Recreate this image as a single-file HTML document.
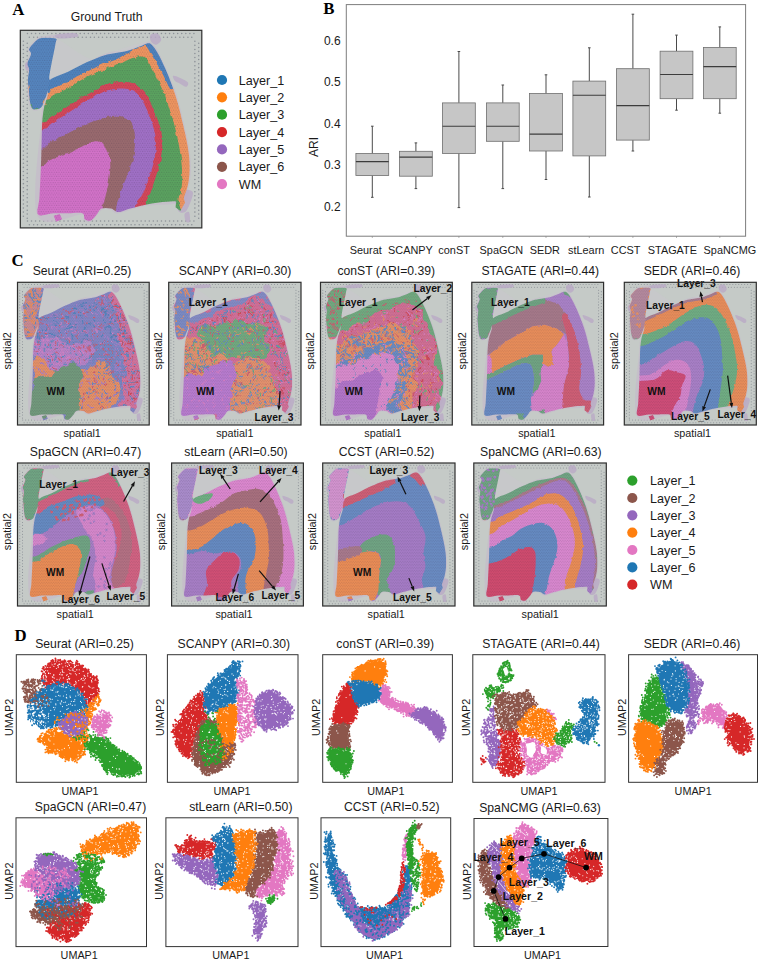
<!DOCTYPE html>
<html><head><meta charset="utf-8"><title>Figure</title>
<style>
html,body{margin:0;padding:0;background:#fff;}
body{width:760px;height:962px;overflow:hidden;font-family:"Liberation Sans",sans-serif;}
svg{display:block;font-family:"Liberation Sans",sans-serif;}
svg text[font-weight="bold"]{font-weight:bold;}
.serif{font-family:"Liberation Serif",serif;}
</style></head><body>
<svg width="760" height="962" viewBox="0 0 760 962">
<defs>
<clipPath id="tis"><path d="M122 210C136.2 193.8 173.7 185.8 200 173C226.3 160.2 255 144.3 280 133C305 121.7 330 111.3 350 105C370 98.7 383.3 98.2 400 95C416.7 91.8 433.3 90.5 450 86C466.7 81.5 486.7 73.2 500 68C513.3 62.8 521.7 56.3 530 55C538.3 53.7 542.5 53.3 550 60C557.5 66.7 565.5 78.3 575 95C584.5 111.7 597 137.5 607 160C617 182.5 626.5 206.7 635 230C643.5 253.3 650.8 275 658 300C665.2 325 672 355 678 380C684 405 689.3 426.7 694 450C698.7 473.3 703.5 496.7 706 520C708.5 543.3 709.8 568.3 709 590C708.2 611.7 704.5 633.3 701 650C697.5 666.7 691.8 679.2 688 690C684.2 700.8 686 710.8 678 715C670 719.2 656.3 714.2 640 715C623.7 715.8 600 717.5 580 720C560 722.5 540 725.8 520 730C500 734.2 478.3 740 460 745C441.7 750 423.3 760 410 760C396.7 760 391.7 747.5 380 745C368.3 742.5 350 740.8 340 745C330 749.2 327.5 761.7 320 770C312.5 778.3 303.3 791.7 295 795C286.7 798.3 275.8 795 270 790C264.2 785 271.7 769.2 260 765C248.3 760.8 220 765 200 765C180 765 160.8 764.2 140 765C119.2 765.8 85 780.8 75 770C65 759.2 78.3 728.3 80 700C81.7 671.7 83.7 630 85 600C86.3 570 87.2 546.7 88 520C88.8 493.3 89.3 463.3 90 440C90.7 416.7 90.3 400 92 380C93.7 360 96.2 338.3 100 320C103.8 301.7 111.3 288.3 115 270C118.7 251.7 107.8 226.2 122 210Z"/><path d="M74 37C81.5 32.8 86.7 31.5 99 31C111.3 30.5 139.8 30.5 148 34C156.2 37.5 149.5 41.2 148 52C146.5 62.8 142.2 83 139 99C135.8 115 132 131.5 129 148C126 164.5 121.5 187.3 121 198C120.5 208.7 126.3 207.3 126 212C125.7 216.7 121 218.3 119 226C117 233.7 117.2 246.2 114 258C110.8 269.8 104.3 286.3 100 297C95.7 307.7 93.2 316.5 88 322C82.8 327.5 75.3 329.2 69 330C62.7 330.8 54.8 332.5 50 327C45.2 321.5 42.5 310.3 40 297C37.5 283.7 36.3 261.8 35 247C33.7 232.2 31.7 222 32 208C32.3 194 37.3 174.5 37 163C36.7 151.5 28.7 149.7 30 139C31.3 128.3 43.8 109 45 99C46.2 89 35.5 86.2 37 79C38.5 71.8 47.8 63 54 56C60.2 49 66.5 41.2 74 37Z"/><path d="M140 775 165 768 175 790 150 800Z"/><path d="M655 700 680 690 690 720 670 755 650 740Z"/></clipPath>
<filter id="soft" x="0" y="0" width="100%" height="100%" filterUnits="userSpaceOnUse" primitiveUnits="userSpaceOnUse"><feGaussianBlur stdDeviation="2.2"/></filter>
<filter id="rough" x="0" y="0" width="760" height="826" filterUnits="userSpaceOnUse" primitiveUnits="userSpaceOnUse"><feTurbulence type="fractalNoise" baseFrequency="0.045" numOctaves="2" seed="3" result="n"/><feDisplacementMap in="SourceGraphic" in2="n" scale="16" xChannelSelector="R" yChannelSelector="G"/></filter>
<filter id="rough2" x="0" y="0" width="760" height="826" filterUnits="userSpaceOnUse" primitiveUnits="userSpaceOnUse"><feTurbulence type="fractalNoise" baseFrequency="0.014" numOctaves="3" seed="8" result="n"/><feDisplacementMap in="SourceGraphic" in2="n" scale="70" xChannelSelector="R" yChannelSelector="G"/></filter>
<clipPath id="fr"><rect x="0" y="0" width="760" height="826"/></clipPath>
<g id="he"><path d="M95.2 318.6C98 326.1 90.8 303.9 87 379.8C83.2 455.8 43.9 709.1 72.2 774.2C100.5 839.2 224.2 766.7 256.6 770C289 773.3 260.3 788.8 266.8 793.8C273.3 798.8 282.9 807.3 295.5 800C308.1 792.7 328.5 758.3 342.4 750C356.3 741.7 367.5 747.5 378.8 750C390.2 752.5 386.8 767.5 410.5 765C434.2 762.5 475.7 742.8 521 734.9C566.3 727 651.4 731.7 682.2 717.7C713 703.8 700.6 672.4 705.9 651.1C711.2 629.9 713.2 612.2 714 590.2C714.8 568.2 713.4 542.7 710.9 519.2C708.4 495.6 706.9 485.9 698.9 449.2C690.9 412.4 672.7 335.6 662.9 298.8C653 262 653.5 262.5 639.6 228.1C625.7 193.8 594 121.5 579.5 92.8C565 64.1 561 62.8 552.6 55.7C544.2 48.6 546.2 45.9 528.9 50.1C511.6 54.4 478.8 72.8 448.7 81.2C418.6 89.5 402.1 80.1 348.6 100.2C295.1 120.3 160.3 213.1 127.7 201.8C95 190.5 157.6 61.8 152.8 32.5C148 3.2 112.4 26 98.8 26C85.2 26 82.5 24.1 71.4 32.7C60.3 41.4 37.4 66.8 32.1 77.9C26.8 88.9 40.8 88.9 39.6 99.1C38.5 109.2 26.3 127.9 25 138.6C23.7 149.3 31.1 145.3 31.9 163.4C32.8 181.6 29.5 224.9 30 247.4C30.5 269.8 32.4 284.2 35.1 298C37.8 311.9 40.4 324.2 46.2 330.3C52.1 336.4 61.9 336.8 70.1 334.9C78.2 332.9 92.4 311.1 95.2 318.6Z" fill="#c5bacb" opacity="0.7"/><path d="M640 190C644 188 661.7 195.3 672 200C682.3 204.7 698.3 212 702 218C705.7 224 699.7 235.3 694 236C688.3 236.7 675.7 226 668 222C660.3 218 652.7 217.3 648 212C643.3 206.7 636 192 640 190Z" fill="#b9a9c6" opacity="0.8"/><path d="M648 690C653 676 677.7 670.3 690 668C702.3 665.7 718.3 667.3 722 676C725.7 684.7 717.3 706 712 720C706.7 734 698.7 754.7 690 760C681.3 765.3 667 763.7 660 752C653 740.3 643 704 648 690Z" fill="#b9a9c6" opacity="0.8"/><path d="M688 768C690 761.3 702.3 755 706 760C709.7 765 712 791.3 710 798C708 804.7 697.7 805 694 800C690.3 795 686 774.7 688 768Z" fill="#b9a9c6" opacity="0.8"/><path d="M545 20C549.5 14.3 567.5 10.7 575 14C582.5 17.3 590.8 32.3 590 40C589.2 47.7 577 58.7 570 60C563 61.3 552.2 54.7 548 48C543.8 41.3 540.5 25.7 545 20Z" fill="#b9a9c6" opacity="0.8"/><path d="M20 140C22.3 133.3 35.7 124.7 40 128C44.3 131.3 48.3 153.3 46 160C43.7 166.7 30.3 171.3 26 168C21.7 164.7 17.7 146.7 20 140Z" fill="#b9a9c6" opacity="0.8"/><path d="M150 18C161.7 14.3 215.7 10.3 230 12C244.3 13.7 247.7 24.3 236 28C224.3 31.7 174.3 35.7 160 34C145.7 32.3 138.3 21.7 150 18Z" fill="#b9a9c6" opacity="0.8"/><path d="M130 60C135 30.8 131.7 30 160 40C188.3 50 256.7 113.7 300 120C343.3 126.3 383.3 89.7 420 78C456.7 66.3 501.7 52.7 520 50C538.3 47.3 543.3 55 530 62C516.7 69 506.7 66.5 440 92C373.3 117.5 181.7 220.3 130 215C78.3 209.7 125 89.2 130 60Z" fill="#c9c6cc" opacity="0.55"/></g>
<pattern id="spots" width="10" height="17.32" patternUnits="userSpaceOnUse"><circle cx="2.5" cy="4.33" r="2.6" fill="#30203a"/><circle cx="7.5" cy="12.99" r="2.6" fill="#30203a"/></pattern>
<path id="fid" d="M30 13h0m8 16h0m9-16h0m9 16h0m8-16h0m8 16h0m9-16h0m9 16h0m8-16h0m8 16h0m9-16h0m9 16h0m8-16h0m8 16h0m9-16h0m9 16h0m8-16h0m8 16h0m9-16h0m9 16h0m8-16h0m8 16h0m9-16h0m9 16h0m8-16h0m8 16h0m9-16h0m9 16h0m8-16h0m8 16h0m9-16h0m9 16h0m8-16h0m8 16h0m9-16h0m9 16h0m8-16h0m8 16h0m9-16h0m9 16h0m8-16h0m8 16h0m9-16h0m9 16h0m8-16h0m8 16h0m9-16h0m9 16h0m8-16h0m8 16h0m9-16h0m9 16h0m8-16h0m8 16h0m9-16h0m9 16h0m8-16h0m8 16h0m9-16h0m9 16h0m8-16h0m8 16h0m9-16h0m9 16h0m8-16h0m8 16h0m9-16h0m9 16h0m8-16h0m8 16h0m9-16h0m9 16h0m8-16h0m8 16h0m9-16h0m9 16h0m8-16h0m8 16h0m9-16h0m9 16h0m8-16h0m8 16h0m9-16h0m20 41h0m-16-8h0m-702 8h0m-16-8h0m0 17h0m0 17h0m16-8h0m0 16h0m702-25h0m0 17h0m16-8h0m0 16h0m0 18h0m-16-9h0m0 17h0m-702-8h0m-16-9h0m0 17h0m0 17h0m0 17h0m16-26h0m0 18h0m702-9h0m0 17h0m16-26h0m0 18h0m0 16h0m0 18h0m-16-9h0m-702-9h0m0 18h0m-16-9h0m0 17h0m0 17h0m16-9h0m0 18h0m702-26h0m0 17h0m16-9h0m0 18h0m0 16h0m-16-8h0m0 17h0m-702-9h0m-16-8h0m0 17h0m0 17h0m0 17h0m16-25h0m0 16h0m702-8h0m0 17h0m16-25h0m0 16h0m0 18h0m0 16h0m-16-8h0m-702-8h0m0 16h0m-16-8h0m0 17h0m0 17h0m16-8h0m0 16h0m702-25h0m0 17h0m16-8h0m0 16h0m0 18h0m-16-9h0m0 17h0m-702-8h0m-16-9h0m0 17h0m0 17h0m0 17h0m16-26h0m0 18h0m702-9h0m0 17h0m16-26h0m0 18h0m0 16h0m0 18h0m-16-9h0m-702-9h0m0 18h0m-16-9h0m0 17h0m0 17h0m16-9h0m0 18h0m702-26h0m0 17h0m16-9h0m0 18h0m0 16h0m-16-8h0m0 17h0m-702-9h0m-16-8h0m0 17h0m0 17h0m0 17h0m16-25h0m0 16h0m702-8h0m0 17h0m16-25h0m0 16h0m0 18h0m0 16h0m-16-8h0m0 17h0m-702-25h0m0 16h0m-16-8h0m0 17h0m0 17h0m16-8h0m0 16h0m702-8h0m16-8h0m0 16h0m0 18h0m0 16h0m-16-25h0m0 17h0m-702-8h0m0 16h0m-16-25h0m0 17h0m0 17h0m0 17h0m16-8h0m702-9h0m0 17h0m16-8h0m0 16h0m0 18h0m-16-9h0m0 17h0m-702-26h0m0 18h0m-16-9h0m0 17h0m0 17h0m16-9h0m0 18h0m702-9h0m16-9h0m0 18h0m0 16h0m0 18h0m-16-26h0m0 17h0m-702-9h0m0 18h0m-16-26h0m0 17h0m0 17h0m0 17h0m16-9h0m702-8h0m0 17h0m16-9h0m0 18h0m0 16h0m-16-8h0m0 17h0m-702-25h0m0 16h0m-16-8h0m0 17h0m16 9h0m1 11h0m17 0h0m17 0h0m17 0h0m17 0h0m17 0h0m17 0h0m17 0h0m17 0h0m17 0h0m17 0h0m17 0h0m17 0h0m17 0h0m17 0h0m17 0h0m17 0h0m17 0h0m17 0h0m17 0h0m17 0h0m17 0h0m17 0h0m17 0h0m17 0h0m17 0h0m17 0h0m17 0h0m17 0h0m17 0h0m17 0h0m17 0h0m17 0h0m17 0h0m17 0h0m17 0h0m17 0h0m17 0h0m17 0h0m17 0h0m17 0h0m17 0h0m20-11h0m-29 27h0m-16 0h0m-18 0h0m-16 0h0m-18 0h0m-16 0h0m-18 0h0m-16 0h0m-18 0h0m-16 0h0m-18 0h0m-16 0h0m-18 0h0m-16 0h0m-18 0h0m-16 0h0m-18 0h0m-16 0h0m-18 0h0m-16 0h0m-18 0h0m-16 0h0m-18 0h0m-16 0h0m-18 0h0m-16 0h0m-18 0h0m-16 0h0m-18 0h0m-16 0h0m-18 0h0m-16 0h0m-18 0h0m-16 0h0m-18 0h0m-16 0h0m-18 0h0m-16 0h0m-18 0h0m-16 0h0m-18 0h0" stroke="#8d9298" stroke-width="6.5" stroke-linecap="round" fill="none"/>
</defs>
<rect width="760" height="962" fill="#fff"/>
<text x="12.3" y="14.6" font-size="16.8" text-anchor="start" font-weight="bold" font-family="Liberation Serif, serif" fill="#000" >A</text>
<text x="323.2" y="13.8" font-size="16.8" text-anchor="start" font-weight="bold" font-family="Liberation Serif, serif" fill="#000" >B</text>
<text x="11.6" y="266.4" font-size="16.8" text-anchor="start" font-weight="bold" font-family="Liberation Serif, serif" fill="#000" >C</text>
<text x="14.5" y="640.6" font-size="16.8" text-anchor="start" font-weight="bold" font-family="Liberation Serif, serif" fill="#000" >D</text>
<text x="106.6" y="21.2" font-size="12.2" text-anchor="middle" fill="#1a1a1a" >Ground Truth</text>
<g transform="translate(20.3 30.3) scale(0.23882 0.23923)">
<rect width="760" height="826" fill="#c5cac7"/>
<use href="#fid"/>
<use href="#he"/>
<g clip-path="url(#tis)">
<g filter="url(#rough)">
<rect x="-100" y="-100" width="960" height="1026" fill="#4f83bd"/>
<rect width="760" height="826" fill="#4f83bd"/>
<path d="M110 262C140.7 259.5 117.7 251 124 247C130.3 243 135.7 243.7 148 238C160.3 232.3 176.5 223.8 198 213C219.5 202.2 252.3 184.7 277 173C301.7 161.3 325.5 151.5 346 143C366.5 134.5 384.3 129.2 400 122C415.7 114.8 428.3 106.3 440 100C451.7 93.7 460 88.7 470 84C480 79.3 490.8 75 500 72C509.2 69 517.5 62.2 525 66C532.5 69.8 537.8 84 545 95C552.2 106 558.8 116.2 568 132C577.2 147.8 590.5 172 600 190C609.5 208 617.5 230.8 625 240C632.5 249.2 605.8 244.2 645 245C684.2 245.8 824.2 135.8 860 245C895.8 354.2 1013.3 790.8 860 900C706.7 1009.2 93.3 1006.3 -60 900C-213.3 793.7 -88.3 368.3 -60 262C-31.7 155.7 79.3 264.5 110 262Z" fill="#ee9560"/>
<path d="M100 312C127.7 309.5 99.5 304 106 297C112.5 290 123.7 279 139 270C154.3 261 175 255.5 198 243C221 230.5 252.3 207.8 277 195C301.7 182.2 329.5 173 346 166C362.5 159 363.7 157.7 376 153C388.3 148.3 404.3 144.2 420 138C435.7 131.8 455.3 120.7 470 116C484.7 111.3 498 108.7 508 110C518 111.3 522.5 115.2 530 124C537.5 132.8 544.3 147 553 163C561.7 179 573 201.3 582 220C591 238.7 599 254.2 607 275C615 295.8 622.8 321.7 630 345C637.2 368.3 644.2 391.7 650 415C655.8 438.3 660.8 461.7 665 485C669.2 508.3 672.8 531.7 675 555C677.2 578.3 678.5 604.2 678 625C677.5 645.8 674.7 665 672 680C669.3 695 663.7 678.3 662 715C660.3 751.7 782.3 869.2 662 900C541.7 930.8 60.3 998 -60 900C-180.3 802 -86.7 410 -60 312C-33.3 214 72.3 314.5 100 312Z" fill="#5aa25f"/>
<path d="M90 385C121.7 380.8 111.7 371.3 130 360C148.3 348.7 178.3 330.3 200 317C221.7 303.7 240 291.7 260 280C280 268.3 301.7 256.2 320 247C338.3 237.8 351.7 230.3 370 225C388.3 219.7 411.7 215 430 215C448.3 215 465.8 218.3 480 225C494.2 231.7 504.2 242.5 515 255C525.8 267.5 535.8 282.5 545 300C554.2 317.5 562.5 340 570 360C577.5 380 585.8 400 590 420C594.2 440 595.8 458.3 595 480C594.2 501.7 590 526.7 585 550C580 573.3 571.7 598.3 565 620C558.3 641.7 551.7 662.5 545 680C538.3 697.5 528.3 688.3 525 725C521.7 761.7 622.5 870.8 525 900C427.5 929.2 37.5 985.8 -60 900C-157.5 814.2 -85 470.8 -60 385C-35 299.2 58.3 389.2 90 385Z" fill="#d4475a"/>
<path d="M92 414C123.7 410 112 401.3 130 390C148 378.7 178.3 360 200 346C221.7 332 240 318.3 260 306C280 293.7 301.7 281.3 320 272C338.3 262.7 351.7 254.8 370 250C388.3 245.2 412.8 242.5 430 243C447.2 243.5 461.2 247 473 253C484.8 259 492.2 267.3 501 279C509.8 290.7 517.8 305.8 526 323C534.2 340.2 543.5 362.3 550 382C556.5 401.7 562.2 421.3 565 441C567.8 460.7 568.3 480.3 567 500C565.7 519.7 562.3 537.7 557 559C551.7 580.3 542.8 606.5 535 628C527.2 649.5 518.3 670.2 510 688C501.7 705.8 489.2 699.7 485 735C480.8 770.3 575.8 872.5 485 900C394.2 927.5 30.8 981 -60 900C-150.8 819 -85.3 495 -60 414C-34.7 333 60.3 418 92 414Z" fill="#a06fc6"/>
<path d="M88 495C119.7 490 111.3 475.8 130 465C148.7 454.2 178.3 440.8 200 430C221.7 419.2 240 409.2 260 400C280 390.8 301.7 381.7 320 375C338.3 368.3 353.3 362.8 370 360C386.7 357.2 405.8 355.5 420 358C434.2 360.5 445.8 366.3 455 375C464.2 383.7 470.8 395.8 475 410C479.2 424.2 480 441.7 480 460C480 478.3 479.2 498.3 475 520C470.8 541.7 462.5 568.3 455 590C447.5 611.7 437.5 630 430 650C422.5 670 415 691.7 410 710C405 728.3 401.7 728.3 400 760C398.3 791.7 476.7 876.7 400 900C323.3 923.3 16.7 967.5 -60 900C-136.7 832.5 -84.7 562.5 -60 495C-35.3 427.5 56.3 500 88 495Z" fill="#996a6e"/>
<path d="M85 565C115 561.7 104.2 552.5 120 545C135.8 537.5 160 528.3 180 520C200 511.7 221.7 503.3 240 495C258.3 486.7 275 475 290 470C305 465 319.2 461.7 330 465C340.8 468.3 347.5 477.5 355 490C362.5 502.5 371.7 521.7 375 540C378.3 558.3 376.7 580 375 600C373.3 620 369.2 640 365 660C360.8 680 353.3 705.8 350 720C346.7 734.2 345.8 715 345 745C344.2 775 412.5 874.2 345 900C277.5 925.8 7.5 955.8 -60 900C-127.5 844.2 -84.2 620.8 -60 565C-35.8 509.2 55 568.3 85 565Z" fill="#d272c8"/>
<path d="M74 37C81.5 32.8 86.7 31.5 99 31C111.3 30.5 139.8 30.5 148 34C156.2 37.5 149.5 41.2 148 52C146.5 62.8 142.2 83 139 99C135.8 115 132 131.5 129 148C126 164.5 121.5 187.3 121 198C120.5 208.7 126.3 207.3 126 212C125.7 216.7 121 218.3 119 226C117 233.7 117.2 246.2 114 258C110.8 269.8 104.3 286.3 100 297C95.7 307.7 93.2 316.5 88 322C82.8 327.5 75.3 329.2 69 330C62.7 330.8 54.8 332.5 50 327C45.2 321.5 42.5 310.3 40 297C37.5 283.7 36.3 261.8 35 247C33.7 232.2 31.7 222 32 208C32.3 194 37.3 174.5 37 163C36.7 151.5 28.7 149.7 30 139C31.3 128.3 43.8 109 45 99C46.2 89 35.5 86.2 37 79C38.5 71.8 47.8 63 54 56C60.2 49 66.5 41.2 74 37Z" fill="#5585be"/>
</g>
<rect width="760" height="826" fill="url(#spots)" opacity="0.22"/>
</g>
</g>
<rect x="20.3" y="30.3" width="181.5" height="197.6" fill="none" stroke="#2e2e2e" stroke-width="1.2"/>
<circle cx="222" cy="80" r="5.1" fill="#1f77b4"/>
<text x="238.8" y="84.5" font-size="12.6" text-anchor="start" fill="#1a1a1a" >Layer_1</text>
<circle cx="222" cy="97.3" r="5.1" fill="#ff7f0e"/>
<text x="238.8" y="101.8" font-size="12.6" text-anchor="start" fill="#1a1a1a" >Layer_2</text>
<circle cx="222" cy="114.7" r="5.1" fill="#2ca02c"/>
<text x="238.8" y="119.2" font-size="12.6" text-anchor="start" fill="#1a1a1a" >Layer_3</text>
<circle cx="222" cy="132.1" r="5.1" fill="#d62728"/>
<text x="238.8" y="136.6" font-size="12.6" text-anchor="start" fill="#1a1a1a" >Layer_4</text>
<circle cx="222" cy="149.4" r="5.1" fill="#9467bd"/>
<text x="238.8" y="153.9" font-size="12.6" text-anchor="start" fill="#1a1a1a" >Layer_5</text>
<circle cx="222" cy="166.8" r="5.1" fill="#8c564b"/>
<text x="238.8" y="171.2" font-size="12.6" text-anchor="start" fill="#1a1a1a" >Layer_6</text>
<circle cx="222" cy="184.1" r="5.1" fill="#e377c2"/>
<text x="238.8" y="188.6" font-size="12.6" text-anchor="start" fill="#1a1a1a" >WM</text>
<rect x="346.3" y="4.6" width="399.3" height="231.6" fill="#fff" stroke="#7d7d7d" stroke-width="1"/>
<text x="340.6" y="210.7" font-size="12" text-anchor="end" fill="#1a1a1a" >0.2</text>
<text x="340.6" y="169.2" font-size="12" text-anchor="end" fill="#1a1a1a" >0.3</text>
<text x="340.6" y="127.8" font-size="12" text-anchor="end" fill="#1a1a1a" >0.4</text>
<text x="340.6" y="86.3" font-size="12" text-anchor="end" fill="#1a1a1a" >0.5</text>
<text x="340.6" y="44.9" font-size="12" text-anchor="end" fill="#1a1a1a" >0.6</text>
<text x="317.6" y="147" font-size="12" text-anchor="middle" transform="rotate(-90 317.6 147)" fill="#1a1a1a" >ARI</text>
<path d="M372.3 126.2V153.5M372.3 175.5V197.3M371 126.2h2.6M371 197.3h2.6" stroke="#4a4a4a" stroke-width="1" fill="none"/>
<rect x="355.9" y="153.5" width="32.8" height="22" fill="#c6c6c6" stroke="#6e6e6e" stroke-width="0.8"/>
<path d="M355.9 161.6h32.8" stroke="#3c3c3c" stroke-width="1.1"/>
<path d="M372.3 236.2v1.6" stroke="#8a8a8a" stroke-width="0.8"/>
<path d="M415.9 142.9V151.3M415.9 176.2V188.6M414.6 142.9h2.6M414.6 188.6h2.6" stroke="#4a4a4a" stroke-width="1" fill="none"/>
<rect x="399.5" y="151.3" width="32.8" height="24.9" fill="#c6c6c6" stroke="#6e6e6e" stroke-width="0.8"/>
<path d="M399.5 157.1h32.8" stroke="#3c3c3c" stroke-width="1.1"/>
<path d="M415.9 236.2v1.6" stroke="#8a8a8a" stroke-width="0.8"/>
<path d="M458.9 51.5V102.9M458.9 153.5V207.6M457.6 51.5h2.6M457.6 207.6h2.6" stroke="#4a4a4a" stroke-width="1" fill="none"/>
<rect x="442.5" y="102.9" width="32.8" height="50.6" fill="#c6c6c6" stroke="#6e6e6e" stroke-width="0.8"/>
<path d="M442.5 126.2h32.8" stroke="#3c3c3c" stroke-width="1.1"/>
<path d="M458.9 236.2v1.6" stroke="#8a8a8a" stroke-width="0.8"/>
<path d="M502.8 85V102.9M502.8 141.3V188.6M501.5 85h2.6M501.5 188.6h2.6" stroke="#4a4a4a" stroke-width="1" fill="none"/>
<rect x="486.4" y="102.9" width="32.8" height="38.4" fill="#c6c6c6" stroke="#6e6e6e" stroke-width="0.8"/>
<path d="M486.4 126.2h32.8" stroke="#3c3c3c" stroke-width="1.1"/>
<path d="M502.8 236.2v1.6" stroke="#8a8a8a" stroke-width="0.8"/>
<path d="M546 74.8V93.5M546 151V179.5M544.7 74.8h2.6M544.7 179.5h2.6" stroke="#4a4a4a" stroke-width="1" fill="none"/>
<rect x="529.6" y="93.5" width="32.8" height="57.5" fill="#c6c6c6" stroke="#6e6e6e" stroke-width="0.8"/>
<path d="M529.6 134.1h32.8" stroke="#3c3c3c" stroke-width="1.1"/>
<path d="M546 236.2v1.6" stroke="#8a8a8a" stroke-width="0.8"/>
<path d="M589.3 47.8V81.1M589.3 155.9V197M588 47.8h2.6M588 197h2.6" stroke="#4a4a4a" stroke-width="1" fill="none"/>
<rect x="572.9" y="81.1" width="32.8" height="74.8" fill="#c6c6c6" stroke="#6e6e6e" stroke-width="0.8"/>
<path d="M572.9 95.3h32.8" stroke="#3c3c3c" stroke-width="1.1"/>
<path d="M589.3 236.2v1.6" stroke="#8a8a8a" stroke-width="0.8"/>
<path d="M632.9 14.2V68.7M632.9 140.1V151M631.6 14.2h2.6M631.6 151h2.6" stroke="#4a4a4a" stroke-width="1" fill="none"/>
<rect x="616.5" y="68.7" width="32.8" height="71.4" fill="#c6c6c6" stroke="#6e6e6e" stroke-width="0.8"/>
<path d="M616.5 105.6h32.8" stroke="#3c3c3c" stroke-width="1.1"/>
<path d="M632.9 236.2v1.6" stroke="#8a8a8a" stroke-width="0.8"/>
<path d="M676.5 35.1V51.2M676.5 98.7V110.2M675.2 35.1h2.6M675.2 110.2h2.6" stroke="#4a4a4a" stroke-width="1" fill="none"/>
<rect x="660.1" y="51.2" width="32.8" height="47.5" fill="#c6c6c6" stroke="#6e6e6e" stroke-width="0.8"/>
<path d="M660.1 74.5h32.8" stroke="#3c3c3c" stroke-width="1.1"/>
<path d="M676.5 236.2v1.6" stroke="#8a8a8a" stroke-width="0.8"/>
<path d="M719.8 26.9V47.5M719.8 98.7V113.2M718.5 26.9h2.6M718.5 113.2h2.6" stroke="#4a4a4a" stroke-width="1" fill="none"/>
<rect x="703.4" y="47.5" width="32.8" height="51.2" fill="#c6c6c6" stroke="#6e6e6e" stroke-width="0.8"/>
<path d="M703.4 66.6h32.8" stroke="#3c3c3c" stroke-width="1.1"/>
<path d="M719.8 236.2v1.6" stroke="#8a8a8a" stroke-width="0.8"/>
<text x="365.7" y="253.8" font-size="10.9" text-anchor="middle" fill="#1a1a1a" >Seurat</text>
<text x="410.4" y="253.8" font-size="10.9" text-anchor="middle" fill="#1a1a1a" >SCANPY</text>
<text x="454.1" y="253.8" font-size="10.9" text-anchor="middle" fill="#1a1a1a" >conST</text>
<text x="501.4" y="253.8" font-size="10.9" text-anchor="middle" fill="#1a1a1a" >SpaGCN</text>
<text x="544.8" y="253.8" font-size="10.9" text-anchor="middle" fill="#1a1a1a" >SEDR</text>
<text x="586.2" y="253.8" font-size="10.9" text-anchor="middle" fill="#1a1a1a" >stLearn</text>
<text x="625.7" y="253.8" font-size="10.9" text-anchor="middle" fill="#1a1a1a" >CCST</text>
<text x="672.4" y="253.8" font-size="10.9" text-anchor="middle" fill="#1a1a1a" >STAGATE</text>
<text x="729.9" y="253.8" font-size="10.9" text-anchor="middle" fill="#1a1a1a" >SpaNCMG</text>
<text x="82" y="275.4" font-size="12.2" text-anchor="middle" fill="#1a1a1a" >Seurat (ARI=0.25)</text>
<g transform="translate(17.5 282.3) scale(0.17329 0.17276)">
<rect width="760" height="826" fill="#c5cac7"/>
<use href="#fid"/>
<use href="#he"/>
<g clip-path="url(#tis)">
<g filter="url(#rough2)">
<rect x="-100" y="-100" width="960" height="1026" fill="#8487c5"/>
<rect width="760" height="826" fill="#8487c5"/>
<path d="M95 330C112.5 310 165.8 325 200 330C234.2 335 263.3 357.5 300 360C336.7 362.5 396.7 338.3 420 345C443.3 351.7 441.7 379.2 440 400C438.3 420.8 431.7 458.3 410 470C388.3 481.7 345 463.3 310 470C275 476.7 230 515 200 510C170 505 147.5 450 130 440C112.5 430 100.8 468.3 95 450C89.2 431.7 77.5 350 95 330Z" fill="#b784c8"/>
<path d="M540 50C531.7 65 561.7 135 570 180C578.3 225 583.3 275 590 320C596.7 365 605.8 410 610 450C614.2 490 616.7 526.7 615 560C613.3 593.3 605 622.5 600 650C595 677.5 563.3 712.5 585 725C606.7 737.5 705 762.5 730 725C755 687.5 740 570.8 735 500C730 429.2 719.2 368.3 700 300C680.8 231.7 646.7 131.7 620 90C593.3 48.3 548.3 35 540 50Z" fill="#d3749e"/>
<path d="M430 350C443.3 338.3 494.2 325 520 330C545.8 335 570.8 358.3 585 380C599.2 401.7 600.5 430 605 460C609.5 490 612.8 530 612 560C611.2 590 607 640 600 640C593 640 583.3 585 570 560C556.7 535 536.7 505 520 490C503.3 475 486.7 473.3 470 470C453.3 466.7 425 481.7 420 470C415 458.3 438.3 420 440 400C441.7 380 416.7 361.7 430 350Z" fill="#7988c4"/>
<path d="M95 570C96.5 545.8 91.2 471.7 97 450C102.8 428.3 117.8 435 130 440C142.2 445 158.3 467.5 170 480C181.7 492.5 206.7 504.2 200 515C193.3 525.8 148.7 531.7 130 545C111.3 558.3 93.8 590.8 88 595C82.2 599.2 93.5 594.2 95 570Z" fill="#e59168"/>
<path d="M370 520C380 502.5 401.7 503.7 420 495C438.3 486.3 461.7 467.2 480 468C498.3 468.8 515.8 484.7 530 500C544.2 515.3 555 539.2 565 560C575 580.8 590 601.7 590 625C590 648.3 580 681.7 565 700C550 718.3 524.2 725 500 735C475.8 745 445 757.5 420 760C395 762.5 360 776.7 350 750C340 723.3 356.7 638.3 360 600C363.3 561.7 360 537.5 370 520Z" fill="#e59168"/>
<path d="M74 37C81.5 32.8 86.7 31.5 99 31C111.3 30.5 139.8 30.5 148 34C156.2 37.5 149.5 41.2 148 52C146.5 62.8 142.2 83 139 99C135.8 115 132 131.5 129 148C126 164.5 121.5 187.3 121 198C120.5 208.7 126.3 207.3 126 212C125.7 216.7 121 218.3 119 226C117 233.7 117.2 246.2 114 258C110.8 269.8 104.3 286.3 100 297C95.7 307.7 93.2 316.5 88 322C82.8 327.5 75.3 329.2 69 330C62.7 330.8 54.8 332.5 50 327C45.2 321.5 42.5 310.3 40 297C37.5 283.7 36.3 261.8 35 247C33.7 232.2 31.7 222 32 208C32.3 194 37.3 174.5 37 163C36.7 151.5 28.7 149.7 30 139C31.3 128.3 43.8 109 45 99C46.2 89 35.5 86.2 37 79C38.5 71.8 47.8 63 54 56C60.2 49 66.5 41.2 74 37Z" fill="#cb8b93"/>
<g filter="url(#soft)">
<path d="M501 84h0m24-6h0m12-16h0m16 50h0m-11-6h0m-12 0h0m-34-14h0m-2 24h0m-8-26h0m-18 15h0m-15 0h0m-7 7h0m-33 22h0m64-10h0m6 12h0m8-12h0m17 8h0m5 5h0m18-6h0m45-8h0m-12 52h0m-41-14h0m-12-3h0m-18 17h0m-23-19h0m-12-1h0m-32 20h0m-1-14h0m-6 1h0m-14-4h0m-1 21h0m-9-9h0m-68 2h0m-3 3h0m-2-22h0m-7 21h0m-6-3h0m-2 6h0m-9-12h0m-16-13h0m-15 22h0m-24-16h0m-17 16h0m-16 1h0m-76 30h0m10-3h0m15 1h0m14-3h0m40-13h0m7 9h0m12-4h0m3 14h0m4-18h0m14 10h0m10-5h0m21 3h0m10 6h0m19-16h0m52-1h0m23 8h0m9-10h0m8 18h0m28-9h0m42 9h0m7-17h0m1 3h0m20-2h0m32 23h0m1-27h0m11 22h0m9-14h0m47 50h0m-26-29h0m0 7h0m-12 1h0m-2-1h0m-16 18h0m-206-22h0m-2-3h0m-8 0h0m-20 0h0m-22 18h0m-14-7h0m-9-10h0m-1 11h0m-16 17h0m-94 0h0m-16-22h0m-4 17h0m-17 16h0m46 10h0m3-10h0m11 19h0m8-14h0m38 5h0m17 9h0m74-14h0m13-14h0m68 1h0m16 6h0m20-7h0m22 22h0m2-21h0m16 22h0m12-14h0m5-7h0m3 22h0m9-12h0m29-2h0m6-3h0m86 4h0m4 19h0m-25 19h0m-1-16h0m-32 22h0m-80-2h0m-32-3h0m-25-9h0m-33 4h0m-9-4h0m-43 4h0m-4 13h0m-6-28h0m-5 14h0m-11 8h0m-25 1h0m-60-14h0m-2-7h0m-39 26h0m-6-23h0m-10 21h0m-7-2h0m-5-14h0m-47 13h0m-1 5h0m-7 3h0m10 27h0m4-26h0m4 15h0m5-18h0m13 16h0m67 3h0m2 3h0m24 5h0m11-1h0m2-15h0m19-10h0m1 14h0m26 14h0m40-16h0m41 13h0m24 0h0m27-4h0m4-20h0m4 2h0m69 25h0m54-5h0m8-15h0m8-5h0m29 23h0m6 9h0m0 4h0m-143 1h0m-52-11h0m-4 4h0m-14 5h0m-5 1h0m-11-7h0m-38-3h0m-62 2h0" stroke="#cf5c71" stroke-width="9" stroke-linecap="round" fill="none"/>
<path d="M509 86h0m21-9h0m23 2h0m-5 16h0m-36 14h0m-2 10h0m-2-17h0m-132 10h0m-40 24h0m5-7h0m24 9h0m19-13h0m11 14h0m3-2h0m50 5h0m41-13h0m13 4h0m1 15h0m39-10h0m2 5h0m17-3h0m29 3h0m7 19h0m-88 2h0m-25 12h0m-4-7h0m-79-15h0m-17 0h0m-18 12h0m-20 5h0m-116 4h0m-9-6h0m-5 1h0m-29 14h0m2 5h0m13-8h0m96 11h0m29-12h0m31 23h0m10-10h0m29 2h0m8 2h0m45-13h0m24-3h0m4 8h0m38 6h0m76-3h0m24 31h0m-6 5h0m-1-16h0m-11 25h0m-5-2h0m-25-10h0m-1 9h0m-12-18h0m-2 5h0m-21 3h0m-69-6h0m-19 3h0m-8 13h0m-58 1h0m-3-19h0m-39 12h0m-11-10h0m-36 18h0m-123 3h0m-21 1h0m17 20h0m10-16h0m13 21h0m10-20h0m25 17h0m1-19h0m7 12h0m39-7h0m14-4h0m4 22h0m57-16h0m107 2h0m12 10h0m10-6h0m18 13h0m13-7h0m8-7h0m12 14h0m17-16h0m91 10h0m-6 16h0m-1-4h0m-62 14h0m-11-19h0m-43 3h0m-21 11h0m-5-13h0m-10 15h0m-28-16h0m-4 10h0m0 6h0m-30-8h0m-10 7h0m-5 8h0m-15-8h0m-2 5h0m-7-18h0m-23 16h0m0 9h0m-11-27h0m-2 4h0m-20 11h0m-29 12h0m-17-4h0m-16-19h0m-25-3h0m-16 3h0m-28 6h0m-27-6h0m-2 7h0m-15-8h0m-2 18h0m-26 9h0m11 20h0m6 6h0m52-11h0m21-1h0m33-7h0m3-7h0m12 21h0m20-6h0m5 2h0m12 11h0m35-26h0m2-2h0m68 26h0m9-24h0m14 7h0m21 3h0m72-7h0m21 11h0m7 10h0m16-2h0m17 4h0m28-4h0m5 19h0m-19 11h0m-79-18h0m-85 0h0m-2 1h0m-17-7h0m-16 4h0m-14 1h0" stroke="#a981c8" stroke-width="11" stroke-linecap="round" fill="none"/>
<path d="M533 81h0m26-6h0m-8 28h0m-35 14h0m-68-27h0m-70 23h0m-13 6h0m-34 16h0m33-1h0m55 10h0m26-23h0m0 18h0m23-10h0m37 14h0m39 3h0m11-9h0m32 18h0m-36 15h0m-7-4h0m-27 9h0m-10-10h0m-7-9h0m-1 13h0m-24-8h0m-20 7h0m-51 7h0m-13-23h0m-14 4h0m-39 4h0m-7-4h0m-124 14h0m-68 35h0m13 1h0m60-22h0m6 11h0m0 3h0m18-4h0m40 2h0m9 10h0m12-1h0m38-16h0m25 17h0m15-17h0m68 16h0m57-12h0m1-2h0m9-3h0m9 12h0m61-16h0m25 15h0m-14 11h0m-4 0h0m-24 10h0m-18-1h0m-9 17h0m-25 1h0m-15-17h0m-48 19h0m-69-10h0m-4-18h0m-76 5h0m-1 20h0m-72-3h0m-18-9h0m-85-1h0m-8 4h0m49 39h0m20-8h0m35-8h0m66 14h0m10-7h0m5 1h0m17 11h0m15-22h0m56 16h0m16-9h0m23-4h0m7-7h0m14 13h0m60 3h0m22 4h0m92-5h0m4 20h0m-6 0h0m-15-3h0m-14 7h0m-8-10h0m-8 25h0m-6-4h0m-25 3h0m-5-7h0m-10-13h0m-10-1h0m-139 4h0m-72 15h0m-32-9h0m-35-1h0m-5 0h0m-11 1h0m-79-1h0m-5-12h0m-36 37h0m5 4h0m13 4h0m30 9h0m23-20h0m26 2h0m12 17h0m97-10h0m65 5h0m14 7h0m6-22h0m30 20h0m52-24h0m78 20h0m4-11h0m4 12h0m7-15h0m13 1h0m41 0h0m-18 41h0m-15-14h0m-12 5h0m-17-8h0m-72 7h0m-5-2h0m-82-1h0m-44-2h0m-31 5h0m-38 8h0" stroke="#5185be" stroke-width="11" stroke-linecap="round" fill="none"/>
<path d="M490 85h0m19-1h0m-40 26h0m-15-2h0m-25 18h0m166 42h0m-83-13h0m-31 23h0m-54 1h0m-212 8h0m19 18h0m32-17h0m115-4h0m150 17h0m74 7h0m13 22h0m-166 6h0m-171-10h0m-34 4h0m-38 35h0m51 0h0m4-25h0m46 12h0m162-10h0m140 55h0m-3-6h0m-56-1h0m-92-20h0m-71 8h0m-17 5h0m-53 8h0m-9 5h0m-13-19h0m-19 2h0m-38-2h0m-70 10h0m-55 6h0m56 17h0m3 6h0m9 0h0m21 12h0m64-15h0m28 11h0m302 18h0m-32 11h0m-90-19h0m-12 5h0m-1-3h0m-86 6h0m-113-12h0" stroke="#da85c8" stroke-width="9" stroke-linecap="round" fill="none"/>
<path d="M248 355h0m-4-11h0m-29-3h0m-37-1h0m-8 19h0m-20-21h0m-12-8h0m-12 14h0m-8 2h0m-9-2h0m-8 4h0m-3-7h0m21 42h0m10 3h0m11-7h0m6-12h0m12-4h0m32 21h0m16 0h0m33 2h0m29-7h0m20-15h0m6 12h0m5 12h0m24-21h0m3 10h0m1 0h0m11 0h0m2-6h0m9 18h0m12-1h0m65 31h0m-20-10h0m-19-9h0m0 3h0m-8-8h0m-15 9h0m-45-9h0m-14 20h0m-8-21h0m-20 2h0m-8 12h0m-7-10h0m-7 12h0m-19-18h0m-34 17h0m-9 10h0m-7-10h0m-11 4h0m-26-16h0m-18-4h0m-10 9h0m-15-12h0m27 34h0m2 3h0m23 7h0m8 5h0m0 5h0m6-6h0m2-1h0m11 4h0m6-20h0m9 2h0m17 23h0m1 0h0m19-2h0m34-13h0m17 3h0m5 1h0m40-12h0m0 2h0m12 13h0m3-3h0m53 4h0m-31 22h0m-14-1h0m-62 1h0m-30 5h0m-3-13h0m-16 2h0m-2 22h0m-4-10h0m-7 2h0m-5-9h0m-5 14h0m-18-11h0m-7 20h0m6 17h0m11-11h0m1 2h0" stroke="#dc83c7" stroke-width="9" stroke-linecap="round" fill="none"/>
<path d="M203 350h0m-11-3h0m-2 12h0m-62-14h0m-2-11h0m-3 22h0m-8-25h0m-17 32h0m22 17h0m13-2h0m28 8h0m5-21h0m12 9h0m11 2h0m12-9h0m33-3h0m2 21h0m24-24h0m4 7h0m6 16h0m1-1h0m12-18h0m16 21h0m19-25h0m4 26h0m10-26h0m19 18h0m65-4h0m-45 26h0m-41 10h0m-6 6h0m-26 2h0m-3-24h0m-68 22h0m-4-6h0m-108 7h0m-19-27h0m3 48h0m22-12h0m29-3h0m4 21h0m2 1h0m5-1h0m6 2h0m2-22h0m6 21h0m31-25h0m10 15h0m1 9h0m5-13h0m8 4h0m19-8h0m22-8h0m82 11h0m4 15h0m19-13h0m10-12h0m14 17h0m13-11h0m6 3h0m7-4h0m-65 35h0m-53 7h0m-33 1h0m-44-9h0m-37 6h0m-5 9h0m-2-12h0m-2 12h0m52 14h0" stroke="#658bc2" stroke-width="10" stroke-linecap="round" fill="none"/>
<path d="M220 358h0m-102-16h0m-20 5h0m20 36h0m69-19h0m44 22h0m21-12h0m11 11h0m67-23h0m8 19h0m17 6h0m10-7h0m8-15h0m14 4h0m7 9h0m20 3h0m13 35h0m-1-1h0m-12-24h0m-16 5h0m-41 9h0m-41-4h0m-76 9h0m-10 2h0m-55-5h0m-63-11h0m-13 6h0m31 21h0m27 16h0m14-3h0m18-12h0m9 16h0m0 5h0m39-10h0m4 14h0m4-4h0m19-1h0m1-15h0m53 9h0m29-1h0m14 10h0m15-24h0m20 18h0m30-13h0m-81 24h0m-47 1h0m-132 6h0m26 31h0m21-2h0m2 12h0" stroke="#cf5c71" stroke-width="9" stroke-linecap="round" fill="none"/>
<path d="M563 94h0m-5 1h0m14 35h0m6 3h0m1 1h0m28 30h0m-35-5h0m48 47h0m1 14h0m-17-4h0m-11 17h0m-3 6h0m-4-6h0m-8-1h0m23 30h0m9-8h0m19-14h0m8 48h0m-8 2h0m-8-1h0m-15-4h0m-2 2h0m-13 29h0m39-2h0m3 8h0m4 7h0m24 19h0m-2-10h0m-12 15h0m-2-7h0m-10-8h0m-21 4h0m-2 7h0m44 19h0m1 6h0m20 13h0m-4 10h0m-9 10h0m-7-5h0m-31 15h0m-16-8h0m-3 13h0m18 9h0m0 17h0m5-19h0m10-1h0m0 6h0m39-1h0m16 26h0m-20-3h0m-9 19h0m-29-15h0m-11 19h0m-11 6h0m1 3h0m17-7h0m16 25h0m4-5h0m52 23h0m-6 1h0m-8-8h0m-4 3h0m-5 12h0m-16-6h0m-6 7h0m-13-10h0m0 16h0m-22-17h0m19 38h0m36-20h0m2 20h0m25 14h0m0 18h0m-3-18h0m-23 3h0m-12 1h0m-9 6h0m-5-4h0m-15 15h0m-8 2h0m-21 2h0m-6 20h0m7-8h0m15-11h0m28 22h0m1-22h0m3 22h0m17-7h0m20 1h0m0 12h0m4-20h0m0 16h0m3 5h0m-10 12h0m0 14h0m-52-2h0m-3-6h0m-14-16h0m-23 58h0m45-24h0m6 7h0m5-6h0m11-2h0m4 48h0m-48-2h0m0 5h0m-9-17h0m-10-4h0m-3 7h0m-3-3h0" stroke="#658bc2" stroke-width="10" stroke-linecap="round" fill="none"/>
<path d="M569 88h0m4 31h0m-7-23h0m-12 8h0m7 34h0m9 3h0m10 2h0m3-6h0m22 41h0m-32 23h0m9-13h0m34 7h0m4 11h0m-3 13h0m-21 12h0m-1-9h0m-13-12h0m7 38h0m3 21h0m2-22h0m16 7h0m11 8h0m15 32h0m-16-1h0m-4-6h0m-9-10h0m-4 20h0m4 16h0m27 4h0m3 5h0m6-7h0m3 14h0m-4 13h0m0 12h0m-12-17h0m-17 16h0m-5-3h0m-5-15h0m-5 26h0m30 2h0m4 25h0m1-8h0m5 3h0m30 17h0m-11-2h0m-32 15h0m-19 9h0m5 27h0m7 0h0m38-13h0m18-11h0m10 4h0m4 9h0m0 39h0m-2 1h0m-1-7h0m-26 0h0m-15-8h0m-18 21h0m10 11h0m28 3h0m22-17h0m8 7h0m12 45h0m-8-6h0m-5-17h0m-5 27h0m-14-27h0m-2 14h0m-4-7h0m-38 21h0m-5-18h0m-10 40h0m11-20h0m24 9h0m17 10h0m34-3h0m1-9h0m4 8h0m0 38h0m-27-11h0m-4 4h0m-5-2h0m-10 1h0m-18-6h0m-1 2h0m-29 6h0m5 27h0m15 1h0m16-8h0m12-7h0m4 16h0m7 13h0m20-22h0m13 14h0m-10 33h0m-18 0h0m-3 2h0m-20-12h0m-11-5h0m-1 4h0m-6 2h0m-20 42h0m10-14h0m32-7h0m4 20h0m4-10h0m4 35h0m-11-12h0m-2 2h0" stroke="#d14d5c" stroke-width="9" stroke-linecap="round" fill="none"/>
<path d="M557 87h0m7-3h0m4 29h0m-7 14h0m19 33h0m-6 17h0m-7-19h0m31 46h0m26 7h0m-19 42h0m9 26h0m-15 5h0m-8 27h0m1-2h0m42 4h0m4 3h0m6-11h0m14 22h0m-1 15h0m-27-7h0m-13 27h0m20 7h0m8 7h0m22-6h0m3 15h0m-24 24h0m-21 13h0m33-1h0m20 14h0m2 14h0m7-18h0m-35 45h0m-14-4h0m-25-6h0m15 14h0m36 0h0m30 3h0m-16 27h0m-2 19h0m-21-2h0m-34 26h0m17 12h0m24-13h0m38-5h0m-90 64h0m9-7h0m3-3h0m21 4h0m7 2h0m23-3h0m33-4h0m-21 55h0m-10-4h0m0 7h0m-46-19h0m-30 20h0m55 25h0m28 20h0m-8 10h0m-1-10h0" stroke="#a981c8" stroke-width="10" stroke-linecap="round" fill="none"/>
<path d="M532 344h0m-27 1h0m-2-4h0m-6-4h0m-11 7h0m-12 3h0m-5 2h0m-22-2h0m-6 8h0m-4 4h0m0 9h0m9 18h0m34-12h0m9 5h0m1 5h0m13-15h0m20 2h0m16 7h0m50 20h0m-9 18h0m-12-1h0m-10-9h0m-7-6h0m-24 4h0m-8-13h0m0 1h0m-19 19h0m-2-12h0m0 12h0m-59 10h0m42 4h0m17-3h0m6-2h0m22 28h0m5-25h0m11 4h0m3 15h0m12-1h0m7-19h0m23 9h0m-22 38h0m-19-18h0m-10 18h0m-19 3h0m-6-14h0m-2 1h0m-39 11h0m51 10h0m44 3h0m39 27h0m-36 8h0m-7 3h0m-8 4h0m27 19h0m3 8h0m1 1h0m8-13h0m-4 32h0m-2 7h0m19 28h0" stroke="#cf5c71" stroke-width="9" stroke-linecap="round" fill="none"/>
<path d="M554 357h0m-21-6h0m-7 0h0m-1-16h0m-12 18h0m-10-18h0m-8 10h0m-39 41h0m18-7h0m3-6h0m5-8h0m28 24h0m48-8h0m8-15h0m6 17h0m0 12h0m-5 24h0m-3-8h0m-11-19h0m-5 26h0m-5-14h0m-42 3h0m-3 5h0m-24 2h0m-41 27h0m63 5h0m23-7h0m34-15h0m6-2h0m39 18h0m-5 18h0m-4 12h0m-2-16h0m-2 6h0m-11 7h0m-5-9h0m-79-6h0m-12 2h0m-19 10h0m-29-2h0m102 43h0m2-1h0m21-20h0m4 6h0m1 4h0m4 7h0m10-8h0m0 1h0m9 4h0m6-4h0m9 36h0m-3-19h0m-15 3h0m-37 1h0m36 38h0m22-12h0m1 16h0m-17 29h0m10 22h0m3 1h0" stroke="#a981c8" stroke-width="10" stroke-linecap="round" fill="none"/>
<path d="M409 505h0m54-13h0m12 8h0m54 12h0m-1 17h0m-4-18h0m-63 23h0m-42-20h0m-3 11h0m-12-9h0m-25 38h0m26 11h0m38-23h0m0 19h0m36 1h0m25-12h0m4 16h0m56 6h0m-58 13h0m-5 11h0m-6-11h0m-14-8h0m-5 2h0m-5 5h0m-19-7h0m-2 0h0m-7-2h0m-7 14h0m-14-7h0m-31 16h0m-15-26h0m-1 26h0m-11 28h0m16-11h0m39 13h0m48-23h0m82 0h0m7 21h0m1-4h0m1 1h0m13 20h0m-2 15h0m-1-8h0m-43-5h0m-16-11h0m-21 19h0m-11 0h0m-69-7h0m-24 10h0m-18 2h0m23 7h0m7 20h0m18-19h0m24-1h0m20 18h0m6-2h0m9 1h0m14-17h0m20-1h0m10-2h0m12-2h0m-3 34h0m-12-2h0m-3 23h0m-92 2h0m-22-25h0m-7 16h0m1 14h0m65 24h0m7-5h0" stroke="#a981c8" stroke-width="10" stroke-linecap="round" fill="none"/>
<path d="M449 496h0m19-16h0m15 21h0m17-4h0m3-11h0m8 3h0m14 18h0m12 27h0m-18-10h0m-15-10h0m-16 10h0m-18-9h0m-88 43h0m82-17h0m48 10h0m37-10h0m4 22h0m-6 34h0m-3-20h0m-104 1h0m-20 30h0m35 10h0m33 9h0m67-9h0m21 22h0m-31 18h0m-22-6h0m-2 4h0m-10-18h0m-32 16h0m-27 0h0m-18-15h0m-9 1h0m-23-4h0m-31 22h0m-5 7h0m15 15h0m32-12h0m80 20h0m27-4h0m4-24h0m1 27h0m3-2h0m11-19h0m10-3h0m-69 51h0m-110-5h0m6 20h0m15 0h0m62 14h0" stroke="#658bc2" stroke-width="10" stroke-linecap="round" fill="none"/>
<path d="M440 492h0m66 1h0m35 36h0m-24-1h0m-78-8h0m-47 9h0m-11-4h0m1 25h0m54 12h0m65-3h0m31 20h0m-24 19h0m-7-22h0m-32 11h0m-16 6h0m-19 6h0m-21-21h0m-49 6h0m7 41h0m67 0h0m81-23h0m54 34h0m-26 19h0m-23-4h0m-2 8h0m-35-1h0m-46-6h0m-53-14h0m-4 48h0m6-14h0m8 3h0m19-3h0m95-8h0m-38 42h0m-86-9h0m-33-6h0m36 40h0m89-1h0m10-1h0" stroke="#cf5c71" stroke-width="9" stroke-linecap="round" fill="none"/>
<path d="M127 447h0m12 32h0m-37-27h0m4 46h0m17 8h0m11 0h0m57 11h0m-38-5h0m-17 3h0m-1 24h0m-35-21h0m-2 45h0m30-17h0m-28 33h0" stroke="#a981c8" stroke-width="10" stroke-linecap="round" fill="none"/>
<path d="M119 50h0m-19 5h0m-23-13h0m-34 41h0m2-7h0m23-3h0m1 9h0m6-6h0m2-14h0m5 21h0m9-10h0m4 6h0m3-17h0m11 13h0m19-14h0m9 18h0m5-6h0m-24 28h0m0 9h0m-6-2h0m-17-5h0m-7-10h0m0 16h0m-5-19h0m-30 17h0m-12 12h0m-7 21h0m16-3h0m13 7h0m32-19h0m3 4h0m20 6h0m-14 34h0m-13-5h0m-3 7h0m0 8h0m-11-4h0m-35-22h0m0 35h0m4 8h0m6 9h0m7 0h0m7-2h0m2 1h0m4-13h0m3-1h0m18 11h0m18-20h0m4 35h0m-35 2h0m-27 7h0m-10 25h0m30 0h0m19-7h0m8 47h0m-34 4h0m-23-22h0m4 38h0m13 5h0m13 6h0" stroke="#658bc2" stroke-width="12" stroke-linecap="round" fill="none"/>
<path d="M143 38h0m-49 8h0m-17 10h0m-17-4h0m-15 36h0m10-24h0m28 0h0m11 20h0m4 4h0m19-2h0m2-21h0m1 21h0m-14 28h0m-14-18h0m-20 20h0m-29-2h0m-3 30h0m3-22h0m20 7h0m17 1h0m2 8h0m6-17h0m4 2h0m43-3h0m-17 39h0m-21 9h0m-12-5h0m-6 8h0m-30-1h0m-12-2h0m13 25h0m4-3h0m3-3h0m10 14h0m24 6h0m1-11h0m5-9h0m7-4h0m7 0h0m4 53h0m-16-16h0m-14 18h0m-5-15h0m-8 11h0m-5-13h0m-11 0h0m-13 31h0m40 25h0m-19 5h0m-9-3h0m-14-3h0m31 50h0m4-12h0m3-12h0m13 9h0" stroke="#e88f5e" stroke-width="13" stroke-linecap="round" fill="none"/>
</g>
<path d="M70 775C42.2 745.3 78 630.8 88 592C98 553.2 111.3 555.3 130 542C148.7 528.7 178.3 520.7 200 512C221.7 503.3 241.7 497 260 490C278.3 483 293.3 471.3 310 470C326.7 468.7 349.2 473.3 360 482C370.8 490.7 374.2 502.3 375 522C375.8 541.7 368.3 573.7 365 600C361.7 626.3 357.5 655.8 355 680C352.5 704.2 355.8 729.2 350 745C344.2 760.8 329.2 765.8 320 775C310.8 784.2 304.2 796.7 295 800C285.8 803.3 271.7 800 265 795C258.3 790 287.5 773.3 255 770C222.5 766.7 97.8 804.7 70 775Z" fill="#729a7c"/>
</g>
<rect width="760" height="826" fill="url(#spots)" opacity="0.22"/>
</g>
<text x="220" y="655" font-size="59" font-weight="bold" text-anchor="middle" fill="#111">WM</text>
</g>
<rect x="17.5" y="282.3" width="131.7" height="142.7" fill="none" stroke="#2e2e2e" stroke-width="1.2"/>
<text x="82.2" y="437" font-size="10.8" text-anchor="middle" fill="#1a1a1a" >spatial1</text>
<text x="11.3" y="350.8" font-size="10.8" text-anchor="middle" transform="rotate(-90 11.3 350.8)" fill="#1a1a1a" >spatial2</text>
<text x="235" y="275.4" font-size="12.2" text-anchor="middle" fill="#1a1a1a" >SCANPY (ARI=0.30)</text>
<g transform="translate(168.7 282.3) scale(0.17408 0.17276)">
<rect width="760" height="826" fill="#c5cac7"/>
<use href="#fid"/>
<use href="#he"/>
<g clip-path="url(#tis)">
<g filter="url(#rough2)">
<rect x="-100" y="-100" width="960" height="1026" fill="#d37199"/>
<rect width="760" height="826" fill="#d37199"/>
<path d="M100 200 530 40 570 60 650 235 636 245 562 86 528 72 120 240Z" fill="#848cc6"/>
<path d="M180 265C198.3 245.3 260 239.2 300 232C340 224.8 380 219 420 222C460 225 514.7 232 540 250C565.3 268 568.7 301.7 572 330C575.3 358.3 575.3 399.7 560 420C544.7 440.3 506.7 450 480 452C453.3 454 425 433.7 400 432C375 430.3 355 447 330 442C305 437 273.3 417.3 250 402C226.7 386.7 201.7 372.8 190 350C178.3 327.2 161.7 284.7 180 265Z" fill="#72ab80"/>
<path d="M88 335C104.3 297.2 153 323.8 180 335C207 346.2 225 384.2 250 402C275 419.8 315.8 433.2 330 442C344.2 450.8 348.3 448.3 335 455C321.7 461.7 280.8 470.8 250 482C219.2 493.2 178 508.7 150 522C122 535.3 92.3 593.2 82 562C71.7 530.8 71.7 372.8 88 335Z" fill="#e4926e"/>
<path d="M380 470C386.7 457 416.7 445 440 442C463.3 439 496.7 442.3 520 452C543.3 461.7 564.7 478.7 580 500C595.3 521.3 605 553.3 612 580C619 606.7 624 635.8 622 660C620 684.2 637 707.5 600 725C563 742.5 443.3 760.8 400 765C356.7 769.2 348.3 764.2 340 750C331.7 735.8 343.3 705 350 680C356.7 655 371.7 626.7 380 600C388.3 573.3 400 541.7 400 520C400 498.3 373.3 483 380 470Z" fill="#e4926e"/>
<path d="M70 775C41.5 740 70.7 602.5 84 560C97.3 517.5 122.3 533.3 150 520C177.7 506.7 220 491.3 250 480C280 468.7 308.3 453.7 330 452C351.7 450.3 368.3 458.7 380 470C391.7 481.3 400 498.3 400 520C400 541.7 388.3 573.3 380 600C371.7 626.7 355.8 655 350 680C344.2 705 350 734.2 345 750C340 765.8 328.3 766.7 320 775C311.7 783.3 304.2 796.7 295 800C285.8 803.3 271.7 800 265 795C258.3 790 287.5 773.3 255 770C222.5 766.7 98.5 810 70 775Z" fill="#b87ccf"/>
<path d="M74 37C81.5 32.8 86.7 31.5 99 31C111.3 30.5 139.8 30.5 148 34C156.2 37.5 149.5 41.2 148 52C146.5 62.8 142.2 83 139 99C135.8 115 132 131.5 129 148C126 164.5 121.5 187.3 121 198C120.5 208.7 126.3 207.3 126 212C125.7 216.7 121 218.3 119 226C117 233.7 117.2 246.2 114 258C110.8 269.8 104.3 286.3 100 297C95.7 307.7 93.2 316.5 88 322C82.8 327.5 75.3 329.2 69 330C62.7 330.8 54.8 332.5 50 327C45.2 321.5 42.5 310.3 40 297C37.5 283.7 36.3 261.8 35 247C33.7 232.2 31.7 222 32 208C32.3 194 37.3 174.5 37 163C36.7 151.5 28.7 149.7 30 139C31.3 128.3 43.8 109 45 99C46.2 89 35.5 86.2 37 79C38.5 71.8 47.8 63 54 56C60.2 49 66.5 41.2 74 37Z" fill="#7b8cc5"/>
<g filter="url(#soft)">
<path d="M536 99h0m-4 1h0m-17 10h0m-32-4h0m-5 2h0m-4 5h0m-65 34h0m33-1h0m23-24h0m19 27h0m2 0h0m62 0h0m13 10h0m-10 8h0m-1-14h0m-3 24h0m-17-7h0m-21 3h0m-13-21h0m-5 22h0m-7 4h0m-5 0h0m-3-5h0m-6-8h0m-7 14h0m-5-18h0m-8-3h0m-3-8h0m-3 11h0m-2-10h0m-7 26h0m-78-15h0m-14 16h0m-94 31h0m2 0h0m22-7h0m35-16h0m35 18h0m19 2h0m4-6h0m7 6h0m27-20h0m6-4h0m1 7h0m11 18h0m13-3h0m9-19h0m5-5h0m20 6h0m67 12h0m8-2h0m5 13h0m14-4h0m13-8h0m14 1h0m8 1h0m2 4h0m21 31h0m-12-8h0m-5 3h0m-4-19h0m-21 19h0m-10 3h0m-4-17h0m-8 14h0m-41 4h0m-13-21h0m-44 16h0m-21-11h0m-14 5h0m-4-4h0m-65 4h0m-21-2h0m-3 3h0m-12 4h0m-3-16h0m-17 1h0m-11 21h0m-12-19h0m-13 3h0m-43 6h0m-18 12h0m-19 4h0m-1 0h0m-43 23h0m18-5h0m1 7h0m52-8h0m36-15h0m1 1h0m19-1h0m293 25h0m8-7h0m1 7h0m8-3h0m5 3h0m25-8h0m8 9h0m10 6h0m-10 18h0m-5-14h0m-42 4h0m-425 5h0m432 30h0m30 11h0m5-24h0m41 4h0m0 20h0m6 17h0m-5 14h0m-2-3h0m-11-10h0m-48-1h0m2 25h0m3 0h0m2-9h0m29 19h0m24-10h0m17 30h0m-29 18h0m-11-14h0m-22 5h0m-9-17h0m14 31h0m58 36h0m-29 1h0m-24 10h0m0 7h0m0 3h0m-2-20h0m-5 16h0m30 9h0m9 20h0m33-20h0m12 8h0m1 41h0m-6 3h0m-6-7h0m-25-12h0m-14-6h0m-16 3h0m-1 16h0m-3 9h0m26 9h0m4-8h0m13 1h0m1 25h0m4-13h0m18-1h0m22 45h0m-66-17h0m-22 39h0m2 8h0m26-23h0m12 13h0m17 6h0m30-20h0m-11 54h0m-9-1h0m-4-25h0m-23 0h0m-2 0h0m-4 14h0m-1-9h0m-22 9h0m-12-7h0m29 27h0m30 39h0m-1 2h0m-24-8h0" stroke="#d14d5c" stroke-width="9" stroke-linecap="round" fill="none"/>
<path d="M523 102h0m-10-10h0m-24 23h0m-10 1h0m-89 29h0m51-22h0m70 8h0m17-11h0m8 24h0m11-23h0m20 51h0m-3 6h0m-26-27h0m-35 27h0m-21-18h0m-29 5h0m-23-10h0m-15-2h0m-57 20h0m-16-1h0m0 3h0m-13-2h0m-35 26h0m1-12h0m18 11h0m14 0h0m5-10h0m4-2h0m7-6h0m23 8h0m13-5h0m61 6h0m14-7h0m11 14h0m5 1h0m8-9h0m5 21h0m22 0h0m1-10h0m16-18h0m26 21h0m0 2h0m5-23h0m14 15h0m1-6h0m10-7h0m36 48h0m-22 0h0m-8-11h0m-65 7h0m-3 5h0m-22 6h0m-17-11h0m0 4h0m-145-16h0m-14 2h0m-6-4h0m-8 17h0m-17 1h0m-9 7h0m-19-17h0m-9 6h0m-37-4h0m-87 39h0m7 6h0m25-16h0m1 7h0m18 1h0m5 3h0m27-9h0m5 0h0m337 13h0m46-15h0m7 5h0m4-1h0m2 13h0m3-11h0m16 6h0m-3 19h0m-11-3h0m-25 16h0m-6-23h0m-21 15h0m-7-13h0m-417 19h0m-18-9h0m459 29h0m45-8h0m11 9h0m7-4h0m0 3h0m-58 42h0m15 8h0m29 4h0m1 7h0m3-7h0m1 7h0m43 38h0m-11-17h0m-8 12h0m-18 6h0m-29-6h0m-16 13h0m23 11h0m23-12h0m4 10h0m11 3h0m3 5h0m17 5h0m7 14h0m-1 20h0m0 2h0m-15-6h0m-3-16h0m-11 11h0m-29-15h0m-1 25h0m-10 19h0m4-2h0m19-9h0m8 9h0m17 0h0m7 14h0m11-12h0m7 30h0m-4 7h0m-54-16h0m16 47h0m11-20h0m14-1h0m2 21h0m32-4h0m-24 30h0m-8-6h0m-16 10h0m-11 20h0m6-14h0m51 12h0m-68 21h0m-8 33h0m1-2h0m25 0h0m14 23h0m4-26h0m25 9h0m-45 30h0m-3-3h0m-20 8h0m-8-15h0m-6 10h0" stroke="#658bc2" stroke-width="10" stroke-linecap="round" fill="none"/>
<path d="M539 105h0m-21-9h0m-53 46h0m64 20h0m-10 15h0m-66 0h0m-102 1h0m44 26h0m31 2h0m20-23h0m58 24h0m2-23h0m29 8h0m10-12h0m11 28h0m6-11h0m8-7h0m-13 28h0m-17 18h0m-18-25h0m-28 8h0m-10 17h0m-41-12h0m-1-6h0m-27-8h0m-119 1h0m-9 13h0m-25 3h0m-17-12h0m-67 50h0m9-21h0m13-1h0m30 0h0m361 8h0m33 16h0m1 3h0m-8 21h0m-29 10h0m62 34h0m-3 0h0m-34-4h0m-11 35h0m8-6h0m60 27h0m6 20h0m-46 7h0m-31-1h0m-11-23h0m37 59h0m21-6h0m17 2h0m-11 33h0m-9-25h0m-1-2h0m-39 2h0m17 44h0m24 4h0m56 16h0m-66 5h0m-15 41h0m15 4h0m36-14h0m6 8h0m9-10h0m15-5h0m-44 38h0m-1-9h0m-27 9h0m-6-3h0m23 29h0m39 19h0m10 3h0m-81 36h0m2 3h0m13 1h0m27 5h0m21-7h0m-13 43h0m-15-6h0m-8-3h0" stroke="#dc83c7" stroke-width="9" stroke-linecap="round" fill="none"/>
<path d="M534 112h0m-88 15h0m27 16h0m62-10h0m50 43h0m-103-20h0m0 16h0m-12-9h0m-11-10h0m-48 18h0m-37-2h0m-81 31h0m104-16h0m97 23h0m50-5h0m9 15h0m-7 7h0m-258 4h0m-126 21h0m388 12h0m77 28h0m-8-7h0m-50 9h0m-9-10h0m-440 23h0m482 13h0m31 9h0m-47 52h0m51-8h0m37 16h0m10 27h0m-52 4h0m-19 2h0m-21-23h0m60 48h0m-46 34h0m13 22h0m51 14h0m-6 43h0m15-17h0m12 40h0m-42 18h0m-18-4h0m-3-16h0m22 39h0m40 20h0m-2 17h0m-59 22h0m63-13h0m-68 52h0" stroke="#72ab80" stroke-width="10" stroke-linecap="round" fill="none"/>
<path d="M352 237h0m-157 30h0m59-11h0m19-13h0m66-2h0m27 22h0m3-9h0m30 11h0m30 4h0m2-15h0m39 13h0m10-3h0m26-21h0m2 2h0m6 18h0m13-6h0m8 4h0m-15 13h0m-22 23h0m-41-19h0m-13 3h0m-38 10h0m-5 7h0m-18-17h0m-38 12h0m-62-20h0m-9 13h0m-78-12h0m-2 44h0m32-18h0m55 28h0m64-24h0m47-3h0m92 17h0m28 0h0m0 2h0m41-20h0m2 43h0m-83 6h0m-44-2h0m-4-13h0m-2-3h0m-21 25h0m-2-12h0m-7-2h0m-107-10h0m-40 55h0m13-7h0m2-7h0m19 3h0m37 11h0m12-17h0m27 18h0m63-26h0m90 3h0m43 9h0m4-10h0m-33 33h0m-3 15h0m-83-1h0m-16-1h0m-114 7h0m-3 0h0m-33-22h0m52 43h0m15-4h0m65-8h0m2-5h0m24 6h0m48 18h0" stroke="#e59168" stroke-width="10" stroke-linecap="round" fill="none"/>
<path d="M420 228h0m-8 8h0m-193 27h0m34 1h0m112 0h0m6-10h0m27 8h0m29-8h0m2 6h0m3-3h0m16-4h0m12 15h0m41-5h0m28 0h0m-15 36h0m-10-7h0m-7-14h0m-6 15h0m-56-12h0m-31 17h0m-29-4h0m-52-6h0m-36-5h0m-7-6h0m-29 13h0m-9-15h0m-28 8h0m-8 37h0m61-16h0m13-2h0m28 8h0m9 19h0m15-27h0m12 12h0m47-6h0m9 19h0m78-11h0m38 1h0m23 7h0m8 30h0m-26-20h0m-11 12h0m-17-6h0m-18-5h0m-51 23h0m-47-26h0m-42 19h0m-2-21h0m-28 10h0m-10 17h0m-5-23h0m-10 4h0m-57 18h0m12 13h0m6 8h0m5 9h0m88-26h0m74 14h0m10-14h0m47 17h0m26 2h0m37-11h0m21-1h0m3 5h0m6 11h0m5-7h0m-9 20h0m-81 3h0m-3-3h0m-108 4h0m-11 18h0m-7-27h0m-34 13h0m-23 10h0m-10-17h0m-3 6h0m54 20h0m98 8h0m5-9h0m58-2h0" stroke="#658bc2" stroke-width="10" stroke-linecap="round" fill="none"/>
<path d="M422 239h0m-11-1h0m-40 1h0m-133 23h0m2-7h0m8 0h0m28-4h0m3 0h0m68-2h0m8 0h0m98 11h0m93 21h0m-24 10h0m-19 3h0m-18-9h0m-18-11h0m-109 24h0m-13-23h0m-55 11h0m-31 7h0m-25-11h0m-6-2h0m-1 14h0m-14-24h0m-9 18h0m-12 17h0m54 11h0m4 3h0m3-17h0m22 3h0m41-4h0m20 14h0m24 14h0m11-21h0m68 7h0m70-13h0m15 14h0m20 14h0m-3 13h0m-49-1h0m-5-11h0m-36 2h0m-92 22h0m-8-24h0m-1 2h0m-84 13h0m-77-2h0m25 16h0m19 1h0m34 2h0m102 21h0m126-13h0m0 16h0m7 8h0m-51 11h0m-108 6h0m-26-20h0m112 40h0m38 10h0m44-6h0" stroke="#cf5c71" stroke-width="9" stroke-linecap="round" fill="none"/>
<path d="M199 357h0m-13-5h0m-28 1h0m-7-1h0m-9-2h0m-42-1h0m12 34h0m2-4h0m17-3h0m8-16h0m9 1h0m0 24h0m7-8h0m19 3h0m15-19h0m15 18h0m62 35h0m-12 0h0m-21-19h0m-5 11h0m-22 6h0m-23 4h0m-10-18h0m-12 18h0m-63-14h0m-7 17h0m14 4h0m7 7h0m3 8h0m23-15h0m13 19h0m34-17h0m13 17h0m22-3h0m2-13h0m0 1h0m26-1h0m32 16h0m34 19h0m-39-10h0m-24 11h0m-47-11h0m-11 21h0m-22 3h0m-54-24h0m-4 48h0m1 0h0m15-17h0m16-2h0m42 17h0m11 0h0m12-14h0m-101 43h0m-7-9h0" stroke="#72ab80" stroke-width="11" stroke-linecap="round" fill="none"/>
<path d="M158 344h0m-21 3h0m-11 10h0m-28 3h0m7 29h0m8-5h0m15-2h0m56 3h0m14-12h0m9-6h0m3 13h0m14 6h0m-7 14h0m-7 18h0m-12-25h0m-27 23h0m-7-4h0m-72 23h0m33-9h0m65 14h0m30 7h0m7-25h0m2-2h0m13 26h0m9 2h0m21-23h0m58 21h0m-21 14h0m-20 4h0m-20 2h0m-15-7h0m-9-8h0m-155 50h0m5 4h0m6-21h0m1 15h0m15-11h0m26 21h0m7-29h0m7 6h0m8 9h0m7-7h0m4 3h0m46 0h0m-70 20h0m-15 12h0m-7-8h0m-14 9h0m-10 5h0m-4-18h0" stroke="#cf5c71" stroke-width="9" stroke-linecap="round" fill="none"/>
<path d="M166 351h0m-14-12h0m-6 2h0m-9 12h0m-26-6h0m4 19h0m74 0h0m59 52h0m-71-19h0m-6 11h0m-39 4h0m-16-4h0m-16-8h0m1 26h0m3 19h0m20-24h0m1 22h0m7-5h0m2-7h0m29 5h0m19 10h0m77-17h0m0 35h0m-5-14h0m-1 18h0m-43-5h0m-5 4h0m-2-15h0m-20 22h0m-15-24h0m-30 3h0m-41 43h0m17 1h0m1-19h0m24 24h0m2-16h0m25-1h0m23-4h0m18 6h0m4-6h0m5 11h0m8-8h0m10-5h0m-138 62h0m1-3h0" stroke="#658bc2" stroke-width="10" stroke-linecap="round" fill="none"/>
<path d="M438 446h0m63 26h0m-16-17h0m-52 15h0m-18-5h0m-28 4h0m53 22h0m2 14h0m8-17h0m2 12h0m30 3h0m14-9h0m11 8h0m6-14h0m5 12h0m23 3h0m38 12h0m-3-3h0m-37 1h0m-30 6h0m-14 20h0m-3-26h0m-9 10h0m-45-8h0m-39 10h0m2 39h0m13-20h0m45 14h0m26-18h0m15 10h0m7-8h0m3 8h0m40-10h0m6 13h0m13-11h0m21 15h0m13 2h0m-4 18h0m-82-7h0m-41 10h0m-9 17h0m-31 0h0m-18-9h0m-23 3h0m-7-20h0m8 57h0m15-28h0m2 0h0m1 28h0m11-13h0m2-14h0m11 3h0m20 14h0m29 7h0m3-7h0m13-2h0m15-13h0m5 26h0m19-14h0m20-2h0m49-13h0m-13 50h0m-24-15h0m-18 16h0m-1-18h0m-4 7h0m-29 14h0m-3-22h0m-17 12h0m-42 6h0m-7 2h0m-65-12h0m-11-9h0m-19 55h0m4-4h0m26 6h0m72-16h0m4-10h0m22 27h0m30-24h0m0 8h0m25 2h0m42 12h0m3-25h0m7 18h0m25-12h0m-14 32h0m-2 13h0m-9-9h0m-22 6h0m-8 9h0m-6-22h0m-4-2h0m-4 14h0m-31-10h0m-40 10h0m-18-10h0m-2 1h0m-2-10h0m-1 24h0m-15-10h0m-5 1h0m-29 8h0m-2-6h0m-2-2h0m-7 12h0m-17-2h0m-5-18h0m-7 18h0m-15-9h0m-3-6h0m0 44h0m7-23h0m29 15h0m1 4h0m5-18h0m15-1h0m28 20h0m64-10h0m20-5h0" stroke="#728ec5" stroke-width="10" stroke-linecap="round" fill="none"/>
<path d="M519 463h0m-16-1h0m-15 1h0m-43-4h0m-41 9h0m44 34h0m10-7h0m2-11h0m8 10h0m34 0h0m33 13h0m13-7h0m16 7h0m-8 19h0m-46-2h0m-25-5h0m-26-2h0m-5 5h0m-6-11h0m-1 21h0m-39-14h0m45 48h0m6-4h0m29-3h0m95-8h0m8 4h0m5-5h0m6 30h0m-28 17h0m-34-10h0m-23-15h0m-92 11h0m-2-3h0m-1 4h0m-18 4h0m-12-2h0m9 16h0m69 5h0m16 16h0m13 0h0m29 1h0m31-5h0m42-19h0m9 19h0m5 21h0m-26-7h0m-10 5h0m-30 10h0m-3-18h0m-26 28h0m-8 0h0m-95-6h0m-20 2h0m-15 1h0m5 28h0m24-23h0m108 19h0m64-19h0m2 15h0m-80 16h0m-13 11h0m-20 2h0m-22 6h0m-96 9h0m2 15h0m33-3h0m10 14h0m13 2h0m113-23h0m-88 27h0" stroke="#cf5c71" stroke-width="9" stroke-linecap="round" fill="none"/>
<path d="M509 471h0m-2-8h0m-35 34h0m20 11h0m32-26h0m-33 38h0m-50-7h0m-34 14h0m95 15h0m40 1h0m54 45h0m-87-12h0m-55-5h0m-5-1h0m-7 27h0m-12-11h0m-14 36h0m124-6h0m57 13h0m9-1h0m-74 17h0m-20-1h0m-14-13h0m-45 14h0m-53 3h0m-15 30h0m95-10h0m105 2h0m-37 41h0m-24-10h0m-8 17h0m-83-24h0m-62 43h0m8 7h0m3 0h0m34-1h0m17-20h0m0 6h0m76-9h0m28 3h0" stroke="#72ab80" stroke-width="10" stroke-linecap="round" fill="none"/>
<path d="M321 476h0m-8-7h0m47 32h0m28 27h0m-100-10h0m-13 4h0m-19-12h0m-24 6h0m-48 10h0m-2 6h0m0 1h0m-73 30h0m93 4h0m56-6h0m53-10h0m31-6h0m4 4h0m17 23h0m-113 26h0m-37-27h0m-17 8h0m-33 11h0m-58-4h0m-13 9h0m16 10h0m67 22h0m65-11h0m30-15h0m9 26h0m27-7h0m21-19h0m1 54h0m-26-19h0m-32 10h0m-43-13h0m-26 10h0m-20 14h0m-58-9h0m-38 27h0m48 10h0m17-14h0m39-9h0m35 3h0m12 19h0m22 3h0m8-19h0m36 9h0m44-15h0m-12 47h0m-18-4h0m-56 1h0m-62-5h0m0 6h0m-23-5h0m-1 4h0m-59 3h0m-3 3h0m-28 4h0m16 14h0m7 17h0m6-21h0m39 4h0m66 4h0m0 12h0m70-15h0m41-11h0m-42 41h0m-34-1h0m22 29h0m9-5h0" stroke="#dd80c6" stroke-width="8" stroke-linecap="round" fill="none"/>
<path d="M128 57h0m-8-4h0m-12-3h0m-8 7h0m-18-21h0m-6 8h0m-11 2h0m-7 21h0m13-7h0m36 32h0m-34 13h0m-35 41h0m10 1h0m20-2h0m17-16h0m1 0h0m6 2h0m20 48h0m-8-14h0m-5-4h0m-15-9h0m-10 3h0m-30-5h0m-1 0h0m-1 23h0m36 32h0m14-8h0m-43 22h0m-9 11h0m-2 9h0m11 22h0m9-2h0m1 5h0m10 5h0m21-12h0m4-15h0m1 20h0m1-8h0m8-10h0m-5 31h0m-27 16h0m-17-2h0m11 16h0m2 17h0m3-8h0" stroke="#e59168" stroke-width="11" stroke-linecap="round" fill="none"/>
</g>
</g>
<rect width="760" height="826" fill="url(#spots)" opacity="0.22"/>
</g>
<text x="227" y="140" font-size="59" font-weight="bold" text-anchor="middle" fill="#111">Layer_1</text>
<text x="210" y="655" font-size="59" font-weight="bold" text-anchor="middle" fill="#111">WM</text>
<text x="605" y="800" font-size="59" font-weight="bold" text-anchor="middle" fill="#111">Layer_3</text>
<path d="M640 630L634.1 712.1" stroke="#111" stroke-width="7" fill="none"/>
<path d="M632 742L623.2 711.3L645.1 712.9Z" fill="#111"/>
</g>
<rect x="168.7" y="282.3" width="132.3" height="142.7" fill="none" stroke="#2e2e2e" stroke-width="1.2"/>
<text x="234.8" y="437" font-size="10.8" text-anchor="middle" fill="#1a1a1a" >spatial1</text>
<text x="162.5" y="350.8" font-size="10.8" text-anchor="middle" transform="rotate(-90 162.5 350.8)" fill="#1a1a1a" >spatial2</text>
<text x="386.3" y="275.4" font-size="12.2" text-anchor="middle" fill="#1a1a1a" >conST (ARI=0.39)</text>
<g transform="translate(320.5 282.3) scale(0.17342 0.17276)">
<rect width="760" height="826" fill="#c5cac7"/>
<use href="#fid"/>
<use href="#he"/>
<g clip-path="url(#tis)">
<g filter="url(#rough2)">
<rect x="-100" y="-100" width="960" height="1026" fill="#72ab80"/>
<rect width="760" height="826" fill="#72ab80"/>
<path d="M105 285C141.7 281.7 139.2 273.3 160 265C180.8 256.7 206.7 245.8 230 235C253.3 224.2 275 212.5 300 200C325 187.5 355 171.3 380 160C405 148.7 428.3 139 450 132C471.7 125 492.5 117.5 510 118C527.5 118.5 540.3 121.3 555 135C569.7 148.7 584.7 175 598 200C611.3 225 624.3 255 635 285C645.7 315 654.5 349.2 662 380C669.5 410.8 675.3 440 680 470C684.7 500 689 531.7 690 560C691 588.3 689 616.7 686 640C683 663.3 675.5 685.8 672 700C668.5 714.2 666.2 691.7 665 725C663.8 758.3 785.8 870.8 665 900C544.2 929.2 60.8 1002.5 -60 900C-180.8 797.5 -87.5 387.5 -60 285C-32.5 182.5 68.3 288.3 105 285Z" fill="#d26f95"/>
<path d="M95 345C130 342.5 129.2 336.7 150 330C170.8 323.3 195 314.2 220 305C245 295.8 275 284.2 300 275C325 265.8 346.7 255.8 370 250C393.3 244.2 420 239.2 440 240C460 240.8 475.8 245.8 490 255C504.2 264.2 515.8 279.2 525 295C534.2 310.8 540 329.2 545 350C550 370.8 553.2 395 555 420C556.8 445 557.2 473.3 556 500C554.8 526.7 551.5 555 548 580C544.5 605 539.7 625.8 535 650C530.3 674.2 522.5 683.3 520 725C517.5 766.7 616.7 870.8 520 900C423.3 929.2 36.7 992.5 -60 900C-156.7 807.5 -85.8 437.5 -60 345C-34.2 252.5 60 347.5 95 345Z" fill="#e59168"/>
<path d="M90 470C125 465 128.3 450 150 440C171.7 430 195 421.3 220 410C245 398.7 275 382.8 300 372C325 361.2 350 350.3 370 345C390 339.7 404.2 337.2 420 340C435.8 342.8 453.3 350.3 465 362C476.7 373.7 484.2 390.3 490 410C495.8 429.7 499.7 455 500 480C500.3 505 496.2 533.3 492 560C487.8 586.7 480.3 613.3 475 640C469.7 666.7 464.2 701.7 460 720C455.8 738.3 451.7 720 450 750C448.3 780 535 875 450 900C365 925 25 971.7 -60 900C-145 828.3 -85 541.7 -60 470C-35 398.3 55 475 90 470Z" fill="#6a8cc3"/>
<path d="M88 505C123 500.5 128 486.8 150 478C172 469.2 195 461.3 220 452C245 442.7 275 430 300 422C325 414 351.7 405.3 370 404C388.3 402.7 399.2 406 410 414C420.8 422 429.7 435.7 435 452C440.3 468.3 442 490.3 442 512C442 533.7 438.7 558.7 435 582C431.3 605.3 425.8 628.7 420 652C414.2 675.3 404.7 703.2 400 722C395.3 740.8 393.3 735.3 392 765C390.7 794.7 467.3 877.5 392 900C316.7 922.5 15.3 965.8 -60 900C-135.3 834.2 -84.7 570.8 -60 505C-35.3 439.2 53 509.5 88 505Z" fill="#d98ccd"/>
<path d="M82 592C117 587 127 572 150 562C173 552 200 539 220 532C240 525 253.3 521 270 520C286.7 519 306.7 519.3 320 526C333.3 532.7 345 544 350 560C355 576 353.3 600 350 622C346.7 644 335.8 668.2 330 692C324.2 715.8 317.5 730.3 315 765C312.5 799.7 377.5 877.5 315 900C252.5 922.5 2.5 951.3 -60 900C-122.5 848.7 -83.7 643.3 -60 592C-36.3 540.7 47 597 82 592Z" fill="#b274c9"/>
<path d="M74 37C81.5 32.8 86.7 31.5 99 31C111.3 30.5 139.8 30.5 148 34C156.2 37.5 149.5 41.2 148 52C146.5 62.8 142.2 83 139 99C135.8 115 132 131.5 129 148C126 164.5 121.5 187.3 121 198C120.5 208.7 126.3 207.3 126 212C125.7 216.7 121 218.3 119 226C117 233.7 117.2 246.2 114 258C110.8 269.8 104.3 286.3 100 297C95.7 307.7 93.2 316.5 88 322C82.8 327.5 75.3 329.2 69 330C62.7 330.8 54.8 332.5 50 327C45.2 321.5 42.5 310.3 40 297C37.5 283.7 36.3 261.8 35 247C33.7 232.2 31.7 222 32 208C32.3 194 37.3 174.5 37 163C36.7 151.5 28.7 149.7 30 139C31.3 128.3 43.8 109 45 99C46.2 89 35.5 86.2 37 79C38.5 71.8 47.8 63 54 56C60.2 49 66.5 41.2 74 37Z" fill="#72ab80"/>
<g filter="url(#soft)">
<path d="M569 98h0m-56 4h0m-12 14h0m-74-1h0m-63 11h0m48-1h0m15 12h0m12-17h0m10 0h0m9 6h0m121 5h0m20 15h0m-12 30h0m-1-13h0m-231 8h0m-19-1h0m-46-3h0m-2 3h0m-37-4h0m-28 3h0m-82 36h0m46-5h0m68-2h0m21-7h0m0 12h0m3-7h0m-55 14h0m-55 3h0m-13 7h0m464 30h0m83 288h0m-3-13h0m-10 1h0m5 134h0m-18 48h0" stroke="#cf5c71" stroke-width="9" stroke-linecap="round" fill="none"/>
<path d="M431 146h0m68-11h0m21-11h0m52 51h0m-24-23h0m-99 9h0m-22 6h0m-16-13h0m-47 48h0m3-3h0m13-8h0m8-3h0m79 13h0m40-12h0m12 13h0m66 7h0m-11 5h0m-5 25h0m-5-27h0m-4 12h0m-33-11h0m-21 17h0m-32-20h0m-25 16h0m-3 13h0m-37-15h0m-31-12h0m-2 21h0m-18-23h0m-82 13h0m-34 7h0m-48 31h0m11-6h0m55 8h0m19 4h0m14-1h0m5-8h0m16 10h0m2-23h0m1 16h0m2 6h0m161-21h0m46 19h0m77-11h0m3-1h0m25 41h0m-21-6h0m-28-16h0m-37 24h0m-38-26h0m-300 8h0m-36 4h0m-14-4h0m-5-7h0m-43 36h0m434 14h0m10 4h0m38-1h0m38 5h0m17 15h0m-25-3h0m-69-10h0m-453 3h0m484 26h0m33 28h0m14-8h0m24 12h0m-13 11h0m0 7h0m-18-1h0m-6-12h0m-30-7h0m-27 25h0m14 18h0m14 3h0m24-16h0m5 0h0m23 21h0m-70 26h0m20 16h0m42 2h0m28 51h0m-14-10h0m-4 8h0m-14-19h0m-10 24h0m-17-27h0m-6 8h0m-20 0h0m-5 3h0m-13 29h0m11 3h0m79-12h0m2 15h0m5 12h0m-29 27h0m-13-4h0m-53-19h0m9 32h0m23 6h0m45-2h0m35 47h0m-18 2h0m-101-21h0m13 25h0m88 9h0m6 11h0m16-21h0m-77 44h0m-67 9h0" stroke="#dc83c7" stroke-width="9" stroke-linecap="round" fill="none"/>
<path d="M465 133h0m90 3h0m0 32h0m-4-2h0m-28-2h0m-90-14h0m-2 17h0m-74 6h0m40 21h0m66 0h0m31-2h0m1-7h0m15 18h0m8-16h0m9 2h0m33-9h0m0 25h0m2-25h0m8 27h0m19 17h0m-47-3h0m-32-3h0m-10 13h0m-17 0h0m-51 8h0m-30-12h0m-9 2h0m-80 4h0m-1 3h0m-36-15h0m-61 40h0m32-21h0m0 10h0m34-8h0m52 5h0m7 10h0m70-15h0m109 14h0m30-5h0m52 2h0m-13 26h0m-11-3h0m-1 12h0m-24 5h0m-11-5h0m-350-6h0m-72 19h0m17 14h0m12-11h0m10 17h0m34-8h0m356 2h0m1-6h0m53 18h0m46 15h0m4 27h0m5-1h0m-8 51h0m-21-21h0m-15 3h0m-21-4h0m-2 15h0m-10-20h0m-5 5h0m-8 34h0m41 9h0m7 1h0m12 22h0m-42-8h0m-7-5h0m-7 50h0m83-16h0m-15 51h0m-49-24h0m-15 0h0m64 37h0m32 3h0m14-4h0m1 21h0m-33 15h0m-18-11h0m0 1h0m-40 14h0m-11-2h0m-14 10h0m-20-11h0m19 35h0m27-2h0m48-11h0m13 13h0m23 12h0m-36-1h0m-21 6h0m-42 14h0m-40-4h0m17 39h0m2 3h0m16-23h0m41 14h0m13-3h0m17-12h0m-13 31h0m-18 10h0m-1 7h0m-3-2h0m-2-8h0m-10 2h0m-12-7h0m-20 11h0m-28-2h0" stroke="#d24b59" stroke-width="9" stroke-linecap="round" fill="none"/>
<path d="M547 177h0m-35-20h0m-159 29h0m45 3h0m21 14h0m147 21h0m-12-6h0m-15 9h0m-174-12h0m-55-4h0m-3 27h0m-119 17h0m27-13h0m34 27h0m6-22h0m12 1h0m67 3h0m28-9h0m179 5h0m23 35h0m-316-12h0m-20 17h0m-11 1h0m-46-15h0m-2-1h0m-25 16h0m-36 13h0m15 13h0m23-2h0m5 6h0m401-13h0m41 75h0m42-2h0m33 37h0m-70 24h0m58-10h0m6 7h0m-35 39h0m58 50h0m-61 14h0m-24-11h0m-32 17h0m103 14h0m-2 11h0m-22 18h0m-73 2h0m0 7h0m-10 18h0m5-8h0m22-1h0m24 16h0m28-5h0m14-13h0m-48 48h0m-3-18h0m-66 26h0m105 6h0m25 3h0m-109 29h0m-1 19h0" stroke="#e59168" stroke-width="10" stroke-linecap="round" fill="none"/>
<path d="M566 153h0m-112 21h0m-64-16h0m-17 25h0m4 15h0m53-5h0m108 6h0m16 7h0m-11 31h0m-77-7h0m-221 7h0m229 12h0m22 11h0m33 2h0m58-21h0m-12 31h0m-11 8h0m-14 6h0m-296-9h0m400 80h0m-26-19h0m-72 2h0m52 76h0m-51-5h0m12 48h0m-2 133h0m-21 14h0m23-2h0m97 38h0m-17-6h0m-47-6h0m-1 27h0m-8-18h0m-24-8h0m45 73h0" stroke="#72ab80" stroke-width="10" stroke-linecap="round" fill="none"/>
<path d="M338 265h0m11-7h0m16 7h0m9 0h0m5-15h0m0 14h0m1-11h0m3 2h0m44-3h0m13 17h0m41-8h0m6-4h0m3 9h0m8 28h0m-15-9h0m-7-9h0m-2-3h0m-6 5h0m0 14h0m-37-20h0m-23 16h0m-7-16h0m-18 14h0m-1 9h0m-7-24h0m-12 13h0m-14 8h0m-20-1h0m-9 8h0m-19-10h0m-5 7h0m-49 0h0m-70 29h0m10-1h0m15 3h0m2-7h0m25-10h0m21 18h0m2-17h0m3-4h0m2 13h0m17-20h0m13 16h0m0 13h0m21-28h0m0 20h0m5-20h0m15 25h0m3-10h0m6-6h0m6 18h0m39-24h0m16 8h0m10 17h0m6-13h0m1-14h0m52 26h0m18-23h0m31 7h0m7 3h0m1-5h0m16 41h0m-3-12h0m-3-6h0m0 25h0m-63-17h0m0 14h0m-4-23h0m-10 21h0m-28-10h0m-21-13h0m0 2h0m-14 6h0m-23 6h0m-14 5h0m-9-12h0m-18-6h0m-13 23h0m-5 2h0m-4-10h0m-7 4h0m-15 2h0m-8-5h0m-1 3h0m-27-3h0m-20-4h0m-4-13h0m-9 15h0m-3 12h0m-2-20h0m-6 16h0m-3-1h0m-1-21h0m0 15h0m-12 0h0m-19 7h0m-2-3h0m-4-2h0m-19-15h0m-49 29h0m25 18h0m6-16h0m4-4h0m18 24h0m10-12h0m3 1h0m13-12h0m23 0h0m22 0h0m0 5h0m12-2h0m14 7h0m7 12h0m3-12h0m17-6h0m16-2h0m215 11h0m21 0h0m6-14h0m9 26h0m6 7h0m-6 25h0m-18-18h0m-2 19h0m-7-27h0m-2 23h0m-1-1h0m-9-6h0m-7-3h0m-7-9h0m-273 13h0m-6-19h0m-38 21h0m-6-2h0m-9-3h0m-2 7h0m-5-15h0m-11-4h0m0 21h0m-5-19h0m-14 9h0m-15 5h0m-3 7h0m-2-18h0m-4 4h0m-3-13h0m26 50h0m13-6h0m5 13h0m1-23h0m15 12h0m1 2h0m9-13h0m351 2h0m16-3h0m2 9h0m17 12h0m7-11h0m-1 17h0m-17 24h0m-7 1h0m-4-2h0m-13-22h0m-13 1h0m-1 42h0m4-7h0m28 12h0m19 16h0m-7-3h0m-16 3h0m-4-5h0m-10 5h0m-2 5h0m-2 16h0m-5-20h0m-4 2h0m-3 17h0m9 8h0m6 24h0m9-18h0m7 11h0m1-8h0m4-2h0m1 5h0m10 40h0m-4-2h0m-17-1h0m-25-15h0m-4 11h0m-7 16h0m7 23h0m1-12h0m6-1h0m13 10h0m-16 34h0m-8-29h0m-1 0h0m-9 6h0m-3 5h0m-3 45h0m5-18h0m5 16h0m1-3h0m11-19h0m22 34h0m-24 4h0m-11-8h0m-28 43h0m38-13h0m5 7h0" stroke="#6a8cc3" stroke-width="12" stroke-linecap="round" fill="none"/>
<path d="M425 250h0m33 19h0m47 17h0m-20-8h0m-5 1h0m-37 20h0m-64 0h0m-59-20h0m-6 8h0m-33-3h0m-4 12h0m-46 32h0m4-9h0m61 7h0m50-14h0m10-1h0m7 15h0m25-8h0m19 5h0m13-13h0m10-10h0m21 18h0m12 7h0m38-15h0m21-9h0m1 16h0m22 39h0m-2-3h0m-21-16h0m-3 13h0m-18-12h0m-39-6h0m-5 22h0m-67-23h0m-76 8h0m-3-7h0m-12 0h0m-47 22h0m-43-5h0m-54-5h0m-5 2h0m-36 0h0m-9 38h0m5-18h0m42-1h0m12 5h0m6-10h0m4 9h0m30 14h0m2-14h0m7 12h0m37 4h0m45-14h0m191 3h0m15 15h0m6-2h0m29-13h0m18 44h0m-50-27h0m-11 19h0m-5-10h0m-272-4h0m-13-6h0m-9 13h0m-6-1h0m-51 17h0m-13 15h0m11 8h0m416 35h0m-11-17h0m-22-7h0m-4 48h0m20-12h0m4 10h0m14 34h0m-37-6h0m32 35h0m3-14h0m-7 51h0m-33-18h0m-9-2h0m1 28h0m15 0h0m1 21h0m7 2h0m-13 18h0m-33-10h0m15 25h0m-11 53h0m-1-21h0" stroke="#cf5c71" stroke-width="9" stroke-linecap="round" fill="none"/>
<path d="M431 347h0m-1 5h0m-137 35h0m8-15h0m38-8h0m18 12h0m4 11h0m17-11h0m0 13h0m1 0h0m5-17h0m10 4h0m10-4h0m4-1h0m25-5h0m0 17h0m3 5h0m13-8h0m5-6h0m6-1h0m12 42h0m-21-14h0m-2 10h0m-29-17h0m-10 10h0m-34-2h0m-21-4h0m-6-1h0m-15 13h0m-30 5h0m-51-11h0m-18 0h0m-12 13h0m-72 26h0m10-3h0m11-2h0m12 10h0m11-3h0m28-3h0m0 5h0m15-23h0m21 6h0m3-2h0m40-8h0m3 0h0m187 12h0m-21 20h0m-277 1h0m-19 3h0m-2 6h0m0 4h0m-9-13h0m-7 13h0m-16-15h0m-18 18h0m-10 4h0m-4 0h0m346 11h0m19 22h0m1-25h0m9 18h0m2 12h0m-7 2h0m-10 23h0m-6-17h0m-9 0h0m-8 18h0m-6 14h0m5-6h0m6 24h0m6-28h0m0 15h0m7-7h0m7 7h0m3-9h0m8 8h0m4-2h0m1-10h0m0 19h0m1-3h0m-36 37h0m-17 18h0m14-13h0m6 22h0m6 15h0m-9 10h0m-7-11h0m-22 47h0m10 5h0m10-7h0m26-20h0m-6 39h0m-2 8h0m-11 7h0m-21-24h0m-14 0h0m-1 10h0m-14 44h0m44-24h0m-33 37h0" stroke="#e59168" stroke-width="12" stroke-linecap="round" fill="none"/>
<path d="M365 355h0m-75 27h0m87-18h0m5 11h0m81 1h0m26 39h0m-4-11h0m-11-13h0m-6 3h0m-69 5h0m-6-9h0m-217 48h0m7-8h0m0 1h0m15-10h0m6-1h0m12 27h0m3-26h0m18 19h0m184-9h0m39 9h0m20-11h0m12 5h0m4 44h0m-16-25h0m-2 8h0m-299-10h0m-12 19h0m-1-6h0m-3 7h0m-29-5h0m-22 10h0m-8 10h0m10-4h0m11 6h0m335-5h0m33 15h0m-51 46h0m41 15h0m-10 92h0m-10-11h0m-35-8h0m5 37h0m12-7h0m3 12h0m4 9h0m9 15h0m-19 9h0m-11 15h0m20 7h0" stroke="#dc83c7" stroke-width="10" stroke-linecap="round" fill="none"/>
<path d="M278 431h0m6 3h0m57-5h0m51 11h0m25 1h0m-22 11h0m-52 18h0m-94-15h0m-61 38h0m18-8h0m2 0h0m39-1h0m28 14h0m16-15h0m103 34h0m-11-4h0m-5 12h0m-52-8h0m-17-6h0m-50 9h0m-76-10h0m-16 18h0m-67 39h0m252 29h0m-2-14h0m-248-1h0m299 22h0m-42 82h0m45-4h0m-23 28h0m-34 1h0m10 25h0m20 8h0m19-2h0m-71 14h0" stroke="#6a8cc3" stroke-width="10" stroke-linecap="round" fill="none"/>
<path d="M138 54h0m-19-2h0m-38-4h0m-36 41h0m8-18h0m19 13h0m10-20h0m12-3h0m16 19h0m6-1h0m2 7h0m20-16h0m1 11h0m3-2h0m0 1h0m-16 26h0m-9-1h0m-3-14h0m-22 6h0m-3-6h0m-10 24h0m-6-25h0m0 14h0m-4-1h0m-7-9h0m-6 19h0m-21 19h0m5 8h0m47-8h0m20-5h0m-2 23h0m-5 5h0m-17-3h0m-5 16h0m-1-4h0m-1 9h0m-8-17h0m-8 5h0m-3 12h0m-4-22h0m20 52h0m21-17h0m8 27h0m-18 25h0m-13-23h0m-27-2h0m0 55h0m16-25h0m7 15h0m1-4h0m9 13h0m34-17h0m-50 45h0m12 12h0m14 8h0" stroke="#cf5c71" stroke-width="10" stroke-linecap="round" fill="none"/>
</g>
</g>
<rect width="760" height="826" fill="url(#spots)" opacity="0.22"/>
</g>
<text x="217" y="140" font-size="59" font-weight="bold" text-anchor="middle" fill="#111">Layer_1</text>
<text x="648" y="58" font-size="59" font-weight="bold" text-anchor="middle" fill="#111">Layer_2</text>
<path d="M530 160L616.3 93.3" stroke="#111" stroke-width="7" fill="none"/>
<path d="M640 75L623 102L609.5 84.6Z" fill="#111"/>
<text x="192" y="655" font-size="59" font-weight="bold" text-anchor="middle" fill="#111">WM</text>
<text x="575" y="803" font-size="59" font-weight="bold" text-anchor="middle" fill="#111">Layer_3</text>
<path d="M573 655L571 717" stroke="#111" stroke-width="7" fill="none"/>
<path d="M570 747L560 716.7L582 717.4Z" fill="#111"/>
</g>
<rect x="320.5" y="282.3" width="131.8" height="142.7" fill="none" stroke="#2e2e2e" stroke-width="1.2"/>
<text x="382.9" y="437" font-size="10.8" text-anchor="middle" fill="#1a1a1a" >spatial1</text>
<text x="314.3" y="350.8" font-size="10.8" text-anchor="middle" transform="rotate(-90 314.3 350.8)" fill="#1a1a1a" >spatial2</text>
<text x="540.3" y="275.4" font-size="12.2" text-anchor="middle" fill="#1a1a1a" >STAGATE (ARI=0.44)</text>
<g transform="translate(471.8 282.3) scale(0.17342 0.17276)">
<rect width="760" height="826" fill="#c5cac7"/>
<use href="#fid"/>
<use href="#he"/>
<g clip-path="url(#tis)">
<g filter="url(#rough)">
<rect x="-100" y="-100" width="960" height="1026" fill="#aa83c8"/>
<rect width="760" height="826" fill="#aa83c8"/>
<path d="M100 240 410 95 500 125 545 185 520 200 545 300 500 270 420 245 350 255 290 290 200 340 110 410 80 420 80 300Z" fill="#a67a8a"/>
<path d="M100 200 420 70 425 116 330 150 250 185 120 248Z" fill="#6fa583"/>
<path d="M520 40 560 50 585 85 560 80 535 72Z" fill="#6fa583"/>
<path d="M520 200C520 180.8 533.3 171.7 545 185C556.7 198.3 577.5 244.2 590 280C602.5 315.8 613.3 360 620 400C626.7 440 630 483.3 630 520C630 556.7 616.7 593.3 620 620C623.3 646.7 638.3 668.3 650 680C661.7 691.7 685 676.7 690 690C695 703.3 688.3 751.7 680 760C671.7 768.3 653.3 745 640 740C626.7 735 620 730 600 730C580 730 531.7 761.7 520 740C508.3 718.3 523.3 643.3 530 600C536.7 556.7 555.8 516.7 560 480C564.2 443.3 557.5 410 555 380C552.5 350 550.8 330 545 300C539.2 270 520 219.2 520 200Z" fill="#cf5f75"/>
<path d="M110 410 200 340 290 290 350 255 420 245 500 270 532 300 500 350 460 400 470 470 440 490 410 470 410 420 350 420 290 440 200 480 120 520 80 535 80 440Z" fill="#e98e5a"/>
<path d="M532 300 555 380 560 480 530 600 520 745 440 760 400 770 345 760 340 670 380 620 400 570 395 520 410 470 440 490 470 470 460 400 500 350Z" fill="#d684cb"/>
<path d="M80 420 112 425 118 520 80 535Z" fill="#d684cb"/>
<path d="M80 535 120 520 200 480 290 440 350 420 410 420 410 470 395 520 400 570 380 620 350 640 360 560 350 500 330 470 280 470 200 510 120 550 80 565Z" fill="#6fa583"/>
<path d="M60 790 88 562 120 550 200 510 280 470 330 470 350 500 360 560 350 640 340 670 345 740 320 790 250 800Z" fill="#6a8cc3"/>
<path d="M255 760 300 760 300 810 260 810Z" fill="#6fa583"/>
<path d="M385 740 420 735 425 775 390 775Z" fill="#6fa583"/>
<path d="M74 37C81.5 32.8 86.7 31.5 99 31C111.3 30.5 139.8 30.5 148 34C156.2 37.5 149.5 41.2 148 52C146.5 62.8 142.2 83 139 99C135.8 115 132 131.5 129 148C126 164.5 121.5 187.3 121 198C120.5 208.7 126.3 207.3 126 212C125.7 216.7 121 218.3 119 226C117 233.7 117.2 246.2 114 258C110.8 269.8 104.3 286.3 100 297C95.7 307.7 93.2 316.5 88 322C82.8 327.5 75.3 329.2 69 330C62.7 330.8 54.8 332.5 50 327C45.2 321.5 42.5 310.3 40 297C37.5 283.7 36.3 261.8 35 247C33.7 232.2 31.7 222 32 208C32.3 194 37.3 174.5 37 163C36.7 151.5 28.7 149.7 30 139C31.3 128.3 43.8 109 45 99C46.2 89 35.5 86.2 37 79C38.5 71.8 47.8 63 54 56C60.2 49 66.5 41.2 74 37Z" fill="#6fa583"/>
</g>
<rect width="760" height="826" fill="url(#spots)" opacity="0.22"/>
</g>
<text x="222" y="137" font-size="59" font-weight="bold" text-anchor="middle" fill="#111">Layer_1</text>
<text x="197" y="655" font-size="59" font-weight="bold" text-anchor="middle" fill="#111">WM</text>
</g>
<rect x="471.8" y="282.3" width="131.8" height="142.7" fill="none" stroke="#2e2e2e" stroke-width="1.2"/>
<text x="536.8" y="437" font-size="10.8" text-anchor="middle" fill="#1a1a1a" >spatial1</text>
<text x="465.6" y="350.8" font-size="10.8" text-anchor="middle" transform="rotate(-90 465.6 350.8)" fill="#1a1a1a" >spatial2</text>
<text x="692" y="275.4" font-size="12.2" text-anchor="middle" fill="#1a1a1a" >SEDR (ARI=0.46)</text>
<g transform="translate(624.3 282.3) scale(0.17368 0.17276)">
<rect width="760" height="826" fill="#c5cac7"/>
<use href="#fid"/>
<use href="#he"/>
<g clip-path="url(#tis)">
<g filter="url(#rough)">
<rect x="-100" y="-100" width="960" height="1026" fill="#e98e5a"/>
<rect width="760" height="826" fill="#e98e5a"/>
<path d="M110 216C125 209.2 171.7 188.5 200 175C228.3 161.5 255 146.3 280 135C305 123.7 330 113.3 350 107C370 100.7 383.3 100.2 400 97C416.7 93.8 433.3 92.5 450 88C466.7 83.5 486.7 75.2 500 70C513.3 64.8 525 59.2 530 57" stroke="#a97e90" stroke-width="26" fill="none"/>
<path d="M105 300C145 296.7 155.8 288.3 180 280C204.2 271.7 226.7 263.3 250 250C273.3 236.7 295 216.7 320 200C345 183.3 375 161.7 400 150C425 138.3 448.3 130 470 130C491.7 130 511.7 135 530 150C548.3 165 565 191.7 580 220C595 248.3 610 286.7 620 320C630 353.3 635 390 640 420C645 450 650 473.3 650 500C650 526.7 645 555 640 580C635 605 626.7 628.3 620 650C613.3 671.7 604.2 696.7 600 710C595.8 723.3 595.8 698.3 595 730C594.2 761.7 704.2 871.7 595 900C485.8 928.3 49.2 1000 -60 900C-169.2 800 -87.5 400 -60 300C-32.5 200 65 303.3 105 300Z" fill="#6fae83"/>
<path d="M95 368C130 365 127.5 359.3 150 350C172.5 340.7 205 326.2 230 312C255 297.8 276.7 279.5 300 265C323.3 250.5 346.7 235.5 370 225C393.3 214.5 419.2 203.7 440 202C460.8 200.3 479.2 203.7 495 215C510.8 226.3 524.8 249.2 535 270C545.2 290.8 551.3 315 556 340C560.7 365 561 393.3 563 420C565 446.7 568.5 473.3 568 500C567.5 526.7 563 555 560 580C557 605 553.3 625 550 650C546.7 675 541.7 688.3 540 730C538.3 771.7 640 871.7 540 900C440 928.3 40 988.7 -60 900C-160 811.3 -85.8 456.7 -60 368C-34.2 279.3 60 371 95 368Z" fill="#658bc2"/>
<path d="M90 480C125 475 126.7 463.3 150 450C173.3 436.7 205 415 230 400C255 385 278.3 370 300 360C321.7 350 341.7 340 360 340C378.3 340 396.7 346.7 410 360C423.3 373.3 431.7 396.7 440 420C448.3 443.3 458.3 473.3 460 500C461.7 526.7 456.7 555 450 580C443.3 605 428.3 626.7 420 650C411.7 673.3 404.2 700.8 400 720C395.8 739.2 395.8 735 395 765C394.2 795 470.8 877.5 395 900C319.2 922.5 15.8 970 -60 900C-135.8 830 -85 550 -60 480C-35 410 55 485 90 480Z" fill="#a880c7"/>
<path d="M88 540C124.7 538.3 136.3 540 160 530C183.7 520 208.3 493.3 230 480C251.7 466.7 271.7 454.2 290 450C308.3 445.8 325.8 448.3 340 455C354.2 461.7 367.5 472.5 375 490C382.5 507.5 385 535 385 560C385 585 379.2 613.3 375 640C370.8 666.7 364.2 701.7 360 720C355.8 738.3 351.7 720 350 750C348.3 780 418.3 875 350 900C281.7 925 8.3 960 -60 900C-128.3 840 -84.7 600 -60 540C-35.3 480 51.3 541.7 88 540Z" fill="#d486cc"/>
<path d="M82 572C122 570 153.7 570.3 180 560C206.3 549.7 220 516.7 240 510C260 503.3 281.3 515 300 520C318.7 525 346.7 526.7 352 540C357.3 553.3 337 580 332 600C327 620 328.7 641.7 322 660C315.3 678.3 300.3 693.3 292 710C283.7 726.7 276 745 272 760C268 775 268.7 776.7 268 800C267.3 823.3 322.7 883.3 268 900C213.3 916.7 -5.3 954.7 -60 900C-114.7 845.3 -83.7 626.7 -60 572C-36.3 517.3 42 574 82 572Z" fill="#cf4d78"/>
<path d="M74 37C81.5 32.8 86.7 31.5 99 31C111.3 30.5 139.8 30.5 148 34C156.2 37.5 149.5 41.2 148 52C146.5 62.8 142.2 83 139 99C135.8 115 132 131.5 129 148C126 164.5 121.5 187.3 121 198C120.5 208.7 126.3 207.3 126 212C125.7 216.7 121 218.3 119 226C117 233.7 117.2 246.2 114 258C110.8 269.8 104.3 286.3 100 297C95.7 307.7 93.2 316.5 88 322C82.8 327.5 75.3 329.2 69 330C62.7 330.8 54.8 332.5 50 327C45.2 321.5 42.5 310.3 40 297C37.5 283.7 36.3 261.8 35 247C33.7 232.2 31.7 222 32 208C32.3 194 37.3 174.5 37 163C36.7 151.5 28.7 149.7 30 139C31.3 128.3 43.8 109 45 99C46.2 89 35.5 86.2 37 79C38.5 71.8 47.8 63 54 56C60.2 49 66.5 41.2 74 37Z" fill="#b58a9e"/>
<path d="M50 148h0m15-15h0m-13 41h0m-9-15h0m7 39h0m25-16h0m5 30h0m-7 31h0m14 13h0m1-9h0" stroke="#e59168" stroke-width="16" stroke-linecap="round" fill="none"/>
</g>
<rect width="760" height="826" fill="url(#spots)" opacity="0.22"/>
</g>
<text x="415" y="28" font-size="59" font-weight="bold" text-anchor="middle" fill="#111">Layer_3</text>
<path d="M450 115L443.6 81.5" stroke="#111" stroke-width="7" fill="none"/>
<path d="M438 52L454.4 79.4L432.8 83.5Z" fill="#111"/>
<text x="237" y="152" font-size="59" font-weight="bold" text-anchor="middle" fill="#111">Layer_1</text>
<text x="185" y="655" font-size="59" font-weight="bold" text-anchor="middle" fill="#111">WM</text>
<text x="380" y="798" font-size="59" font-weight="bold" text-anchor="middle" fill="#111">Layer_5</text>
<path d="M495 620L459.9 719.7" stroke="#111" stroke-width="7" fill="none"/>
<path d="M450 748L449.6 716L470.3 723.3Z" fill="#111"/>
<text x="648" y="788" font-size="59" font-weight="bold" text-anchor="middle" fill="#111">Layer_4</text>
<path d="M595 540L616 698.3" stroke="#111" stroke-width="7" fill="none"/>
<path d="M620 728L605.1 699.7L626.9 696.8Z" fill="#111"/>
</g>
<rect x="624.3" y="282.3" width="132" height="142.7" fill="none" stroke="#2e2e2e" stroke-width="1.2"/>
<text x="692.5" y="437" font-size="10.8" text-anchor="middle" fill="#1a1a1a" >spatial1</text>
<text x="618.1" y="350.8" font-size="10.8" text-anchor="middle" transform="rotate(-90 618.1 350.8)" fill="#1a1a1a" >spatial2</text>
<text x="85.5" y="456.1" font-size="12.2" text-anchor="middle" fill="#1a1a1a" >SpaGCN (ARI=0.47)</text>
<g transform="translate(17.5 463) scale(0.17329 0.17312)">
<rect width="760" height="826" fill="#c5cac7"/>
<use href="#fid"/>
<use href="#he"/>
<g clip-path="url(#tis)">
<g filter="url(#rough)">
<rect x="-100" y="-100" width="960" height="1026" fill="#d26482"/>
<rect width="760" height="826" fill="#d26482"/>
<path d="M110 216C125 209.2 171.7 188.5 200 175C228.3 161.5 255 146.3 280 135C305 123.7 328.3 113.7 350 107C371.7 100.3 400 97 410 95" stroke="#6fa583" stroke-width="22" fill="none"/>
<path d="M520 40 560 50 600 130 585 135 550 80 530 70Z" fill="#6fa583"/>
<path d="M470 230C463.3 215 501.7 198.3 520 200C538.3 201.7 561.7 220 580 240C598.3 260 616.7 286.7 630 320C643.3 353.3 656.7 400 660 440C663.3 480 656.7 520 650 560C643.3 600 635 653.3 620 680C605 706.7 573.3 726.7 560 720C546.7 713.3 536.7 673.3 540 640C543.3 606.7 570 560 580 520C590 480 603.3 438.3 600 400C596.7 361.7 581.7 318.3 560 290C538.3 261.7 476.7 245 470 230Z" fill="#b47183"/>
<path d="M80 300C88.3 275.8 113.3 298.3 130 290C146.7 281.7 158.3 261.3 180 250C201.7 238.7 233.3 231.7 260 222C286.7 212.3 313.3 198.7 340 192C366.7 185.3 396.7 180.7 420 182C443.3 183.3 466.7 190.3 480 200C493.3 209.7 506.7 229.7 500 240C493.3 250.3 460 260 440 262C420 264 400 248.7 380 252C360 255.3 340 270.3 320 282C300 293.7 280 307 260 322C240 337 218.3 358.7 200 372C181.7 385.3 170 391.5 150 402C130 412.5 91.7 452 80 435C68.3 418 71.7 324.2 80 300Z" fill="#658bc2"/>
<path d="M92 430C127 425 132 410 150 400C168 390 181.7 383.3 200 370C218.3 356.7 240 335 260 320C280 305 300 291.7 320 280C340 268.3 360 256.7 380 250C400 243.3 423.3 238.3 440 240C456.7 241.7 466.7 250 480 260C493.3 270 508.3 283.3 520 300C531.7 316.7 541.7 336.7 550 360C558.3 383.3 566.7 413.3 570 440C573.3 466.7 573.3 493.3 570 520C566.7 546.7 555 576.7 550 600C545 623.3 540 638.3 540 660C540 681.7 548.3 690 550 730C551.7 770 651.7 871.7 550 900C448.3 928.3 41.7 978.3 -60 900C-161.7 821.7 -85.3 508.3 -60 430C-34.7 351.7 57 435 92 430Z" fill="#a77fc6"/>
<path d="M350 262C363.3 255.3 398.3 248.7 420 250C441.7 251.3 463.3 260 480 270C496.7 280 508.3 293.3 520 310C531.7 326.7 542.5 346.7 550 370C557.5 393.3 563.3 423.3 565 450C566.7 476.7 564.2 503.3 560 530C555.8 556.7 544.2 585 540 610C535.8 635 533.7 658.3 535 680C536.3 701.7 563.8 726.7 548 740C532.2 753.3 459.7 766.7 440 760C420.3 753.3 430 723.3 430 700C430 676.7 436.7 646.7 440 620C443.3 593.3 450 565 450 540C450 515 445 490 440 470C435 450 426.7 431.7 420 420C413.3 408.3 410 415 400 400C390 385 370 348.3 360 330C350 311.7 341.7 301.3 340 290C338.3 278.7 336.7 268.7 350 262Z" fill="#d688cc"/>
<path d="M70 420C80 408 113.3 406.7 130 410C146.7 413.3 170 430 170 440C170 450 146.7 463 130 470C113.3 477 80 490.3 70 482C60 473.7 60 432 70 420Z" fill="#d688cc"/>
<path d="M86 542C119.3 538.3 121 530 140 520C159 510 173.3 495.3 200 482C226.7 468.7 266.7 450.3 300 440C333.3 429.7 380 413.3 400 420C420 426.7 420 456.7 420 480C420 503.3 408.3 533.3 400 560C391.7 586.7 379.2 616.7 370 640C360.8 663.3 348.3 681.7 345 700C341.7 718.3 349.2 716.7 350 750C350.8 783.3 418.3 875 350 900C281.7 925 8.3 959.7 -60 900C-128.3 840.3 -84.3 601.7 -60 542C-35.7 482.3 52.7 545.7 86 542Z" fill="#6fa583"/>
<path d="M335 700C341.7 678.3 352.5 646.7 370 640C387.5 633.3 428.3 640 440 660C451.7 680 458.3 741.7 440 760C421.7 778.3 347.5 780 330 770C312.5 760 328.3 721.7 335 700Z" fill="#a77fc6"/>
<path d="M82 572C115.3 568.3 120.3 560 140 550C159.7 540 173.3 525.3 200 512C226.7 498.7 273.3 472 300 470C326.7 468 349.2 485 360 500C370.8 515 366.7 536.7 365 560C363.3 583.3 355.8 613.3 350 640C344.2 666.7 335 696.7 330 720C325 743.3 321.7 750 320 780C318.3 810 383.3 880 320 900C256.7 920 3.3 954.7 -60 900C-123.3 845.3 -83.7 626.7 -60 572C-36.3 517.3 48.7 575.7 82 572Z" fill="#ea8d56"/>
<path d="M385 740 440 735 440 775 390 775Z" fill="#6fa583"/>
<path d="M74 37C81.5 32.8 86.7 31.5 99 31C111.3 30.5 139.8 30.5 148 34C156.2 37.5 149.5 41.2 148 52C146.5 62.8 142.2 83 139 99C135.8 115 132 131.5 129 148C126 164.5 121.5 187.3 121 198C120.5 208.7 126.3 207.3 126 212C125.7 216.7 121 218.3 119 226C117 233.7 117.2 246.2 114 258C110.8 269.8 104.3 286.3 100 297C95.7 307.7 93.2 316.5 88 322C82.8 327.5 75.3 329.2 69 330C62.7 330.8 54.8 332.5 50 327C45.2 321.5 42.5 310.3 40 297C37.5 283.7 36.3 261.8 35 247C33.7 232.2 31.7 222 32 208C32.3 194 37.3 174.5 37 163C36.7 151.5 28.7 149.7 30 139C31.3 128.3 43.8 109 45 99C46.2 89 35.5 86.2 37 79C38.5 71.8 47.8 63 54 56C60.2 49 66.5 41.2 74 37Z" fill="#6fa583"/>
<path d="M438 200h0m39 7h0m-4 4h0m-27 3h0m-27-3h0m-7 19h0m-14-18h0m-10 4h0m-34 9h0m-12-7h0m-112 38h0m34 8h0m2-7h0m6-9h0m31 20h0m1-19h0m6-6h0m1 2h0m14 13h0m25 3h0m8-15h0m2-2h0m23 12h0m46 2h0m18-18h0m-53 37h0m-75 13h0m0 3h0m-22-14h0m-20 13h0m-22 5h0m-58-14h0m26 31h0m5 11h0m25-24h0m40 25h0m43-14h0m27-9h0m11-3h0m-109 30h0" stroke="#cf6076" stroke-width="16" stroke-linecap="round" fill="none"/>
<path d="M363 269h0m40 0h0m24-2h0m17-4h0m-4 27h0m-1 5h0m-22-19h0m-8 46h0m8-17h0m98 47h0m-73-13h0m-19 7h0m-38-15h0m128 56h0m-13 32h0m-22-12h0m-16 9h0m39 35h0m-49 115h0m50-21h0m33 36h0m-25 33h0m18-8h0m-12 35h0m-35 27h0m23 18h0m29-26h0m-32 44h0m-33 9h0m34 9h0" stroke="#a77fc6" stroke-width="14" stroke-linecap="round" fill="none"/>
</g>
<rect width="760" height="826" fill="url(#spots)" opacity="0.22"/>
</g>
<text x="237" y="142" font-size="59" font-weight="bold" text-anchor="middle" fill="#111">Layer_1</text>
<text x="650" y="78" font-size="59" font-weight="bold" text-anchor="middle" fill="#111">Layer_3</text>
<path d="M612 222L663.2 132.1" stroke="#111" stroke-width="7" fill="none"/>
<path d="M678 106L672.7 137.5L653.6 126.6Z" fill="#111"/>
<text x="217" y="650" font-size="59" font-weight="bold" text-anchor="middle" fill="#111">WM</text>
<text x="365" y="808" font-size="59" font-weight="bold" text-anchor="middle" fill="#111">Layer_6</text>
<path d="M418 540L363 739.1" stroke="#111" stroke-width="7" fill="none"/>
<path d="M355 768L352.4 736.2L373.6 742Z" fill="#111"/>
<text x="625" y="793" font-size="59" font-weight="bold" text-anchor="middle" fill="#111">Layer_5</text>
<path d="M487 580L528.8 709.5" stroke="#111" stroke-width="7" fill="none"/>
<path d="M538 738L518.3 712.8L539.3 706.1Z" fill="#111"/>
</g>
<rect x="17.5" y="463" width="131.7" height="143" fill="none" stroke="#2e2e2e" stroke-width="1.2"/>
<text x="75.2" y="618" font-size="10.8" text-anchor="middle" fill="#1a1a1a" >spatial1</text>
<text x="11.3" y="531.6" font-size="10.8" text-anchor="middle" transform="rotate(-90 11.3 531.6)" fill="#1a1a1a" >spatial2</text>
<text x="236" y="456.1" font-size="12.2" text-anchor="middle" fill="#1a1a1a" >stLearn (ARI=0.50)</text>
<g transform="translate(171.6 463) scale(0.17342 0.17312)">
<rect width="760" height="826" fill="#c5cac7"/>
<use href="#fid"/>
<use href="#he"/>
<g clip-path="url(#tis)">
<g filter="url(#rough)">
<rect x="-100" y="-100" width="960" height="1026" fill="#dc88cf"/>
<rect width="760" height="826" fill="#dc88cf"/>
<path d="M100 310C136.7 306.7 138.3 298.3 160 290C181.7 281.7 206.7 271.7 230 260C253.3 248.3 280 233.3 300 220C320 206.7 330 190 350 180C370 170 395 165 420 160C445 155 476.7 146.7 500 150C523.3 153.3 543.3 163.3 560 180C576.7 196.7 588.3 225 600 250C611.7 275 623.3 301.7 630 330C636.7 358.3 637.5 388.3 640 420C642.5 451.7 645 490 645 520C645 550 644.2 573.3 640 600C635.8 626.7 626.7 658.3 620 680C613.3 701.7 603.3 693.3 600 730C596.7 766.7 710 871.7 600 900C490 928.3 50 998.3 -60 900C-170 801.7 -86.7 408.3 -60 310C-33.3 211.7 63.3 313.3 100 310Z" fill="#a8707e"/>
<path d="M95 390C131.7 386.7 137.5 380 160 370C182.5 360 206.7 343.3 230 330C253.3 316.7 276.7 300.8 300 290C323.3 279.2 346.7 270 370 265C393.3 260 418.3 257.5 440 260C461.7 262.5 484.2 268.3 500 280C515.8 291.7 525.8 310 535 330C544.2 350 550.8 375 555 400C559.2 425 559.2 453.3 560 480C560.8 506.7 562.5 533.3 560 560C557.5 586.7 550 610 545 640C540 670 532.5 696.7 530 740C527.5 783.3 628.3 873.3 530 900C431.7 926.7 38.3 985 -60 900C-158.3 815 -85.8 475 -60 390C-34.2 305 58.3 393.3 95 390Z" fill="#e98e5a"/>
<path d="M95 500C131.7 498.3 137.5 500 160 490C182.5 480 208.3 456.7 230 440C251.7 423.3 270 403.3 290 390C310 376.7 330 367.5 350 360C370 352.5 392.5 343.3 410 345C427.5 346.7 443.3 357.5 455 370C466.7 382.5 475 398.3 480 420C485 441.7 486.7 475 485 500C483.3 525 477.5 550 470 570C462.5 590 447.5 601.7 440 620C432.5 638.3 426.7 656.7 425 680C423.3 703.3 429.2 723.3 430 760C430.8 796.7 511.7 876.7 430 900C348.3 923.3 21.7 966.7 -60 900C-141.7 833.3 -85.8 566.7 -60 500C-34.2 433.3 58.3 501.7 95 500Z" fill="#658bc2"/>
<path d="M90 525C130 522.2 153.3 508.5 180 508C206.7 507.5 230 520.7 250 522C270 523.3 281.7 517 300 516C318.3 515 344.2 510.3 360 516C375.8 521.7 388.3 536 395 550C401.7 564 401.7 581.7 400 600C398.3 618.3 387.5 633.3 385 660C382.5 686.7 385 720 385 760C385 800 459.2 876.7 385 900C310.8 923.3 14.2 962.5 -60 900C-134.2 837.5 -85 587.5 -60 525C-35 462.5 50 527.8 90 525Z" fill="#a77fc6"/>
<path d="M200 620C207.5 596.7 233.3 576.7 250 560C266.7 543.3 283.3 527.5 300 520C316.7 512.5 335 509.2 350 515C365 520.8 384.2 537.5 390 555C395.8 572.5 392.5 599.2 385 620C377.5 640.8 353.3 656.7 345 680C336.7 703.3 360.8 743.3 335 760C309.2 776.7 211.7 790 190 780C168.3 770 203.3 726.7 205 700C206.7 673.3 192.5 643.3 200 620Z" fill="#d24f74"/>
<path d="M125 200C141.7 191.7 213.3 174.2 230 175C246.7 175.8 235 195 225 205C215 215 185.8 231.7 170 235C154.2 238.3 137.5 230.8 130 225C122.5 219.2 108.3 208.3 125 200Z" fill="#6fb183"/>
<path d="M74 37C81.5 32.8 86.7 31.5 99 31C111.3 30.5 139.8 30.5 148 34C156.2 37.5 149.5 41.2 148 52C146.5 62.8 142.2 83 139 99C135.8 115 132 131.5 129 148C126 164.5 121.5 187.3 121 198C120.5 208.7 126.3 207.3 126 212C125.7 216.7 121 218.3 119 226C117 233.7 117.2 246.2 114 258C110.8 269.8 104.3 286.3 100 297C95.7 307.7 93.2 316.5 88 322C82.8 327.5 75.3 329.2 69 330C62.7 330.8 54.8 332.5 50 327C45.2 321.5 42.5 310.3 40 297C37.5 283.7 36.3 261.8 35 247C33.7 232.2 31.7 222 32 208C32.3 194 37.3 174.5 37 163C36.7 151.5 28.7 149.7 30 139C31.3 128.3 43.8 109 45 99C46.2 89 35.5 86.2 37 79C38.5 71.8 47.8 63 54 56C60.2 49 66.5 41.2 74 37Z" fill="#a98ccb"/>
</g>
<rect width="760" height="826" fill="url(#spots)" opacity="0.22"/>
</g>
<text x="270" y="62" font-size="59" font-weight="bold" text-anchor="middle" fill="#111">Layer_3</text>
<path d="M338 150L296.5 87" stroke="#111" stroke-width="7" fill="none"/>
<path d="M280 62L305.7 81L287.3 93.1Z" fill="#111"/>
<text x="615" y="62" font-size="59" font-weight="bold" text-anchor="middle" fill="#111">Layer_4</text>
<path d="M510 225L614 108.4" stroke="#111" stroke-width="7" fill="none"/>
<path d="M634 86L622.2 115.7L605.8 101.1Z" fill="#111"/>
<text x="365" y="798" font-size="59" font-weight="bold" text-anchor="middle" fill="#111">Layer_6</text>
<path d="M385 640L360.1 729.1" stroke="#111" stroke-width="7" fill="none"/>
<path d="M352 758L349.5 726.1L370.7 732.1Z" fill="#111"/>
<text x="630" y="788" font-size="59" font-weight="bold" text-anchor="middle" fill="#111">Layer_5</text>
<path d="M505 622L582.7 714.1" stroke="#111" stroke-width="7" fill="none"/>
<path d="M602 737L574.2 721.2L591.1 707Z" fill="#111"/>
</g>
<rect x="171.6" y="463" width="131.8" height="143" fill="none" stroke="#2e2e2e" stroke-width="1.2"/>
<text x="234" y="618" font-size="10.8" text-anchor="middle" fill="#1a1a1a" >spatial1</text>
<text x="165.4" y="531.6" font-size="10.8" text-anchor="middle" transform="rotate(-90 165.4 531.6)" fill="#1a1a1a" >spatial2</text>
<text x="386.6" y="456.1" font-size="12.2" text-anchor="middle" fill="#1a1a1a" >CCST (ARI=0.52)</text>
<g transform="translate(322.7 463) scale(0.17408 0.17312)">
<rect width="760" height="826" fill="#c5cac7"/>
<use href="#fid"/>
<use href="#he"/>
<g clip-path="url(#tis)">
<g filter="url(#rough)">
<rect x="-100" y="-100" width="960" height="1026" fill="#6a8cc3"/>
<rect width="760" height="826" fill="#6a8cc3"/>
<path d="M90 195 410 60 418 115 330 165 250 200 180 230 100 268Z" fill="#cf6076"/>
<path d="M500 75 520 40 570 40 600 120 560 132 530 95Z" fill="#cf6076"/>
<path d="M95 360C131.7 355 137.5 341.7 160 330C182.5 318.3 206.7 303.3 230 290C253.3 276.7 275 260.8 300 250C325 239.2 353.3 229.2 380 225C406.7 220.8 438.3 219.2 460 225C481.7 230.8 495 242.5 510 260C525 277.5 536.7 303.3 550 330C563.3 356.7 585 388.3 590 420C595 451.7 580 490 580 520C580 550 591.7 575 590 600C588.3 625 571.7 647.5 570 670C568.3 692.5 578.3 696.7 580 735C581.7 773.3 686.7 872.5 580 900C473.3 927.5 46.7 990 -60 900C-166.7 810 -85.8 450 -60 360C-34.2 270 58.3 365 95 360Z" fill="#a57cc6"/>
<path d="M215 480C220 466.7 240.8 450.8 260 440C279.2 429.2 310 418.3 330 415C350 411.7 366.7 410.8 380 420C393.3 429.2 404.2 446.7 410 470C415.8 493.3 416.7 535 415 560C413.3 585 407.5 600 400 620C392.5 640 370.8 655 370 680C369.2 705 403.7 756.7 395 770C386.3 783.3 329.7 781.7 318 760C306.3 738.3 322.2 673.3 325 640C327.8 606.7 335.8 580 335 560C334.2 540 330.8 528.3 320 520C309.2 511.7 285 510 270 510C255 510 239.2 525 230 520C220.8 515 210 493.3 215 480Z" fill="#6fa583"/>
<path d="M70 512C91.7 496.2 174.2 480.3 200 480C225.8 479.7 226.7 500 225 510C223.3 520 215.8 529.2 190 540C164.2 550.8 90 579.7 70 575C50 570.3 48.3 527.8 70 512Z" fill="#a87a8c"/>
<path d="M60 780 86 572 190 540 230 515 270 510 320 520 335 560 325 640 320 735 300 790 270 810 250 790Z" fill="#ea8d56"/>
<path d="M74 37C81.5 32.8 86.7 31.5 99 31C111.3 30.5 139.8 30.5 148 34C156.2 37.5 149.5 41.2 148 52C146.5 62.8 142.2 83 139 99C135.8 115 132 131.5 129 148C126 164.5 121.5 187.3 121 198C120.5 208.7 126.3 207.3 126 212C125.7 216.7 121 218.3 119 226C117 233.7 117.2 246.2 114 258C110.8 269.8 104.3 286.3 100 297C95.7 307.7 93.2 316.5 88 322C82.8 327.5 75.3 329.2 69 330C62.7 330.8 54.8 332.5 50 327C45.2 321.5 42.5 310.3 40 297C37.5 283.7 36.3 261.8 35 247C33.7 232.2 31.7 222 32 208C32.3 194 37.3 174.5 37 163C36.7 151.5 28.7 149.7 30 139C31.3 128.3 43.8 109 45 99C46.2 89 35.5 86.2 37 79C38.5 71.8 47.8 63 54 56C60.2 49 66.5 41.2 74 37Z" fill="#d394cf"/>
</g>
<rect width="760" height="826" fill="url(#spots)" opacity="0.22"/>
</g>
<text x="380" y="62" font-size="59" font-weight="bold" text-anchor="middle" fill="#111">Layer_3</text>
<path d="M478 180L442.8 105.1" stroke="#111" stroke-width="7" fill="none"/>
<path d="M430 78L452.7 100.5L432.8 109.8Z" fill="#111"/>
<text x="227" y="650" font-size="59" font-weight="bold" text-anchor="middle" fill="#111">WM</text>
<text x="515" y="800" font-size="59" font-weight="bold" text-anchor="middle" fill="#111">Layer_5</text>
<path d="M495 665L514.8 714.2" stroke="#111" stroke-width="7" fill="none"/>
<path d="M526 742L504.6 718.3L525 710.1Z" fill="#111"/>
</g>
<rect x="322.7" y="463" width="132.3" height="143" fill="none" stroke="#2e2e2e" stroke-width="1.2"/>
<text x="386.2" y="618" font-size="10.8" text-anchor="middle" fill="#1a1a1a" >spatial1</text>
<text x="316.5" y="531.6" font-size="10.8" text-anchor="middle" transform="rotate(-90 316.5 531.6)" fill="#1a1a1a" >spatial2</text>
<text x="540.8" y="456.1" font-size="12.2" text-anchor="middle" fill="#1a1a1a" >SpaNCMG (ARI=0.63)</text>
<g transform="translate(473.8 463) scale(0.17434 0.17312)">
<rect width="760" height="826" fill="#c5cac7"/>
<use href="#fid"/>
<use href="#he"/>
<g clip-path="url(#tis)">
<g filter="url(#rough)">
<rect x="-100" y="-100" width="960" height="1026" fill="#6fa583"/>
<rect width="760" height="826" fill="#6fa583"/>
<path d="M115 262C129.2 256.7 172.5 242 200 230C227.5 218 253.3 203.3 280 190C306.7 176.7 333.3 162.5 360 150C386.7 137.5 416.7 123.3 440 115C463.3 106.7 483.3 100 500 100C516.7 100 526.7 103.3 540 115C553.3 126.7 566.7 147.5 580 170C593.3 192.5 608.3 223.3 620 250C631.7 276.7 640.8 301.7 650 330C659.2 358.3 668.3 391.7 675 420C681.7 448.3 686.7 473.3 690 500C693.3 526.7 695 555 695 580C695 605 692.5 625.8 690 650C687.5 674.2 681.7 712.5 680 725" stroke="#a97c8c" stroke-width="30" fill="none"/>
<path d="M115 262C158.3 256.7 172.5 242 200 230C227.5 218 253.3 203.3 280 190C306.7 176.7 333.3 162.5 360 150C386.7 137.5 416.7 123.3 440 115C463.3 106.7 483.3 100 500 100C516.7 100 526.7 103.3 540 115C553.3 126.7 566.7 147.5 580 170C593.3 192.5 608.3 223.3 620 250C631.7 276.7 640.8 301.7 650 330C659.2 358.3 668.3 391.7 675 420C681.7 448.3 686.7 473.3 690 500C693.3 526.7 695 555 695 580C695 605 692.5 625.8 690 650C687.5 674.2 681.7 683.3 680 725C678.3 766.7 803.3 870.8 680 900C556.7 929.2 63.3 1006.3 -60 900C-183.3 793.7 -89.2 368.3 -60 262C-30.8 155.7 71.7 267.3 115 262Z" fill="#a67ec6"/>
<path d="M100 340C135 335 130 320 150 310C170 300 196.7 290 220 280C243.3 270 268.3 260 290 250C311.7 240 331.7 230.8 350 220C368.3 209.2 380 192.5 400 185C420 177.5 450 172.5 470 175C490 177.5 505 187.5 520 200C535 212.5 548.3 231.7 560 250C571.7 268.3 581.7 288.3 590 310C598.3 331.7 604.2 356.7 610 380C615.8 403.3 622.5 426.7 625 450C627.5 473.3 627.5 495 625 520C622.5 545 615.8 575 610 600C604.2 625 595 648.3 590 670C585 691.7 581.7 691.7 580 730C578.3 768.3 686.7 871.7 580 900C473.3 928.3 46.7 993.3 -60 900C-166.7 806.7 -86.7 433.3 -60 340C-33.3 246.7 65 345 100 340Z" fill="#ea8d56"/>
<path d="M95 410C130 403.3 129.2 383.3 150 370C170.8 356.7 196.7 343.3 220 330C243.3 316.7 266.7 303.3 290 290C313.3 276.7 338.3 259.2 360 250C381.7 240.8 401.7 236.7 420 235C438.3 233.3 455 235 470 240C485 245 497.5 251.7 510 265C522.5 278.3 535 299.2 545 320C555 340.8 564.2 366.7 570 390C575.8 413.3 580 436.7 580 460C580 483.3 575 506.7 570 530C565 553.3 556.7 578.3 550 600C543.3 621.7 535 636.7 530 660C525 683.3 521.7 700 520 740C518.3 780 616.7 873.3 520 900C423.3 926.7 36.7 981.7 -60 900C-156.7 818.3 -85.8 491.7 -60 410C-34.2 328.3 60 416.7 95 410Z" fill="#d988cf"/>
<path d="M90 490C125 484.2 128.3 466.7 150 455C171.7 443.3 200 432.5 220 420C240 407.5 251.7 390.8 270 380C288.3 369.2 310 360.8 330 355C350 349.2 371.7 342.5 390 345C408.3 347.5 426.7 357.5 440 370C453.3 382.5 463.3 401.7 470 420C476.7 438.3 480 460 480 480C480 500 475 520 470 540C465 560 456.7 580 450 600C443.3 620 435 640 430 660C425 680 423.3 702.5 420 720C416.7 737.5 411.7 735 410 765C408.3 795 488.3 877.5 410 900C331.7 922.5 18.3 968.3 -60 900C-138.3 831.7 -85 558.3 -60 490C-35 421.7 55 495.8 90 490Z" fill="#658bc2"/>
<path d="M82 582C122 576.7 150.3 563.7 180 550C209.7 536.3 236.7 510.8 260 500C283.3 489.2 305 483.3 320 485C335 486.7 344.2 495.8 350 510C355.8 524.2 355 546.7 355 570C355 593.3 352.5 625 350 650C347.5 675 342.5 701.7 340 720C337.5 738.3 335.8 730 335 760C334.2 790 400.8 876.7 335 900C269.2 923.3 5.8 953 -60 900C-125.8 847 -83.7 635 -60 582C-36.3 529 42 587.3 82 582Z" fill="#d04b6e"/>
<path d="M74 37C81.5 32.8 86.7 31.5 99 31C111.3 30.5 139.8 30.5 148 34C156.2 37.5 149.5 41.2 148 52C146.5 62.8 142.2 83 139 99C135.8 115 132 131.5 129 148C126 164.5 121.5 187.3 121 198C120.5 208.7 126.3 207.3 126 212C125.7 216.7 121 218.3 119 226C117 233.7 117.2 246.2 114 258C110.8 269.8 104.3 286.3 100 297C95.7 307.7 93.2 316.5 88 322C82.8 327.5 75.3 329.2 69 330C62.7 330.8 54.8 332.5 50 327C45.2 321.5 42.5 310.3 40 297C37.5 283.7 36.3 261.8 35 247C33.7 232.2 31.7 222 32 208C32.3 194 37.3 174.5 37 163C36.7 151.5 28.7 149.7 30 139C31.3 128.3 43.8 109 45 99C46.2 89 35.5 86.2 37 79C38.5 71.8 47.8 63 54 56C60.2 49 66.5 41.2 74 37Z" fill="#6fa583"/>
<path d="M132 38h0m-20 8h0m-27-4h0m-5-6h0m-38 51h0m79-5h0m-26 8h0m-15 1h0m-25 11h0m-5-12h0m-5 38h0m3 11h0m15 5h0m23-16h0m38 46h0m-16-18h0m-8 7h0m-5 16h0m-8-6h0m-19-11h0m-1 3h0m-21-12h0m-5 39h0m5 6h0m3 6h0m28-19h0m20 15h0m17 23h0m-20-5h0m-22 17h0m-13-12h0m-21 31h0m11 3h0m3-12h0m16 13h0m1 11h0m4-14h0m29-11h0m-46 62h0m22 2h0" stroke="#a67ec6" stroke-width="16" stroke-linecap="round" fill="none"/>
</g>
<rect width="760" height="826" fill="url(#spots)" opacity="0.22"/>
</g>
</g>
<rect x="473.8" y="463" width="132.5" height="143" fill="none" stroke="#2e2e2e" stroke-width="1.2"/>
<text x="540.2" y="618" font-size="10.8" text-anchor="middle" fill="#1a1a1a" >spatial1</text>
<text x="467.6" y="531.6" font-size="10.8" text-anchor="middle" transform="rotate(-90 467.6 531.6)" fill="#1a1a1a" >spatial2</text>
<circle cx="632.3" cy="480.6" r="5.1" fill="#2ca02c"/>
<text x="650.1" y="485.1" font-size="12.6" text-anchor="start" fill="#1a1a1a" >Layer_1</text>
<circle cx="632.3" cy="498" r="5.1" fill="#8c564b"/>
<text x="650.1" y="502.5" font-size="12.6" text-anchor="start" fill="#1a1a1a" >Layer_2</text>
<circle cx="632.3" cy="515.3" r="5.1" fill="#9467bd"/>
<text x="650.1" y="519.8" font-size="12.6" text-anchor="start" fill="#1a1a1a" >Layer_3</text>
<circle cx="632.3" cy="532.6" r="5.1" fill="#ff7f0e"/>
<text x="650.1" y="537.1" font-size="12.6" text-anchor="start" fill="#1a1a1a" >Layer_4</text>
<circle cx="632.3" cy="550" r="5.1" fill="#e377c2"/>
<text x="650.1" y="554.5" font-size="12.6" text-anchor="start" fill="#1a1a1a" >Layer_5</text>
<circle cx="632.3" cy="567.4" r="5.1" fill="#1f77b4"/>
<text x="650.1" y="571.9" font-size="12.6" text-anchor="start" fill="#1a1a1a" >Layer_6</text>
<circle cx="632.3" cy="584.7" r="5.1" fill="#d62728"/>
<text x="650.1" y="589.2" font-size="12.6" text-anchor="start" fill="#1a1a1a" >WM</text>
<text x="84.5" y="647.7" font-size="12.2" text-anchor="middle" fill="#1a1a1a" >Seurat (ARI=0.25)</text>
<g><path d="M46 668.2 44.8 671 45.3 673 44 674.2 44.2 677.1 43.5 679.5 43.5 681.4 45.6 683.6 45.8 685.4 47 687.5 49.6 686.6 51.9 685.3 54.4 684.9 56.5 682.7 57.4 682.3 59.9 682.5 61.3 683 65.2 682.9 65.9 683.4 68.6 683.5 70 683.8 73.5 683.8 74.8 685.9 75.8 687.4 78.4 688.6 78.9 689.6 80.8 691.1 81.9 693.3 83.4 695.3 84.8 697.1 84 700.3 85.6 701.2 85.7 704.5 87.7 703.4 90.5 701.7 91.3 700.6 93.3 699.4 94.2 697.4 95.6 696.7 95.7 694.3 96.7 692.8 97.3 690.4 96.2 688.3 97.3 685.6 96.7 683.2 96.3 680.8 94.3 679.1 93 676.9 92.6 676.5 90.5 673.2 89.9 672.6 87.3 670.3 86 669.4 83.4 667.9 82.4 666.4 79.2 665.5 77.3 665.7 76.7 665.3 73.2 664.1 71.9 663.5 68.8 661.9 66.7 661.4 64.9 661.2 62.3 660.7 61.2 661.3 57.8 661.9 56 662.6 54.4 662.1 51.5 662.5 51.5 663.2 49.3 665.9 46.6 666.1Z" fill="#d62728"/><path transform="scale(.1)" d="M602 6597h0m-21 2h0m-76 27h0m7-15h0m2-4h0m8 12h0m10 5h0m1-15h0m11 19h0m10 1h0m1-22h0m3-5h0m0 17h0m20-2h0m4-11h0m4-4h0m17 5h0m7 4h0m9 9h0m6-6h0m5 0h0m11-2h0m4-9h0m5 16h0m4 3h0m1-11h0m17 9h0m10-8h0m0 15h0m6-15h0m8 0h0m6-4h0m10 8h0m13 10h0m36-3h0m71 34h0m-11-2h0m-17 4h0m-7-6h0m-5-14h0m-13 0h0m-3-2h0m-3-1h0m-1 15h0m-12-19h0m-1 14h0m-251 9h0m-2-22h0m-4 13h0m-4-6h0m-1 12h0m-1 3h0m-4-20h0m-6 8h0m-4-5h0m-5 20h0m-1-5h0m-22 6h0m-18 16h0m2 1h0m0 13h0m23-4h0m7 2h0m6-21h0m2 1h0m4 9h0m327 3h0m3-2h0m9-13h0m33 21h0m37 31h0m-2-19h0m-4 11h0m-1-14h0m0 8h0m-2 11h0m-18-18h0m-7 4h0m-17-5h0m-378 25h0m-1-3h0m-1-10h0m0 10h0m-1-18h0m-6 2h0m-7-6h0m-2 6h0m-13 43h0m3-8h0m14 6h0m10-16h0m1-1h0m1 9h0m420-11h0m33 18h0m47 32h0m-12 1h0m-12-14h0m-1 9h0m-12 5h0m-471 2h0m-5-11h0m-24-7h0m-2 10h0m-5 17h0m5 18h0m1-21h0m7 16h0m2-9h0m1 19h0m1-8h0m9-17h0m0 19h0m1 5h0m2-16h0m1-9h0m0 8h0m491-2h0m12 12h0m1-16h0m20 0h0m0 10h0m6 1h0m0 10h0m3 1h0m3 0h0m-1 21h0m-2 10h0m-4-22h0m-6-1h0m-1 21h0m-2-12h0m0 6h0m-7 3h0m-9-5h0m-216 12h0m-3 0h0m-21-11h0m-1 3h0m-3 4h0m-10-8h0m-10 13h0m-15-10h0m-4 1h0m-8 1h0m-5-4h0m-2 4h0m-20-7h0m-6 10h0m-2-7h0m-17-9h0m-1 14h0m-6-5h0m-3-1h0m-8 13h0m-15-7h0m-4-8h0m-3-2h0m-5 4h0m-3 3h0m-4 6h0m-6-7h0m-9 10h0m-10-3h0m-59 4h0m-15-2h0m-3 2h0m-3-12h0m-3-16h0m-6 5h0m-2-6h0m0 18h0m-3 2h0m-2-11h0m7 28h0m27 4h0m9 0h0m7 2h0m5 13h0m22-3h0m3-3h0m17-8h0m4 13h0m2-19h0m2 11h0m12-3h0m12-13h0m2 4h0m3-3h0m4 5h0m4-1h0m3-6h0m69 7h0m17-2h0m3 2h0m25-5h0m7 10h0m19 1h0m5-9h0m1-4h0m4 8h0m4 14h0m6 7h0m18-11h0m9 6h0m196 3h0m5-2h0m5-12h0m0 11h0m1 5h0m17 21h0m-10-14h0m-3 5h0m-5-9h0m-6 12h0m-161 9h0m-14 5h0m-5-3h0m-5-16h0m-6-3h0m-5 6h0m-7 15h0m-5-24h0m-1 6h0m-4-3h0m-3 11h0m-250-7h0m-4 3h0m-4-7h0m-4 0h0m-15 9h0m-3-5h0m-4 11h0m-10-17h0m336 32h0m4 2h0m0 20h0m1-10h0m1-12h0m1 23h0m1-20h0m0 1h0m22 11h0m0 4h0m1-1h0m1-13h0m10 17h0m132-6h0m7 5h0m1 1h0m10-25h0m4 10h0m7 1h0m-8 29h0m-9 7h0m-2-17h0m-4 13h0m-5-3h0m-3 10h0m-3-19h0m0 16h0m-5 0h0m0 5h0m-8-7h0m-5 8h0m0 2h0m-102-3h0m-5-19h0m-13-6h0m0 24h0m-10-5h0m20 27h0m8-2h0m5 7h0m6-13h0m87 16h0m4-15h0m0 1h0m0 4h0m2-14h0m26 2h0m-20 49h0m-3-21h0m-2 16h0m-2-12h0m-3 5h0m-2-6h0m-7 18h0m-35 4h0m-36-12h0m0 15h0m-15-6h0m-13-3h0m-3-10h0m0 1h0m15 49h0m5-20h0m11 10h0m0 3h0m26 0h0m0 7h0m4-12h0m1-11h0m1-4h0m18 1h0m10 13h0m4-4h0m-55 26h0m-11-7h0m-5 0h0" stroke="#d62728" stroke-width="19" stroke-linecap="round" fill="none"/><path transform="scale(.1)" d="M555 6590h0m-1-5h0m-27 15h0m241 6h0m7 12h0m-350 68h0m9-17h0m-10 47h0m-8-3h0m552 49h0m-560 47h0m2 0h0m212 47h0m-116 42h0m244 9h0m234 66h0" stroke="#d62728" stroke-width="19" stroke-linecap="round" fill="none"/><path transform="scale(.1)" d="M665 6618h0m10 5h0m3 3h0m90 28h0m-24 3h0m-49-4h0m-7-13h0m-30 18h0m-5-28h0m-36 7h0m-19 8h0m-3-4h0m-7 2h0m-11 10h0m-24-15h0m-10 3h0m-22 7h0m-44 27h0m24-2h0m38-10h0m25 22h0m18-12h0m1-13h0m46 11h0m47-8h0m34 13h0m20 13h0m13-14h0m2-8h0m11-1h0m76 48h0m-40-16h0m-23 0h0m-1 1h0m-18 16h0m-17-8h0m-11-6h0m-22 4h0m-11-12h0m-65 16h0m-3-17h0m-144 16h0m-20-3h0m-3 28h0m31 1h0m2-5h0m15 7h0m36 9h0m58-2h0m8-16h0m8 21h0m12-27h0m1 27h0m14-25h0m32 23h0m26-14h0m12 7h0m45-2h0m12 11h0m27-13h0m84 3h0m3-8h0m23 43h0m-26-14h0m-28 5h0m-7-10h0m-156 12h0m-20-14h0m-33 27h0m-95-23h0m-9 18h0m-6-7h0m-57-5h0m-3 14h0m-7-17h0m-4-9h0m-16 27h0m-3 14h0m18 0h0m12 10h0m61 1h0m18-21h0m28 11h0m23 6h0m9-18h0m68 17h0m4-1h0m12-14h0m6 12h0m5-9h0m90 21h0m23-14h0m6-6h0m14 18h0m3-23h0m13 17h0m9-16h0m60 21h0m10-15h0m26 13h0m-33 15h0m0 3h0m-68 12h0m-89-5h0m-2 13h0m-2-25h0m-59 17h0m-20-7h0m-1-10h0m-136 9h0m-1 15h0m-6-21h0m-25 18h0m-41-23h0m-14 1h0m26 39h0m264-6h0m83 20h0m1-1h0m57-5h0m8 2h0m45 15h0m-16 4h0m-22-9h0m-77-1h0m19 50h0m4-9h0m93 24h0m0 1h0m-4-1h0m-13 10h0m-14-2h0m-63 21h0m8 24h0m24-1h0m18-14h0m35 7h0m-12 30h0m-2 0h0m-42 8h0m-1-15h0m-7-14h0" stroke="#fff" stroke-width="11.5" stroke-linecap="round" fill="none"/><path transform="scale(.1)" d="M266 6801h0m4 0h0m12 7h0m1-13h0m29 9h0m7-9h0m1 6h0m2-4h0m1 2h0m5 4h0m6-11h0m4 8h0m14-3h0m23 2h0m22 1h0m8 35h0m-4-22h0m-8 18h0m-8-18h0m-5 9h0m-4-6h0m-27 8h0m-5 5h0m-2-12h0m-9 13h0m-12-16h0m0 11h0m-14-8h0m-19 8h0m-4-14h0m-10 11h0m-4 3h0m-5 7h0m-5-16h0m-2 7h0m-5 3h0m-4 6h0m-1-17h0m0 12h0m0 6h0m-4-13h0m-6 9h0m-4-12h0m-1 0h0m-3 14h0m-16-13h0m21 46h0m9-17h0m5 3h0m9-10h0m4 26h0m11-16h0m9 8h0m5-15h0m4 26h0m2-5h0m3-17h0m1 11h0m3-7h0m9 8h0m2-4h0m0 9h0m2-15h0m13 8h0m3-16h0m13 28h0m4-28h0m6 26h0m1-6h0m13-3h0m11-2h0m7-15h0m3 5h0m36 13h0m-3 26h0m-11 8h0m-9 4h0m-13-18h0m-31 16h0m0 4h0m-8-16h0m-8-9h0m-11 16h0m-3 8h0m-8-27h0m-6 26h0m-15-4h0m-3 3h0m-14-2h0m-4 2h0m-17-12h0m-7 5h0m-9-5h0m-7 4h0m-9-7h0m0 8h0m-1-4h0m-2 1h0m12 27h0m13 15h0m5-23h0m3 23h0m6-18h0m1-7h0m5 17h0m8-12h0m0 12h0m5-1h0m3-2h0m3-6h0m2 6h0m2-13h0m0 13h0m1 3h0m5-3h0m4 5h0m3 5h0m23-19h0m3-2h0m0 12h0m13 1h0m8-7h0m13-3h0m28 10h0m9-9h0m0 17h0m1 1h0m1-26h0m1-2h0m5 1h0m7 3h0m1-1h0m-10 27h0m-14 13h0m0 7h0m-2-19h0m-6 23h0m-5-3h0m-2 4h0m-6-11h0m-1 8h0m0 6h0m-2-4h0m-11-22h0m-3 14h0m-3 4h0m-10-18h0m-10 6h0m-10-4h0m0 7h0m-2 8h0m-4-15h0m-2 16h0m-2-19h0m0 5h0m-2-5h0m-12 20h0m-26 8h0m-3-17h0m-3-10h0m-2 27h0m-1-20h0m-26 34h0m2-1h0m11-8h0m2 25h0m3-6h0m4-12h0m9-7h0m10 16h0m16-16h0m1 17h0m3 2h0m4-23h0m0 21h0m1-1h0m16-4h0m3-16h0m0 8h0m3 2h0m9 11h0m9-20h0m12 4h0m0 17h0m1-8h0m5-9h0m4 6h0m0 5h0m12-12h0m-24 30h0m0 2h0m-6 2h0m-10-3h0m-4 15h0m-6-8h0m-3-2h0m-6 18h0m-6-13h0m0 6h0m-6-9h0m-3 14h0m-9 0h0m-2-12h0m-1-9h0m-4 22h0m0 1h0m-5-15h0m-1 5h0m-3-7h0m-11 16h0m-8-19h0m-1-2h0m0 5h0m-7 18h0m-4-9h0m-2-9h0m-2-6h0m28 25h0m13 4h0m21 11h0m20-10h0m3 0h0" stroke="#8c564b" stroke-width="19" stroke-linecap="round" fill="none"/><path d="M40 739.1 42.3 740.4 43.1 742 45.2 741.7 46.4 745.2 47.7 746.4 48.2 748.8 48.7 751.6 49.5 750.8 52.2 752 54.4 752.6 57.3 752.3 59.1 753.2 60.1 754.1 62.4 755.7 64 755.9 66.2 758.5 68.5 758.9 69.9 759 72.9 759.6 74.8 758.7 76 758.4 78.8 756.7 80 756.1 82.5 754.1 83.2 752.9 82.5 750.2 83.7 747.3 84.4 745.2 84.9 743.4 85.7 741 86.8 739.8 87.7 737.9 85.3 735.4 85.2 734.3 82.6 733.6 80.2 733.9 77.9 735.5 75.7 736.2 75 736.9 72.9 736.9 70.2 737.2 67.1 735 65.3 734.9 64.2 735 62.1 734.1 59.4 732.4 57.1 731.6 56.2 730 53.4 729.9 52.2 731.7 50.6 731.9 48.1 732.5 46.5 733.4 43.9 735.4 43 737.1 40.9 738.3Z" fill="#ff7f0e"/><path transform="scale(.1)" d="M541 7282h0m3 3h0m19-6h0m266 40h0m-203-3h0m-5-4h0m-46-21h0m-10-1h0m-15 10h0m-27-6h0m-6 20h0m-2 1h0m-5-16h0m-7-2h0m-12-1h0m0 22h0m-5-20h0m-7 13h0m-4 5h0m-8-2h0m-40 17h0m18 11h0m12-7h0m1 7h0m0 5h0m15-25h0m8 4h0m16-4h0m102 7h0m8 2h0m3-6h0m3 14h0m11-3h0m4 13h0m9-29h0m1 22h0m21-10h0m9 8h0m1-1h0m4 0h0m30 10h0m68-5h0m5-9h0m4-2h0m25 1h0m7-11h0m5 14h0m1-4h0m2 7h0m4-11h0m0 14h0m11-8h0m3 5h0m1-4h0m3 11h0m6-7h0m19-9h0m17 30h0m-4-9h0m-2 24h0m-1-11h0m-2-12h0m0 10h0m-8 16h0m-1-23h0m0 8h0m-2 13h0m-5-5h0m-53-21h0m-8 10h0m-2-8h0m0 5h0m-2 2h0m-9 3h0m-3-11h0m-18 1h0m-1 12h0m-9 4h0m-17 4h0m-2-1h0m-7-21h0m-10 1h0m-6 23h0m-3-9h0m-16 9h0m-3-11h0m-12-5h0m0 3h0m-4-4h0m-38-3h0m-194 12h0m-27-13h0m-9 22h0m-3-18h0m0 15h0m-5-5h0m-4 10h0m-19 17h0m3-7h0m8 6h0m5 6h0m1 5h0m1-20h0m10 12h0m8 12h0m4-11h0m429 9h0m21-10h0m10-1h0m0 19h0m-2 8h0m-7-8h0m-7 7h0m-2-4h0m-6 12h0m-1-17h0m-8 1h0m-5 21h0m-362-7h0m-5-8h0m0 6h0m-4-11h0m-8 18h0m-5-20h0m-1-2h0m-8 28h0m-8-7h0m-2 0h0m-3 2h0m-6-17h0m-12-4h0m-6 2h0m-4 8h0m-12-5h0m-8-4h0m65 34h0m17-7h0m2 7h0m359 10h0m2 6h0m18-4h0m3 17h0m-1 11h0m-2-9h0m-1-8h0m0 25h0m-3-4h0m-17-2h0m-4-2h0m0 1h0m-338-11h0m-12 14h0m-3-17h0m-1 44h0m7-6h0m0 6h0m7-1h0m5-18h0m4 3h0m2 16h0m0 6h0m7-14h0m0 10h0m8-17h0m0 2h0m2 22h0m2-7h0m4 2h0m6-5h0m5 11h0m21-10h0m11-4h0m5-1h0m25 15h0m7-7h0m219 0h0m1 6h0m3-8h0m17-1h0m4 3h0m1 6h0m8-12h0m-4 24h0m-8 6h0m-1 2h0m-4 2h0m-4-12h0m-3 8h0m-6 2h0m-2-16h0m-2-1h0m0 27h0m-13 0h0m-11-3h0m-169 0h0m-2-5h0m-3-14h0m0 13h0m-5-5h0m-2 15h0m-1-25h0m0 25h0m-4-3h0m-9-10h0m-27-11h0m-12 8h0m-5-9h0m-65-2h0m109 29h0m14 10h0m9-10h0m4-1h0m2 19h0m0 1h0m9-15h0m8 8h0m5 3h0m3-3h0m1 2h0m5-6h0m14 18h0m1-13h0m22 12h0m8-10h0m16 1h0m29 12h0m2-5h0m17-6h0m6-11h0m25 18h0m4-12h0m4-3h0m4 4h0m-24 19h0m-7 5h0m-1-6h0m-17 17h0m-2-6h0m-8 13h0m-10-24h0m-10 14h0m-1-5h0m-7-2h0m-30 0h0m-2-6h0m0 12h0m-4-12h0m-3-1h0m-10 5h0m-16-7h0" stroke="#ff7f0e" stroke-width="19" stroke-linecap="round" fill="none"/><path transform="scale(.1)" d="M585 7276h0m27 12h0m253 21h0m-59-2h0m-199-17h0m-193 46h0m487 43h0m-459 66h0m12 51h0m0 28h0m398 21h0m-199 68h0m117 12h0" stroke="#ff7f0e" stroke-width="19" stroke-linecap="round" fill="none"/><path transform="scale(.1)" d="M476 7334h0m6 5h0m15 4h0m45-16h0m4 13h0m-7 21h0m-30 2h0m-96 31h0m74-4h0m1 10h0m12 9h0m197-20h0m79 18h0m25 2h0m36-4h0m-22 30h0m-1-11h0m-103-8h0m-172 24h0m145 14h0m124-14h0m-113 38h0m-51 5h0m-24 14h0m-42-5h0m-28 7h0m-51-4h0m94 10h0m196-2h0m33 26h0m-11 13h0m-31 7h0m-74 35h0m2-2h0" stroke="#fff" stroke-width="11.5" stroke-linecap="round" fill="none"/><path transform="scale(.1)" d="M981 6949h0m-27 34h0m4-12h0m2 4h0m2 2h0m0 10h0m16-22h0m11 5h0m0 17h0m6 0h0m13 14h0m-6 15h0m-10-9h0m-6 12h0m-23 0h0m-14-12h0m-2-11h0m-1-5h0m-17 9h0m-40 48h0m12-13h0m2-7h0m10-2h0m9 18h0m8-14h0m3 8h0m14-7h0m21 12h0m13-7h0m2 12h0m8-23h0m-1 25h0m-10 7h0m-42-7h0m-2 26h0m-9-8h0m-1 11h0m-2-7h0m-8-22h0m-4 5h0m-2 7h0m-1-2h0m-1-8h0m-4 11h0m0 7h0m-7-8h0m-2 2h0m-17 1h0m-13 10h0m-3-17h0m-2-3h0m0 21h0m-6-12h0m6 28h0m5 16h0m5-15h0m3 7h0m6 3h0m4-9h0m0 1h0m9-9h0m1-2h0m11 8h0m8-2h0m17-3h0m0 7h0m0 12h0m3-10h0m2 3h0m8-2h0m3-4h0m4 4h0m3-10h0m2-4h0m8 8h0m-43 25h0m-9 18h0m-8-19h0m-3 16h0m-1 0h0m-3-20h0m-1 6h0m-4-7h0m0 29h0m-1-15h0m-8-3h0m-5 14h0m-1 3h0m-2-1h0m-1-10h0m-2 0h0m-4 7h0m2 12h0m7 8h0m7 14h0m7-8h0m9-3h0m1 10h0m3-13h0m16 6h0m3-1h0m2-16h0m-8 38h0m-3 16h0m-1-6h0m-3-17h0m-17-2h0m-9 26h0m-4-12h0m-4-3h0m0 9h0m-3-1h0m-4-19h0m13 36h0m10 4h0m13 9h0m0 8h0m-2 6h0m-2 0h0m-10 4h0m0 8h0m-4-12h0m-2 13h0m-3 0h0m-3 0h0m-12 3h0m-6-1h0m5 13h0m6 24h0m6-2h0m-20 26h0" stroke="#ff7f0e" stroke-width="19" stroke-linecap="round" fill="none"/><path d="M86.1 744.6 87.8 747.6 89.5 749.1 91.1 751.3 91.7 752 94.5 753.6 95.8 754.6 97.9 757.1 99 758.2 101 759.8 101.5 760.5 103.2 763.8 103.1 764.6 104.7 766.7 106.5 768.2 107.7 770.7 109.2 771 111.6 772.3 113.8 773.5 116.1 773.1 117.6 774.3 120.1 775.4 122.7 774.5 124.8 775.7 125.5 774.9 128 774.5 130.6 774.8 133.5 775.9 134.7 774.5 136.6 772.5 138.6 772.2 140 770.5 139.4 768.5 138.9 765.4 138.7 764 136.3 763 135 761.9 132.5 760.6 131.2 758 130.1 756.4 127.7 755.2 125.5 754.2 124.7 753 121.9 752 120.2 752.1 117.4 750.2 116.3 749.3 114.3 748.4 113.4 746.8 112.3 744.8 110.3 743.2 107.9 742.2 107.1 741 105 738.8 103.4 738.2 100 738.2 98.8 737.1 96.1 736.7 95 738.9 92.9 738.1 91.1 739.5 88.9 742.3 87.1 744.4Z" fill="#2ca02c"/><path transform="scale(.1)" d="M982 7347h0m4 2h0m5 0h0m55 29h0m-6-4h0m-17 4h0m-23 1h0m-22-24h0m-25 11h0m-5 9h0m-36 0h0m-4 15h0m2 18h0m4-21h0m1 9h0m14 1h0m11-2h0m77-14h0m15 17h0m3 2h0m6-13h0m23-3h0m1 6h0m10 19h0m5-23h0m1 4h0m0 18h0m2-5h0m4 1h0m20 29h0m-3-5h0m-3-5h0m-3 7h0m-14-19h0m-3 12h0m-169-11h0m-8 12h0m-26-6h0m-6 18h0m-1-15h0m-9 14h0m-14 14h0m3 11h0m6 4h0m5 4h0m7-6h0m1-14h0m10-6h0m9 19h0m232-9h0m7-5h0m5 3h0m1 10h0m1 9h0m9-3h0m2-8h0m46 34h0m-16 2h0m-5 0h0m-4-23h0m0 21h0m-8-10h0m-7-1h0m-1-7h0m-8 15h0m-16-16h0m-223 19h0m-1 6h0m-5-25h0m-1 9h0m-2-4h0m0 16h0m-2 2h0m-13-16h0m-4 12h0m-7-1h0m30 17h0m1 19h0m7-13h0m4-6h0m4 9h0m4-4h0m11 1h0m11 12h0m233-22h0m2-1h0m17 21h0m1-17h0m1-4h0m28 8h0m1-5h0m4 15h0m0 4h0m15-9h0m0 9h0m8 2h0m2 2h0m53 30h0m-25-1h0m-4-12h0m-1-9h0m-3 14h0m-6-4h0m-6 5h0m-2-12h0m-9 15h0m-2-4h0m-4-5h0m-7 1h0m-30-15h0m-234 21h0m-23 5h0m-4-9h0m-18 8h0m-11-17h0m-7 4h0m27 20h0m21 13h0m7 3h0m2-2h0m0 1h0m9-6h0m2-1h0m0 1h0m7-10h0m4 8h0m16 11h0m8 1h0m253-17h0m22-6h0m9 8h0m3 11h0m1-19h0m2 10h0m3 18h0m9-24h0m2 21h0m8-5h0m11 7h0m1 0h0m1-5h0m41 36h0m-10-2h0m-2 2h0m-6-8h0m-1-3h0m-2 2h0m-4-6h0m-3-3h0m-15 15h0m-3-2h0m-3-22h0m-11 8h0m-3-9h0m-288 27h0m-16-9h0m-1 10h0m-8-2h0m-12-14h0m11 20h0m1 1h0m11-3h0m7 27h0m12-1h0m307-21h0m17 5h0m2 6h0m7-2h0m7-7h0m19 18h0m2-14h0m6 18h0m12 20h0m-8-8h0m-4 4h0m-1 11h0m-4-4h0m-3 7h0m-1-13h0m-21-15h0m-308 16h0m-2 3h0m-13-3h0m-8-17h0m-4 20h0m-7-7h0m-8-5h0m17 26h0m1 8h0m3 0h0m9 11h0m1-18h0m4 18h0m2-3h0m9-4h0m3-8h0m1 13h0m3 6h0m30 0h0m278-25h0m0 11h0m1 16h0m4-2h0m1-19h0m0 9h0m0 1h0m2-4h0m1 2h0m1-9h0m4-2h0m4 11h0m0 4h0m1-16h0m0 23h0m6-16h0m6-7h0m1 48h0m-2 3h0m-1-19h0m0 11h0m-7-14h0m-2-1h0m-8 27h0m-5-24h0m-3 21h0m-6 0h0m-228-1h0m-19-15h0m-11-2h0m-4 21h0m-6-16h0m-33 4h0m-13-4h0m-1 1h0m-3-11h0m71 31h0m4 1h0m16 2h0m20 11h0m17 6h0m2-19h0m20 2h0m1 6h0m0 9h0m9 3h0m9-5h0m2-20h0m0 5h0m1-1h0m4-3h0m3 16h0m0 3h0m4-12h0m13-5h0m0 1h0m16 13h0m5-3h0m1 1h0m17-7h0m1-7h0m2 18h0m2-15h0m1 23h0m3-25h0m21 19h0m8-15h0m12 6h0m1 6h0m23-17h0m18 4h0m-134 25h0m-1 1h0" stroke="#2ca02c" stroke-width="19" stroke-linecap="round" fill="none"/><path transform="scale(.1)" d="M953 7349h0m106 24h0m-127-22h0m-19 11h0m-10-4h0m-3 6h0m204 17h0m-256 114h0m61 72h0m46 33h0m118 142h0m61 9h0m35 16h0m125 9h0" stroke="#2ca02c" stroke-width="19" stroke-linecap="round" fill="none"/><path transform="scale(.1)" d="M1058 7419h0m-44-5h0m-66 0h0m46 32h0m56 19h0m14 18h0m-104 19h0m211 51h0m-199 8h0m163 1h0m20 21h0m123-22h0m-23 49h0m-156 6h0m27 58h0m-39 20h0m79-5h0m25 0h0m5 2h0m194 19h0" stroke="#fff" stroke-width="11.5" stroke-linecap="round" fill="none"/><path transform="scale(.1)" d="M850 7267h0m85 52h0m-50-16h0m-14-9h0m-27 24h0m-7 0h0m-21-8h0m-46-4h0m-19 6h0m6 15h0m51 18h0m37-12h0m49 13h0m-17 33h0m-25-6h0m-16-5h0m-10-18h0m-14 4h0m0 21h0m-22 2h0m-12-21h0m-24 18h0m-5-2h0m-2-6h0m0 4h0m-14 4h0m29 10h0m2 16h0m0 1h0m26-14h0m0 4h0m1-2h0m56 14h0m60-4h0m17-11h0m19-1h0m8-7h0m-52 44h0m-33 15h0m-3-7h0m-21 3h0" stroke="#2ca02c" stroke-width="19" stroke-linecap="round" fill="none"/><path d="M95.3 718.6 93.7 721.1 93.1 722.8 94.1 724.4 93.8 727.6 96.5 728.1 97.6 729.9 99.4 732.4 101.4 732.1 103.5 734.4 103.3 732.2 105 730.9 105.3 729 107.7 727.9 107.8 725.2 109.2 724 108.9 721.1 108.5 718.9 109.4 715.8 107.6 714.7 106.4 713 103.7 712.7 102.2 713.5 100.1 714 97.5 716.1 96.8 716.3Z" fill="#e377c2"/><path transform="scale(.1)" d="M1019 7103h0m20 5h0m38 25h0m-14-1h0m-5-11h0m-6 8h0m-10-8h0m-31-5h0m-7 10h0m-60 37h0m10 3h0m16-22h0m5 10h0m12 3h0m70-17h0m11 14h0m20 13h0m5-16h0m1-8h0m14 11h0m-3 45h0m-5-11h0m-6-6h0m-1-3h0m-2 0h0m-107-9h0m-4 4h0m-15 0h0m-5 16h0m-8-14h0m-12 2h0m-1-5h0m-1 17h0m0 8h0m-2-3h0m-5-7h0m-6 2h0m-2 30h0m1 0h0m3 8h0m3-22h0m0 20h0m1-4h0m5-21h0m7 0h0m5 28h0m134-13h0m3 13h0m1-18h0m1 15h0m6-22h0m5 0h0m7 8h0m1 2h0m6-3h0m2 3h0m-9 37h0m-2 4h0m-6-8h0m-10 11h0m-7-2h0m-1-24h0m-8 22h0m-126-24h0m-8 20h0m0 1h0m-5-10h0m-2-11h0m0 28h0m-4-10h0m-5 2h0m-6 3h0m2 19h0m10-4h0m4 8h0m7-14h0m18 10h0m3-2h0m87 18h0m16-23h0m9 2h0m1-1h0m10 9h0m11-13h0m-26 43h0m-14-5h0m-4 3h0m-3-4h0m-9 19h0m-1-10h0m-27 5h0m-5 0h0m-5 5h0m-23-8h0m-6-5h0m-5-11h0m-7 21h0m-14-22h0m-1-2h0m-10 0h0m48 38h0m2 2h0m4 1h0m2 1h0m15-7h0m5-1h0m2 2h0m2 17h0m17-12h0m17-1h0m11-4h0m3-1h0m-18 45h0m-8-6h0m-12-14h0m-3 5h0m-4-6h0m-12 0h0" stroke="#e377c2" stroke-width="19" stroke-linecap="round" fill="none"/><path transform="scale(.1)" d="M1090 7125h0m-99-12h0m131 62h0m-136 174h0m80-25h0m-85 33h0m62 26h0" stroke="#e377c2" stroke-width="19" stroke-linecap="round" fill="none"/><path transform="scale(.1)" d="M1050 7139h0m-10-4h0m-50 16h0m12 5h0m15-11h0m1 13h0m0 8h0m29 30h0m-31-7h0m-25 9h0m-37-16h0m69 45h0m63-6h0m-14 12h0m-92 21h0m-28-19h0m63 52h0m11 41h0" stroke="#fff" stroke-width="11.5" stroke-linecap="round" fill="none"/><path d="M28.9 705.3 30.1 707.5 29.3 709.8 30 712.4 30.4 715.4 29.7 717 30.7 719.5 33.1 721.1 34.5 722.6 36 723.4 38.9 724.3 41.1 725.9 42.7 725.5 45.1 726.8 46.1 726.7 49.1 726.1 50 726.3 52.4 726 54.9 724.5 57.9 723.1 60.2 722.6 61.5 722.2 63.2 721.4 66.2 721.1 67.4 719.9 69.3 718.4 71.2 717.8 73 718 75.3 718.2 77.6 717.3 79.6 716.8 81.8 715.9 82.7 713.9 83.7 711.1 84.9 710.5 85.2 707.4 83.8 704.7 83.2 702.6 84 700.1 82.7 699 81.8 697.9 79.2 695.9 78.1 694.4 76.9 690.8 75.9 691 74.1 689.4 72 689.3 70.3 687.4 67.7 687.2 64.8 686.6 62.6 685.4 60.6 685.3 59.8 685.7 56.3 686.2 55.4 685.6 52 686.5 50.9 688.3 47.6 687.9 45.6 688.6 45.1 689.1 42.4 691.5 41.6 693.2 38.7 693.7 38.8 695.9 35.9 697.7 35.3 698.7 34.4 701.6 32.9 703.4 30.1 705.1Z" fill="#1f77b4"/><path transform="scale(.1)" d="M613 6837h0m-146 32h0m20-5h0m0 1h0m8 2h0m1 2h0m1-4h0m2-3h0m0 5h0m19-11h0m0 13h0m5-18h0m3 5h0m0 9h0m8-12h0m3 16h0m5-27h0m4 13h0m8-6h0m12 12h0m22-11h0m1 14h0m11-18h0m0 3h0m7 12h0m1-11h0m21 12h0m23-18h0m3 12h0m6-8h0m6-3h0m0 7h0m9 10h0m1-20h0m2 26h0m10-1h0m11-14h0m0 2h0m63 37h0m-20-12h0m-6 3h0m-6 3h0m-2-3h0m-2-12h0m-2 3h0m0 1h0m-3 8h0m0 2h0m-8-11h0m-1 19h0m-16-15h0m-1-5h0m-37-2h0m-122 1h0m0 1h0m-10-2h0m-7 9h0m-5-9h0m-23 15h0m-14 7h0m-4-14h0m-34 8h0m-5 9h0m-1 1h0m-8 1h0m-10-5h0m-28 33h0m4-3h0m5-7h0m15 13h0m11-25h0m3 20h0m1-23h0m9 14h0m3-3h0m1-1h0m8-7h0m294 1h0m20 8h0m12-13h0m3 6h0m10 6h0m3-10h0m2 17h0m28 39h0m-7-20h0m-1 2h0m-21 17h0m-1-27h0m-1 20h0m-5 0h0m-359-18h0m-11 5h0m-7 2h0m-13-6h0m-7 13h0m0 4h0m-4 9h0m-14-11h0m-37 38h0m11-7h0m7-2h0m8 10h0m9-22h0m1 21h0m4-10h0m2-14h0m416-1h0m19 10h0m13-1h0m5 17h0m2-18h0m1 9h0m1-8h0m3 2h0m18 21h0m-5 23h0m-13-11h0m-1 8h0m-24-23h0m-456 1h0m-2 15h0m-14-9h0m-5 6h0m-1-4h0m-8-8h0m-5 7h0m0 7h0m-8 3h0m-4 37h0m11 1h0m11-18h0m509 4h0m1 6h0m4-4h0m9-13h0m3 24h0m14 29h0m-2-20h0m0 15h0m-5-8h0m0 3h0m-4-2h0m-16 6h0m-3 9h0m-535-3h0m-22-22h0m-3 24h0m-1-22h0m-1 9h0m7 38h0m9 7h0m8-5h0m4 4h0m537-6h0m1-7h0m4-10h0m4 22h0m1 2h0m6-6h0m4-20h0m2 26h0m8-10h0m-8 28h0m-7 1h0m-3-16h0m0 5h0m-5-6h0m-6 28h0m-3-3h0m-7-3h0m-3-9h0m-521-3h0m-1 9h0m-11-7h0m0 13h0m-5-17h0m-1 5h0m-3-10h0m-10 14h0m7 33h0m8-6h0m0 9h0m2 3h0m1-25h0m14 20h0m411 6h0m57 1h0m20-8h0m0 7h0m19-12h0m3 2h0m3-6h0m21-4h0m0 1h0m-39 39h0m-2-5h0m-10-11h0m-5 15h0m-6-10h0m-2 17h0m-1-4h0m-19-17h0m-5 10h0m-4-8h0m-7 22h0m-2-22h0m-7-4h0m-2 24h0m-16-8h0m-8 3h0m-17-10h0m-17 7h0m-12 8h0m-339 2h0m-12-25h0m-5 4h0m-10 5h0m0 1h0m-12-3h0m25 35h0m1 2h0m2-14h0m12 9h0m24 10h0m11 9h0m6-4h0m229-3h0m20-10h0m2 0h0m1 11h0m1 2h0m11-10h0m7 14h0m6-6h0m8-10h0m10 13h0m0 1h0m0 2h0m6-10h0m5 4h0m2-10h0m11 1h0m1-2h0m27-12h0m2 0h0m-94 45h0m-7 1h0m-4-7h0m-10 6h0m-1-14h0m-18 8h0m-8 15h0m-7-10h0m-10-1h0m-1 5h0m-1 0h0m-1-10h0m-1 2h0m-25 8h0m0 5h0m-9-12h0m-11 13h0m-3-10h0m-12 10h0m-17 4h0m-54-6h0m-13-7h0m-24 5h0m-7-5h0m-4-6h0m-1-3h0m-2 7h0m-1-7h0m-3-1h0m-23 4h0m-3-6h0m48 29h0m11 5h0m16 10h0m2-14h0m1 11h0m9 3h0m3 5h0m3-18h0m5 15h0m2 4h0m23-14h0m0 4h0m3 5h0m5-12h0m18-4h0m16 17h0m1-3h0m3 1h0m3-5h0m8-9h0m7 7h0m29-9h0" stroke="#1f77b4" stroke-width="19" stroke-linecap="round" fill="none"/><path transform="scale(.1)" d="M581 6820h0m101 20h0m93 43h0m-405 37h0m458 15h0m-484 10h0m525 49h0m-567 7h0m575 71h0m-38 89h0m-77 36h0m-481-3h0m467 17h0m-427 42h0m88 31h0" stroke="#1f77b4" stroke-width="19" stroke-linecap="round" fill="none"/><path transform="scale(.1)" d="M542 6864h0m6 3h0m49-9h0m16 8h0m14 1h0m67 23h0m-28-18h0m-8 4h0m-23-6h0m-99 10h0m-27 18h0m-43 9h0m56-3h0m7-4h0m31 20h0m16 1h0m4-9h0m70 2h0m54-9h0m78 46h0m-117-4h0m-65 12h0m-15-7h0m-49-18h0m-87-2h0m0 23h0m-54 32h0m77-10h0m27 9h0m60-23h0m75-3h0m29 13h0m5 8h0m32-20h0m3 13h0m54-14h0m48 54h0m-57-19h0m-1 15h0m-11 5h0m-23-2h0m-96 4h0m-1-9h0m-37-6h0m-56-10h0m-16 0h0m-18 12h0m-23-5h0m-5 2h0m-28-8h0m-31 20h0m-9-14h0m-16 17h0m-63 28h0m44-3h0m39-16h0m21 0h0m21 12h0m13 10h0m19-7h0m6-9h0m32-11h0m49 18h0m1 10h0m43-18h0m6 11h0m31-16h0m17-4h0m31 22h0m17-4h0m111-13h0m13 52h0m-5-16h0m-73-11h0m-27 2h0m-54 0h0m-44 13h0m-74 11h0m-16-4h0m-43-22h0m-12-1h0m-28 23h0m0 2h0m-33-1h0m-14-17h0m-6-1h0m-88 20h0m16 18h0m36-2h0m27-5h0m25 0h0m12 17h0m81-1h0m36-6h0m125-3h0m12-11h0m70 25h0m27-4h0m17-8h0m42-8h0m-15 49h0m-26-22h0m-5 2h0m-89-4h0m-27 26h0m-36-3h0m-36-23h0m-115 20h0m-89-11h0m-45-3h0m-5-1h0m-47 21h0m-4-2h0m68 26h0m22-6h0m66-4h0m29 11h0m2-16h0m58 8h0m70 7h0m63-12h0m3 9h0m28 3h0m6 5h0m11-9h0m77-3h0m-14 14h0m-137 24h0m-41 2h0m-42-3h0m-83-9h0m-23-5h0m-18 3h0m-44-2h0m-57 14h0m-20-8h0m-8-15h0m61 58h0m2-23h0m9 6h0m8-2h0m88 7h0m80-14h0m8-3h0m64 5h0m-89 37h0m-87-12h0m-3 27h0m-21-4h0m-19-10h0m-40-4h0" stroke="#fff" stroke-width="11.5" stroke-linecap="round" fill="none"/><path transform="scale(.1)" d="M323 7042h0m12-3h0m30-9h0m3 15h0m-40 25h0m-19 25h0m25-14h0m1 10h0m43-4h0m37 32h0m-75 8h0m-12 10h0m6 18h0m55-2h0m13 7h0m23-18h0m13 5h0m3 17h0m-124 57h0m1-12h0m25 12h0m5-20h0m56 27h0m4-1h0m8-16h0m19 10h0" stroke="#fff" stroke-width="19" stroke-linecap="round" fill="none"/><path d="M63.9 720.2 62.7 722.5 61.2 723.9 60.6 726.2 61.3 728.7 63.7 729.3 65.7 730.4 67.4 732.3 69.4 733.1 72 732.8 74 732.8 74.8 733.1 77.4 732.1 79.5 731.8 81.8 731 83.3 728.4 84.1 726.8 84.8 726.1 85.8 724.1 85.1 720.9 85.3 719.4 83.4 716.4 81.9 716 81.8 715 79 714.5 77.6 713 74.8 713.8 72 714.3 70.5 714.8 68.4 717.1 67 717.2 65.4 718.4Z" fill="#9467bd"/><path transform="scale(.1)" d="M831 7132h0m-1 6h0m-3-13h0m-9 0h0m-13 13h0m-40-19h0m-4 11h0m-12-11h0m-8 20h0m-3-11h0m-6 1h0m-5 1h0m-16-4h0m-7 4h0m-8 8h0m-10 0h0m-25 28h0m20-2h0m23-8h0m12-6h0m1-4h0m9 3h0m34-7h0m13 4h0m50 1h0m6 3h0m26 6h0m18 22h0m-2-4h0m0 2h0m-6-5h0m0 5h0m-6 23h0m-1-4h0m-5-20h0m0 18h0m-5 5h0m-1-3h0m-1-2h0m-8-22h0m-156 8h0m-7-3h0m-7 11h0m-6-5h0m-4-11h0m-3 4h0m-11 15h0m-22-1h0m-11 23h0m8 0h0m1 8h0m9-7h0m4 15h0m212-20h0m10-4h0m1 19h0m2-14h0m10 4h0m5 11h0m1-24h0m1 26h0m-2 20h0m-2 4h0m-12-14h0m-3-6h0m-232 9h0m-5 9h0m0 6h0m-5-22h0m0 20h0m-12-18h0m-3 4h0m-6-2h0m-3 21h0m-4-15h0m19 29h0m5 4h0m2-3h0m10 11h0m1-2h0m4 5h0m202-2h0m8 0h0m2 3h0m5-14h0m4-10h0m0 5h0m6 4h0m4 4h0m5-6h0m6 1h0m-22 23h0m-14 5h0m-11-2h0m0 8h0m-5 9h0m-1-13h0m-2 6h0m-10 8h0m-33 1h0m-91 1h0m-33-5h0m-1 0h0m-4-8h0m-4-4h0m-11-10h0m-4 4h0m-3 0h0m-1-1h0m20 34h0m13 1h0m10 5h0m14 8h0m9-3h0m7-1h0m5-14h0m4 5h0m6-3h0m9-1h0m9 12h0m1-12h0m4 13h0m1 8h0m6-20h0m8 14h0m9 2h0m3-9h0m0 16h0m9-21h0m2 15h0m7-14h0m1 1h0m1-2h0m4 1h0m3 6h0m5 8h0m1-8h0m3-8h0m7 4h0m14 11h0m11-18h0" stroke="#9467bd" stroke-width="19" stroke-linecap="round" fill="none"/><path transform="scale(.1)" d="M586 7225h0m10 57h0m5 6h0m227 56h0m-78 20h0m-42-1h0m-7 3h0m-9-6h0" stroke="#9467bd" stroke-width="19" stroke-linecap="round" fill="none"/><path transform="scale(.1)" d="M851 7198h0m-32-9h0m-75 21h0m42 8h0m-103 36h0m-70 8h0m144 2h0m24 24h0m11-24h0m4 19h0m-106 10h0" stroke="#fff" stroke-width="11.5" stroke-linecap="round" fill="none"/><path transform="scale(.1)" d="M812 7101h0m30-1h0m15-5h0m1 7h0m4-17h0m15 43h0m-4 2h0m-10 8h0m-2-11h0m-5-11h0m-31 2h0m-26 15h0m-19 6h0m-70-9h0m-11 9h0m-45 3h0m26 5h0m2 9h0m1 10h0m3-7h0m2-4h0m1 13h0m36-27h0m7 11h0m21-12h0m7 17h0m56-8h0m21 11h0m31-1h0m19-18h0m-97 32h0m-63 26h0m-57-5h0m-37 5h0m-46 0h0m-13-26h0m-6 22h0m-20 19h0m45-11h0m73 14h0m13 8h0m26-4h0m25-21h0m35 5h0m59 17h0m31 2h0m-16 28h0m-13-10h0m-18 12h0m-15-10h0m-25-3h0m-2-3h0m-5 4h0m-4-1h0m-209-11h0m15 50h0m36 7h0m29-25h0m105 23h0m9-15h0m28-10h0m1 3h0m3 4h0m13-4h0m18 5h0m22 0h0m23 20h0m14-18h0m-26 37h0m-20 3h0m-42 6h0m-4 0h0m-209-17h0m34 50h0m4 0h0m109-25h0m100 5h0m24 7h0m-174 14h0m-31 0h0" stroke="#ff7f0e" stroke-width="19" stroke-linecap="round" fill="none"/><path transform="scale(.1)" d="M420 6807h0m9-5h0m228 36h0m-25-14h0m-44 8h0m-3-12h0m-20 1h0m-118-6h0m-21-5h0m14 46h0m39 1h0m14-3h0m32-3h0m5-11h0m9 26h0m1-3h0m43-13h0m65 11h0m20-13h0m24 21h0m-1 23h0m0 7h0m-13-12h0m-187-7h0m-59 48h0m38-3h0m55-4h0m89-8h0m21-5h0m3 3h0m23 2h0m-22 19h0m-101 4h0m-102-3h0" stroke="#1f77b4" stroke-width="19" stroke-linecap="round" fill="none"/><path transform="scale(.1)" d="M456 6950h0m-25 9h0m-68 18h0m1 1h0m51-16h0m11 6h0m6 2h0m1 2h0m29 10h0m5-6h0m6 4h0m1-8h0m13 34h0m-60 0h0m-3 12h0m-17-17h0m-31 14h0m-17-5h0m-18 0h0m-1-6h0m17 33h0m38 10h0m70-17h0m20 29h0m-59-4h0m-45 13h0" stroke="#8c564b" stroke-width="19" stroke-linecap="round" fill="none"/></g>
<rect x="16.3" y="654.7" width="130.1" height="127.6" fill="none" stroke="#333" stroke-width="1"/>
<text x="80" y="794.6" font-size="10.8" text-anchor="middle" fill="#1a1a1a" >UMAP1</text>
<text x="13.4" y="717.4" font-size="10.8" text-anchor="middle" transform="rotate(-90 13.4 717.4)" fill="#1a1a1a" >UMAP2</text>
<text x="233.8" y="647.7" font-size="12.2" text-anchor="middle" fill="#1a1a1a" >SCANPY (ARI=0.30)</text>
<g><path d="M174.4 732.4 174.4 733 175.9 736.9 176.2 738 175.7 740.6 176.8 743.4 178.5 745.1 178.5 745.4 179.4 749 181.3 750.1 183.2 751.8 184 753.8 185 755.3 187.7 756.4 189.8 757.4 190.2 755 189.8 753.1 191.7 751.1 192.1 748.4 192.1 745.6 192.3 743.4 193.7 741.9 195.1 740.6 194.2 736.8 195.8 736 197 734 196.7 730.5 198.4 728.5 198.1 727.7 200.6 725.2 200 722.8 202.5 721.2 202.8 719.5 204.3 717.9 205.8 715.1 205.4 714.2 204.1 711.9 203.4 708.7 204.7 706.7 203.6 705.5 202.2 702.4 201.9 701.2 202.4 697.6 200.4 696.5 199.9 693.8 199.3 695.7 196.9 696.4 196 698 193 700.2 192.2 702.2 191.2 703 190.5 705.9 189 706.7 187 708.4 186 711.2 184.4 713.2 183.3 714.4 182.9 715.4 181.3 717.8 179.8 720 178.7 720.8 178.1 723.6 176.8 724.9 175.2 727.2 175.1 730.5Z" fill="#d62728"/><path transform="scale(.1)" d="M2020 6925h0m8 11h0m-1-3h0m0 14h0m-2 3h0m-2-13h0m-16 16h0m-5 0h0m-4-22h0m-2 11h0m-3 13h0m-4-7h0m-8 11h0m-2-22h0m-1 3h0m0 9h0m-18 5h0m-19 14h0m3 12h0m7 6h0m22-9h0m1-2h0m2 4h0m5-14h0m2 4h0m1 4h0m10-6h0m0 1h0m7 0h0m4-2h0m10 9h0m6-7h0m0 8h0m1-3h0m6-10h0m9 24h0m10 30h0m-14-11h0m-2-8h0m0 4h0m-2 3h0m-16 3h0m-3-13h0m-61 0h0m-2 0h0m0 5h0m-15-8h0m0 17h0m-7 3h0m-7-2h0m-5 8h0m-7-13h0m-22 39h0m8 1h0m5-20h0m8 19h0m24-17h0m3 1h0m88 6h0m1-6h0m3 19h0m5-3h0m10-3h0m9 2h0m3-7h0m3 5h0m5 32h0m0 3h0m0 3h0m-11-13h0m-5-12h0m-4 9h0m-5-6h0m-1 2h0m-5-6h0m0 22h0m-121-25h0m-2 12h0m-8-10h0m-2 18h0m-1-9h0m-2 18h0m-3-10h0m0 1h0m-10-15h0m-9 9h0m-7 11h0m-2 2h0m-27 30h0m1 1h0m3-7h0m4-6h0m16 6h0m1-21h0m1 29h0m2-3h0m9-6h0m2-8h0m5 8h0m155-17h0m1 9h0m0 6h0m32 26h0m-12 0h0m-187-9h0m-20 8h0m-2 6h0m-2 8h0m-3 1h0m-3-21h0m-2 3h0m-7-6h0m-1 24h0m-1-4h0m-7 4h0m-1 7h0m6 17h0m3-1h0m4-19h0m0 9h0m211-10h0m0 6h0m5-3h0m0 6h0m7 16h0m3-13h0m8 15h0m4-16h0m-4 29h0m-8-9h0m-7 25h0m-3-7h0m0 4h0m-10-4h0m-214-18h0m-15 27h0m-2-2h0m-26 21h0m8-7h0m2 2h0m4 3h0m2-9h0m215 1h0m1 16h0m1-5h0m26-14h0m1 15h0m-9 15h0m-10-3h0m-3 18h0m-9-3h0m-4 5h0m-13-11h0m-204-8h0m-24 10h0m-11 5h0m-1 25h0m16 6h0m2 0h0m3 0h0m207 3h0m13-5h0m2-4h0m7 14h0m2-27h0m0 18h0m1-14h0m4 7h0m4-2h0m-16 28h0m-8 11h0m-1-4h0m-3 3h0m-4 0h0m-2-15h0m0 9h0m-9 2h0m-3-6h0m-207 1h0m-1 4h0m-1-7h0m-6-3h0m-8 9h0m-1-4h0m-5-2h0m-3 22h0m-5-3h0m-1-11h0m0 10h0m-3 7h0m2 1h0m14 9h0m0 10h0m1 1h0m4 2h0m213-9h0m5-5h0m1-8h0m12 20h0m5-19h0m6 5h0m1-3h0m-19 35h0m-6 4h0m-5-12h0m-9 11h0m-9 3h0m-178 2h0m-1-10h0m-4 11h0m-6 0h0m-6-3h0m-15 9h0m37 22h0m166-14h0m1 13h0m12 7h0m16-11h0m-16 26h0m-9 4h0m-6-10h0m-2 4h0m-4 3h0m-1 21h0m-166-12h0m-1 9h0m-6-25h0m1 29h0m6 2h0m2 15h0m5-17h0m12 6h0m9 17h0m8-6h0m126-6h0m21 11h0m3-16h0m0 12h0m2-13h0m0 5h0m-17 35h0m-4 10h0m-5 0h0m-9-23h0m-94 25h0m-1-4h0m-8-3h0m-2-1h0m-11 4h0m-9-17h0m0 18h0m-16-20h0m22 36h0m8 6h0m10-6h0m10 13h0m12-5h0m79-10h0m13 14h0m-2 8h0m-3 10h0m-20 7h0m-16 12h0m-15 0h0m-10-14h0m-3-3h0m-1-1h0m-5 16h0m-3-10h0m-5 7h0m-6-11h0m-14-9h0m-2 3h0m-5-1h0m41 27h0m5 5h0m5-8h0m13 23h0m7-8h0m0 1h0m8-3h0m4-9h0" stroke="#d62728" stroke-width="19" stroke-linecap="round" fill="none"/><path transform="scale(.1)" d="M2004 6909h0m41 63h0m11 4h0m-254 168h0m4-2h0m259 56h0m-314 0h0m10 12h0m-30 38h0m4 14h0m-20 57h0m272 60h0m-158 182h0m90 5h0" stroke="#d62728" stroke-width="19" stroke-linecap="round" fill="none"/><path transform="scale(.1)" d="M2002 6965h0m-67 40h0m-4 34h0m31-16h0m64 37h0m-45-9h0m-13 14h0m-10-9h0m-41 4h0m-5-10h0m2 43h0m36 7h0m34-8h0m33 12h0m1-13h0m-125 21h0m-35 25h0m-7 4h0m7 21h0m9 6h0m47-20h0m13 18h0m6-12h0m92-2h0m-59 35h0m-79-4h0m-62-1h0m-30 34h0m19 2h0m93 11h0m8-19h0m1-10h0m35 25h0m37 17h0m-123 9h0m-44 21h0m62 15h0m11-25h0m31 4h0m0 4h0m4 19h0m16-17h0m19 44h0m-26-11h0m-145 2h0m18 24h0m55 18h0m48 0h0m25-22h0m-11 50h0m-149 9h0m10 13h0m47 0h0m26-6h0m52-3h0m27 8h0m-41 33h0m-43-15h0m-12 24h0m68 27h0" stroke="#fff" stroke-width="11.5" stroke-linecap="round" fill="none"/><path d="M202.5 723 202.5 725.7 200.4 728.5 201 729.7 199.5 732.8 198.2 733.5 197.1 735.7 197 738.5 197.1 740.4 196.7 743.5 196.3 745.6 194.9 747.2 193.7 748.7 193.5 752.2 193.8 753.8 194.6 756 194.5 757.4 194.1 760.5 194.7 761.8 196.3 764.2 197.3 766.1 200 766.7 200.7 769.4 201.5 770.9 204.4 772 206.5 772.8 208.6 773.4 210.7 771.8 211.4 772.6 213.5 770.9 216 770.8 219.1 769.5 219.7 768.7 222.3 768.2 224.3 766.6 225.9 765.7 227.7 763.2 229.5 761.1 229.9 760.5 230.9 758.1 231.5 755.3 231.7 752.8 233.3 751.3 233.4 750.2 232.8 747.2 233.9 745 232.6 743.8 230.5 744 228.4 744.8 226.1 744.2 224.8 743.4 222.3 742.5 222.5 740.4 220.8 737.7 219.9 735.4 219.4 734.5 217.9 731.8 216.8 729 216.6 727.1 217.1 725.9 214.7 723.6 213.9 721.6 211.1 721.2 210.4 720.6 208.4 719.1 205.6 721.1 204 722.9Z" fill="#8c564b"/><path transform="scale(.1)" d="M2101 7195h0m-4-13h0m-14-6h0m-8 18h0m-67 33h0m19-15h0m0 7h0m5-4h0m2-8h0m0 9h0m4 4h0m16-10h0m3 19h0m48-8h0m3-17h0m4 14h0m5-6h0m1 1h0m2-1h0m9 11h0m10-7h0m3-8h0m0 19h0m7 2h0m2-3h0m3-13h0m7 6h0m1-2h0m24 40h0m-4-6h0m-12 5h0m-10-22h0m0 25h0m-6-10h0m-12-7h0m-97-9h0m-13 1h0m-1 2h0m-3 17h0m-12-8h0m-1-6h0m-2 3h0m-5 11h0m-15 34h0m10-5h0m11 1h0m3-2h0m7-13h0m1 5h0m139 5h0m4-17h0m1 27h0m20 29h0m-1-25h0m-1 9h0m-4-8h0m-1 16h0m-1-9h0m-8-2h0m-5 7h0m-154-8h0m-12-2h0m-1 24h0m-7-20h0m-18 11h0m-12 31h0m2-6h0m4 8h0m3-19h0m21-2h0m177-2h0m5 4h0m0 16h0m2-9h0m28 8h0m3 3h0m0 3h0m2 14h0m-4 15h0m-233-18h0m-2-4h0m-18 23h0m-8 27h0m13-6h0m7 3h0m2-6h0m2 7h0m6-2h0m233 7h0m1 0h0m2-8h0m3-9h0m2 12h0m2 4h0m1-1h0m1-16h0m1-4h0m0 9h0m2-6h0m5 16h0m1-22h0m3 4h0m7 23h0m107 27h0m-18-12h0m-17 14h0m-9-16h0m-5 14h0m-2-6h0m-1 2h0m-3-1h0m-12-5h0m-22 15h0m-21-16h0m-13-11h0m-255 14h0m-2 4h0m0 2h0m-8-2h0m-6-3h0m-12-4h0m0 11h0m3 12h0m4 23h0m1-23h0m3 7h0m4 7h0m9 0h0m1-18h0m266 3h0m3 1h0m3-5h0m16 2h0m3-2h0m7 10h0m35-9h0m23 19h0m1-20h0m3 5h0m3-4h0m1 18h0m3-5h0m2 0h0m10-15h0m0 9h0m5-9h0m1 15h0m3-3h0m4 47h0m-8-26h0m-6 15h0m-10-4h0m-8-2h0m-3-2h0m-382-9h0m-8 2h0m-3 2h0m-9 52h0m12-26h0m1 2h0m5 11h0m1 6h0m1-13h0m6 22h0m378-21h0m2 10h0m9-14h0m7 38h0m-1-6h0m-8-6h0m0 15h0m-2-15h0m-17 0h0m-3 29h0m-360-26h0m-4 26h0m-2-10h0m-3-7h0m-9-2h0m-7 13h0m-1-22h0m0 18h0m-2-6h0m-2-1h0m9 33h0m12 5h0m5-8h0m1 13h0m1-20h0m349 15h0m6-8h0m2 16h0m3-19h0m12-9h0m4 22h0m-11 14h0m-5 23h0m-29 0h0m-3-9h0m0 5h0m-330-1h0m-5-21h0m-6-2h0m-15 7h0m-1 11h0m-1-9h0m26 46h0m3-14h0m0 7h0m3 4h0m4-19h0m8 11h0m2 11h0m1-21h0m7 13h0m275 8h0m17-15h0m6 9h0m7 2h0m15-9h0m6-5h0m6 1h0m0 1h0m-20 24h0m-24 17h0m-13-2h0m-12 3h0m-4-15h0m-1 4h0m-1-7h0m-1 11h0m-4 2h0m-233-12h0m-4 2h0m-13 14h0m-10-12h0m-3 1h0m-7-9h0m-6-1h0m54 45h0m138 12h0m9 0h0m7-1h0m4-11h0m2 0h0m3 14h0m14-2h0m4-18h0m6-9h0m1 21h0m0 6h0m1-15h0m2 6h0m5-16h0m10 17h0m10-1h0m-42 12h0m-1 11h0m-4-7h0m-12 2h0m-10 11h0m-10-3h0m-1-12h0m-7 13h0m-6-3h0m-4 14h0m-7-23h0m0 1h0m-9-1h0m-3 10h0m-2 7h0m0 4h0m-14-16h0m-3 7h0m-11-3h0m-8 7h0m-1 8h0m-3 1h0m-14-6h0m-9-9h0m-11 8h0m-2-10h0m-2 16h0m-7-23h0m32 31h0m3 0h0m28 8h0m10-13h0m4 2h0m1 0h0m0 10h0" stroke="#8c564b" stroke-width="19" stroke-linecap="round" fill="none"/><path transform="scale(.1)" d="M2149 7186h0m-135 25h0m157-8h0m-194 59h0m10-2h0m-30 85h0m281 30h0m47 45h0m-6-6h0m-13-2h0m-9 5h0m-342 72h0m424 108h0m-42 72h0m-233 84h0" stroke="#8c564b" stroke-width="19" stroke-linecap="round" fill="none"/><path transform="scale(.1)" d="M2149 7237h0m-18 15h0m-74-18h0m-11 40h0m94 19h0m-21 5h0m-74 7h0m7 33h0m28 4h0m58 2h0m7-22h0m36-1h0m-6 56h0m-12-23h0m-69-2h0m-65 9h0m-19 17h0m85 23h0m75-1h0m-28 25h0m-8-9h0m-4 4h0m-42-2h0m-1 17h0m-32 2h0m-30-18h0m-29-5h0m-11-1h0m14 45h0m31-6h0m124 8h0m16-8h0m3 4h0m103 37h0m-12-7h0m-53 8h0m-49 0h0m-124 0h0m-2 5h0m-71-12h0m-2 38h0m70-9h0m1-1h0m216-12h0m11 15h0m18 8h0m-6 27h0m-53-11h0m-151 7h0m-69 1h0m23 11h0m194 7h0m13 21h0m3-4h0m-1 27h0m-238 1h0m-1 24h0m6-7h0m71 4h0m9 14h0m157 7h0m-64 8h0m-79 9h0m59 12h0m21 4h0m-68 39h0m-16 5h0m-32-17h0" stroke="#fff" stroke-width="11.5" stroke-linecap="round" fill="none"/><path transform="scale(.1)" d="M2073 7220h0m5 1h0m10 1h0m2-2h0m2 9h0m48 19h0m-20-11h0m-2 0h0m-1 10h0m-20-16h0m-8 17h0m-7 8h0m-3-17h0m-5 17h0m-5-3h0m-2-5h0m-8 2h0m-5-8h0m-9 8h0m-1-8h0m-40 45h0m5-16h0m8-8h0m3 21h0m2-13h0m8-11h0m0 5h0m2 23h0m6-22h0m11 19h0m1-22h0m8 15h0m1 2h0m8-11h0m3 9h0m7-10h0m1-6h0m6-1h0m3 15h0m1 4h0m6 3h0m15-20h0m0 7h0m20-1h0m1-9h0m2 27h0m2-10h0m2 7h0m1-16h0m5 13h0m6 2h0m5-15h0m0 16h0m13-15h0m3 4h0m1 5h0m10 35h0m-10 4h0m-9-19h0m-12 5h0m-5 14h0m-9-8h0m0 9h0m-4-22h0m-9 2h0m-3-1h0m-2 11h0m-2-3h0m-2 2h0m-2-8h0m-4 12h0m-4-1h0m-16-14h0m-1 9h0m-10-9h0m-5-2h0m-3 11h0m-2-7h0m-7-7h0m-5 10h0m-14 8h0m0 1h0m-2-16h0m-3 21h0m-7-13h0m-20 9h0m-3 0h0m4 21h0m5-4h0m0 17h0m0 2h0m3-20h0m2 4h0m15 17h0m2-19h0m16 15h0m2-20h0m9 16h0m7-11h0m7-5h0m1 14h0m1-12h0m2 21h0m4-26h0m2 5h0m6 12h0m1-14h0m2 24h0m33-22h0m8 20h0m12 2h0m1-17h0m4 15h0m5-12h0m7 1h0m2-6h0m17 19h0m2-13h0m1-4h0m-5 21h0m-5 23h0m-3-21h0m-5 2h0m-3 21h0m-13-27h0m-2 2h0m-1 16h0m-8 10h0m-2-10h0m-4 1h0m-5 2h0m-2-10h0m-2 9h0m-2-12h0m-2-3h0m-2 24h0m-3-4h0m-3-5h0m-3-20h0m-8 23h0m-2-15h0m-2 8h0m-10 7h0m-4-4h0m-2-1h0m-7-10h0m-8 8h0m-1 11h0m-2-12h0m-14-15h0m-7 18h0m-1 9h0m-12-20h0m-29-6h0m-5-1h0m-2 56h0m3-15h0m4-3h0m5 3h0m1 2h0m19 9h0m3-2h0m5-2h0m2 3h0m7-17h0m24-2h0m4 14h0m1 4h0m4 2h0m17-21h0m1 26h0m9-26h0m16 10h0m2-9h0m1 21h0m0 1h0m1-4h0m2-2h0m1-15h0m4 26h0m10-1h0m5-3h0m1-1h0m11-21h0m7 16h0m6-6h0m1 15h0m1-5h0m3-8h0m8-7h0m3 4h0m4-5h0m3 15h0m7-15h0m3 0h0m-16 41h0m-5 4h0m-31 4h0m-1-19h0m-1 12h0m-7-19h0m0 10h0m-7 6h0m-4 13h0m-5-11h0m-8-3h0m-4-12h0m-1 4h0m0 12h0m-3 7h0m-9-18h0m-5 10h0m-15 6h0m-5-3h0m-25-4h0m-2 12h0m-5-20h0m-7 17h0m-4-3h0m-1-19h0m-2 25h0m-3-11h0m-8 6h0m-6-9h0m-2-13h0m0 27h0m-7-7h0m-3-2h0m-3-11h0m-14 32h0m1 6h0m8-3h0m3-1h0m38 1h0m11-9h0m4 15h0m11-9h0m4 5h0m1 6h0m8-19h0m2 0h0m1 10h0m11-11h0m0 16h0m0 1h0m14 2h0m4-4h0m19 5h0m2-1h0m9-13h0m0 9h0m2-8h0m1 15h0m13-19h0m12 1h0m0 5h0m3 1h0m7 16h0m7-1h0m2-4h0m4-3h0m1 4h0m5-11h0m11 6h0m4-1h0m10-3h0m1-14h0m12 57h0m-28 1h0m-19-2h0m-5-11h0m-10-15h0m-5 14h0m-6-3h0m-2 3h0m-10 4h0m-3-11h0m0 13h0m-23 3h0m-11-15h0m-4-9h0m-2 0h0m-3 25h0m-13-15h0m-1-2h0m-1 9h0m-12-14h0m-12 7h0m-11-6h0m-1 21h0m-4-21h0m-6-3h0m-7 19h0m-19-6h0m-8-9h0m-12 19h0m-6-15h0m0 3h0m-7 19h0m7 0h0m11-1h0m5 6h0m3 1h0m18 17h0m7-24h0m7 20h0m1-6h0m4 9h0m1-18h0m15-4h0m21 4h0m10 23h0m4-23h0m8 15h0m37 8h0m15-15h0m1-10h0m3 9h0m5-6h0m4 14h0m17-18h0m10 4h0m7 12h0m4-6h0m3 11h0m3-9h0m5-13h0m5 12h0m1 8h0m8 8h0m1-3h0m3 1h0m2-14h0m1-2h0m3 11h0m0 21h0m-22-7h0m-9 13h0m-1 10h0m-2-2h0m-7-21h0m-8 8h0m-4 7h0m-1 7h0m-11-13h0m-3-13h0m-22 22h0m-7-23h0m-6 2h0m-2 25h0m-2-20h0m-4 3h0m-5-6h0m-14 20h0m-9-15h0m-3 2h0m-3 9h0m-6-14h0m-6 4h0m-7-5h0m-4 7h0m-2 8h0m-6-5h0m-2-1h0m-1-15h0m-9 28h0m-2-13h0m-17-9h0m-7 8h0m-8-4h0m0 3h0m-3-13h0m-4 28h0m-7-13h0m7 19h0m3 0h0m1-2h0m6 2h0m3 17h0m6-10h0m13-5h0m3 5h0m8 0h0m2 16h0m3-6h0m1 4h0m5-10h0m14-2h0m4-1h0m15 0h0m6-11h0m0 2h0m4 4h0m10 0h0m1 10h0m10-2h0m8 1h0m3 1h0m2 3h0m11-6h0m10 6h0m21 9h0m14-12h0m2 0h0m1-8h0m3 5h0m1-9h0m5 7h0m9-11h0m2 2h0m0 13h0m0 6h0m1-3h0m3-3h0m4 4h0m7-6h0m2-13h0m-7 30h0m-1 3h0m-29 16h0m-12-2h0m-1-7h0m-21-5h0m-3 14h0m0 1h0m-14-18h0m-1 24h0m-6-16h0m-4-2h0m-5 13h0m-15-2h0m-10 7h0m-13-21h0m0 13h0m-9-15h0m-8 24h0m-6-26h0m-23-2h0m0 7h0m-1 22h0m-4-18h0m-1 4h0m-4-12h0m0 8h0m-3 9h0m-1-14h0m0 11h0m-1-6h0m-8 2h0m23 29h0m0 16h0m1-12h0m0 13h0m3-22h0m8-6h0m1 22h0m3 5h0m7-22h0m12 3h0m0 18h0m2-20h0m2 13h0m2-8h0m15-2h0m8 2h0m7-6h0m0 1h0m12 10h0m7-2h0m13 2h0m11-2h0m8-12h0m0 16h0m13-6h0m14-11h0m4-1h0m2 1h0m-112 29h0m-34 2h0m-11-1h0" stroke="#2ca02c" stroke-width="19" stroke-linecap="round" fill="none"/><path d="M202.3 730.3 201.7 731.4 201.8 733.2 201.9 736 202 738 202.4 739.9 201.5 742.2 200.7 744.1 200.7 747.5 201 748.7 203.2 750.3 203.4 752.5 203.9 754.3 206 756.5 207.3 758.6 209.4 758.9 210.2 759.8 213.9 758.1 215.7 757.6 217.2 757.4 217.6 755.4 217.7 753.2 219 751.3 219.5 749.2 219.1 747.3 220.4 744.1 219.6 741.9 218.9 740.4 218.2 737.9 218.3 735.8 216.7 734.3 215.6 732.8 216.2 730.6 214.1 730.1 211.1 728.8 209.7 728.5 207.1 728.7 204 728.7Z" fill="#2ca02c"/><path transform="scale(.1)" d="M2019 7283h0m2 4h0m26 0h0m2-8h0m6-6h0m6 12h0m1-4h0m2 0h0m39 0h0m14 7h0m2-15h0m2 9h0m10-3h0m31 8h0m18 25h0m-8 5h0m-1 2h0m-4-24h0m-7 7h0m-2 11h0m-9-10h0m-3 12h0m-1-1h0m-11-13h0m-32 0h0m-4-4h0m-4 10h0m-8-4h0m-13-8h0m-9 5h0m-14-10h0m-23 16h0m-2 1h0m-20 7h0m-3 27h0m8 5h0m5-13h0m2 1h0m0 10h0m11 1h0m127-17h0m16-8h0m4 13h0m3-8h0m0 1h0m3 0h0m0 10h0m1-5h0m9 17h0m2 17h0m-7 7h0m-6-6h0m-2-14h0m-149 4h0m-1 8h0m-8-13h0m-10 18h0m-4 6h0m0 32h0m1-21h0m2 14h0m4-12h0m0 6h0m2-10h0m3 24h0m2-11h0m9 7h0m149-8h0m4-8h0m1 0h0m1 9h0m7 7h0m3-5h0m12 7h0m3-1h0m1 23h0m-8-10h0m-9-4h0m-10-3h0m-3 6h0m-155 22h0m-3-27h0m-2 25h0m-2-7h0m-7 1h0m-6-16h0m-1 23h0m-1-20h0m-3 15h0m-7 31h0m9-13h0m3 13h0m17-17h0m167 7h0m14-6h0m1 15h0m5-6h0m6-3h0m2 1h0m-8 37h0m-1-15h0m-6-2h0m-8 15h0m-1-11h0m0 19h0m-3-20h0m-166 9h0m-1-1h0m-2-1h0m0 13h0m-12-9h0m-13-9h0m4 25h0m8-4h0m8 24h0m15-20h0m11 23h0m133 1h0m2-23h0m1 20h0m4 0h0m2-26h0m3 29h0m1-8h0m2-10h0m11 17h0m-2 6h0m-9 22h0m-8-12h0m-123 7h0m0 8h0m-8-10h0m-1-11h0m-7 11h0m0 9h0m-11-9h0m-3-1h0m25 31h0m10-16h0m5 26h0m1 0h0m3-20h0m0 8h0m2 6h0m15 6h0m32-4h0m10-7h0m10 2h0m7 4h0m39-10h0m2 13h0m1-7h0m-10 12h0m-13 4h0m-14-4h0m-9 4h0m-4-3h0m-1 6h0m-3 3h0m-1-3h0m-3 5h0m-5-9h0m-6 0h0m-17 7h0m-23 13h0m-7-13h0m-9 1h0" stroke="#2ca02c" stroke-width="19" stroke-linecap="round" fill="none"/><path transform="scale(.1)" d="M2201 7332h0m-2 28h0m20 24h0m-234 53h0m238 17h0m-3 20h0m-12 65h0m-179 48h0m180-21h0" stroke="#2ca02c" stroke-width="19" stroke-linecap="round" fill="none"/><path transform="scale(.1)" d="M2102 7299h0m-8 18h0m-69-4h0m63 10h0m9 1h0m40 43h0m-9-1h0m-58 3h0m-24 37h0m29-5h0m31-8h0m17-7h0m44 20h0m4-7h0m26 28h0m-117 11h0m-34-4h0m-21 13h0m93 11h0m10-8h0m50 10h0m16 13h0m-3 1h0m-20 25h0m-56-23h0m-14 13h0m-65-8h0m8 34h0m9-9h0m2 16h0m107 17h0m-12 7h0m-14-4h0m-9 9h0m-17-2h0m-32 38h0m18-5h0" stroke="#fff" stroke-width="11.5" stroke-linecap="round" fill="none"/><path transform="scale(.1)" d="M1966 7369h0m18 14h0m13 21h0m62-6h0m25 10h0m27-12h0m5 9h0m15-6h0m18 6h0m156 18h0m-4 11h0m-9-8h0m-14 9h0m-12 2h0m-3-20h0m-41 7h0m-4 3h0m-136 5h0m-3-17h0m-27-3h0m-21 10h0m-14 9h0m-2-2h0m-29 7h0m-17-4h0m19 36h0m35-14h0m76-10h0m14 6h0m6-2h0m26-8h0m49 22h0m65 0h0m12 14h0m-85 10h0m-24-10h0m-54 0h0m-17 4h0m-81 18h0m-6-5h0m-8-3h0m-26 6h0m0 11h0m22 12h0m41-18h0m169 12h0m13-2h0m89 11h0m7-10h0m8-6h0m2-4h0m8 33h0m-32 18h0m-62-21h0m-50-1h0m-3 10h0m-44 1h0m-3 1h0m-32 7h0m-26-7h0m-4-6h0m-33 15h0m-36 3h0m1 21h0m15-14h0m17 17h0m11-1h0m11 3h0m62-15h0m48-4h0m20 13h0m48 1h0m22 10h0m8 10h0m-11 5h0m-4 0h0m-10-1h0m-84 19h0m-8-18h0m-60 1h0m-4 14h0m-84-8h0m-25 4h0m-1-18h0m-7 14h0m-11-9h0m-7 2h0m-3 8h0m59 20h0m41-7h0m24 18h0m51-5h0m14 2h0m55 0h0m64-9h0m-38 36h0m-19-6h0m-18-7h0m-3 14h0m-71-15h0m-72 34h0m3 5h0m60 9h0m62-1h0m16-10h0m-40 27h0m-17 6h0m-55-4h0" stroke="#8c564b" stroke-width="19" stroke-linecap="round" fill="none"/><path d="M218 709.2 219 711.4 217.5 714.9 218.6 716.4 218.5 718.8 218.4 720.8 218 723.5 218.3 724.8 219.6 728.2 220.2 729 220.2 732.5 220.9 733.4 223.5 736.6 223.5 738.4 224.1 740.3 225.7 742.3 228.8 741.8 229.9 741.5 232.1 741.2 233.4 738.9 233.7 737 234.3 735.6 234.7 732.3 234.9 731.2 234.9 727.4 234.7 726.2 235.1 723.3 235.5 721.7 235.5 718.6 236.5 717.6 236.6 715.6 235.8 712.3 235.1 709.8 235.3 708.8 234.6 706.7 232.5 706.1 230.3 705.9 229.6 706.2 226.2 707.6 223.9 707.2 222.9 708.7 221.1 708.6Z" fill="#ff7f0e"/><path transform="scale(.1)" d="M2285 7046h0m20 1h0m15-2h0m2-5h0m4 1h0m21 6h0m26 31h0m-12-12h0m-12 7h0m-4-4h0m-1-5h0m0 11h0m-7-17h0m-10-3h0m-3 16h0m-13-12h0m-10 7h0m-5-13h0m-10-1h0m-22 27h0m-2-11h0m-3 2h0m-15 0h0m-12 6h0m-1-10h0m-15-1h0m-1 14h0m-10-4h0m-22 4h0m-3 22h0m12-9h0m6-8h0m32 6h0m3-9h0m1 11h0m10-9h0m5 3h0m96-5h0m5 17h0m2 7h0m3-20h0m10 5h0m5 5h0m8 42h0m-14-12h0m-1-8h0m0 18h0m-7-20h0m-2 20h0m-7-14h0m-156 13h0m-5-7h0m-8-16h0m-1 14h0m-2-8h0m-5-5h0m-5 14h0m5 28h0m16 9h0m0 5h0m168-26h0m8 3h0m5 21h0m3-4h0m5-1h0m-8 12h0m0 1h0m-1 11h0m-1 14h0m-16-2h0m-155-12h0m-3 13h0m-5-6h0m-3-12h0m-2 12h0m-10-14h0m-1-6h0m0 21h0m-1 2h0m6 32h0m3-27h0m1 19h0m1 2h0m4-6h0m3-13h0m3 27h0m1-17h0m156 8h0m5 1h0m9-13h0m1 19h0m1 1h0m13-17h0m-17 38h0m-6-1h0m0 4h0m-3-13h0m-6 6h0m-142 14h0m-3-11h0m0 11h0m-3-25h0m0 25h0m-6-21h0m-1 5h0m-5-6h0m-2 17h0m-4 1h0m2 25h0m10 8h0m12-20h0m160 28h0m-2 18h0m-2-24h0m0 28h0m-3-18h0m-13-8h0m-3 9h0m-3 3h0m-1-5h0m-1 11h0m-124 0h0m-7-19h0m-2 21h0m-1-1h0m-5-17h0m2 32h0m18-3h0m7 8h0m2 14h0m3-7h0m101-1h0m3-11h0m1 3h0m1 9h0m1-2h0m7 13h0m12-19h0m4 18h0m-2 2h0m-3 21h0m-8-4h0m-6-9h0m-6-4h0m-5 4h0m0 6h0m-1-4h0m-79 15h0m-29-24h0m-1 14h0m12 43h0m2-13h0m9-15h0m8 13h0m4 5h0m10 9h0m1-5h0m17 6h0m6-4h0m9 1h0m18-2h0m13-21h0m2 1h0m10 6h0m4 5h0m0 9h0m1-20h0m2-1h0m3 2h0m-19 38h0m-6-12h0m-6 17h0m-4-1h0m-27-6h0m-3 19h0m-2-14h0m-12 8h0m-1 0h0m-2-23h0m-2 15h0m-2 9h0m-4 0h0m-5-17h0m-15 0h0m-1 1h0" stroke="#ff7f0e" stroke-width="19" stroke-linecap="round" fill="none"/><path transform="scale(.1)" d="M2339 7019h0m38 15h0m-217 47h0m230 25h0m-236 17h0m242 71h0m-8 33h0m4 25h0m-4-18h0m-210 105h0" stroke="#ff7f0e" stroke-width="19" stroke-linecap="round" fill="none"/><path transform="scale(.1)" d="M2242 7102h0m34-12h0m5 47h0m-10-9h0m-3-1h0m-12-6h0m-23 0h0m-26 35h0m7 70h0m49-2h0m5 36h0m77 45h0m-88 24h0m7 19h0m5 18h0" stroke="#fff" stroke-width="11.5" stroke-linecap="round" fill="none"/><path d="M234.7 662.8 233 665 231.5 666.6 231.1 668.6 229.3 669.3 228 671 226.1 672.4 223.7 673 221.6 673.5 219.5 675 217.2 677 215.6 678.4 215.4 678.5 213.2 679.9 212.1 682.7 209.5 683.9 208.5 686.6 207.6 688 206.8 691 206.2 692 204.7 694.5 205.2 696.1 205.4 698.8 204.5 701.2 205.7 702.9 205.9 704.6 206.2 706.9 207.8 709.7 208.9 710.5 210.4 712 211 710.9 212.4 709 214.4 707.6 216.5 707.1 219.9 706.4 220.8 706.1 224.2 705.3 225.1 703.8 227 704 229 702.6 232.3 702.4 233 701.4 233.8 697.6 234.1 696 234.7 694.2 234.8 692.6 234.8 689.1 235.6 687.2 235.6 684.5 234.9 683.3 234.6 681.5 234.6 679.2 236.4 676.6 235.8 675.2 236.7 671.9 237.8 669.7 238 668.5 238.5 665.9 239.4 663.1 236.6 662.4Z" fill="#1f77b4"/><path transform="scale(.1)" d="M2321 6624h0m3 0h0m8-14h0m2 4h0m4-3h0m1 12h0m2 4h0m8-1h0m5-2h0m24-11h0m6 1h0m9 8h0m2-6h0m2 2h0m3 3h0m6 38h0m-5-12h0m-10-6h0m-9 6h0m-18-11h0m-4-4h0m-9 0h0m-12 6h0m-11 14h0m-1-10h0m-9 7h0m-16 7h0m-40 32h0m10-1h0m16-7h0m1-7h0m11 15h0m2-26h0m5 8h0m22-8h0m45-2h0m1 5h0m4 7h0m2-4h0m3 20h0m13-20h0m1 11h0m2-17h0m3 0h0m-1 44h0m0 7h0m-6 3h0m-4-22h0m-1 16h0m-97-12h0m-9-5h0m-2 18h0m-3 0h0m-7-17h0m-2 21h0m-10-22h0m-2 4h0m-1 5h0m-10 4h0m0 2h0m-1 5h0m-2-13h0m-41 34h0m2 6h0m4-6h0m0 9h0m19-5h0m10-6h0m20-10h0m102 4h0m0 13h0m10 3h0m4 7h0m2-11h0m4-12h0m7 7h0m2 12h0m1-7h0m-11 24h0m-1 1h0m-1-9h0m-1-1h0m-5 3h0m-7 1h0m-2 16h0m-2 1h0m-4-8h0m0 7h0m-11-10h0m-1 11h0m-132-20h0m-17 7h0m-8-11h0m-1 16h0m-10-12h0m-35 17h0m-1 1h0m-30 36h0m15-14h0m5-11h0m1 3h0m3 3h0m202 17h0m34-23h0m-5 46h0m-4-15h0m-6 13h0m0 4h0m-7 5h0m-3-14h0m-5 15h0m-2-10h0m-4 1h0m-217-3h0m-35 13h0m-14 27h0m15-22h0m3 15h0m2-17h0m1 23h0m3-12h0m9 14h0m3-4h0m1 1h0m6-18h0m4-5h0m223 11h0m26 6h0m6 14h0m-6 22h0m-12-15h0m-14 1h0m-265-5h0m-3 18h0m-4 5h0m-10 2h0m-3-17h0m-20 34h0m11 9h0m11-4h0m1-1h0m4 8h0m7-12h0m7-14h0m272 11h0m2 10h0m11-6h0m1-11h0m1 21h0m1-23h0m3 4h0m6 14h0m1 16h0m-1 10h0m-12 2h0m-12-15h0m-3 0h0m-1 23h0m-4-16h0m0 13h0m-283-12h0m-2 14h0m-8-27h0m-1 2h0m-1 11h0m-6 2h0m5 20h0m5 23h0m10-20h0m281 15h0m5-7h0m2-1h0m3 10h0m1-21h0m1-1h0m8 21h0m-5 27h0m-8-6h0m-9-3h0m-6 2h0m-33 7h0m-1 6h0m-6 1h0m-8-2h0m-3 2h0m-215-21h0m-12 2h0m-5-8h0m-12 37h0m2 2h0m1 3h0m0 10h0m5-5h0m12-13h0m1 23h0m2-23h0m157 19h0m5-2h0m9-6h0m9-2h0m1-4h0m1 2h0m3-4h0m9 15h0m16-3h0m3 2h0m19-13h0m29-3h0m1 10h0m13-16h0m1 6h0m16-6h0m-96 37h0m0 2h0m-13 5h0m-3-6h0m-3 10h0m-18-5h0m-4 8h0m-10-1h0m-7-9h0m0 6h0m-16 1h0m-2-10h0m0 2h0m-1 19h0m-5-11h0m-2 9h0m-2-4h0m-5-6h0m-14 6h0m-85-16h0m-3-7h0m0 1h0m0 4h0m-18-2h0m-2-3h0m-1 7h0m-1 15h0m-5-19h0m17 30h0m57 18h0m9-12h0m2 8h0m2-8h0m7 2h0m3 17h0m11-12h0m4-4h0m3-8h0m16-2h0m3 7h0m7 1h0m-46 22h0m-39-2h0m-2 8h0m-4 19h0m-4-11h0m0 10h0m-5-22h0m-10 15h0" stroke="#1f77b4" stroke-width="19" stroke-linecap="round" fill="none"/><path transform="scale(.1)" d="M2425 6614h0m-247 119h0m224 23h0m-11 146h0m-5 30h0m-10 30h0m4 11h0m-19 38h0m-86 50h0m-112 46h0m-11 3h0m-98 2h0m-10-1h0" stroke="#1f77b4" stroke-width="19" stroke-linecap="round" fill="none"/><path transform="scale(.1)" d="M2374 6642h0m-1 12h0m-39-9h0m-135 104h0m121-10h0m14 13h0m-51 11h0m-34 15h0m-17-8h0m-13 4h0m-16 28h0m52-14h0m6 2h0m15 14h0m68 3h0m-48 27h0m-3-20h0m-108 2h0m-46 47h0m78 2h0m41-19h0m0 10h0m83 14h0m-26 21h0m-60 0h0m-14 4h0m-38-13h0m-45-9h0m-28 4h0m-67 46h0m11-4h0m22 8h0m83-27h0m8 18h0m58-2h0m32-2h0m34 32h0m-50 4h0m-13-7h0m-20 11h0m-21-10h0m-26-11h0m-98 24h0m137 26h0m57-23h0m-91 40h0m-56-7h0m-9 53h0m7-4h0m2-4h0m26 3h0m5-20h0m8 27h0m69-11h0m-58 18h0m-69 5h0" stroke="#fff" stroke-width="11.5" stroke-linecap="round" fill="none"/><path transform="scale(.1)" d="M2417 6776h0m-47 18h0m4 2h0m25-11h0m2 19h0m34 1h0m1 1h0m4-16h0m1 13h0m21 8h0m-9 4h0m-4 21h0m-1-17h0m-1-5h0m-6 13h0m-1-17h0m-4 21h0m-10-5h0m-7-7h0m-4 17h0m-1 1h0m-3-3h0m-1 4h0m-4-17h0m-14 9h0m-12-20h0m-4 13h0m-1 8h0m-1-13h0m-6 21h0m-1-28h0m2 47h0m16-11h0m1 9h0m3-14h0m6 25h0m3-3h0m16 5h0m12-17h0m0 13h0m3-1h0m3-13h0m19 7h0m6-10h0m10-1h0m1 0h0m1 21h0m4 29h0m-4-19h0m-5 2h0m-5-7h0m-2 6h0m-1 12h0m-18-13h0m-16 18h0m-8-9h0m-1 8h0m-7 3h0m-2-25h0m-1 26h0m-5-7h0m-22-15h0m19 44h0m4-2h0m8-15h0m6 8h0m8-8h0m12 0h0m2 14h0m20-5h0m2 14h0m3-7h0m1-13h0m2 9h0m47 34h0m-15-18h0m0 8h0m-18 19h0m-5-29h0m-13 9h0m-9 0h0m0 7h0m-3 6h0m-19 1h0m-1-19h0m0 24h0m-13-22h0m-14 15h0m-1-1h0m-13 8h0m-3-17h0m-6 3h0m-3 13h0m-1-9h0m-3 32h0m3-4h0m9-9h0m0 20h0m18-4h0m3-7h0m16 8h0m2-5h0m4-5h0m0 14h0m3-8h0m15 4h0m4-1h0m15-6h0m3-7h0m0 7h0m20-16h0m7 17h0m24-5h0m3-13h0m43 51h0m-15 2h0m0 4h0m-1 1h0m-10 0h0m-4-20h0m0 5h0m0 10h0m-5-14h0m-9-6h0m-6 25h0m-4-3h0m-6-19h0m-9 22h0m-13-26h0m-10 23h0m-6-4h0m-2-21h0m-6 19h0m0 9h0m-5-8h0m-1-9h0m-13-2h0m-4-8h0m-6 22h0m-6-6h0m0 2h0m-2 10h0m-4-8h0m-1 2h0m-6-18h0m-3 1h0m-8 22h0m-4-8h0m-4-12h0m-1-7h0m-2 27h0m-5-11h0m-2 40h0m3 0h0m20-23h0m7 22h0m13-19h0m51 20h0m14 1h0m1-28h0m4 23h0m4-15h0m9 11h0m34-19h0m6 6h0m5-1h0m2 20h0m-24 17h0m-7-6h0m-18 5h0m-3-4h0m-1 9h0m-22-7h0m-6 11h0m-2-19h0m-9 1h0m-18 1h0m-13 24h0m-4-3h0m-3-24h0m-4 1h0m-3 5h0m-3 5h0m-14 6h0m-2-14h0m-2 13h0m-11-12h0m-7-4h0m1 31h0m7 19h0m9-8h0m13 3h0m0 1h0m6-14h0m5 15h0m8-6h0m22-6h0m2 23h0m7-17h0m3 14h0m7-25h0m2 26h0m1-13h0m18-6h0m7 2h0m23 18h0m3-11h0m18 5h0m1-3h0m6-1h0m1-16h0m3 14h0m2-9h0m-1 48h0m-11-15h0m-8 8h0m-3-17h0m0 25h0m-6 4h0m-12-20h0m-9 3h0m-22 2h0m-5-6h0m-10 6h0m-2-1h0m-3 1h0m-5 6h0m-3-20h0m-9 5h0m-8 0h0m-4-2h0m-13 21h0m-12-4h0m-5-6h0m-6-11h0m-2 20h0m-5-15h0m-1 18h0m-3-21h0m-6 50h0m2-16h0m11 20h0m5-12h0m7 6h0m2-8h0m5 11h0m7-2h0m11 2h0m39-3h0m7 2h0m3-15h0m3 12h0m4-18h0m2 14h0m3-9h0m18 17h0m1-14h0m4 5h0m10-11h0m4 22h0m2-7h0m16-20h0m16 20h0m10 33h0m-1-4h0m-6-3h0m-1 0h0m-2-3h0m-1-4h0m-1-6h0m-3 22h0m-7-26h0m-3 8h0m-14 15h0m-1 3h0m-41-21h0m-6 14h0m-1-11h0m-29 4h0m-18-3h0m-16 12h0m-1 5h0m-12-16h0m-1 8h0m-2-9h0m-11 11h0m-12-16h0m-1 20h0m5 11h0m10 19h0m7-11h0m0 3h0m4 5h0m1-20h0m19 26h0m11-18h0m7 19h0m3-9h0m6 1h0m3-15h0m3 13h0m7 3h0m4-21h0m3 20h0m17-14h0m1-6h0m3 11h0m0 17h0m14-9h0m15-3h0m0 2h0m16-15h0m2 13h0m1 8h0m1 0h0m12-19h0m2 18h0m4 0h0m13-23h0m2 25h0m3-2h0m0 15h0m-7 5h0m-8 3h0m-5 7h0m-1-1h0m-5 2h0m-1-16h0m-43-4h0m-9 17h0m-2-21h0m-3 27h0m0 1h0m-2-11h0m-4 10h0m-3-15h0m-9 2h0m-29 8h0m-4-19h0m-18 23h0m-7 0h0m-4-20h0m-16 19h0m-8-9h0m-17 34h0m27 8h0m1-1h0m11 0h0m29-17h0m1 6h0m13 2h0m2 9h0m1-17h0m10 3h0m6-12h0m0 27h0m2-3h0m3-15h0m3 4h0m1-13h0m0 7h0m0 7h0m9-7h0m7 15h0m2 3h0m22-18h0m12-1h0m9 2h0m9 5h0m7-1h0m-40 19h0m-5 23h0m-3-22h0m-5 5h0m-21 5h0m-7 7h0m-3-5h0m-20 1h0m-2-11h0m-10 15h0m-5-6h0m-16-8h0m-4-5h0m-1 19h0m0 6h0m-10-2h0m-8-10h0m-6 12h0m-3-6h0m-9 8h0m-3-9h0m2 13h0m20 3h0m12 15h0m25 1h0m8 8h0m14-17h0m9 10h0m12-12h0m9-6h0m12 7h0m1 16h0m2 1h0m37-26h0m-32 33h0m-25 2h0m-4 5h0m-9 6h0m-8-12h0m-13 20h0m-16-3h0m-7-5h0m-7-16h0m-24 11h0m-1 1h0m-3-6h0m4 26h0m9-4h0m2 7h0m15 5h0m12 13h0m-14 13h0m-7-2h0" stroke="#e377c2" stroke-width="19" stroke-linecap="round" fill="none"/><path d="M258.4 698.6 257.7 701.8 256.4 703.5 257.7 706.3 256.6 708.3 256 711.2 255.9 712.5 257.4 714.2 257.6 717.6 257.2 718.7 257.6 721.1 259.9 722.3 261.6 725 261.5 726 263.2 728.9 265.8 728.3 267.4 728.8 270.1 728.8 272.9 728.1 274.7 728.7 276.4 727 278.5 727 281.5 724.9 282.8 724.4 284.5 724 285.5 722.3 287.2 719.4 288 718.9 289.3 716 290.7 714.8 289.6 712.1 289.7 710.2 290.3 707.7 288.6 705.4 288 704.3 286.1 703.1 284.6 700.8 283.3 699.2 282.1 697.4 279.9 695.4 278 694.1 276.5 693.4 275.3 693.2 272.1 692.3 270.6 691.5 267.6 691.8 266.7 692.7 263.7 692.4 263 694.2 261.1 695.7 260 698.1Z" fill="#9467bd"/><path transform="scale(.1)" d="M2730 6896h0m-111 33h0m1-4h0m3-3h0m30 1h0m11-16h0m16 16h0m3-18h0m5 15h0m7-16h0m0 3h0m3 8h0m7 2h0m0 2h0m9-12h0m3 14h0m4-10h0m0 14h0m12-21h0m12 21h0m8-10h0m2-6h0m6 3h0m9 5h0m0 8h0m2 4h0m31 6h0m-3 5h0m-9 17h0m-2-5h0m-9-20h0m-101 4h0m-35 1h0m-11 1h0m-2-7h0m-5 1h0m0 5h0m-4-7h0m-2 17h0m-10 8h0m-12-11h0m-2 10h0m-33 30h0m11 1h0m5-21h0m0 4h0m2 11h0m1-4h0m6 10h0m11-18h0m14-5h0m0 15h0m200 1h0m14 3h0m2-12h0m1 10h0m10 6h0m6-6h0m30 36h0m-19-25h0m-3 24h0m-14-4h0m-242-19h0m-10 25h0m-4-19h0m0 21h0m-2-16h0m-2-11h0m-8 1h0m-7 19h0m-4-6h0m-3 7h0m-3-1h0m6 16h0m2-6h0m4 15h0m0 10h0m18-24h0m269 12h0m1-9h0m2 13h0m23-8h0m1 16h0m1-17h0m19 14h0m18 33h0m-5-9h0m-1-6h0m-13 15h0m-7-26h0m-2 1h0m-1 11h0m-312 2h0m-4-4h0m-7 12h0m-3 6h0m-6-27h0m-6 3h0m-2 23h0m-4 29h0m13-21h0m0 14h0m3-16h0m3 0h0m6 10h0m315-13h0m1 19h0m5-7h0m1 16h0m2-23h0m6 24h0m2-8h0m2-6h0m2 3h0m3-14h0m16 50h0m-2-15h0m-3 16h0m-1 3h0m-3-9h0m-6-1h0m-9-16h0m-1 16h0m-2-11h0m-8-7h0m-1 3h0m-312 9h0m-9 13h0m-4-20h0m-22 8h0m7 19h0m2 22h0m11-23h0m0 21h0m9 2h0m321-24h0m9 22h0m2-12h0m4 41h0m-2-12h0m0 13h0m-1-6h0m-6-8h0m-1 0h0m-8 15h0m0 6h0m-2-4h0m-11-2h0m-3-12h0m-284 1h0m-3-9h0m-4 23h0m-1-7h0m-6 8h0m-14-14h0m9 29h0m10 10h0m19-2h0m254-8h0m12 8h0m3 9h0m2-26h0m5 4h0m3 19h0m0 1h0m-9 8h0m-6 9h0m-5-14h0m0 2h0m-12 17h0m-6 6h0m-2-2h0m-2 0h0m-7-3h0m-4 4h0m-4-8h0m-10-3h0m-2 2h0m-44 14h0m-167-25h0m0 20h0m-3-12h0m-8-11h0m-1 23h0m-9-11h0m34 20h0m0 3h0m12 13h0m2-3h0m3-15h0m4 23h0m7-5h0m5-4h0m22-1h0m6 3h0m30 8h0m14-12h0m18 13h0m19-21h0m2-1h0m14-3h0m16 17h0m1-4h0m4-14h0m5 10h0m1-1h0m5 8h0m27-8h0m-75 25h0m-8 1h0m-16-4h0m-16 7h0m-1-6h0m-2-1h0m-42 7h0m-3-2h0m-1-3h0m-10 4h0m-4-3h0m-4 3h0m-3 9h0m-8-9h0" stroke="#9467bd" stroke-width="19" stroke-linecap="round" fill="none"/><path transform="scale(.1)" d="M2796 6924h0m128 143h0m-385-1h0m382 15h0m20 21h0m-15 22h0m4 62h0m-379 38h0m329 37h0m-118 42h0m-97 15h0" stroke="#9467bd" stroke-width="19" stroke-linecap="round" fill="none"/><path transform="scale(.1)" d="M2791 6958h0m-77 5h0m9 26h0m126 14h0m-31 2h0m-103-9h0m-93 0h0m-13 14h0m-22-2h0m93 35h0m52 3h0m1-26h0m48 12h0m21-6h0m50 32h0m-75-2h0m-24 11h0m-40 5h0m-5 1h0m-41-4h0m-36-16h0m-19 7h0m-15 43h0m16-18h0m26 7h0m18-3h0m60 4h0m25 8h0m16 4h0m35-8h0m46-2h0m6 30h0m-11 12h0m-24-13h0m-33 3h0m-24 9h0m-7-5h0m-17 3h0m-9 3h0m-128-5h0m-4 27h0m40-10h0m27 0h0m100-7h0m11 7h0m120 5h0m-29 42h0m-197-8h0m-3 10h0m-13-7h0m-40 8h0m-10 6h0m175 9h0m8 11h0m30 4h0m-151 10h0m63 47h0m16-17h0" stroke="#fff" stroke-width="11.5" stroke-linecap="round" fill="none"/><path transform="scale(.1)" d="M2176 7113h0m-45 21h0m-9-4h0m-71-14h0m27 29h0m53 20h0m18 21h0m-63-14h0m-24 37h0m9 13h0m12-17h0m57-5h0m43 42h0m-24-2h0m-16 5h0m-44 11h0m42 7h0" stroke="#2ca02c" stroke-width="19" stroke-linecap="round" fill="none"/><path transform="scale(.1)" d="M2305 7404h0m21 28h0m-22-16h0m-76 4h0m-21 48h0m18-10h0m20-8h0m12 9h0m37-9h0m33 34h0m-5-2h0m-34 3h0m-4-8h0m-39 38h0m49-11h0m13-3h0m0 19h0m2-19h0m21 17h0m-44 27h0m-8-12h0m-2 12h0m-50 26h0m11-6h0m14-5h0m6 17h0m2 6h0m8 1h0m-33 11h0" stroke="#ff7f0e" stroke-width="19" stroke-linecap="round" fill="none"/></g>
<rect x="167.4" y="654.7" width="130.6" height="127.6" fill="none" stroke="#333" stroke-width="1"/>
<text x="232" y="794.6" font-size="10.8" text-anchor="middle" fill="#1a1a1a" >UMAP1</text>
<text x="164.5" y="717.4" font-size="10.8" text-anchor="middle" transform="rotate(-90 164.5 717.4)" fill="#1a1a1a" >UMAP2</text>
<text x="385.2" y="647.7" font-size="12.2" text-anchor="middle" fill="#1a1a1a" >conST (ARI=0.39)</text>
<g><path d="M342.3 691.5 341.1 692.4 341.4 694.7 339.4 696.9 339.5 698.5 339.6 702.3 338.1 703 337.8 704.9 337.7 707.1 335.9 710.8 334.9 711.4 334.5 713.9 333.7 715.7 333 718.7 333.7 720.6 335.3 722.6 337.8 722.9 340.6 723.5 341.7 723 343.8 723.9 345.6 722.7 348.5 722.3 350 722.2 350.9 720.4 352.9 718.1 354.1 716.3 356.1 714.4 355.3 713 356.4 709.4 357.4 708.2 357.3 705.4 355.6 704.6 355.1 702.6 354.2 700.7 353.4 698.8 353.1 696.7 352.3 693.8 351.2 691.5 350.4 690.1 349.2 688.1 348.8 685.5 347.2 685.6 344.4 688.2 343.3 688.5Z" fill="#d62728"/><path transform="scale(.1)" d="M3484 6829h0m-15 5h0m0 2h0m-32 26h0m26-22h0m1 10h0m12-8h0m0 12h0m3 4h0m3-13h0m2 14h0m3-5h0m1-8h0m4 7h0m2 3h0m12 37h0m-2-21h0m-7 2h0m-8 0h0m-1 11h0m-8 0h0m-11-15h0m-1 2h0m-3 7h0m-5 1h0m-3 2h0m-2-3h0m-9-6h0m0 24h0m-2-1h0m-1-2h0m-6-17h0m-6 7h0m-31 42h0m5-17h0m15 2h0m0 18h0m80-7h0m8-15h0m5 0h0m11 21h0m1-4h0m8 12h0m-6 11h0m-1-6h0m-1 7h0m-8 6h0m-9-6h0m-4-11h0m-88 1h0m-2 15h0m-2-21h0m-7-2h0m0 14h0m-8-2h0m-7-2h0m-2 12h0m-1 3h0m5 34h0m9-4h0m115-16h0m3 2h0m10-4h0m3-4h0m2 15h0m18 28h0m-1-15h0m-3 27h0m-15-7h0m-4-8h0m-1 6h0m-1 1h0m-125 3h0m-5-20h0m0 6h0m-10 8h0m-15 3h0m8 19h0m0 6h0m3-6h0m8 10h0m157 2h0m11 4h0m1-20h0m2 22h0m10-13h0m3-1h0m10 44h0m-1 1h0m-2-19h0m-6 6h0m-2-12h0m-7 0h0m-2 3h0m-6 1h0m0 9h0m-1-16h0m-5 2h0m-168-2h0m-5 18h0m-3 9h0m-1-1h0m-2-13h0m-1-2h0m-3 16h0m-7-24h0m-4 9h0m-3 13h0m-4 4h0m0 23h0m6-13h0m3-9h0m2 15h0m200 3h0m10 11h0m4 12h0m-5 0h0m-3-7h0m-2 5h0m-4 17h0m-7-12h0m-10 7h0m-182-21h0m-1 2h0m-9 26h0m-11-27h0m-8 23h0m-3 15h0m4 2h0m1 11h0m6 5h0m2-17h0m6-8h0m4 21h0m7-23h0m0 4h0m173 8h0m2-6h0m34 0h0m-17 31h0m-7-2h0m-3-3h0m-4 16h0m-3-10h0m-3 3h0m-4-4h0m0 15h0m-8 3h0m-12 4h0m-159-16h0m-1-1h0m-1-11h0m-4 14h0m-2 9h0m-3 3h0m-4-26h0m-11 22h0m3 21h0m5-12h0m0 9h0m17 14h0m3-20h0m4 23h0m14-4h0m29-7h0m4 6h0m75-4h0m22-8h0m6-6h0m5 0h0m2 9h0m15 5h0m1-10h0m4-8h0m3 4h0m-23 31h0m-16-1h0m-3 7h0m-5-8h0m-11 3h0m-5-6h0m0 18h0m-3-7h0m-4-11h0m-1 15h0m-1-7h0m-1 10h0m-3-5h0m-2-1h0m-1-11h0m-10 0h0m-6 2h0m-2-3h0m0 16h0m-2-10h0m-5 1h0m-3-8h0m-8 11h0m-3-8h0m-1-1h0m-14 5h0m-3-1h0m-1 2h0m-12 1h0m-32-1h0m-8-7h0m-8 6h0" stroke="#d62728" stroke-width="19" stroke-linecap="round" fill="none"/><path transform="scale(.1)" d="M3418 6866h0m100 3h0m-150 102h0m0 13h0m183-10h0m-192 46h0m-23 94h0m229 72h0m-247-5h0m-20 10h0" stroke="#d62728" stroke-width="19" stroke-linecap="round" fill="none"/><path transform="scale(.1)" d="M3499 6949h0m-38 26h0m-43 201h0" stroke="#fff" stroke-width="11.5" stroke-linecap="round" fill="none"/><path d="M333.5 725.3 332.4 726.7 331.5 728.8 329.7 731.4 331 734.2 330.1 736 330 738.1 330 739.7 330.5 742.8 331.3 744.7 331.1 746 334.4 746.4 336.2 747.7 338.7 748.2 339.6 748.5 342.1 748.1 344.4 748.6 346.4 747.7 348.3 745.3 348.3 743.4 348.2 741.4 347.6 739.1 347.6 736.7 347.4 734.5 348.3 733.4 348 730.1 348.4 729.1 348 727.6 345.3 725.6 344.2 725.9 341.1 724.9 339.3 726.2 336.6 726.4 334.3 726.1Z" fill="#8c564b"/><path transform="scale(.1)" d="M3492 7252h0m0 5h0m-8-9h0m-8 11h0m-12-10h0m-3 0h0m-3-6h0m-7-4h0m-10 6h0m-1 10h0m-3-9h0m-4-4h0m-4 12h0m-2-14h0m-1 12h0m-1-2h0m-1 3h0m-2-11h0m-7 11h0m-2-10h0m-13 11h0m-14-10h0m-3 7h0m0 5h0m-8-3h0m-16-5h0m-12 0h0m-3 7h0m-22-15h0m-25 42h0m10-17h0m4 21h0m2-21h0m1 3h0m3 3h0m0 2h0m3 15h0m8-19h0m2 0h0m18-1h0m5 1h0m10-9h0m6 6h0m8-4h0m57 6h0m1-2h0m1-5h0m41 10h0m14 0h0m0 7h0m5-15h0m2 3h0m-6 49h0m-3-4h0m-8-18h0m0 6h0m-2-6h0m-1 13h0m-2 9h0m-1-11h0m-8-4h0m-146 0h0m-1 1h0m-18-8h0m-7 23h0m-3-24h0m-6 45h0m5 1h0m1 6h0m7-17h0m8 3h0m7 11h0m156-10h0m0 9h0m4-12h0m20 11h0m-2 13h0m-5 3h0m-6-3h0m-1 13h0m-18-15h0m-156 9h0m-20 13h0m-7-4h0m-4 32h0m2-13h0m11-6h0m16 23h0m167-20h0m1-3h0m1 24h0m8-25h0m0 26h0m1-3h0m1 6h0m7-10h0m5 30h0m-10 9h0m-1-18h0m-3 12h0m-4-11h0m-3 1h0m-3-7h0m-2-3h0m-3 2h0m-4 6h0m-164 7h0m-9 7h0m-3-23h0m-8 7h0m10 27h0m6 5h0m4-2h0m5 18h0m8-24h0m9 15h0m8 4h0m6-7h0m0 5h0m2 0h0m4 2h0m6 4h0m4-6h0m2 6h0m12-5h0m10 7h0m83 0h0m9-1h0m19-13h0m4 13h0m7-22h0m7 18h0m-2 12h0m-11 3h0m0 5h0m-7-2h0m-5-5h0m-5 8h0m-6-7h0m-8-2h0m-3 0h0m-9 13h0m0 9h0m-12-12h0m-4-2h0m-10-5h0m-1 3h0m-2 15h0m-6-22h0m-2 5h0m-10 10h0m-10-11h0m-7 0h0m-2 2h0m-21 0h0m-2-1h0m-20 1h0m-6-5h0m-5 6h0m-22-3h0" stroke="#8c564b" stroke-width="19" stroke-linecap="round" fill="none"/><path transform="scale(.1)" d="M3434 7226h0m63 136h0m-232 35h0m239-1h0m6 17h0m-242 15h0m98 74h0m54 15h0" stroke="#8c564b" stroke-width="19" stroke-linecap="round" fill="none"/><path transform="scale(.1)" d="M3367 7309h0m12 22h0" stroke="#fff" stroke-width="11.5" stroke-linecap="round" fill="none"/><path d="M328.3 751.6 328.8 753.1 328.4 755.7 329.5 757.2 330.5 760.2 331.5 762 333.1 762.9 333.1 766.2 335.3 767.2 337.1 769.4 337.8 770.3 340.1 771.4 341.2 773.3 342.8 773.6 345.5 774.9 346.1 773.5 347.8 771.2 348.9 769.9 349.1 766.9 351 765 351 762.4 350.3 760.4 350.8 758.1 351 755.2 350 753.9 350.4 752.3 348.1 751.5 346.2 750.3 343.9 751.6 341.1 750.6 340.2 750.6 336.9 749.1 335.8 750.1 332.6 749.3 330 749.7Z" fill="#2ca02c"/><path transform="scale(.1)" d="M3491 7495h0m-12 2h0m-11-5h0m-2 1h0m-27 3h0m-1-2h0m-1 0h0m-8-2h0m-3-4h0m-16 1h0m-3-3h0m-2 9h0m-10-3h0m-5-9h0m-4 3h0m-5 2h0m-5 2h0m-16 2h0m-7-2h0m0 6h0m-5 0h0m-6 3h0m-5-5h0m-12 2h0m-8-22h0m-6 3h0m0 4h0m-8 0h0m-9 11h0m-4 6h0m-19 28h0m10-17h0m16-7h0m2-1h0m5-1h0m19 1h0m25 5h0m33 4h0m2 2h0m18-2h0m13 7h0m1-10h0m0 4h0m1-3h0m2 5h0m26-5h0m32 3h0m9-3h0m4 3h0m9-10h0m3-1h0m13 41h0m-7 8h0m-6-16h0m-5 5h0m-1 9h0m-198 10h0m-2-1h0m-6-17h0m-4-9h0m-8 8h0m-3 0h0m-2 32h0m11 19h0m3-19h0m2-3h0m4 20h0m5-17h0m0 11h0m4-12h0m1-2h0m3 19h0m200-2h0m2-2h0m7-4h0m6-16h0m1 3h0m9 40h0m-5-5h0m-2 3h0m-3 16h0m-5-17h0m0 3h0m-6-15h0m-4 4h0m-6 12h0m-178-1h0m0 2h0m-9-2h0m-6-1h0m-13-14h0m13 40h0m2 14h0m1-1h0m2-3h0m4-19h0m5 7h0m2 18h0m0 3h0m4-23h0m0 20h0m1 2h0m12-6h0m157-15h0m4 15h0m7-18h0m0 17h0m10-21h0m0 21h0m9-16h0m-14 25h0m-1 12h0m-4 8h0m-1-11h0m-2 16h0m-7-2h0m-4-3h0m-130 0h0m-10 2h0m-1 5h0m0 1h0m-11-4h0m-7-21h0m-1 9h0m0 11h0m-14-9h0m-2-11h0m0 4h0m20 27h0m7 1h0m1 8h0m10 10h0m3-14h0m2 20h0m1-15h0m4 14h0m3-17h0m2 16h0m3-11h0m9 4h0m11 5h0m2 0h0m4 0h0m86-4h0m10 0h0m3-6h0m9-4h0m3-10h0m-19 47h0m-2-1h0m-2-10h0m-4 9h0m-4 0h0m-5 5h0m-3 0h0m-1-1h0m-61-4h0m-3-11h0m0 6h0m3 20h0m21 5h0m11 8h0m0 9h0m2-21h0m1 4h0m6 23h0m13-24h0" stroke="#2ca02c" stroke-width="19" stroke-linecap="round" fill="none"/><path transform="scale(.1)" d="M3495 7485h0m-25-8h0m-85-2h0m154 35h0m-11 25h0m-243 69h0m191 160h0m-32 17h0" stroke="#2ca02c" stroke-width="19" stroke-linecap="round" fill="none"/><path transform="scale(.1)" d="M3371 7542h0m89 95h0" stroke="#fff" stroke-width="11.5" stroke-linecap="round" fill="none"/><path d="M379.2 688.6 381.4 691.8 381.1 693.1 381.8 696.1 380.6 697.5 379.9 699 380.5 701.8 382.9 703.1 384.1 703 386 705.4 389.5 705.5 390.9 706.7 393.1 707.2 395.1 707.4 397 708.3 399.5 708.9 400.2 710.2 402.1 711.2 405.1 712.5 406.5 713.8 409.7 714.7 411.4 713.8 413.6 713.4 413.6 710.9 413.1 708 411.4 706.4 410.7 707 409.1 704.3 406 705.2 403.3 704.3 402.6 703 400.5 703.4 398.2 702.6 395.4 701.8 394.3 701.1 392.3 700 390.4 698.3 388 696.4 388.7 694.6 388.2 692.9 387.7 690.1 387.8 688.2 384.7 687.8 383.1 686 382.1 688.3Z" fill="#e377c2"/><path transform="scale(.1)" d="M3827 6862h0m2-15h0m0 4h0m7 3h0m4 1h0m5 2h0m9-5h0m2 0h0m0 14h0m18 3h0m24 14h0m-16 16h0m-1-6h0m-3-5h0m-8 1h0m-7-19h0m0 6h0m0 16h0m-8-20h0m-20 5h0m-4-2h0m-6 1h0m-3 14h0m-10 0h0m0 7h0m-1-8h0m-3-4h0m-3-3h0m0 1h0m-18-1h0m2 39h0m2 0h0m4 8h0m7-23h0m7 22h0m68-3h0m1-6h0m2 4h0m1-6h0m1-11h0m10 12h0m6-3h0m2 10h0m-2 5h0m-3 16h0m-1-16h0m-3 26h0m-2-4h0m-6-1h0m-1-10h0m-3 7h0m-2 5h0m-56-7h0m-10-4h0m0 1h0m-1 16h0m-1-13h0m-6-4h0m-3 0h0m-2-3h0m-1 6h0m-6 27h0m19-6h0m1 21h0m10-17h0m53 0h0m1 8h0m1 7h0m3-24h0m0 27h0m10-5h0m2 1h0m4-24h0m21 26h0m2-4h0m88 32h0m-20 1h0m-9-9h0m-18-4h0m-14 12h0m-12-22h0m0 11h0m-3 7h0m-1-8h0m-2-7h0m-3-4h0m-9 14h0m-1-1h0m-78 8h0m-18-2h0m0 5h0m-3-23h0m-1 12h0m-1-7h0m0 1h0m-6 20h0m-9-19h0m-11 6h0m32 24h0m7 4h0m7 1h0m2 12h0m6-4h0m3-12h0m7 10h0m20 8h0m9 0h0m69-23h0m57 12h0m2-6h0m4 5h0m4-1h0m13-5h0m1-10h0m3 2h0m3 9h0m0 11h0m5 1h0m15-3h0m1 7h0m2-22h0m2 24h0m1-4h0m5-7h0m3 6h0m6-12h0m0 9h0m5-7h0m33 12h0m31 33h0m-4-9h0m-1 5h0m-8-14h0m-7 1h0m-32-7h0m-1 1h0m-2-4h0m-3-1h0m-7 8h0m-14-4h0m-10-2h0m-13-1h0m-82 21h0m-14-9h0m-4 10h0m-6-8h0m-16 10h0m-1-12h0m-8 13h0m-2-14h0m-7-6h0m-3 2h0m-1-1h0m-6 13h0m-1-21h0m-17 22h0m-14-9h0m83 29h0m10 1h0m8-1h0m5 12h0m6 5h0m7-17h0m17 13h0m4-11h0m11 3h0m5 6h0m8 3h0m92-25h0m15 8h0m0 7h0m9-12h0m5 1h0m5 3h0m1 20h0m-3 5h0m-3 5h0m-4-5h0m-3 24h0m-3-1h0m-3-15h0m-6 2h0m-3-4h0m-9 11h0m-10-3h0m-4 11h0m-5-7h0m-30 0h0m-6-4h0m-23-16h0m-2 7h0m-10-6h0m-3 6h0m-13 11h0m-6-18h0m-14-1h0m-9 3h0m54 28h0m26 9h0m7 11h0m1-18h0m15 8h0m10 1h0m5 0h0m4-9h0m2 10h0m5-5h0m12 6h0m7-3h0m5 1h0" stroke="#e377c2" stroke-width="19" stroke-linecap="round" fill="none"/><path transform="scale(.1)" d="M3829 6835h0m59 35h0m29 49h0m10 57h0m26 12h0m188 58h0m-251 46h0m277 0h0m-131 74h0m54-5h0" stroke="#e377c2" stroke-width="19" stroke-linecap="round" fill="none"/><path transform="scale(.1)" d="M3982 7075h0" stroke="#fff" stroke-width="11.5" stroke-linecap="round" fill="none"/><path d="M412.4 714.5 413.9 716.3 416.2 718.1 418.1 719.2 420.2 719.5 421.6 722.1 422.9 723.1 425.9 723.2 426.6 725.1 429.3 726.7 430.1 728.4 432.5 729.8 433.8 731.7 435.7 733.1 436.3 735.6 438.5 737.3 438.6 738.6 441.9 737.7 441.7 736.1 442 733.9 442.9 731.6 443.3 730 443.8 727.3 442.7 725.2 443.4 724.3 442.1 721.4 441.3 719.5 438.7 717.4 438.6 715.5 436.8 715.2 434.2 713.3 433 713 431.2 711.7 428.7 710.3 426.8 709.1 425 708.9 422 708.6 420.8 710.1 418.4 709.9 416.6 711.3 414.2 713.2Z" fill="#9467bd"/><path transform="scale(.1)" d="M4268 7074h0m-8 2h0m-8 0h0m-4-4h0m-1 1h0m-4-1h0m-7 7h0m-84 24h0m8 2h0m12-10h0m5-11h0m4-1h0m7 9h0m1 1h0m9 7h0m8-17h0m7 13h0m2 5h0m3-3h0m8-3h0m4-6h0m2-4h0m19 6h0m4-2h0m1 4h0m9 2h0m11 0h0m1-11h0m0 16h0m9 7h0m13 0h0m10-14h0m44 36h0m-7-4h0m-2-6h0m0 1h0m-7 11h0m0 4h0m-5-20h0m-16 9h0m-1 7h0m-15-15h0m-10-5h0m-5 2h0m-116 3h0m-4 8h0m-5-7h0m-2-4h0m-3 0h0m-9 17h0m-13-3h0m-2 12h0m-2-3h0m-3-6h0m-1 3h0m-12 18h0m2-3h0m7 13h0m12-8h0m13-13h0m0 13h0m14 3h0m6 11h0m182-17h0m11 6h0m1-12h0m2 18h0m17 2h0m3-20h0m1 6h0m3 13h0m10 0h0m36 30h0m-3 0h0m-11-18h0m0 12h0m-3-6h0m-15 18h0m-2-20h0m-17-6h0m-179 26h0m-25-19h0m-6-9h0m-1 1h0m-9 9h0m-1 4h0m-7-11h0m-1-4h0m-11 6h0m-2 1h0m-4-3h0m30 27h0m21 9h0m1 3h0m15 12h0m5 0h0m1 4h0m1-8h0m0 5h0m16-2h0m2-10h0m22 10h0m157-23h0m6-1h0m9 10h0m0 11h0m8 3h0m7-7h0m8 42h0m-1-15h0m-14 13h0m-4-19h0m-2 11h0m-143 10h0m-2-1h0m-7-25h0m-6 18h0m-1-20h0m-7 24h0m-1-9h0m-4-12h0m-1 6h0m-26-3h0m52 37h0m9 2h0m3 8h0m1-23h0m1 17h0m13 6h0m124-21h0m10 15h0m4-12h0m0 3h0m4-5h0m5 23h0m4-5h0m3-9h0m-5 22h0m-104 22h0m-5 1h0m-13-18h0m-1 4h0m-2 9h0m-10-22h0m-6 8h0m-9-9h0m-11 7h0m37 29h0m7 17h0m1-10h0m2-9h0m4 13h0m1 10h0m6-26h0m1 19h0m1 0h0m3 2h0m10-4h0m4 7h0m43 3h0m8-19h0m0 7h0m1 10h0m4 3h0m1-5h0m4-13h0m0 17h0m2-3h0m5 2h0m6-21h0m-17 30h0m0 1h0m-4 1h0m-18 18h0m-19-12h0m-1-2h0m-2-7h0m0 17h0m-15-11h0m-6 13h0m-4-7h0m21 31h0m1-18h0m2 4h0m21 1h0m0 7h0m1 11h0m3-16h0m1 5h0m0 9h0m6-21h0m7 0h0m7 6h0m8-4h0" stroke="#9467bd" stroke-width="19" stroke-linecap="round" fill="none"/><path transform="scale(.1)" d="M4367 7107h0m-270 31h0m-2-4h0m19 28h0m0 7h0m35 29h0m51 28h0m255 82h0m-61 110h0" stroke="#9467bd" stroke-width="19" stroke-linecap="round" fill="none"/><path transform="scale(.1)" d="M4186 7102h0m129 50h0" stroke="#fff" stroke-width="11.5" stroke-linecap="round" fill="none"/><path d="M352.7 677.1 352.9 679.1 354.2 680.5 356.3 680.3 358.3 680.1 360.5 681.5 363.8 681.6 365.3 681.7 367.7 681.2 369.9 681.3 372.3 681.4 373.2 682.3 376.5 683.6 378.5 685.2 380.6 685.6 382.3 683.6 382.1 681.1 383.1 680.2 384.1 677.7 385.4 674.8 385.4 672.6 385 671.4 385.5 668.5 385 666.8 385.4 665 383.8 662.2 381.4 662.1 379.8 659.9 377.7 661.5 375.8 661.4 373.4 661.7 371.3 663.1 369.1 662.2 367 663.3 364.4 664.6 363.9 666.1 361.2 666 359.5 667.3 357.7 668.5 355.5 671.4 355.9 671.9 354.6 674.8Z" fill="#ff7f0e"/><path transform="scale(.1)" d="M3806 6589h0m-4 3h0m-1 1h0m-2 3h0m-7-7h0m-12 4h0m-116 35h0m1-1h0m4 0h0m7-4h0m11 6h0m11-16h0m0 1h0m1-4h0m9 4h0m7 10h0m2-14h0m5 10h0m8-14h0m0 5h0m11 15h0m5-22h0m0 15h0m3 10h0m3-16h0m3 0h0m3-10h0m2 13h0m8 7h0m2-19h0m21 3h0m13 6h0m6 0h0m0 5h0m9 6h0m5-24h0m4 0h0m7 29h0m19-16h0m4 30h0m-1-13h0m-9 3h0m-11 6h0m-122-8h0m-8 4h0m-8 2h0m-4 2h0m-22-6h0m-7 6h0m-6-6h0m0 6h0m-4 2h0m-8 3h0m-1 13h0m-12-4h0m-8 0h0m-11-6h0m0 11h0m-12 0h0m-50 26h0m14-7h0m10-7h0m2 0h0m1 12h0m9-9h0m0 11h0m3-18h0m8 1h0m1 5h0m2 1h0m0 8h0m15-21h0m3 2h0m6 2h0m17-2h0m195-2h0m2 4h0m2 8h0m4 7h0m2-9h0m1 10h0m1-7h0m3-11h0m19 51h0m-8-8h0m-6-4h0m-4 4h0m0 14h0m-4-11h0m-1-4h0m-1-4h0m-1 14h0m-2-19h0m-5 10h0m-275-6h0m-1 13h0m-4 5h0m-8-10h0m-5 12h0m-8-3h0m-21 31h0m2 1h0m1-4h0m5-12h0m11 9h0m1-7h0m2-3h0m0 13h0m5-21h0m0 13h0m4 2h0m4-4h0m1 4h0m6-7h0m4-11h0m279 10h0m1 12h0m10-2h0m4-4h0m3 0h0m4 9h0m-16 7h0m-15 20h0m-290 4h0m-12-13h0m0 14h0m-7-11h0m-6-7h0m-4 25h0m3 11h0m1-14h0m7-1h0m1 23h0m3-13h0m1 13h0m8-13h0m9 4h0m7 3h0m16 7h0m45-6h0m36 0h0m21 6h0m26 4h0m10-1h0m8 2h0m107-12h0m4 3h0m3 0h0m20-2h0m-12 18h0m-13 22h0m-6-24h0m-5-2h0m-1 12h0m-2-4h0m-4 9h0m-4 8h0m-3 2h0m-54-13h0m-15-10h0m0 17h0m-7-2h0m-13-20h0m-1 7h0m-15-2h0m-1 4h0m-9 0h0m-1 6h0m-51-15h0m-17 3h0m-2 8h0m-4-11h0m-3 15h0m-29-12h0m-14-2h0m-1 9h0m-6-11h0m-5 9h0m-9-3h0m-17 1h0m-3 0h0m-1-7h0m-1 10h0m202 22h0m16 9h0m4-6h0m5 13h0m1-4h0m0 5h0m8-19h0m2 4h0m10 10h0m0 9h0m7-21h0m21 5h0m6 12h0m2-8h0m-22 24h0" stroke="#ff7f0e" stroke-width="19" stroke-linecap="round" fill="none"/><path transform="scale(.1)" d="M3837 6587h0m-154 20h0m24-5h0m-185 123h0m350 38h0m-373 8h0m364 50h0m-88 64h0m-12-10h0m-1 2h0" stroke="#ff7f0e" stroke-width="19" stroke-linecap="round" fill="none"/><path transform="scale(.1)" d="M3746 6669h0m54 17h0m-149 23h0" stroke="#fff" stroke-width="11.5" stroke-linecap="round" fill="none"/><path d="M349.6 682.8 351.5 684.7 352.4 687.1 352.5 688.6 353.2 690.4 353.1 693 353.4 696 355.1 697.1 355.1 699.2 356.8 702.1 358.3 703.5 359.6 704.1 360.6 703.9 364.4 703.3 364.8 703.4 368.3 702 369.2 701.7 372.8 700.5 373.8 699.7 376.3 698.4 377.4 697.8 379.6 696.2 379.4 693.9 379.4 692.1 377.9 689.5 378 688.1 376.5 686.1 374.5 685.4 372.6 684.4 369.9 683.2 366.9 683.6 366.1 683.9 364.2 682 360.7 682.5 358.5 682.5 357.3 682 355.1 682.8 352.1 682.8Z" fill="#1f77b4"/><path transform="scale(.1)" d="M3537 6808h0m2 1h0m18-1h0m30 0h0m1-1h0m139 30h0m-19-12h0m-2 0h0m-1 14h0m-7-6h0m-10-18h0m-15 11h0m-10 11h0m-1-15h0m-8 5h0m-3-3h0m0 8h0m-7 7h0m-2-5h0m-6-22h0m-3 12h0m-1 0h0m-13-3h0m-8 17h0m-1-6h0m-1-6h0m-2-16h0m-19 18h0m-3 4h0m-1-2h0m-1-1h0m-13-5h0m0 14h0m-4-16h0m0 3h0m-6-15h0m-11 13h0m-10-13h0m-16 26h0m-1-3h0m0 2h0m-1-22h0m-18 24h0m-1-2h0m-8 2h0m-5-21h0m-1 21h0m7 8h0m5-2h0m5 15h0m4-10h0m1 9h0m144-16h0m52 0h0m19 5h0m3 11h0m10 10h0m19-22h0m8 23h0m1-20h0m3 11h0m5-8h0m0 10h0m25 26h0m-4 2h0m-1 4h0m-10-5h0m-6 7h0m-5-22h0m-1 0h0m0 15h0m-28-18h0m-208 24h0m-8-14h0m-21 8h0m9 34h0m14-18h0m5 17h0m247-10h0m11 16h0m16 12h0m-1-9h0m-11 25h0m-2-5h0m-2-14h0m-5 13h0m-2-13h0m-9 17h0m-232-1h0m-8-1h0m-4 6h0m-1-15h0m-12-6h0m9 32h0m1 1h0m0 7h0m1 3h0m5 4h0m1 5h0m10-8h0m2-20h0m3 1h0m3 26h0m4-17h0m193 16h0m2-6h0m10-2h0m4 0h0m8-1h0m12 0h0m2 1h0m3-17h0m-28 42h0m-1-13h0m-1 13h0m-12 0h0m-3-2h0m-7 14h0m-4-8h0m-7-6h0m-1-8h0m-2-1h0m0 25h0m-2-24h0m-9 9h0m-1 14h0m-3 3h0m-1-2h0m-8-14h0m-20 10h0m0 3h0m-12 0h0m-95-1h0m-4-8h0m-1-3h0m-5-7h0m-1 4h0m-3-10h0m-5 5h0m0 23h0m-2-12h0m-2 3h0m-5-15h0m0 15h0m0 6h0m18 25h0m7 3h0m11-19h0m4 17h0m3-10h0m5-1h0m12 11h0m1 5h0m5-12h0m1 11h0m9-5h0m4-14h0m8 6h0m16-5h0m4 8h0m2-13h0m2 19h0m6-19h0m12 0h0m8 7h0m2 10h0m2-7h0m3-13h0m2 18h0m25-12h0m11-3h0m-89 31h0m-28-4h0m-3 5h0m-1-3h0m-1-1h0m0 9h0m-6-4h0m-19 2h0" stroke="#1f77b4" stroke-width="19" stroke-linecap="round" fill="none"/><path transform="scale(.1)" d="M3570 6806h0m147 8h0m-240 9h0m294 22h0m36 33h0m-13 112h0m-29 32h0m-100 28h0m-76 18h0" stroke="#1f77b4" stroke-width="19" stroke-linecap="round" fill="none"/><path transform="scale(.1)" d="M3569 6846h0m-36 57h0" stroke="#fff" stroke-width="11.5" stroke-linecap="round" fill="none"/></g>
<rect x="322.7" y="654.7" width="129.7" height="127.6" fill="none" stroke="#333" stroke-width="1"/>
<text x="385.8" y="794.6" font-size="10.8" text-anchor="middle" fill="#1a1a1a" >UMAP1</text>
<text x="319.8" y="717.4" font-size="10.8" text-anchor="middle" transform="rotate(-90 319.8 717.4)" fill="#1a1a1a" >UMAP2</text>
<text x="541" y="647.7" font-size="12.2" text-anchor="middle" fill="#1a1a1a" >STAGATE (ARI=0.44)</text>
<g><path transform="scale(.1)" d="M5040 6624h0m11-3h0m1-2h0m15 3h0m1-7h0m0 6h0m5 3h0m3-17h0m4 20h0m2-3h0m16 29h0m-2 2h0m-2-17h0m-2-8h0m-6 24h0m-18-17h0m0 2h0m-1 4h0m-2-5h0m-2-1h0m-10 17h0m-9-15h0m-1 15h0m-10 5h0m-3-22h0m-2-6h0m0 7h0m-33 51h0m6-8h0m10-18h0m2 9h0m0 5h0m15-6h0m3-2h0m1-9h0m0 20h0m3-19h0m12 17h0m3 5h0m2-4h0m0 2h0m2-12h0m1 5h0m6 10h0m3-7h0m5 8h0m1-19h0m2 9h0m2 4h0m7 9h0m11-24h0m1 24h0m1-18h0m0 12h0m5-16h0m0 12h0m17 27h0m-6-12h0m-7 9h0m-2-6h0m-8 4h0m-6 19h0m-1-1h0m-8-6h0m-1 3h0m-6-7h0m0 7h0m-5-16h0m-3 3h0m-5-4h0m0 17h0m-1-16h0m-1 16h0m-1-14h0m0 6h0m-6 6h0m-1 4h0m-13-2h0m-3-4h0m-2-15h0m-2 15h0m-1-1h0m-3-20h0m-3 14h0m0 7h0m-7-5h0m-2-1h0m0 2h0m-3 9h0m-1 2h0m-5 0h0m-1-21h0m0 15h0m-2-21h0m-9 16h0m-16 32h0m7-8h0m0 3h0m5-12h0m1 15h0m3 3h0m4-16h0m6 5h0m3 15h0m2-15h0m2 15h0m1-14h0m12 14h0m7-19h0m0 6h0m4 8h0m0 9h0m1-12h0m2-3h0m2-6h0m1 16h0m7-20h0m0 25h0m1-11h0m3 6h0m6-1h0m1-22h0m6 15h0m5 5h0m4-4h0m2-11h0m16 22h0m1-13h0m11 10h0m10 5h0m7 0h0m18 2h0m-3 9h0m-13-5h0m0 9h0m0 12h0m-8-15h0m-2 6h0m-5-16h0m-1 4h0m-7 9h0m-1-11h0m-7 15h0m-1-5h0m-3 8h0m-6-8h0m-2 8h0m-10-3h0m-10-17h0m0 21h0m-9-18h0m-4 1h0m-4 3h0m-3 15h0m-1-3h0m-2 6h0m-5 3h0m-1 0h0m-1-24h0m0 16h0m-3-5h0m0 4h0m-1-7h0m-1-10h0m-15-3h0m-4 7h0m-14-6h0m-6 9h0m-2-9h0m11 29h0m0 5h0m12 6h0m4 18h0m1-15h0m5 0h0m4-1h0m3 2h0m8 1h0m3-15h0m0 8h0m1 13h0m1 4h0m1-24h0m10 6h0m0 2h0m1-10h0m12 6h0m1 7h0m2-10h0m1 11h0m9-9h0m3 6h0m1 8h0m9 5h0m15 2h0m4-14h0m2 14h0m2-9h0m2-16h0m1 21h0m13-20h0m-40 36h0m-10 1h0m-8-2h0m-9 9h0m-3-6h0m-8 0h0m-7 0h0m-5-2h0m-6 2h0" stroke="#2ca02c" stroke-width="19" stroke-linecap="round" fill="none"/><path d="M502.8 669.3 503.6 670.5 504.4 673.6 505 675.2 505.6 675.8 507 674.8 508.9 672.3 507.6 669.9 507.1 667.6 506.1 666.7 504.3 667.8Z" fill="#fff"/><path d="M485.1 689.1 486.1 691.3 487.5 692.9 488.6 696.1 489.5 696.9 490.6 698.9 492.5 697.1 493.6 695.7 495.2 692.3 497.1 691.2 498.1 690.1 500.1 689.7 502.2 688.5 500.8 687.1 498.4 687.5 496 688.8 494.2 687.5 491.6 688 490.1 687.2 486.6 689.5Z" fill="#2ca02c"/><path transform="scale(.1)" d="M4900 6857h0m6 11h0m9-5h0m44 6h0m2 0h0m19-1h0m31-3h0m1-8h0m17-2h0m5 20h0m-7 6h0m-20-5h0m-7 1h0m-1 1h0m-15 12h0m-1-14h0m-15 12h0m-16 0h0m-2-6h0m-2-1h0m-8 8h0m-9-9h0m-6-3h0m-6 7h0m-12-14h0m-12 4h0m-2 1h0m-1 4h0m-1 8h0m-13 4h0m-1 6h0m-2-6h0m-4 4h0m-5-11h0m-6-7h0m-12 18h0m0 12h0m5-4h0m1 10h0m0 2h0m8 12h0m1-17h0m3 13h0m85-10h0m10-7h0m0 6h0m10-6h0m1 18h0m9-12h0m4-5h0m7 8h0m8-12h0m1 7h0m1-2h0m-55 38h0m-8-10h0m-16 11h0m-39 8h0m-6-1h0m-4-1h0m-1-15h0m-7 8h0m-8-15h0m11 43h0m10-5h0m1-6h0m2 24h0m2 2h0m9-27h0m20 8h0m1-1h0m10-7h0m1 14h0m7 7h0m5-21h0m11-1h0m-44 44h0" stroke="#2ca02c" stroke-width="19" stroke-linecap="round" fill="none"/><path transform="scale(.1)" d="M4896 6856h0m15-5h0m105-5h0m17 64h0m-69 35h0m-135-4h0" stroke="#2ca02c" stroke-width="19" stroke-linecap="round" fill="none"/><path transform="scale(.1)" d="M5005 6879h0m-49 2h0m-5 5h0m-34 10h0m-14-14h0m-44 11h0m32 20h0m12 11h0m33-6h0m15 0h0m7-8h0m-59 72h0" stroke="#fff" stroke-width="11.5" stroke-linecap="round" fill="none"/><path transform="scale(.1)" d="M4880 7014h0m22 34h0m1-10h0m4-12h0m-12 41h0m-6-16h0m-5 2h0m0 1h0m-6 5h0m-15 19h0m14 14h0m6 7h0" stroke="#2ca02c" stroke-width="19" stroke-linecap="round" fill="none"/><path transform="scale(.1)" d="M4936 7065h0m-36 40h0m2-16h0m6 10h0m5-9h0m12 16h0m2-5h0m1-12h0m5-2h0m5-6h0m1 21h0m-2 16h0m-3 19h0m-18-19h0m-6-5h0m-10 31h0m8 7h0m2 12h0m5-1h0m15-18h0m3 21h0m1-25h0m4 18h0m1 3h0m8 26h0m-3 2h0m-5-11h0m-8 15h0m-1-19h0m-2 1h0m-3 11h0m-8 11h0m-6 1h0m-2-6h0m-16 3h0m-3-15h0m-5-7h0m-6 21h0m-2-1h0m-1 1h0m-1-1h0m-1 5h0m-28-1h0m-6 3h0m7 22h0m1-3h0m23-15h0m2 1h0m9 9h0m17-11h0m24 9h0m16-2h0m6 13h0m6 25h0m-15 11h0m-1-8h0m-9 1h0m-3-14h0m-2-6h0m-11 1h0m-22 7h0m-1 0h0m-3-10h0m-7 20h0m-12 5h0m-7-19h0m0 4h0m-1-8h0m-8 1h0m-4 4h0m-7-1h0m-12 33h0m1 2h0m16 3h0m12-6h0m3 3h0m13 3h0m22-14h0m1 7h0m4 10h0m17-3h0m28 4h0m6-15h0m15 38h0m-1-4h0m-7 17h0m-11-2h0m-9-22h0m-1 29h0m-23-14h0m-18 10h0m-11-1h0m-6-15h0m-1 0h0m-3-6h0m-3 7h0m-5 18h0m-16-23h0m-5-5h0m-4 23h0m-6 0h0m-19-10h0m-2 9h0m0 33h0m7-13h0m14-9h0m4 6h0m13-3h0m0 18h0m10-14h0m0 16h0m5-24h0m8 9h0m10-9h0m25 4h0m0 8h0m5 5h0m0 10h0m9-20h0m4-8h0m6 8h0m9-7h0m0 11h0m22 12h0m1-15h0m6 10h0m1 5h0m8 8h0m-4 0h0m-1 0h0m-10 8h0m-1 9h0m-3-18h0m-6 5h0m-7-7h0m-13 2h0m-3 19h0m0 7h0m-12-5h0m-7-11h0m-8 2h0m-4-7h0m-2 5h0m-3 6h0m-1-9h0m-9 4h0m-14 1h0m-7-3h0m-12 2h0m-19 10h0m3 33h0m1-2h0m25-14h0m4 18h0m4-24h0m0 6h0m16-7h0m1 15h0m12 9h0m11-3h0m2-16h0m7-1h0m6 10h0m4 8h0m6-15h0m7-8h0m5 12h0m2-11h0m7 24h0m4-20h0m0 18h0m22-2h0m20 1h0m-1 14h0m-1 10h0m-13 1h0m-3-13h0m-6 18h0m-2-2h0m-4-21h0m-8 16h0m-21 3h0m-1-1h0m-18-10h0m-13-7h0m-2 3h0m-3 11h0m-4-15h0m-3 10h0m-3 8h0m-9-8h0m-12 12h0m-14-12h0m-20 2h0m0 1h0m24 19h0m15 9h0m3 12h0m18 2h0m13-1h0m6-19h0m8 20h0m5-13h0m8-13h0m15 20h0m18-18h0m0 15h0m10 3h0m3-10h0m14 18h0m2-26h0m-12 44h0m-12-5h0m-4 8h0m-4-15h0m-12-1h0m-7 3h0m-20 12h0m0 4h0m-5-6h0m-27-13h0m-5 21h0m-10-9h0m0 2h0m26 23h0m1-8h0m20 10h0m9-2h0m5-8h0m15 4h0m15 11h0m3 5h0m3-19h0m4 13h0m3 21h0m0 1h0m-6 1h0m-9 19h0m-7-19h0m-4 6h0m-2 8h0m-4-12h0m-3-3h0m-6-3h0m-11 0h0m-1-4h0m0 14h0m-3-6h0m-12-5h0m-9 9h0m-13 17h0m0 4h0m1 18h0m2-7h0m30 3h0m22-4h0m4-1h0m5-12h0m16 0h0m-17 46h0m-17-3h0m0 4h0m-21-13h0m-18 23h0m-7-28h0m-1 3h0m-6 19h0m-4-5h0m10 20h0m12 18h0m1-18h0m9 11h0m4 8h0m5-18h0m1 5h0m4-4h0m1 9h0m4 9h0m8-15h0m12 5h0m11-14h0m2 3h0m-18 32h0m-19-5h0m-14 0h0m-1 14h0m7 14h0" stroke="#9467bd" stroke-width="19" stroke-linecap="round" fill="none"/><path d="M492.5 740.1 492.7 741.6 491.8 743.5 492.7 745.2 491.8 748.8 492.1 751.2 491.6 752.4 490.8 755.7 491.5 756.6 490.5 759.6 492.2 761.3 492.6 762.9 495.3 761.7 495.8 758.4 498.4 758.1 498.2 756.2 497.5 752.5 498.5 750.9 497.3 748.4 498.3 746.9 497.7 743.7 498.4 742.2 495.3 741.7 493.3 739.6Z" fill="#9467bd"/><path transform="scale(.1)" d="M4917 7372h0m-1 3h0m-10 4h0m-4-1h0m-2 18h0m18-13h0m6 6h0m4-4h0m11 15h0m9-8h0m9 2h0m3 1h0m13 3h0m9 0h0m11 29h0m-13-13h0m-11-4h0m-2 6h0m-6 2h0m-5-7h0m-29 7h0m-3 3h0m-25-8h0m4 28h0m15 6h0m0 10h0m0 11h0m12-24h0m2 8h0m2-7h0m31 7h0m8-11h0m3 5h0m6 21h0m2-26h0m0 27h0m6-26h0m9 50h0m-1-12h0m-1 15h0m-9 1h0m-2-23h0m-11 26h0m-9-11h0m-32-8h0m-5 9h0m-9-19h0m-17 14h0m1 42h0m4-23h0m11 7h0m15-10h0m41 0h0m5 11h0m5-5h0m0 15h0m1-14h0m7 10h0m0 6h0m7-11h0m-6 46h0m-2-7h0m-2-20h0m-5 5h0m0 16h0m-2 5h0m-6-12h0m-2-12h0m-10 9h0m-44 15h0m-12-7h0m-9-8h0m-10 20h0m3 7h0m7 0h0m4 3h0m1 11h0m9-6h0m52-7h0m1 8h0m1-10h0m4-5h0m9 18h0m1-21h0m0 19h0m1-7h0m4 2h0m3-10h0m-14 41h0m-1-14h0m-5 22h0m-10-6h0m-1 7h0m-12-22h0m-5 11h0m-3 4h0m-1 1h0m-22-4h0m-3-9h0m-4 9h0m-2-1h0m-8-5h0m-7-3h0m15 30h0m2 12h0m8-1h0m7-1h0m2 10h0m8-23h0m13 4h0" stroke="#9467bd" stroke-width="19" stroke-linecap="round" fill="none"/><path transform="scale(.1)" d="M5003 7452h0m-108 19h0m-13 43h0m8 5h0m-19 71h0m87 51h0" stroke="#9467bd" stroke-width="19" stroke-linecap="round" fill="none"/><path transform="scale(.1)" d="M4975 7439h0m-19-11h0m-29 26h0m16 21h0m-13-3h0m12 36h0m6 9h0m2 31h0m-5-13h0m-4 5h0m-1-7h0m-23 1h0m34 61h0m-23 27h0" stroke="#fff" stroke-width="11.5" stroke-linecap="round" fill="none"/><path d="M495.8 697.3 496.4 699.6 495.5 701.6 496.6 703.2 496.7 705.9 497.4 708.1 496.5 709.9 495.7 711.7 496.4 715 497.6 716.3 497 717.8 497.1 720.6 498.3 723.6 500.7 725.5 500.8 727 502.5 728.2 505 730 506.5 730.4 508.4 730.3 510.8 731.3 512.5 729.8 513.1 727.6 514.8 726.8 516.5 723.7 518.8 721.7 519.8 719.9 520.6 719.2 521.7 717.9 523.7 716.1 526.3 714.2 527 712.6 529.4 711.6 531 708.7 531.4 707.6 533 706.4 534 704.4 534 701.4 532.1 699.9 531.6 697.5 530.5 695.5 528.7 694.3 527.4 692.8 525 692.6 523.2 692.5 521.4 693.9 519.2 694.9 517.1 694.6 514.2 696.6 513.4 696.1 510 694.9 509.1 694.9 505.3 694.8 503.9 694.3 501.7 695.1 500 695.3 497.3 695.8Z" fill="#8c564b"/><path transform="scale(.1)" d="M5038 6926h0m162 1h0m36-1h0m3 0h0m17-3h0m4-8h0m4-15h0m5 12h0m6-10h0m0 15h0m5 9h0m24 19h0m-1-7h0m-1 11h0m-7-14h0m-43 1h0m-32-2h0m-1 4h0m-8 5h0m-2 5h0m-6-3h0m-12 2h0m0 3h0m-3 7h0m-3-27h0m-9 11h0m-3 1h0m-7 3h0m-13 0h0m-17-3h0m-4 14h0m-13 1h0m-2-5h0m-9 5h0m-9-14h0m-8 7h0m-2 5h0m-2-7h0m-4 3h0m0 8h0m-6-29h0m-8 6h0m-10 7h0m-3-13h0m-8 7h0m-3-6h0m-7 3h0m-4 3h0m-11-6h0m-2 17h0m-1-17h0m-2 19h0m-8 8h0m-2 0h0m-5-10h0m-14 6h0m0 5h0m-9-8h0m-7-4h0m-2-4h0m-7 3h0m-23 6h0m13 36h0m9-4h0m9-16h0m13-4h0m5-1h0m96 0h0m39 6h0m174-9h0m11 19h0m2-15h0m1-1h0m15 23h0m6 0h0m5-19h0m3 45h0m-3-11h0m-3 4h0m-3 4h0m-6 2h0m-4 8h0m-3-23h0m-351 18h0m-9-19h0m-8 8h0m-4 34h0m4-10h0m3 0h0m4 17h0m1-23h0m6 16h0m359 5h0m2 1h0m2-8h0m2-8h0m3-6h0m1 2h0m11 22h0m1-1h0m6 4h0m0 2h0m-10 16h0m-2 3h0m-9 6h0m-13-5h0m-1-8h0m-6 0h0m-359 15h0m-2 2h0m-5 4h0m4 2h0m1 15h0m2-4h0m1-4h0m0 9h0m0 1h0m6 2h0m4-18h0m9 15h0m305 1h0m13-13h0m2 16h0m1-1h0m6-1h0m1-14h0m7 8h0m2-4h0m3-6h0m9 7h0m-30 37h0m-21-10h0m-7 7h0m-296-3h0m0 7h0m-7-12h0m-4 34h0m13-13h0m2 14h0m243 14h0m6-8h0m13-14h0m2-4h0m24-2h0m15 9h0m6-8h0m-42 42h0m-10-14h0m-13 10h0m-15 9h0m-221-18h0m-3 0h0m-19 11h0m6 39h0m9-6h0m15-10h0m0 13h0m1-18h0m178 26h0m14-5h0m7-2h0m16-11h0m-21 47h0m-2-21h0m-1 5h0m0 13h0m-4-8h0m-5-3h0m-5-8h0m-2 0h0m-1-3h0m-1 17h0m-16 6h0m-141-6h0m-9-16h0m-22 14h0m-4-6h0m34 25h0m9-2h0m3 19h0m7-10h0m4 3h0m1 10h0m10-5h0m94 2h0m8 1h0m3 4h0m15-14h0m7 4h0m8-9h0m-41 41h0m0 3h0m-2 0h0m-3-13h0m-10 0h0m-2 15h0m-2 6h0m-7-20h0m-5 11h0m-3-4h0m-2 1h0m-9 4h0m-11-14h0m-9 7h0m-3-5h0m-25 9h0m-1-5h0m-28-10h0m86 27h0m8 6h0" stroke="#8c564b" stroke-width="19" stroke-linecap="round" fill="none"/><path transform="scale(.1)" d="M5092 6919h0m193-16h0m-328 41h0m-31 23h0m436 61h0m14 15h0m-15 17h0m-414 102h0m28 91h0m23 45h0m50 23h0m33 14h0" stroke="#8c564b" stroke-width="19" stroke-linecap="round" fill="none"/><path transform="scale(.1)" d="M5271 6927h0m-3 15h0m-4 15h0m-64-8h0m-104 10h0m-19-3h0m-100 22h0m60 9h0m10-15h0m14 4h0m5-16h0m38 5h0m5 24h0m41-22h0m4 12h0m44-4h0m25 7h0m4-2h0m76-8h0m25 42h0m-3-1h0m-33 2h0m-3-15h0m-13 15h0m-44-7h0m-1-15h0m-23 22h0m-2-16h0m-2-1h0m-4 11h0m-60-5h0m-4-1h0m-28-12h0m-5 14h0m-15-5h0m-4-3h0m-15 3h0m-70 12h0m-7 23h0m1-2h0m57 4h0m16 12h0m7 0h0m11-4h0m32 4h0m8-2h0m27-23h0m0 4h0m64 18h0m6-1h0m2 3h0m15-2h0m4-20h0m11 2h0m13-4h0m34 4h0m14 49h0m-41-15h0m-41-7h0m-4 9h0m-20 11h0m-36 2h0m-12-4h0m-53-17h0m-45 0h0m-23 1h0m-21 20h0m-2-11h0m-48 9h0m10 27h0m5-10h0m0 16h0m16-19h0m45 7h0m1-3h0m15-10h0m3 22h0m8-14h0m52 7h0m9-15h0m81 5h0m30 21h0m30-8h0m35-17h0m-87 53h0m-8-20h0m-15 12h0m-28 2h0m-34 6h0m-5-12h0m-22-4h0m-3-2h0m-2 4h0m-5-2h0m-24-3h0m-8 12h0m-43-18h0m-7 6h0m-8-7h0m-5 16h0m-22-9h0m-19 18h0m18 8h0m6 18h0m8-19h0m3 10h0m15 0h0m40 7h0m43 6h0m2-15h0m9 3h0m6-12h0m9 4h0m22 22h0m2-3h0m27 4h0m45-23h0m-49 29h0m-46 21h0m-3-1h0m-20 2h0m-11-26h0m-67 17h0m-2 9h0m-14 22h0m12-10h0m82 0h0m39 11h0m-19 27h0m-60-14h0m-4 25h0m-19-5h0m-2-3h0m-12-13h0m26 44h0m2-10h0m27 0h0m52 5h0m7-15h0m-70 32h0" stroke="#fff" stroke-width="11.5" stroke-linecap="round" fill="none"/><path d="M500.4 731.8 500.7 735 500.9 737.3 501.7 737.9 502 740 503.1 743.7 502.9 744.4 501.6 747.5 502.3 749.1 501.3 751.4 501.3 753.7 500.6 756.1 500.9 757.5 499.8 760.9 499.9 762.6 499.6 765.1 499.7 767 499.6 768.7 500.1 772 502.4 773.7 503.1 775.1 506.1 773.4 507.8 774.9 510.3 775 511.4 775.1 514.3 774.5 516 774.5 519.5 772.4 520.7 771.7 522.1 770.8 521.3 767.7 523 766.8 522.5 763.4 521.3 762.3 520.8 760.4 520.1 757.7 519.8 755.7 517.8 753.2 517 751 517.4 750.2 517.8 747.7 517.6 744.5 518.3 743 518.8 740.3 517.5 738 516.8 736 516.9 733.6 515.3 732 513.6 732.8 511.9 731.9 509.6 733.5 506.5 733.4 504.8 732.4 503.3 732.3Z" fill="#d62728"/><path transform="scale(.1)" d="M5167 7306h0m-3 5h0m-1-4h0m-1-9h0m-2 11h0m-25 0h0m-7 9h0m-22 1h0m-17-5h0m-21-1h0m-14-1h0m-29 6h0m-4-14h0m-7 10h0m-12-5h0m0 7h0m-1-10h0m-14-5h0m0 8h0m1 19h0m14-8h0m0 24h0m4-14h0m9 2h0m1-12h0m4 19h0m2-15h0m2-4h0m36 3h0m3 2h0m3 1h0m20 3h0m0 7h0m4 2h0m1-18h0m13 0h0m2 4h0m1 2h0m3 15h0m17-6h0m15-12h0m4 5h0m3 6h0m19 11h0m1 4h0m2-25h0m11 10h0m1 9h0m3-1h0m-12 22h0m-9-6h0m-147 11h0m-7-19h0m5 39h0m11 8h0m1-7h0m145 11h0m2 5h0m1-14h0m1 14h0m17-22h0m3 14h0m1-18h0m4 13h0m2 19h0m-3 20h0m-1 7h0m-2-13h0m-9 9h0m-8-15h0m-7-6h0m-135 11h0m-2 7h0m-16-21h0m-8 13h0m-9-14h0m5 54h0m4-15h0m1 11h0m13-15h0m8 13h0m134-5h0m2-3h0m0 2h0m4 4h0m3 3h0m2-11h0m4-3h0m0 20h0m0 2h0m4-2h0m6 3h0m5 10h0m-1-2h0m-3-3h0m-11-2h0m-6 20h0m-1-12h0m-1 1h0m-2-1h0m-1 4h0m-2-7h0m-4 6h0m-150 7h0m-1 2h0m-6-19h0m-8 56h0m16-3h0m6-8h0m2-14h0m1-3h0m2 16h0m2-12h0m146 3h0m14-1h0m7 31h0m-4 18h0m-177-21h0m-1-2h0m-12 9h0m-5-3h0m-12 33h0m207 15h0m20-6h0m22 39h0m-6-24h0m0 21h0m-9-26h0m-14 14h0m-194-3h0m-29 17h0m0 1h0m-4 17h0m6 5h0m5 0h0m10-5h0m219-7h0m2-7h0m0 7h0m5-6h0m9 55h0m-1-4h0m-4-19h0m-3 20h0m-5 3h0m-12-28h0m-203 27h0m-2 1h0m-5-3h0m-5 3h0m-7-25h0m-1 0h0m-9 22h0m3 9h0m3 2h0m9 5h0m0 1h0m2 5h0m2 4h0m3-11h0m5 16h0m1-25h0m0 21h0m202 5h0m4-26h0m4 2h0m12 13h0m-11 24h0m-9 11h0m-17-9h0m-1 8h0m-5 5h0m-18-2h0m-12 4h0m-57-6h0m-2 8h0m-23-6h0m-21 6h0m-6-9h0m-38 0h0m-3-15h0m-1 4h0m0 7h0m23 30h0m15-9h0m5 3h0m2-2h0m1 13h0m34-2h0m8 0h0m19-12h0m11 11h0m8-2h0m8-12h0m8 13h0m0 6h0m5-23h0m2 8h0m20-5h0m11 2h0" stroke="#d62728" stroke-width="19" stroke-linecap="round" fill="none"/><path transform="scale(.1)" d="M5121 7293h0m-108-1h0m-37 5h0m8 41h0m3 135h0m258 143h0m-276 31h0m282-17h0m-3 28h0m-289 24h0m180 87h0m-7 3h0" stroke="#d62728" stroke-width="19" stroke-linecap="round" fill="none"/><path transform="scale(.1)" d="M5008 7324h0m2-1h0m14 25h0m17-7h0m12-1h0m72 1h0m4-8h0m-8 46h0m-29-2h0m-10-17h0m-4-3h0m-3 12h0m-2-3h0m0 5h0m-38-21h0m-15 5h0m-2 14h0m69 37h0m33 3h0m46 0h0m13-14h0m-12 18h0m-33 17h0m-31 5h0m-12 4h0m-14-28h0m-21 3h0m-25 30h0m0 17h0m12-11h0m19 4h0m25 7h0m17-9h0m46 0h0m18-5h0m11 6h0m1 25h0m-26 10h0m-1-7h0m-32-6h0m-8 5h0m-6 17h0m-13-1h0m-55-10h0m-18 1h0m39 39h0m3-17h0m73-8h0m14 12h0m3 13h0m10-18h0m2-5h0m4 45h0m-6-5h0m-5 14h0m-41 0h0m-6-27h0m0 8h0m-93 20h0m-4-11h0m-3-7h0m3 45h0m49 0h0m14 0h0m1 2h0m14-27h0m63 5h0m20 6h0m17 28h0m-70 7h0m-85 10h0m-14-2h0m-11-4h0m-9 7h0m13 6h0m65 19h0m12-21h0m58 0h0m3 10h0m10 17h0m10-6h0m35 11h0m-5 0h0m-38 26h0m-1-8h0m-22-1h0m-105-2h0m-3-8h0m-21 9h0m-1-2h0m-14-2h0m9 36h0m51-18h0m3 0h0m4 1h0m42 22h0m5-1h0m28-15h0m49 0h0m2 1h0m-15 30h0m-7 1h0m-2-1h0m-9-8h0m-20 11h0m-40 13h0m-47-17h0" stroke="#fff" stroke-width="11.5" stroke-linecap="round" fill="none"/><path transform="scale(.1)" d="M4808 7582h0m50-4h0m-3 38h0m-11-2h0m-2 2h0m-2-2h0m-1-17h0m-2 6h0m-1 0h0m-1-7h0m-2 5h0m-1 6h0m-7 7h0m-4-21h0m-9 5h0m23 28h0m5-1h0" stroke="#d62728" stroke-width="19" stroke-linecap="round" fill="none"/><path transform="scale(.1)" d="M4827 7560h0m-11 83h0" stroke="#d62728" stroke-width="19" stroke-linecap="round" fill="none"/><path d="M523.1 742.4 522.5 744.1 521.9 746.9 522.5 748.5 521.5 749.8 522.6 752.8 523.9 754.3 523.6 756.7 524.9 758.3 525.2 760.5 526.4 763.8 526.8 765.3 526.6 768.2 527.7 770.2 528.6 771.8 531.3 772.8 533.3 773.3 534.8 772.7 536.5 770.3 538.6 770.6 540.2 768.2 541.8 767 543.5 765.2 546.4 763.7 547 762.9 549.6 762.3 551.9 760 552.7 758.8 554.4 757.9 557.7 756.5 560 756 560.9 755 560.1 753 561 750.4 560.4 750 557.3 748.4 556.1 748.5 552.9 748.4 551.4 747.2 548.6 748.7 547.2 748.3 543.8 748.3 543.2 748.3 541.9 745.8 540.7 744 539.4 742.3 536.3 742.2 534.8 740 533.6 740.1 530.1 739.2 529 738.3 526.2 739.3 525.5 741Z" fill="#e377c2"/><path transform="scale(.1)" d="M5322 7376h0m-25-1h0m-53 11h0m7 6h0m1 5h0m9 10h0m6-13h0m1-1h0m1-2h0m13-3h0m36 0h0m6 18h0m4-19h0m5 7h0m0 3h0m0 1h0m2-3h0m14-2h0m9 5h0m2-7h0m2 9h0m2-3h0m45 37h0m-6-4h0m-2 6h0m-1-19h0m-6 20h0m-7-19h0m-8 18h0m-14-18h0m-11 0h0m-1-4h0m-8 1h0m-120 20h0m-6-4h0m-3-2h0m0 1h0m-4-16h0m1 35h0m10 13h0m3-21h0m0 27h0m3-8h0m4-12h0m163 11h0m5-3h0m13 0h0m0 13h0m11-23h0m0 21h0m59-1h0m42-1h0m11 3h0m2-11h0m11 0h0m24 8h0m5 0h0m47 32h0m-3-16h0m-12 1h0m0 10h0m-1 3h0m-5 2h0m-4-22h0m-12-1h0m-5-2h0m0 13h0m-5-14h0m-5 4h0m-12 15h0m-2-14h0m-11-1h0m-24-2h0m-1 1h0m-4 0h0m-7 8h0m-9 0h0m-22 5h0m-15 0h0m-3-12h0m0 20h0m-4 4h0m-9-2h0m-8-25h0m-5 8h0m-4 17h0m-1-1h0m-13-5h0m-14-19h0m-178 21h0m-1-22h0m-6 14h0m-17 5h0m0 7h0m-1 13h0m12 1h0m16-3h0m1 11h0m363 0h0m22-10h0m7 5h0m-18 21h0m-7 15h0m-6-16h0m-348 25h0m-3-23h0m0 22h0m-4-26h0m-2 19h0m-19 1h0m-2-11h0m31 29h0m2 0h0m0 12h0m8-3h0m0 4h0m2 5h0m272 1h0m11-10h0m12 9h0m28-1h0m5-19h0m5 6h0m16-8h0m-47 24h0m-14 1h0m0 4h0m-4 7h0m-3 7h0m-4-19h0m0 9h0m-5-6h0m-2 18h0m-6 0h0m-9-13h0m-6 10h0m-10-7h0m-4 12h0m-7-5h0m-225-9h0m0 2h0m-7 0h0m-4-2h0m-14-9h0m-4 10h0m-3-5h0m28 34h0m9 11h0m3-18h0m2 4h0m178 9h0m9 7h0m17 4h0m6-19h0m6-5h0m3 6h0m1-1h0m-17 24h0m-21 13h0m-1-14h0m-4 0h0m-3 27h0m-7-15h0m-9 17h0m-2-26h0m-7 14h0m-5-2h0m-154-15h0m13 40h0m7 8h0m5 7h0m85-7h0m3-3h0m5-5h0m9 17h0m5-22h0m4 8h0m3 0h0m7 0h0m16-5h0m12-5h0m-55 31h0m-19 18h0m-1-17h0m-6-3h0m-4 25h0m-4-2h0m-16 2h0m-13-10h0m-10-5h0m-5 7h0m-5-12h0m-2 11h0m-9-17h0m0 1h0m-3 16h0m-10-15h0m37 29h0m7 4h0" stroke="#e377c2" stroke-width="19" stroke-linecap="round" fill="none"/><path transform="scale(.1)" d="M5289 7353h0m91 42h0m-176 43h0m222 2h0m90 8h0m85 12h0m-397 97h0m416 18h0m-40 31h0m-27 13h0m-319 62h0m37 63h0" stroke="#e377c2" stroke-width="19" stroke-linecap="round" fill="none"/><path transform="scale(.1)" d="M5258 7402h0m88 6h0m22 8h0m-116 10h0m-2-16h0m10 58h0m4-14h0m23-3h0m29 3h0m12-6h0m2 7h0m28-2h0m16-11h0m27 16h0m177 41h0m-7-11h0m-19-9h0m-15 18h0m-33-10h0m-133-16h0m-23 22h0m-33 5h0m-6-16h0m-77-11h0m-3 55h0m6-26h0m47 15h0m46-8h0m0 18h0m17-4h0m35-7h0m7 15h0m26-5h0m86-17h0m15-7h0m48 6h0m10 16h0m15 8h0m-59 22h0m-11-1h0m-13 5h0m-20-16h0m-12 11h0m-1-7h0m-12-4h0m-18 16h0m-6 3h0m-35-11h0m-8-12h0m-75 15h0m-25-11h0m-34 17h0m-7-19h0m10 40h0m10 0h0m11-2h0m11-12h0m38 5h0m44 1h0m12 2h0m3 12h0m5-2h0m8-13h0m37 8h0m65-13h0m1 12h0m61-6h0m19-9h0m-85 34h0m-27 0h0m-8 15h0m-2-14h0m-5 23h0m-3-27h0m-11 23h0m-26-20h0m-27 18h0m-16-21h0m-9 10h0m-12-12h0m-5 5h0m-23 0h0m-6 12h0m-63-15h0m-8 3h0m7 30h0m14 9h0m57 7h0m1 4h0m32-23h0m63 14h0m15 10h0m3-10h0m25 0h0m-54 20h0m-27 5h0m-24-3h0m-11 7h0m-15 6h0m-2 5h0m-2-25h0m-21 8h0m-18 25h0m6 11h0m51-3h0m-10 27h0m-5-3h0m-8 10h0m-38-13h0" stroke="#fff" stroke-width="11.5" stroke-linecap="round" fill="none"/><path d="M525.5 743.7 526.3 745.6 526.6 747.7 526.9 750.3 526.5 752.9 527.1 755.3 529 756.1 530.3 757.5 532.4 757.7 533.2 755.1 534.2 752.9 535.4 751.6 536 749.4 535.5 747.4 535.4 744.5 534.8 742.6 532.3 741.9 530 743 528.4 743.2Z" fill="#fff"/><path d="M540.4 745.9 541.1 747.8 540.7 751 541.3 753.2 542.5 754.1 545.8 754.7 546.7 753.4 547 750.6 546.2 749 544.9 747.4 542.4 746.2Z" fill="#fff"/><path d="M548.2 712.8 549.7 714.3 551.3 716.5 551.3 717.6 553.8 718.9 552.3 717.4 552.2 716.1 550.3 713.6Z" fill="#e377c2"/><path transform="scale(.1)" d="M5471 7094h0m2 2h0m3 1h0m6 11h0m18-3h0m13 29h0m-20-13h0m-13 1h0m-11-6h0m14 31h0m18 9h0m2-9h0m1 18h0m2-23h0m0 17h0m5-11h0m9 4h0m3-12h0m1 8h0m36 45h0m-9-15h0m-5 5h0m-6-6h0m-8-3h0m-12 12h0m-3 2h0m-3-12h0m-6 18h0m5 13h0m19-4h0" stroke="#e377c2" stroke-width="19" stroke-linecap="round" fill="none"/><path transform="scale(.1)" d="M5449 7102h0m89 35h0m-67 29h0" stroke="#e377c2" stroke-width="19" stroke-linecap="round" fill="none"/><path transform="scale(.1)" d="M5510 7157h0" stroke="#fff" stroke-width="11.5" stroke-linecap="round" fill="none"/><path d="M519.2 724 519.7 727 520.3 727.8 519.7 730.8 520.4 732 522 733.1 524.2 734.8 526.3 733.9 529.7 734.6 531.5 734.6 533.7 735.4 536.2 736 538 736.8 539.4 738.5 541.8 739.8 543 741.7 543.8 741.6 545.8 744.1 549 743.7 550.8 743.4 552.2 741.5 552.7 741 553.6 739.3 553.7 736.6 554.8 734.4 554.5 732.1 554.6 729.1 555.1 728.4 553.6 726.2 553.3 723.2 551.5 721.7 552.1 718.9 550.6 716.5 549.2 715.3 547.6 715 546.2 712.5 543.9 712.1 542.5 710.3 539.8 710.7 538.1 709.6 535.6 708.2 534.3 707.4 532 708.5 530.1 709.6 529.3 712.2 527.7 714.1 526.8 715.7 525.8 717.3 524 718.2 522.1 720.3 520.7 722.3Z" fill="#ff7f0e"/><path transform="scale(.1)" d="M5351 7068h0m-14-5h0m-7 2h0m-45 35h0m11-7h0m0 15h0m7-7h0m2-11h0m4-2h0m9 7h0m21-11h0m2 1h0m9-5h0m2 15h0m20 9h0m7-6h0m5-9h0m2 13h0m8 5h0m6-5h0m5-16h0m8 17h0m8-9h0m11 3h0m18 7h0m38 30h0m-1-3h0m-18 2h0m-8-13h0m-12 1h0m-2-5h0m-2 10h0m-14 1h0m-5-14h0m-3-2h0m-25-1h0m-109 1h0m-2 5h0m-3 19h0m-1-23h0m-6 20h0m-6-1h0m-24 19h0m12 0h0m2 12h0m10-21h0m3 5h0m2 4h0m209 4h0m8-13h0m15 17h0m1 8h0m8-7h0m10 40h0m-4-5h0m-7-21h0m-6 22h0m-7-19h0m-255 8h0m-23-2h0m0 1h0m-5 2h0m-40 43h0m4-4h0m5-8h0m5-3h0m7 7h0m9 6h0m4-8h0m6-15h0m10 12h0m2-12h0m1-1h0m284 2h0m14 8h0m1-8h0m9 1h0m1-1h0m5 21h0m5 15h0m-6-3h0m-11 20h0m-5-14h0m-4 13h0m-322-19h0m-8 4h0m-1 14h0m-4 0h0m-5-16h0m-1 1h0m-8 4h0m10 42h0m14-16h0m5-5h0m6 20h0m322-17h0m1 15h0m11-6h0m16 11h0m4 21h0m-6-14h0m-11 14h0m-6 0h0m-6-1h0m-326 10h0m-2-21h0m-12 9h0m-8-5h0m-1 11h0m14 27h0m1-13h0m5 10h0m5-1h0m3 10h0m2-25h0m9 5h0m3 7h0m6 16h0m1-9h0m3 0h0m17 0h0m9-5h0m11 9h0m4 6h0m3-2h0m15-10h0m7 12h0m16-3h0m6 3h0m24-2h0m198-27h0m3 19h0m8-2h0m-5 38h0m-2-19h0m0 19h0m-10-11h0m-2 13h0m-10-3h0m-163-11h0m-4 16h0m-9-22h0m-25 13h0m-6-4h0m-17-13h0m-12 3h0m-16 6h0m-3-1h0m-45 0h0m133 20h0m1 0h0m17 15h0m15-13h0m1 3h0m0 14h0m7-18h0m3 1h0m5 25h0m15-3h0m12 3h0m96-21h0m2 13h0m0 1h0m5-4h0m2-17h0m0 26h0m9-8h0m-1 18h0m-3-5h0m-15 27h0m-2-22h0m-12-3h0m-2 25h0m-7-19h0m-10 3h0m-8 6h0m-43-16h0m-5-1h0m-6 9h0m-2-7h0m-23-2h0m0 12h0m38 26h0m2-4h0m5-5h0m12 22h0m2-12h0m9 9h0m26-10h0m2-7h0" stroke="#ff7f0e" stroke-width="19" stroke-linecap="round" fill="none"/><path transform="scale(.1)" d="M5464 7096h0m-209 29h0m284 51h0m-364 47h0m397 78h0m-400-8h0m142 81h0m256 34h0m-14 5h0m-154 22h0m124 14h0" stroke="#ff7f0e" stroke-width="19" stroke-linecap="round" fill="none"/><path transform="scale(.1)" d="M5307 7106h0m28-25h0m16 12h0m12 4h0m80 28h0m-40 13h0m-64-21h0m-1-6h0m-1 10h0m-4-3h0m-21 6h0m-11 9h0m-16 6h0m4 18h0m10 3h0m12-9h0m63-5h0m8 16h0m6 2h0m40-15h0m39 2h0m9-2h0m8 3h0m17 40h0m-4-7h0m-35-5h0m-32-9h0m-44 16h0m-35 8h0m-79 1h0m-1-23h0m14 34h0m11 11h0m16-1h0m36-1h0m36 0h0m47-13h0m2 21h0m29-4h0m66 23h0m-12-13h0m-2 6h0m-17-5h0m-25-1h0m-28 0h0m-22 5h0m0 22h0m-28-14h0m-68 16h0m-32-12h0m-7-3h0m-9-3h0m-3 11h0m-6-3h0m-8-15h0m-4 4h0m-5-5h0m-26 15h0m-14-11h0m58 29h0m3-4h0m3 0h0m11 17h0m7-9h0m7-6h0m17 14h0m24-10h0m39-5h0m31 26h0m15-16h0m13 14h0m23-24h0m13 22h0m3-13h0m22 1h0m9 10h0m15-12h0m10 31h0m-19 4h0m-34 6h0m-63-1h0m-19-7h0m-51 5h0m-21 6h0m-65-9h0m-61-7h0m9 22h0m115 13h0m9 1h0m44-6h0m23 15h0m7-11h0m48-7h0m74 2h0m14 9h0m-7 16h0m-27 15h0m-16-10h0m-25 5h0m-25 15h0m-29-20h0m-4-8h0m0 26h0m-13-4h0m-28-14h0m58 37h0m20 11h0m2-1h0m21-4h0m50-11h0m6-2h0m1-4h0m5 23h0m-42 32h0m-7-13h0m-17-11h0m-23-1h0" stroke="#fff" stroke-width="11.5" stroke-linecap="round" fill="none"/><path d="M555.6 736.7 556.8 737.7 557.1 739.7 558.8 741.7 560.8 742.6 562.8 744.6 564.7 744 565.5 743.4 567.1 741.7 568.6 740.5 569 737.5 570.1 735.5 570.7 734.1 571.4 731.3 570.8 729.6 571.5 726.4 572.3 725.2 570.5 723.7 568.9 722.5 566.5 724.8 565.5 726.3 562.5 727.6 561.5 728.9 560.7 731 559 732.3 556.7 734Z" fill="#2ca02c"/><path transform="scale(.1)" d="M5659 7227h0m3-7h0m25 7h0m52 19h0m-1-2h0m-8 6h0m-1-4h0m-15-3h0m-1 7h0m-1-12h0m-8 11h0m-10-10h0m-14 2h0m-5 5h0m-4-5h0m-4-4h0m-5 10h0m-3 11h0m-1-19h0m-4-2h0m-2 12h0m-25 15h0m5 14h0m1-1h0m2 5h0m12-21h0m0 11h0m62-10h0m3 12h0m1-5h0m4-8h0m6 11h0m-1 19h0m-4-1h0m-99 3h0m-14 14h0m-45 25h0m11 2h0m32-12h0m91 13h0m7-2h0m15 19h0m-6 5h0m-1 19h0m0 1h0m-22-22h0m-119 22h0m-2-10h0m-1-7h0m-3-2h0m-15 13h0m-2 4h0m3 11h0m1 3h0m13 12h0m0 7h0m2 0h0m5-23h0m11 11h0m98 3h0m7-8h0m1 13h0m7 1h0m5-1h0m3 1h0m4 3h0m5-15h0m-18 24h0m-2 9h0m-2-10h0m-5 9h0m-6-9h0m-14 20h0m-5 3h0m-6-20h0m-8 12h0m-2 0h0m-12-1h0m-5 0h0m-10 0h0m-2 6h0m-6-9h0m-9-6h0m-2 14h0m-5-12h0m-5 1h0m-10-3h0m-1 4h0m-3 12h0m-2-26h0m0 17h0m0 1h0m-8-13h0m-1-1h0m28 28h0m24 7h0m9 6h0m16 8h0m5-15h0" stroke="#2ca02c" stroke-width="19" stroke-linecap="round" fill="none"/><path transform="scale(.1)" d="M5688 7199h0m50 142h0m-200 50h0m179-9h0m2 38h0m-68 48h0" stroke="#2ca02c" stroke-width="19" stroke-linecap="round" fill="none"/><path transform="scale(.1)" d="M5722 7245h0m-22 6h0m-16 3h0m-8 1h0m-20-6h0m10 37h0m40 5h0m-42 21h0m-54-16h0m-15 23h0m2 22h0m23-21h0m23 21h0m39 5h0m6-19h0m-30 37h0m-15 9h0m-6-17h0m-27 14h0m-16 2h0m-7 6h0m-2-4h0m-23-5h0m43 26h0m56 10h0m5-25h0m17 23h0m-80 20h0m-2-10h0" stroke="#fff" stroke-width="11.5" stroke-linecap="round" fill="none"/><path d="M580.7 706.4 581.3 707.8 583.9 708.9 585.3 711.8 585.4 714.2 583.8 716.3 583.1 717.1 581.8 719.4 582.1 721.5 580.2 723.5 578.4 723.9 577.2 725.2 575.6 728.2 574.1 729.6 574.5 731.3 575.1 735.2 575.5 736.5 577.1 736.8 578.2 739.7 580.7 740.1 583.4 740 585.5 742 586.9 741.1 588.2 740.2 589.3 738.2 591.4 736.3 592.4 733.9 593.8 732.2 595.1 730.4 594.8 728.2 595.4 726.2 595.8 723.8 596.9 721.7 596.4 718.8 596.6 716.4 597.3 714.7 597 712.8 596.7 709.9 598.7 709.1 597.3 706.8 597 704.1 596.7 702.7 593.8 701.9 593 699.8 590.1 699.4 588.1 700.8 585.3 699.2 584 700.3 583.4 701.5 581.3 704.2Z" fill="#1f77b4"/><path transform="scale(.1)" d="M5922 6983h0m5 5h0m52 30h0m-14-13h0m-10-9h0m-13 6h0m-1 2h0m-3 5h0m-8-8h0m-4-7h0m-2-2h0m-7 20h0m-5-8h0m-1 8h0m-9-20h0m-1 20h0m-6-3h0m-7-13h0m-4 15h0m-2-6h0m0 3h0m-1-15h0m0 12h0m-15-1h0m-3-8h0m-4-6h0m-2 16h0m-2-3h0m-2 3h0m-6-7h0m-1 9h0m-16 5h0m-6-10h0m-24 44h0m2 1h0m10-2h0m7-19h0m6 19h0m5-9h0m0 3h0m8-12h0m3-3h0m101-1h0m19 19h0m3-18h0m11 1h0m19 52h0m-4-14h0m-6 10h0m-2-22h0m0 14h0m-170 5h0m-8-20h0m0 12h0m-12 8h0m12 10h0m14 26h0m7-24h0m0 22h0m0 1h0m1 2h0m2-28h0m1 2h0m5 24h0m3-7h0m14 9h0m144-6h0m-22 9h0m0 22h0m-2 3h0m-4-15h0m-5-6h0m-98 13h0m-12 7h0m-4-6h0m-7 1h0m-12-9h0m14 25h0m5 5h0m107 8h0m21-15h0m11 13h0m-1 13h0m-2 18h0m-11-4h0m-4 10h0m-9 1h0m-122-5h0m-9-11h0m-1-8h0m-15 22h0m-8 2h0m-18 24h0m0 1h0m9 0h0m8-17h0m12 13h0m2-4h0m4 7h0m134-6h0m3 10h0m1-10h0m9 5h0m7 26h0m-2 11h0m-1-23h0m-8 6h0m-4 13h0m-1-18h0m-2 20h0m-172-8h0m-21-10h0m-29 31h0m0 21h0m21-25h0m4 17h0m183 9h0m6-15h0m2-3h0m5 36h0m-3 2h0m-3 1h0m0 1h0m-9 5h0m-3 3h0m-1-24h0m-184 7h0m-8 6h0m-1-15h0m-14-1h0m-1 11h0m2 37h0m1-8h0m2 11h0m4-10h0m5 0h0m3 8h0m2-1h0m3-2h0m2-13h0m3-4h0m1 1h0m160 16h0m10 7h0m15-8h0m0 7h0m-6 22h0m-1-13h0m-18 11h0m-8-6h0m-1 10h0m-134 4h0m-4-7h0m-4 14h0m-10-28h0m11 41h0m9 3h0m4-12h0m1 19h0m12-3h0m6 8h0m2-19h0m1 1h0m0 7h0m0 10h0m13 0h0m12-10h0m15 9h0m11 3h0m17-17h0m0 16h0m7-8h0m3-8h0m1 19h0m12-12h0m4-12h0m2 1h0m-23 40h0m-6 3h0m-4-14h0m0 17h0m-20-15h0m-4 11h0m-8-9h0m-5 10h0m-3-18h0m-1 11h0m-14-8h0" stroke="#1f77b4" stroke-width="19" stroke-linecap="round" fill="none"/><path transform="scale(.1)" d="M5829 6982h0m99-6h0m1-7h0m-131 50h0m-10 11h0m200 211h0m-9 65h0m-25 34h0m-15 50h0m-103 44h0m47 9h0" stroke="#1f77b4" stroke-width="19" stroke-linecap="round" fill="none"/><path transform="scale(.1)" d="M5939 7009h0m-1-1h0m-23-1h0m-40 36h0m50-21h0m11 14h0m34 42h0m-21-8h0m-34-6h0m-28 10h0m-1-20h0m-37 21h0m-28-24h0m61 49h0m26-17h0m58 9h0m-23 36h0m-56-15h0m-38 2h0m6 46h0m20 8h0m1-28h0m28 14h0m9-14h0m13 19h0m9-9h0m14 9h0m-6 33h0m-42-2h0m-42-17h0m-20 13h0m48 14h0m3 5h0m1 6h0m2 11h0m6-22h0m1 10h0m17 15h0m9-22h0m4-1h0m4 8h0m12 9h0m3 39h0m-12-27h0m-16 15h0m-2-12h0m-17 5h0m-3-3h0m-4 8h0m-27-14h0m-19 22h0m-11 6h0m-17-14h0m-22-5h0m-6 15h0m-4-20h0m-12 15h0m3 25h0m19 13h0m15-19h0m13 19h0m14-11h0m15-17h0m7 19h0m11 0h0m36 5h0m10-24h0m-7 44h0m-3 13h0m-5-23h0m-55-1h0m-24 16h0m-46-11h0m-14-4h0m-5 6h0m35 23h0m15 0h0m95-3h0m-62 44h0m-1-9h0m-22 15h0m-5-16h0m-48 8h0m33 35h0m60-16h0m4 22h0m-13 8h0m-12 2h0" stroke="#fff" stroke-width="11.5" stroke-linecap="round" fill="none"/><path transform="scale(.1)" d="M5989 7452h0" stroke="#1f77b4" stroke-width="24" stroke-linecap="round" fill="none"/><path transform="scale(.1)" d="M5967 7431h0m-21-14h0" stroke="#2ca02c" stroke-width="20" stroke-linecap="round" fill="none"/></g>
<rect x="472.8" y="654.7" width="132.2" height="127.6" fill="none" stroke="#333" stroke-width="1"/>
<text x="539" y="794.6" font-size="10.8" text-anchor="middle" fill="#1a1a1a" >UMAP1</text>
<text x="469.9" y="717.4" font-size="10.8" text-anchor="middle" transform="rotate(-90 469.9 717.4)" fill="#1a1a1a" >UMAP2</text>
<text x="692" y="647.7" font-size="12.2" text-anchor="middle" fill="#1a1a1a" >SEDR (ARI=0.46)</text>
<g><path transform="scale(.1)" d="M6815 6627h0m69 27h0m-8-3h0m-10 2h0m-8 3h0m-13-1h0m-6-4h0m-8-15h0m0 17h0m-2-17h0m-4 11h0m0 22h0m8 16h0m18-22h0m7 24h0m19-24h0m1 18h0m1-15h0m7-1h0m15 22h0m9 0h0m20 22h0m0 1h0m-1 8h0m-5-6h0m-12 7h0m-1-21h0m-11-8h0m-16 26h0m-2-13h0m-5 1h0m-1 11h0m-10-20h0m-12-1h0m-2 15h0m-6-13h0m-3 5h0m17 19h0m0 24h0m4-21h0m2 23h0m4-5h0m15 3h0m19-6h0m4-13h0m2 18h0m6-13h0m5 11h0m7 7h0m14-1h0m3-14h0m7 16h0m7 0h0m23 17h0m-1 0h0m-1 7h0m-27-23h0m0 24h0m-4-16h0m-1-7h0m-16 24h0m-3-8h0m-1-2h0m-7-11h0m0 24h0m-4-25h0m-5-2h0m-5 23h0m-2 4h0m-10-11h0m-1 8h0m-3-22h0m-7-1h0m-9 18h0m-13-20h0m16 48h0m18-11h0m1-6h0m0 18h0m4 10h0m4-29h0m8 25h0m4 4h0m4-26h0m9 22h0m4-15h0m5 17h0m11 2h0m7-1h0m33-17h0m18 3h0m0 2h0m4 10h0m19 28h0m-2-14h0m-1 19h0m-7-15h0m-7 6h0m-5-8h0m-6 4h0m-10-12h0m-10 4h0m0 12h0m0 2h0m-2 7h0m-3-27h0m-8 21h0m-11-16h0m-1 14h0m-6 2h0m-12-23h0m-13 1h0m-6 18h0m-41 2h0m-5-17h0m20 51h0m8-19h0m1 1h0m11 10h0m12-11h0m7 2h0m13-3h0m5 6h0m12 4h0m16 11h0m8-21h0m10-5h0m3 14h0m2-8h0m8 11h0m5 2h0m2 3h0m1-14h0m2 7h0m2-1h0m-12 43h0m-11-18h0m-15 18h0m-11-13h0m-3 11h0m-2-16h0m-18 12h0m-14-16h0m-7-2h0m-10 24h0m-1-8h0m-15-16h0m-4 8h0m0 10h0m-3-15h0m-1 13h0m-3-3h0m3 35h0m2-10h0m7 14h0m10 1h0m14-26h0m1 8h0m19 16h0m16-19h0m0 4h0m6 10h0m1 5h0m5 5h0m20-26h0m2 13h0m0 9h0m10-21h0m2-1h0m-5 31h0m-3 2h0m-5 4h0m-2-5h0m-5 23h0m-5-24h0m-4 15h0m-22-18h0m-4 19h0m-5 1h0m-6 1h0m-17 5h0m-7 0h0m-3-12h0m-6-9h0m-1-6h0m-15 25h0m-1 2h0m-3-8h0m-5 26h0m1 10h0m16-11h0m0 11h0m2-22h0m6 0h0m3-2h0m0 10h0m14 1h0m3 15h0m1-15h0m11-7h0m4-1h0m4 1h0m14 13h0m2 6h0m2-2h0m1-20h0m6 18h0m2-10h0m2 4h0m-8 25h0m-2-3h0m0 6h0m-3-1h0m-20 6h0m-1 4h0m-1 7h0m-6-6h0m-9-5h0m-8-13h0m-1 12h0m-11-4h0m-21 10h0m-4 7h0m-7 20h0m3-11h0m1 13h0m3-6h0m2-6h0m3 2h0m5-3h0m10 4h0m4-6h0m2-3h0m4 20h0m25-12h0m12 10h0m8-19h0m5 12h0m4-11h0m6 14h0m3-6h0m10 29h0m-16 12h0m-3 6h0m-9-26h0m-2 0h0m-13 9h0m0 7h0m-6 10h0m-14-6h0m-24 1h0m-3-7h0m0 3h0m-3 9h0m-5-18h0m-8 4h0m-30 37h0m8-13h0m8 1h0m5 3h0m3-7h0m3 13h0m6-11h0m0 20h0m1-8h0m2-10h0m8 17h0m1 0h0m14-5h0m3 2h0m1-4h0m2-10h0m8 17h0m25-24h0m4-1h0m1 18h0m2-3h0m11-9h0m19 7h0m3-10h0m-13 54h0m-3-22h0m-6 8h0m-7-1h0m-9-10h0m-9 13h0m-2-14h0m-5 7h0m-8 16h0m-1 4h0m-1-6h0m-11-21h0m-10 10h0m-9 2h0m-2 9h0m-1 1h0m-16-22h0m-4 1h0m0 14h0m-5-16h0m-5 0h0m-2 6h0m-14 8h0m17 26h0m2 15h0m3-4h0m8 1h0m2-6h0m21-16h0m1 28h0m3-19h0m11-4h0m4 8h0m14 4h0m2 6h0m11-18h0m2 7h0m1 5h0m10-3h0m1-9h0m2 5h0m21-11h0m1 19h0m4-17h0m2 0h0m-6 28h0m-45 4h0m-8-1h0m-2 7h0m-15-1h0m-2-5h0m0 11h0m-2-9h0m-7 23h0m-3-16h0m-15 32h0m1 11h0m6-14h0m3-12h0m3 29h0m6-13h0m6 4h0m5-3h0m8 8h0m7-22h0m5 17h0m1-10h0m0 8h0m5 11h0m8-2h0m28-14h0m-15 31h0m-8 15h0m-11-22h0m-8 16h0m-2-11h0m-10 1h0m0 5h0m-5-3h0m-9-6h0m-1-5h0m-18 6h0m-7 12h0m-6 1h0m-1-10h0m-2 9h0m-3 7h0m-5 19h0m1-14h0m15 5h0m3-1h0m10 10h0m14-17h0m17 13h0m6 2h0m9-14h0m0 8h0m7 16h0m3-25h0m2 10h0m-27 29h0m-3 5h0m-10 1h0m-7 10h0m-6-20h0m-3 3h0m-5 9h0m-4-6h0m-19 2h0m-1 3h0m16 28h0m20-11h0m3 5h0m3 5h0m8-9h0" stroke="#9467bd" stroke-width="19" stroke-linecap="round" fill="none"/><path d="M683.3 666.1 684.5 668 684.3 668.9 685.4 671.3 686.8 674.5 688.6 676.7 687.6 678.4 689.4 680 690 681.5 689.4 684.8 689.6 687.5 690.4 688.8 691.2 690.7 690.6 692.3 691 695.8 689.7 697.7 690.8 700.1 689.7 702.1 689.4 704.3 689.5 706.6 688.5 708.5 687.7 710.6 689 712.6 689.9 712 691.3 709.6 692.4 707.7 692.8 705.5 694.1 702.6 693.9 700.6 693.9 699.7 694.9 697 693.6 694.9 695.1 692.9 693.9 690.3 695.4 688.7 694.7 685.5 694.2 683.8 693.6 680.9 693.5 679.1 691.9 676.5 691.1 675.6 691.3 672.5 690.4 672.1 687.8 669.2 686.9 667.8 686.4 666.1Z" fill="#9467bd"/><path transform="scale(.1)" d="M6885 6657h0m-34 0h0m-15-17h0m0 5h0m0 6h0m-5 0h0m-16-7h0m-1-13h0m3 40h0m0 2h0m3-13h0m6 9h0m10 5h0m13-12h0m21 2h0m5 9h0m7-6h0m4 7h0m3 8h0m6-8h0m1 15h0m11 11h0m-5 11h0m-7-16h0m-26 17h0m-17 6h0m-3-2h0m-2-21h0m-14-3h0m16 45h0m8-1h0m1 3h0m1-14h0m1 20h0m5-5h0m3 3h0m3-2h0m6-6h0m22-1h0m7-3h0m19 16h0m1-10h0m17 41h0m-4-12h0m-15 2h0m-1 2h0m-7-20h0m-3 15h0m-42-12h0m-4 18h0m-2-17h0m-6 9h0m20 20h0m2 21h0m1-8h0m0 9h0m43 0h0m6 3h0m6-7h0m11-8h0m6 5h0m-9 25h0m-5 9h0m-2 5h0m-6-21h0m-28-1h0m-3 0h0m-1 11h0m-7-6h0m-7 14h0m-4-5h0m-2 3h0m-8-13h0m6 21h0m8 16h0m12-8h0m40-4h0m1-2h0m17 10h0m7 14h0m6-18h0m0 5h0m0 21h0m-2 23h0m-15-11h0m-3-13h0m0 9h0m-8-1h0m-4 0h0m-18-6h0m-4-1h0m-7 13h0m-12-3h0m-5 8h0m7 17h0m2-2h0m7 9h0m11 2h0m2-10h0m20 7h0m11 2h0m0 10h0m2 0h0m8-6h0m0 8h0m5-2h0m-1 27h0m-7-23h0m-4 1h0m-1 20h0m-12-22h0m-9 19h0m-12-17h0m-11 16h0m-16 2h0m-5-19h0m-1 15h0m0 37h0m1-20h0m6 3h0m4 0h0m14-4h0m1 20h0m3-3h0m14-12h0m4 18h0m5-1h0m5-20h0m3 6h0m1-1h0m7 1h0m0 8h0m3-1h0m-1 32h0m-5-16h0m-3 26h0m-3-16h0m0 2h0m-2 5h0m-8-4h0m-6-10h0m-2 12h0m-26-8h0m-1 14h0m-2-16h0m-15 13h0m-3 2h0m1 13h0m5 1h0m4 14h0m5-10h0m9 11h0m2-16h0m36 20h0m11-15h0m-1 21h0m-4 9h0m-15 1h0m-3 4h0m-1 12h0m-31-8h0m-2-8h0m-16 11h0m-9 0h0m0 1h0m-7 34h0m14-13h0m7 13h0m1-16h0m12 12h0m14-15h0m15-5h0m-9 35h0m-3 12h0m-12-3h0m-6-18h0m0 13h0m-5-13h0m-2 25h0m-7-7h0m-4-17h0m-3 1h0m17 41h0m12-3h0" stroke="#9467bd" stroke-width="19" stroke-linecap="round" fill="none"/><path transform="scale(.1)" d="M6816 6623h0m15-2h0m9 122h0m99-5h0m7 16h0m-97 17h0m130 144h0m-95 19h0m-2 27h0m-20 75h0m54 105h0" stroke="#9467bd" stroke-width="19" stroke-linecap="round" fill="none"/><path transform="scale(.1)" d="M6840 6662h0m43 40h0m-2 62h0m55 52h0m10 71h0m-34 87h0m5 54h0m13-5h0m-31 63h0" stroke="#fff" stroke-width="11.5" stroke-linecap="round" fill="none"/><path d="M654.3 676.3 653.1 678.9 651.1 680.8 650 681.8 649.3 684.3 648.4 685.9 647.4 688.2 646.4 691.1 646.8 693.5 645.1 694.9 644.5 696.3 643.8 699.5 644.1 702 642.5 702.9 643.2 706.6 641.7 707.5 640.6 709.4 641.6 712 641.6 714.3 641.4 715.9 643.1 719.3 644.9 719.8 646.2 721.1 648.4 720.6 651.5 722 652.4 723.5 654.4 724.9 656.4 726.5 659.4 726.1 661.2 723.7 662 724.1 664.6 721.4 664.7 720.4 666.6 718.1 666.5 715.2 666.9 714.1 666.8 711.7 666.3 709.3 667.1 707.4 666.8 705.4 664.8 703.3 665.1 700.2 664.4 698.3 662.9 695.3 663.7 694.8 663.1 691.4 661.2 689.4 660.9 688.4 660.6 685.2 659.6 682.7 658.2 681.6 657.1 680.2 654.8 678.8Z" fill="#2ca02c"/><path transform="scale(.1)" d="M6578 6776h0m-12-5h0m-10-18h0m-24 6h0m-19 13h0m-15 34h0m27-11h0m2-10h0m8 6h0m1-9h0m2 7h0m16-6h0m11 2h0m3 3h0m10 8h0m0 2h0m8-16h0m6 25h0m18 2h0m12 30h0m-5-8h0m-5-19h0m-2 20h0m0 1h0m-6-12h0m-12 3h0m-6-5h0m-1-5h0m-62 7h0m-18 4h0m-4-1h0m-10 10h0m-11 2h0m-20 29h0m4 1h0m17-11h0m9-5h0m6 5h0m12-15h0m84 6h0m9 22h0m1-12h0m5 11h0m18-6h0m0 3h0m10 30h0m-16-23h0m0 2h0m-1 5h0m0 17h0m-1-15h0m-2 18h0m-2-5h0m-1 1h0m-4-21h0m-128 5h0m-5 19h0m-2 0h0m-18-11h0m-5 19h0m11-2h0m6 11h0m1 6h0m1-3h0m1-1h0m4-13h0m3 18h0m5-15h0m138 6h0m12-11h0m7 12h0m16 35h0m-12 2h0m-4-1h0m-169-6h0m-1 6h0m-1-10h0m-17 10h0m-23 26h0m23 2h0m10-10h0m3-6h0m1 9h0m165 15h0m2-17h0m2 7h0m9-14h0m8 26h0m2-18h0m4 8h0m11 39h0m-1-12h0m-9-14h0m-8 9h0m-2 13h0m-10 2h0m-188 0h0m-25-16h0m-4 10h0m-2 13h0m0 6h0m10 10h0m1-10h0m5-6h0m3 1h0m4 6h0m199-6h0m4 8h0m8 15h0m12-23h0m5 19h0m11 9h0m-8 15h0m-18 12h0m-6-19h0m-211 7h0m-6 0h0m-4-8h0m-12 3h0m-5 3h0m-4-3h0m-2 2h0m-2 16h0m-1 1h0m5 9h0m1 12h0m7 6h0m11-26h0m4 4h0m227 12h0m1 1h0m8-11h0m5-2h0m11-2h0m2 6h0m3 14h0m3-4h0m4 29h0m-1 11h0m-6-7h0m-3-3h0m-2 4h0m-4-9h0m-259 6h0m-5-8h0m-8 16h0m-9-21h0m12 39h0m2-12h0m10 12h0m2 2h0m240-11h0m3 6h0m4 0h0m3 6h0m15-16h0m8-1h0m1 3h0m1 7h0m-19 27h0m-28 17h0m-6-7h0m0 11h0m-1-10h0m-187 3h0m-10-10h0m-8-4h0m0 3h0m-7-2h0m-8 15h0m-2-22h0m-10 16h0m29 15h0m3 12h0m1-7h0m15-4h0m14 20h0m4 5h0m7-17h0m9-5h0m18 16h0m100 4h0m15-15h0m1 10h0m13 7h0m2-23h0m5 7h0m4 5h0m2 0h0m2-8h0m10-7h0m-20 42h0m-14-7h0m-6-6h0m-1 3h0m-5 4h0m-4 6h0m-12 5h0m-12 1h0m-7-6h0m-22-1h0m-5-2h0m-29 7h0m-1-14h0m-3 7h0m-6-2h0m-21-10h0m43 37h0m29 16h0m3-2h0m23-11h0m20-9h0m4-1h0" stroke="#2ca02c" stroke-width="19" stroke-linecap="round" fill="none"/><path transform="scale(.1)" d="M6517 6745h0m-29 60h0m125-19h0m-156 48h0m170 10h0m-209 106h0m281 142h0m-311 65h0m2 9h0m316 10h0m-291 43h0m24 7h0" stroke="#2ca02c" stroke-width="19" stroke-linecap="round" fill="none"/><path transform="scale(.1)" d="M6515 6820h0m1 38h0m34-10h0m31 4h0m25 12h0m-3 26h0m-76-4h0m7 38h0m14-10h0m70-5h0m4 43h0m-38-2h0m-68-9h0m-43 1h0m-6 5h0m37 29h0m111 5h0m-82 19h0m-24 15h0m-52-23h0m6 47h0m10 8h0m105-18h0m29 1h0m26 6h0m20 0h0m-90 18h0m-113 2h0m-1 37h0m70 1h0m15-4h0m119 46h0m-134 26h0m40 3h0m41-23h0m27-1h0m32 8h0m-62 43h0m-172-20h0m91 31h0m48 25h0m15-9h0" stroke="#fff" stroke-width="11.5" stroke-linecap="round" fill="none"/><path d="M657.2 668.3 659.2 671.8 659.8 672.7 659.2 674.8 660.2 676.8 660.8 679.9 661.4 681.4 662.6 683.6 663.9 685.8 663.2 687 665.2 689.5 665.5 692.6 666.7 694.9 666.6 695.8 667.1 699.2 667.6 701.3 668 702.7 668 705.6 670.7 707.3 670.4 708.8 673 709.7 674.2 710.9 676.8 710.7 679.1 711.2 680 710.8 683 707.9 683.1 706.5 685.3 704.9 687.1 703.6 687.1 700.7 687.5 698.7 687.2 696.2 688.2 694.3 687.7 691.9 687.6 690.7 688 687.8 688.1 686.9 686.9 684.5 686.4 681.3 685.9 679.9 684.9 677 684 676.2 684.4 673.4 683.2 670.7 681.1 668.6 681.1 667.7 680 665.1 677.9 663.3 676.6 663.4 674.2 661.5 672.3 661.2 669.9 660.7 669.3 661.1 665.9 662 664.9 663.3 662.6 665 660.7 665.6 660.2 667.9Z" fill="#1f77b4"/><path transform="scale(.1)" d="M6723 6599h0m-12-9h0m-1 3h0m-78 19h0m9 15h0m4-5h0m1-6h0m7 6h0m1-4h0m7 11h0m1-2h0m7 1h0m6-13h0m0 9h0m41-15h0m2 10h0m1-14h0m6 4h0m6-4h0m10 15h0m19 2h0m0 7h0m14-24h0m5 24h0m15-5h0m32 32h0m-7-13h0m0 5h0m-12 5h0m-3 0h0m-1-5h0m-18 4h0m-2-13h0m-132-4h0m-10 4h0m-19 18h0m-24-10h0m-6 3h0m-6 2h0m-4 6h0m-19 23h0m4-2h0m8 7h0m5-6h0m17-15h0m7 15h0m194 0h0m15-3h0m5 0h0m19 25h0m-3 2h0m-6-4h0m-5 6h0m-1 6h0m-228 4h0m-6 1h0m-3-11h0m-5-9h0m-8 9h0m-1-8h0m-1 21h0m-1-29h0m-7 1h0m12 39h0m3 4h0m17 2h0m4-11h0m0 15h0m2 2h0m220-14h0m15 11h0m8-4h0m13 12h0m12 21h0m-10-15h0m-20 9h0m-5-8h0m0 3h0m-221 5h0m-5 10h0m-12-11h0m0 16h0m-13-19h0m15 36h0m7-12h0m1 26h0m1-21h0m4 20h0m8-3h0m3 0h0m1-10h0m1-9h0m3 11h0m1 9h0m232-16h0m17 9h0m-1 34h0m-6 5h0m-2-26h0m-7 6h0m-6 6h0m-2-12h0m-221 13h0m-4 3h0m-3 9h0m-2 3h0m-1-25h0m-1-1h0m-8 12h0m0 7h0m-4-11h0m-4 7h0m-2-14h0m9 29h0m3 20h0m7-14h0m6 1h0m252-1h0m5-5h0m3 16h0m5-9h0m1 24h0m-7-5h0m0 12h0m-2-6h0m-4 12h0m-13-11h0m-1-2h0m-207 21h0m-3-7h0m-15 6h0m-5 1h0m-2-9h0m-2 6h0m-10-22h0m-2 8h0m10 36h0m8 1h0m1 7h0m14 0h0m2-3h0m7 8h0m213-23h0m1 1h0m17 4h0m3 9h0m-21 29h0m0 11h0m-5-3h0m-3-2h0m-197-12h0m-3-6h0m-1 13h0m0 1h0m-7-3h0m-16 14h0m5 21h0m3-7h0m2 7h0m15-22h0m202 11h0m1 18h0m1-21h0m20 14h0m-9 25h0m-2-17h0m-2 19h0m-3-8h0m-15 5h0m-173 7h0m-1-9h0m-6-4h0m-2 7h0m-3-15h0m-12 16h0m-3-9h0m-6-2h0m-2-1h0m-1 1h0m9 31h0m2 8h0m11 1h0m0 7h0m1-5h0m3 10h0m14-2h0m2-15h0m162-8h0m4 24h0m22-11h0m3-10h0m-22 34h0m-10-10h0m-4 27h0m-1-2h0m-5-4h0m-7-16h0m-3 9h0m-3 2h0m-118 2h0m-5-11h0m-13-6h0m-7 16h0m-18-17h0m-2 6h0m39 41h0m0 2h0m11-10h0m23 15h0m24-9h0m7 6h0m21 7h0m20-8h0m4-3h0m3 3h0m5 1h0m13-2h0m-14 16h0m-11 12h0m-17-15h0m-2 16h0m-4-15h0m-2 11h0m-4-1h0m-16-6h0m-3 2h0m-15 9h0m-11-13h0m-30-2h0" stroke="#1f77b4" stroke-width="19" stroke-linecap="round" fill="none"/><path transform="scale(.1)" d="M6756 6574h0m-49 13h0m-157 74h0m312 54h0m-10-22h0m10 40h0m4-2h0m29 63h0m-5 33h0m1 181h0m-20 64h0m-52 59h0m-9 4h0" stroke="#1f77b4" stroke-width="19" stroke-linecap="round" fill="none"/><path transform="scale(.1)" d="M6751 6658h0m-71-7h0m-90 26h0m221 8h0m0 11h0m-57 13h0m-98 6h0m-35-9h0m-23 16h0m128 14h0m3 12h0m96-1h0m-27 14h0m-80 1h0m-76 30h0m0 7h0m68-8h0m51-5h0m0 23h0m79-23h0m-10 28h0m-39 9h0m-103 4h0m-14-8h0m-39 37h0m79-2h0m45 14h0m24-9h0m7 3h0m29-21h0m11 35h0m-20-4h0m-16 21h0m-125-15h0m24 33h0m57-9h0m66 14h0m9-11h0m-39 35h0m-51 1h0m-7 1h0m-29 19h0m41-1h0m32 18h0m67-12h0m22 25h0m-2 17h0m-19-14h0m-83 5h0m-5 6h0m72 80h0" stroke="#fff" stroke-width="11.5" stroke-linecap="round" fill="none"/><path d="M639.1 722.4 637.7 725 637.5 726 636.6 729 636.8 731.2 635.8 733 636.3 735.5 634.9 737.4 635.3 740 636.2 742.3 635.6 743.8 636.8 746.7 637.4 748 637.5 750 638.5 751.9 637.7 754.4 638.5 757.3 639.9 759.8 640.2 760.6 640.1 763.1 642.6 765.5 644.1 766.2 645.8 767.7 646.3 770.7 648.8 768.8 649.6 768.1 651.5 768 653.4 766.7 654.9 764.4 656.1 761.6 657 760 656.8 757.7 659.3 756.2 659.3 754.4 660.1 751.8 660.7 749.9 661.6 748.1 661.1 745.1 661.9 743.3 661.3 741.6 661.8 738.2 660.8 736.1 659.9 734.9 659 732.1 657.2 730.3 656.6 729.8 655.1 727.9 653.7 726.6 651.2 725.4 649.5 723.8 646.7 723.1 645.6 723.5 643.5 722.9 640.8 722.6Z" fill="#ff7f0e"/><path transform="scale(.1)" d="M6381 7202h0m4 1h0m6 11h0m5-1h0m27 14h0m6-16h0m8-2h0m3 15h0m19-11h0m2 16h0m24-3h0m0 1h0m9-3h0m3 3h0m50 29h0m-2-1h0m-12 4h0m-4-14h0m-10 2h0m-5 4h0m-8-19h0m-5 10h0m-1-8h0m-2 13h0m0 4h0m-1 7h0m-8-8h0m-20-20h0m-23 11h0m-2-3h0m-2 2h0m-60 8h0m-1-10h0m-1-7h0m-3 23h0m-8 3h0m-1-15h0m-6 15h0m-1-18h0m-2 1h0m-6-2h0m-8 39h0m4-13h0m6 11h0m5-1h0m2 13h0m1-17h0m6-1h0m4 17h0m150-18h0m21-6h0m6 1h0m3 3h0m11 8h0m0 4h0m6 9h0m5-18h0m6 7h0m4 7h0m17 21h0m-12 14h0m-9-3h0m-26-17h0m-184-4h0m-10 18h0m-12-20h0m0 2h0m0 1h0m-7-5h0m10 52h0m7 2h0m5-13h0m4 8h0m0 9h0m1-13h0m217 3h0m10 10h0m2-8h0m6-1h0m1 4h0m4 1h0m2 0h0m20 23h0m-28 0h0m-1 6h0m-4-21h0m-233 8h0m-3 2h0m-2 16h0m-10-27h0m-1 28h0m-2-22h0m-16 32h0m8-8h0m0 8h0m0 16h0m11-16h0m3-6h0m0 4h0m4-1h0m4 3h0m2-8h0m238 2h0m3 19h0m4-17h0m3 8h0m3-7h0m7 18h0m3 3h0m5-9h0m1-16h0m4 25h0m-6 14h0m-7-1h0m-1 11h0m-9-10h0m-238 9h0m-2 7h0m-3-23h0m-13-4h0m-16 23h0m7 17h0m0 13h0m16 1h0m15-9h0m232-10h0m0 11h0m2-15h0m5 16h0m6 11h0m9-9h0m2-2h0m2 9h0m-10 5h0m-5 21h0m-3-16h0m-11 4h0m-1 8h0m-223 9h0m-6-16h0m-3 15h0m-4-5h0m-7-14h0m-4-1h0m0 9h0m9 33h0m6-13h0m1 16h0m9 2h0m6-7h0m198 13h0m2-2h0m2-17h0m10-7h0m0 9h0m1 14h0m3-24h0m5 19h0m9-3h0m8-15h0m-14 33h0m-5-3h0m-7-2h0m-1 20h0m-2 2h0m-3-23h0m-10 5h0m-6 24h0m-2-14h0m-186-5h0m-2 15h0m-9-18h0m-11 25h0m6-2h0m9 3h0m2 25h0m2-24h0m12-3h0m161 24h0m7-6h0m5-5h0m1-3h0m7 9h0m4-10h0m6 15h0m-8 5h0m-9 16h0m-4-13h0m-1 23h0m-161-3h0m-7 3h0m-3-26h0m-4 50h0m13 0h0m4-12h0m0 21h0m1-29h0m123 27h0m10-8h0m7-12h0m0 2h0m10 2h0m1-10h0m5 16h0m8-3h0m1-11h0m-22 48h0m-13-19h0m-7 3h0m0 16h0m-5-6h0m-4-7h0m0 11h0m-11 2h0m-2 1h0m-66 4h0m-7-7h0m-14 8h0m-5-5h0m-11 2h0m28 10h0m1 20h0m5-3h0m3 3h0m4 1h0m12-14h0m3-4h0m14 15h0m10-3h0m1-5h0m1 5h0m17 6h0m11-25h0m2 5h0m-43 34h0m-6-5h0m-12 2h0" stroke="#ff7f0e" stroke-width="19" stroke-linecap="round" fill="none"/><path transform="scale(.1)" d="M6454 7199h0m-66-2h0m181 61h0m69 218h0m-284 72h0m1 38h0m244 19h0m-22 38h0m7-20h0m-185 44h0m161 17h0m-45 28h0" stroke="#ff7f0e" stroke-width="19" stroke-linecap="round" fill="none"/><path transform="scale(.1)" d="M6488 7244h0m-36 3h0m65 14h0m52 77h0m-94 48h0m15 7h0m112 26h0m-95 41h0m-116 46h0m31 43h0m-22-16h0m-10 13h0m-2 18h0m48-1h0m109 1h0m35-1h0m-97 85h0m11 37h0" stroke="#fff" stroke-width="11.5" stroke-linecap="round" fill="none"/><path d="M668.6 724.1 666.9 724.7 665.9 726.8 666.2 729.4 665.1 732.2 664.2 733.3 662.9 736.6 664.3 738.1 664.2 739.9 665 741.6 665.8 744.4 663.9 747.1 663.5 748.1 664.2 750.7 664.1 753.9 663.4 755.3 662.2 757.1 660.3 758.8 659.7 761.6 658.5 763.7 657 765.6 656.4 767 656.4 768.4 654.8 770.8 656.5 772.8 658.7 774.4 659.9 773.2 662.9 771.6 662.8 770.2 663.2 767.4 664 764.9 664.9 764.3 664.4 760.7 665.6 759.5 667.1 758 667.5 755.6 669.6 754.7 672.7 752.7 673.4 753.1 675.1 750.5 676.7 750 679.1 748.5 680.3 746.8 682.1 744 682.5 741.3 681.7 740 683.2 738.3 682.6 734.9 682.2 732.7 682.2 730.9 681.6 729.2 681.6 727.5 680.9 723.9 680.2 723.2 677.6 721.8 676.9 722 674 719.9 672.5 721.3 669.7 721.6Z" fill="#8c564b"/><path transform="scale(.1)" d="M6749 7185h0m-4 9h0m-16-2h0m-9 4h0m-56 28h0m4 2h0m17-16h0m6 1h0m12-6h0m4 6h0m3 8h0m5-13h0m4 9h0m3 14h0m1-1h0m6-28h0m11 3h0m14 18h0m4-6h0m11 0h0m3 11h0m4-23h0m3 24h0m13-11h0m2-12h0m14 21h0m12 0h0m12 6h0m-2 17h0m-8 9h0m-4-3h0m-5-9h0m-17-10h0m-5 1h0m-86 1h0m-18 1h0m-2 20h0m-2-24h0m-21 22h0m-2-11h0m-7 34h0m13 5h0m1-19h0m4 23h0m4-22h0m9-5h0m133 1h0m0 25h0m3-13h0m8 11h0m1-13h0m5 4h0m1 8h0m6-8h0m2 41h0m-4-21h0m-11 23h0m-2-14h0m-6 12h0m-152-24h0m-5 19h0m-5-12h0m-1 0h0m-11 15h0m-9 3h0m-1-7h0m-3 34h0m10-13h0m2 14h0m2-22h0m0 5h0m177 5h0m2 15h0m7-24h0m3 16h0m1-7h0m8-7h0m3-5h0m0 15h0m-12 19h0m-9-5h0m-3 14h0m0 4h0m-1 4h0m-5-19h0m-2 10h0m-171-12h0m-1 6h0m-3 0h0m-4 12h0m-5-4h0m-6 26h0m0 16h0m7-23h0m4-4h0m0 25h0m7-15h0m13 0h0m0 15h0m153-14h0m3 5h0m3-9h0m3 19h0m23-24h0m-4 39h0m-1-1h0m-9-8h0m-9 17h0m-155-1h0m-1-10h0m-1 10h0m-8-4h0m0 2h0m-14 8h0m-4-9h0m-5 6h0m4 32h0m1-17h0m15-3h0m140 18h0m9-8h0m2-1h0m9-11h0m-9 40h0m-13-9h0m-2-2h0m-2 17h0m-1 2h0m-2-17h0m-7 12h0m-12 12h0m-1-8h0m-107-6h0m-9 12h0m-7 2h0m-8-2h0m-9 16h0m6 17h0m1-18h0m12 8h0m1-13h0m4 10h0m89 12h0m7-6h0m6-1h0m0 7h0m7-12h0m6-15h0m0 4h0m3 8h0m1 1h0m6 9h0m3-2h0m4-2h0m-24 12h0m-8 14h0m-11-13h0m-2 11h0m-3 12h0m-2-4h0m-7-18h0m-5 23h0m-3-23h0m-1 15h0m-11-8h0m-14 9h0m-16 7h0m-50-14h0m-2-5h0m-5 11h0m-20 24h0m4 18h0m25-7h0m4-18h0m2-1h0m26 16h0m8-11h0m0 11h0m8 0h0m2 5h0m9-19h0m9 20h0m1-24h0m12-1h0m1 9h0m-18 22h0m-20 11h0m-8 6h0m-1-4h0m-13-1h0m-4 8h0m-2 4h0m-38-22h0m-1-1h0m-2 9h0m-5 10h0m-13-7h0m-8-1h0m-2 6h0m-1 7h0m-15 15h0m1 9h0m8-7h0m13 0h0m7 1h0m10-12h0m4 5h0m42 5h0m8 11h0m5-11h0m4 15h0m-19 23h0m-7-12h0m-2 11h0m-48-4h0m-7-3h0m-4 17h0m-2-19h0m-25 16h0m10 23h0m3 8h0m76-27h0m0 23h0m3-19h0m5 1h0m2 0h0m1 16h0m10-19h0m-9 50h0m-9-2h0m-4 2h0m-8-3h0m-1-18h0m-1 1h0m0 5h0m-4 4h0m-3 2h0m-4 11h0m-9-12h0m-10 12h0m-2 0h0m-3-9h0m-7 1h0m-1 8h0m-6-15h0m-4 20h0m-4-3h0m-6-26h0m0 2h0m-6 3h0m-16 6h0m20 21h0m0 1h0m24-2h0m15 8h0m2 3h0m26-12h0" stroke="#8c564b" stroke-width="19" stroke-linecap="round" fill="none"/><path transform="scale(.1)" d="M6688 7203h0m135 8h0m-200 95h0m-6 18h0m7 116h0m-21 57h0m177 34h0m-204 58h0m-12 6h0m-21 32h0m116 82h0m-118 45h0m28 16h0" stroke="#8c564b" stroke-width="19" stroke-linecap="round" fill="none"/><path transform="scale(.1)" d="M6723 7219h0m20-3h0m-40 48h0m45 3h0m39 32h0m-73 17h0m-68 30h0m48-22h0m6 10h0m54 14h0m64-25h0m2 9h0m-24 47h0m-1-4h0m-30-11h0m-10-5h0m-2 14h0m-20-15h0m-39 8h0m-39 9h0m3 17h0m22-12h0m59 23h0m48 5h0m-131 28h0m124 40h0m-8-1h0m-74 12h0m-51 22h0m20 14h0m62-19h0m19 8h0m-27 20h0m-34 16h0m-46-14h0m7 43h0m10 1h0m-14 36h0m-22 5h0m-38 46h0m-6 7h0m-12-2h0m55 16h0m16 17h0m-56 32h0" stroke="#fff" stroke-width="11.5" stroke-linecap="round" fill="none"/><path d="M703 711.3 703.2 713.6 703.4 714.9 705.9 716.5 707.6 717.7 709.8 717.7 711.9 718.8 714.3 720.5 715.7 722 716.6 722 718.8 722.9 720.8 724.3 723.8 725.1 723.9 724.4 724.8 722.9 725.8 719.9 726.2 717.7 724.7 716.8 724.6 713.3 723.4 712.6 722.6 711 719.8 709.4 719.6 708 716.1 705.8 715.1 706.7 713.3 706.7 710.8 706.1 708.8 706.4 706.4 708.4 704.8 709.2Z" fill="#e377c2"/><path transform="scale(.1)" d="M7106 7039h0m7 3h0m21 3h0m41 1h0m4-2h0m28 33h0m-3-4h0m-5-3h0m-8-20h0m-1 26h0m-3-17h0m-6 3h0m-6 2h0m-1 7h0m-16-21h0m-1 22h0m-7-7h0m-10 6h0m-2-13h0m0 2h0m-5 10h0m-2-10h0m-5 4h0m-2-4h0m-5 10h0m-8 1h0m-1-10h0m-1 1h0m-1-9h0m-9 6h0m-1-3h0m0 13h0m-2-19h0m-11 7h0m-4 12h0m-11 5h0m-3-6h0m-4-4h0m-5 9h0m0 4h0m-38 19h0m7-4h0m20 5h0m5 8h0m12-9h0m126-11h0m13-3h0m2 18h0m3-13h0m9 4h0m0 1h0m0 1h0m5 8h0m10 6h0m31 16h0m-15 7h0m-1-19h0m-12 18h0m-1-11h0m-3 0h0m-2 13h0m-14-17h0m-171 2h0m-2 0h0m0 6h0m-3 7h0m-7-6h0m-7 5h0m-6-18h0m-4 21h0m11 35h0m4-19h0m5 5h0m0 17h0m7-28h0m7 19h0m7 1h0m0 5h0m19-1h0m16-2h0m153 6h0m17-26h0m3 22h0m8-11h0m9 38h0m-11-6h0m-146-9h0m-17 10h0m-4-8h0m-1 15h0m-13-2h0m-1-1h0m-6 2h0m-16-21h0m-25 0h0m61 30h0m5 3h0m21 11h0m1 4h0m1-15h0m1 3h0m0 4h0m3 9h0m11-15h0m11-5h0m1 2h0m7 14h0m84 2h0m2 4h0m5-17h0m25 17h0m-8 11h0m-5 11h0m-1-7h0m-2 0h0m0 2h0m-15-8h0m-11 12h0m-1-11h0m0 3h0m-3 14h0m-17-8h0m-2 4h0m-11-3h0m-14 2h0m-6 10h0m-14-17h0m57 41h0m7-12h0m3-3h0m1 13h0m6-10h0m4-2h0m6-4h0" stroke="#e377c2" stroke-width="19" stroke-linecap="round" fill="none"/><path transform="scale(.1)" d="M7170 7039h0m28-6h0m20 15h0m-153 156h0m11-2h0m44 32h0m65 40h0" stroke="#e377c2" stroke-width="19" stroke-linecap="round" fill="none"/><path transform="scale(.1)" d="M7150 7076h0m-16 2h0m-78 28h0m2 1h0m163 23h0m-76-15h0m-91 32h0m9 11h0m40 3h0m69 3h0m49 3h0m-71 40h0m102 0h0m6-6h0" stroke="#fff" stroke-width="11.5" stroke-linecap="round" fill="none"/><path transform="scale(.1)" d="M7039 7094h0m18 0h0m13 7h0m-23 35h0m-2 27h0m24-19h0m6 46h0m-15-4h0m-13-15h0m-4 12h0m-3 9h0m-15-2h0m-12-4h0m-10-6h0m-4 5h0m-13 18h0m3 23h0m12-16h0m27-4h0m4-2h0m18 25h0m8-10h0m5-7h0m11 17h0m3-12h0m3 4h0m8-18h0m-48 30h0m-55 10h0m-6-12h0" stroke="#e377c2" stroke-width="19" stroke-linecap="round" fill="none"/><path d="M727.9 717.8 728.4 719.6 728.1 722.4 726.7 724.8 726.6 727.3 727.4 729.4 728.2 730.7 727.8 733.1 727.8 735.5 728.9 738.7 729.1 739 730.8 741.9 731.3 743 732.5 746.1 733.9 747.3 735 748.3 736.5 749.7 738.9 751.5 741.3 752.1 742.6 752.9 744.5 751.1 747 750.3 748.8 749.5 749.2 747.2 749.3 745.1 749.6 742.1 749.7 740.3 750.5 739 751 736.5 749.9 734.4 750 732.7 748.3 730.9 748.3 728.7 748.4 726.3 745.9 724 744.5 722.5 743.8 721.4 743.1 719.4 740.1 718.2 738.7 716.9 737.1 717 733.8 715.5 733.1 716.6 731.2 717.7Z" fill="#d62728"/><path transform="scale(.1)" d="M7337 7137h0m-4-3h0m-1 1h0m-40 25h0m3-1h0m7-5h0m11 3h0m7-9h0m10-2h0m4 12h0m3 2h0m2-4h0m1 1h0m12-6h0m1-2h0m4 3h0m6-3h0m3 9h0m7 5h0m16-5h0m13 8h0m49 32h0m-5 0h0m-6-14h0m-5-9h0m-3 5h0m0 3h0m-10 0h0m0 7h0m-6-1h0m0 7h0m-4-6h0m-8-8h0m-16-10h0m-106 15h0m-8-6h0m0 3h0m-4 4h0m-2-3h0m-10 22h0m4 5h0m0 3h0m1 10h0m11-11h0m1 6h0m9 6h0m157-20h0m1 10h0m4 8h0m4-11h0m2-11h0m34 33h0m-5 22h0m-9-4h0m-4-21h0m-2 4h0m-4 12h0m-2-5h0m-10 1h0m-171-4h0m-3 13h0m-6-3h0m-2-14h0m-4-4h0m-10 0h0m0 2h0m-2 15h0m-1-1h0m0 6h0m-5 20h0m3 13h0m1-24h0m12 19h0m7 7h0m9-18h0m2-5h0m1 2h0m207 15h0m4-16h0m5 4h0m6 4h0m8 21h0m-7 17h0m-4-14h0m-2 1h0m-11 5h0m-5 0h0m-1-1h0m-196 1h0m-1-13h0m-2 1h0m-2 0h0m-2 14h0m0 7h0m-8-20h0m-2 1h0m-3 17h0m-7-13h0m-3 11h0m0 6h0m-1 3h0m24 14h0m2-6h0m3 4h0m212 10h0m12-13h0m0 6h0m2-1h0m7-11h0m9 46h0m-3-10h0m-2 0h0m-8 9h0m-23-16h0m-199 27h0m-3 1h0m-3-1h0m-1-14h0m-6-4h0m-7 12h0m-9 6h0m17 21h0m1 1h0m1-8h0m1 3h0m1-10h0m1 1h0m5-2h0m4 3h0m8 13h0m192-4h0m1 4h0m1-17h0m3 14h0m8-17h0m3 10h0m6 0h0m9 1h0m-9 27h0m-5 0h0m-2 4h0m-194 12h0m-18-4h0m-1 1h0m-14-15h0m15 29h0m29 9h0m12-6h0m2 15h0m5-7h0m2 11h0m2-2h0m135-18h0m9 21h0m19-23h0m4-4h0m-11 39h0m-6 10h0m-11 3h0m-1-5h0m-4 11h0m-4-11h0m-5 8h0m-2 1h0m-113 1h0m-1-1h0m-2-23h0m-5 24h0m-2-20h0m-4-5h0m-8 9h0m28 30h0m0 7h0m25 2h0m7 5h0m10 1h0m10-9h0m13 2h0m2 0h0m5-5h0m1 3h0m15-15h0m20 4h0m2 10h0m5 1h0m8-7h0m5-3h0m-48 34h0m-10-5h0m-1 12h0m-20-14h0m-22 1h0" stroke="#d62728" stroke-width="19" stroke-linecap="round" fill="none"/><path transform="scale(.1)" d="M7371 7138h0m-82 14h0m215 78h0m19 57h0m4 63h0m-280 41h0m293-1h0m-265 40h0m7 25h0m225 55h0" stroke="#d62728" stroke-width="19" stroke-linecap="round" fill="none"/><path transform="scale(.1)" d="M7325 7163h0m17 30h0m-42 35h0m15-23h0m34 10h0m82 17h0m-119 20h0m93 12h0m36-1h0m-40 56h0m-102-23h0m-17-2h0m-1 37h0m9-6h0m201 29h0m-46 17h0m-3-12h0m-127 10h0m166 16h0m21 3h0m-143 40h0m15 15h0m12 2h0m57-1h0m34 46h0m-37-11h0" stroke="#fff" stroke-width="11.5" stroke-linecap="round" fill="none"/></g>
<rect x="628.6" y="654.7" width="128.9" height="127.6" fill="none" stroke="#333" stroke-width="1"/>
<text x="693.2" y="794.6" font-size="10.8" text-anchor="middle" fill="#1a1a1a" >UMAP1</text>
<text x="625.7" y="717.4" font-size="10.8" text-anchor="middle" transform="rotate(-90 625.7 717.4)" fill="#1a1a1a" >UMAP2</text>
<text x="90.5" y="810.8" font-size="12.2" text-anchor="middle" fill="#1a1a1a" >SpaGCN (ARI=0.47)</text>
<g><path d="M83.2 846.6 82.7 849.4 83.8 850.3 86 850.9 89.2 851.8 90.3 852.3 92.7 853.1 94.2 852.2 97.3 851.6 99.1 852.6 101.2 851.1 104.5 851.8 105.8 851.5 107.9 850.7 111.1 849.8 111.6 851.4 114.9 853.5 116.5 854.3 118.5 854.5 121.5 854.8 122.5 855.3 124.9 855 126.3 854.6 129.1 852.9 129.7 851.6 132.9 850.4 133.8 849.2 134 847.5 135.4 843.9 135.5 842.4 136.4 841 137.8 837.7 137.3 836 138.3 833 137.2 832.1 137.3 830.3 136.3 827.3 135.5 827.4 132.7 826.3 131.3 825.1 128.7 824.8 127.7 826.2 124.7 825.9 121.9 826.3 121.2 827.4 119.3 829.2 115.5 829 114.9 829.3 111.7 831.1 110.8 831.7 109 833.1 106.3 833.2 103.7 834.2 101.4 835.7 100.8 836.1 98.4 837.4 95.7 838.3 93.3 839.4 91.9 840.8 90.7 841.3 87.6 843.4 86.9 843.6 84 845.2Z" fill="#ff7f0e"/><path transform="scale(.1)" d="M1234 8245h0m5 1h0m29-9h0m11-6h0m7 3h0m4 11h0m5 0h0m20-22h0m3 19h0m2 6h0m1-17h0m6 10h0m3 1h0m2 4h0m5-11h0m2 13h0m20-2h0m37 29h0m-1-5h0m-16-5h0m-13-5h0m-3-5h0m-11 7h0m-3 8h0m-5 1h0m-2-4h0m-18-10h0m-29-6h0m-1 10h0m-33-9h0m-7 13h0m-4 10h0m-5-16h0m-2-5h0m-12 20h0m-2-7h0m-14-14h0m0 16h0m-1 1h0m-1-4h0m-17-7h0m-6-1h0m-2 11h0m-14 10h0m-2-6h0m-3 4h0m-88 32h0m38-21h0m20-2h0m9 4h0m9-7h0m3 9h0m14-1h0m8 7h0m6-4h0m1-11h0m33-3h0m145 26h0m2-24h0m7 20h0m3-19h0m0 16h0m3 13h0m-11 3h0m-2-3h0m-1 11h0m-243-6h0m-3 4h0m-13 3h0m-13-12h0m-7 27h0m-2-6h0m-5-6h0m-1 3h0m-17 2h0m-3 4h0m-21-7h0m-3-1h0m-7 9h0m-73 31h0m49-15h0m11-13h0m13 9h0m5 15h0m2-9h0m2-2h0m341 9h0m1-5h0m2-11h0m7 14h0m-2 38h0m-1-1h0m-3-11h0m-2-7h0m-14-3h0m-1 16h0m-6 0h0m-359-16h0m-8-1h0m-2-5h0m0 2h0m-24 5h0m-1 8h0m-1-12h0m-3 19h0m-4 5h0m-12-19h0m0 8h0m-4 4h0m-5 5h0m-8 0h0m-27 0h0m-38 27h0m9-2h0m7-5h0m1-1h0m8 11h0m11-2h0m10-22h0m4 25h0m6-16h0m29-4h0m405 1h0m5-7h0m13 16h0m6-8h0m0 8h0m12-12h0m-11 32h0m-1 1h0m-15 9h0m-6 11h0m-4-5h0m-10 1h0m-461-8h0m-8-6h0m-5 0h0m-1-5h0m-8 5h0m-30 11h0m-4-4h0m-20 18h0m4 10h0m9-12h0m0 14h0m1-16h0m6 2h0m2 18h0m2-1h0m1-3h0m10 13h0m483 0h0m3-3h0m7-20h0m0 6h0m0 5h0m3-9h0m6 12h0m2-9h0m0 1h0m0 11h0m1-2h0m5 5h0m7-13h0m-7 31h0m-26 11h0m-3-11h0m0 6h0m-4-7h0m-1-6h0m-7 17h0m-179-1h0m-12 2h0m-3-14h0m-8-6h0m-2 11h0m-7-12h0m-1 18h0m-8-12h0m-7 0h0m-7-4h0m-2 13h0m-7 5h0m-7-16h0m-10 3h0m-7 13h0m-4 5h0m-6 0h0m-4-12h0m-1 3h0m-9-5h0m-3-1h0m0 7h0m-7 4h0m-6 2h0m-47-2h0m-17 4h0m-14-7h0m-1 2h0m-19 5h0m-39-12h0m0 2h0m-7 4h0m-4-2h0m-1-9h0m-2 0h0m-2 4h0m-2 4h0m-6 1h0m-5-20h0m-2 24h0m-10-10h0m-3 13h0m-5-21h0m-4 14h0m18 15h0m10 3h0m17 8h0m2 2h0m2-16h0m18 18h0m9-14h0m17-6h0m0 23h0m2 0h0m8-2h0m2-20h0m3 21h0m0 3h0m3-6h0m9 5h0m8-20h0m15-3h0m4 16h0m9-17h0m8 13h0m10 0h0m15 2h0m25-7h0m24-6h0m24 1h0m15-1h0m32 8h0m2 10h0m13-17h0m4 9h0m18-3h0m8 12h0m26-5h0m38 8h0m36-13h0m2 2h0m8 13h0m1-20h0m5 13h0m4-20h0m2 24h0m18-18h0m7 10h0m2-2h0m-28 22h0m-2-3h0m-4-2h0m-23 17h0m-8-13h0m-2 4h0m-7 2h0m-3 11h0m-3-17h0m0 1h0m-9 11h0m-29-11h0m-10 5h0m-3-1h0" stroke="#ff7f0e" stroke-width="19" stroke-linecap="round" fill="none"/><path transform="scale(.1)" d="M1267 8227h0m68-6h0m-232 55h0m-27 12h0m18 4h0m313 32h0m-363-14h0m-95 45h0m-51 39h0m-32 12h0m535 7h0m-9 24h0m-589 4h0m212 96h0" stroke="#ff7f0e" stroke-width="19" stroke-linecap="round" fill="none"/><path transform="scale(.1)" d="M1342 8262h0m-12 4h0m-69-6h0m-54 17h0m-18 16h0m35 10h0m6-19h0m75 24h0m30-12h0m3-3h0m37 36h0m-33-14h0m-83 3h0m-38-4h0m-13 17h0m-26-17h0m-44 18h0m-21-14h0m-108 45h0m62-16h0m11 10h0m48-17h0m26 22h0m14-11h0m33-7h0m108-3h0m23 29h0m-38 2h0m-49 6h0m-44 1h0m-47 11h0m-17 1h0m-19 4h0m-1-21h0m-12-2h0m-86 13h0m-111 38h0m13 6h0m36-1h0m38 0h0m1-7h0m32-5h0m6-1h0m34-4h0m182 14h0m25-3h0m11-18h0m9 11h0m57 1h0m-29 34h0m-71-1h0m-67 9h0m-10-19h0m-41 15h0m-43-20h0m-111 21h0m-22-13h0m-119 36h0m17-18h0m97 29h0m42-14h0m8-10h0m95 6h0m27-4h0m18-5h0m38-2h0m4 14h0m77-13h0m0 15h0m19-10h0m54 1h0m-14 31h0m-22 19h0m-3-5h0m-25-15h0m-72-5h0m-11 9h0m-10 15h0m-46-1h0m-5-15h0m-13 12h0m-7-11h0m-60 7h0m-57-2h0m-11-16h0m-12 11h0m-23 10h0m-4-6h0m-25 11h0m-23 11h0m303 16h0m50-11h0m24-9h0" stroke="#fff" stroke-width="11.5" stroke-linecap="round" fill="none"/><path transform="scale(.1)" d="M782 8546h0m11-8h0m7 2h0m7 7h0m7-6h0m13-11h0m24-7h0m13 24h0m16-10h0m0 6h0m4 0h0m25 0h0m4-1h0m0 1h0m17 3h0m11 0h0m17 3h0m34 21h0m-12 3h0m-4 2h0m-1-4h0m-1 5h0m-21-26h0m-1 15h0m-1-4h0m-5-1h0m-3-6h0m-44 21h0m-1-19h0m-10 7h0m-2-3h0m-5 1h0m-1 14h0m-9-21h0m-4 12h0m-3-1h0m0 8h0m-3-4h0m-7-10h0m0 6h0m-1 10h0m-5-9h0m-8-13h0m-2 10h0m-21 2h0m-22-3h0m-3 10h0m-1-10h0m-6 6h0m-4-14h0m-9 7h0m-6-11h0m10 32h0m16 13h0m0 4h0m7 0h0m14-10h0m21 18h0m3 1h0m4-2h0m21-21h0m14-1h0m12 22h0m10-24h0m5 22h0m0 5h0m1-21h0m0 15h0m6-18h0m4 19h0m2-5h0m2-10h0m3-8h0m1 5h0m5 20h0m20-16h0m3 19h0m1-12h0m4 1h0m5-4h0m1-11h0m4 10h0m1 11h0m1-13h0m7 6h0m24-7h0m9-1h0m0 5h0m5 15h0m1-16h0m3 8h0m6 6h0m3-24h0m3 7h0m3 7h0m5 6h0m5 6h0m2 7h0m0 5h0m-5-2h0m-3 4h0m-13-4h0m-7 14h0m-2-18h0m-9 6h0m-13 12h0m-8 4h0m-8-9h0m-10 11h0m-9-10h0m-1-5h0m-1 3h0m-1-10h0m-5 13h0m-3-1h0m-1 9h0m-15-18h0m-6 8h0m-11-18h0m-5 0h0m0 28h0m-8-26h0m-1 2h0m-21-2h0m-19 23h0m-4-15h0m-6-7h0m-3-1h0m-2 24h0m-8-14h0m-7 9h0m-1-19h0m-12 1h0m-3 24h0m-4-1h0m-10-6h0m-4-13h0m-6-4h0m-5 12h0m-3 5h0m-3-2h0m4 17h0m5 1h0m13 3h0m0 8h0m9 8h0m50-19h0m12-2h0m0 3h0m6 10h0m6-5h0m1 17h0m12-29h0m12 24h0m4-16h0m8-7h0m0 2h0m6 14h0m0 2h0m8-14h0m0 18h0m9-21h0m12 16h0m4-14h0m0 24h0m4-22h0m0 20h0m12 2h0m1-4h0m12-8h0m5 13h0m31 11h0m-1-10h0m-5 1h0m-8 27h0m-3-18h0m-1 12h0m-4-11h0m0 5h0m-9 10h0m-6-24h0m0 4h0m-7 15h0m-2 0h0m-1-2h0m-3 2h0m-10-20h0m-1 25h0m-5-22h0m-3 19h0m-4 4h0m-11-1h0m-21-20h0m-5 22h0m-13-15h0m-7-13h0m-7 22h0m-12-5h0m-2-4h0m-5 5h0m-1-9h0m0 2h0m-2 5h0m-6-4h0m-3 11h0m-6-9h0m-7 9h0m-8-21h0m-3 3h0m0 11h0m-3 0h0m-4 6h0m-12 6h0m-2-16h0m-2 7h0m-2 7h0m-6-8h0m-1 7h0m18 6h0m10 4h0m0 5h0m4 17h0m1 0h0m7-22h0m10 14h0m9 4h0m3-1h0m30-21h0m2 7h0m5 2h0m18 7h0m23 1h0m15 4h0m13-9h0m4-5h0m2-8h0m13 14h0m4 5h0m3-19h0m-3 38h0m-12 16h0m-3-10h0m-1 8h0m-2-4h0m-5-2h0m-5 5h0m-1-2h0m-4 8h0m-12 0h0m-7-14h0m-5-12h0m-16-1h0m-3 18h0m-3-16h0m-5 20h0m-6 4h0m-1-6h0m-13 9h0m-3-15h0m-12 6h0m-1-18h0m-16 21h0m-8-5h0m-12-12h0m-2 17h0m-21 33h0m4-22h0m5 12h0m5-16h0m8 13h0m4-7h0m12-2h0m5 17h0m6-17h0m10-1h0m6 16h0m32-10h0m7 18h0m9-27h0m6 15h0m8-15h0m5 8h0m4 1h0m7 8h0m2-6h0m2-2h0m2-3h0m-10 47h0m-3-21h0m-17 24h0m-7-19h0m-27 10h0m-2-17h0m-9 10h0m-2-2h0m-32 2h0m-12 14h0m-1 2h0m-10-6h0m-4-1h0m-1-5h0m-3-6h0m-30 45h0m1-7h0m5-4h0m20-2h0m6 12h0m10-22h0m5 16h0m11-10h0m5 9h0m6 8h0m5-6h0m2-16h0m8 22h0m1 5h0m8-5h0m9-3h0m10 9h0m5-8h0m11 4h0m0 2h0m1-3h0m3-11h0m0 4h0m4-10h0m11-2h0m8-4h0m1 20h0m3-18h0m0 7h0m1 13h0m4-20h0m2 5h0m6 3h0m1 16h0m5-17h0m14 42h0m-12 3h0m-10-15h0m-3-9h0m-9 23h0m-3-4h0m-10-5h0m-4 13h0m-11-21h0m0 1h0m-4 0h0m-3 10h0m-1-14h0m-1-1h0m0 10h0m0 4h0m-3 3h0m-23-2h0m-5-15h0m-6 7h0m-3 5h0m-9-4h0m-21-10h0m-2 23h0m-1-15h0m0 12h0m-6 7h0m-2-5h0m-12-2h0m-3-11h0m-2 1h0m-1 5h0m-2-13h0m-1 13h0m-7-13h0m-3 6h0m-5 8h0m-11-4h0m5 17h0m1 7h0m4 14h0m5 8h0m5-15h0m8-7h0m2 20h0m1-24h0m11 3h0m1 10h0m8 2h0m5-1h0m23-4h0m7 11h0m3-17h0m3 19h0m3-6h0m1 7h0m14-16h0m3 10h0m6-4h0m1-7h0m20 5h0m2 7h0m41 3h0m12-23h0m4 0h0m0 20h0m6-5h0m3 4h0m4-20h0m2 14h0m10-12h0m16 7h0m9 13h0m8-1h0m-1 31h0m-1 1h0m-4-15h0m-17 14h0m-3-4h0m-3 5h0m-3-6h0m-5 3h0m-4-14h0m-1 20h0m-5-12h0m-1 1h0m-16-8h0m0 3h0m-9 10h0m-19-18h0m-26 21h0m-12-8h0m-1-12h0m-2 11h0m-1 3h0m-5-5h0m-19 0h0m-6-9h0m-1 8h0m-8-9h0m-1 1h0m-9 8h0m-3 11h0m-11-17h0m-10-3h0m-7 20h0m-1 2h0m-4 2h0m-7-19h0m-4 3h0m-4-10h0m6 45h0m8 3h0m16 10h0m5 0h0m39 0h0m11-20h0m8-8h0m9 19h0m4-4h0m7 0h0m1-6h0m13 4h0m4-7h0m5 3h0m0 18h0m4-16h0m5-7h0m1 1h0m0 4h0m19 12h0m2-7h0m11 5h0m2 3h0m12-16h0m26-2h0m1-5h0m1 24h0m10-21h0m2 21h0m22-15h0m0 2h0m-16 31h0m-8 3h0m-4-10h0m-2 12h0m-9-9h0m-8 21h0m-1-21h0m-3 7h0m-2-13h0m-7 6h0m-2 3h0m-7 14h0m-4-20h0m0 7h0m-16 3h0m0 13h0m-11-5h0m-8-16h0m-2 5h0m-5 13h0m-2-21h0m-6 1h0m-4 7h0m-1 4h0m-3-2h0m-5 1h0m-3-15h0m-7 24h0m-2-6h0m-3-4h0m-2 12h0m-20 3h0m-2-22h0m-6 3h0m-42-6h0m-2 10h0m-13-8h0m25 26h0m30 5h0m15 12h0m27 5h0m1-3h0m3 0h0m13 8h0m5-13h0m3 10h0m2-19h0m6 22h0m3-4h0m7-18h0m17 20h0m3-4h0m4-20h0m5 0h0m3 19h0m1-17h0m0 10h0m12-9h0m12 9h0m5 5h0m2-20h0m0 18h0m2-6h0" stroke="#2ca02c" stroke-width="19" stroke-linecap="round" fill="none"/><path d="M81.5 869.6 81.5 872.1 80.9 874.2 80.7 876.1 81.1 879.1 82 880.5 82.8 882.5 82 884.7 81.7 886.4 82.5 890.2 82.7 892.1 83.3 893 84.6 895.6 86.6 896.4 87.1 897.6 90.1 898.3 91.2 899.2 94 900.2 96.6 898.5 97.7 897.2 100.6 897.9 100.6 896.3 100.9 893.2 101.1 891.3 98.9 889.9 96 889 95.5 889 92.8 887.5 93 885.5 91.8 883.2 93.2 881 92.4 878.2 93.3 877.2 92.9 874.4 94.3 871.3 94.1 868.9 92.9 867.5 91.8 865.4 90.2 865 88 864.2 87.6 865.6 84.6 866.3 82.7 868.3Z" fill="#2ca02c"/><path transform="scale(.1)" d="M909 8617h0m-4 10h0m-18 3h0m-3 9h0m-4-8h0m-3 3h0m-5-4h0m-37 38h0m1 1h0m7-1h0m2-6h0m2-9h0m5 2h0m5-11h0m4 18h0m5-13h0m9 3h0m19 1h0m5-13h0m14 24h0m2-16h0m4-6h0m4 10h0m0 7h0m1-3h0m37 37h0m-5 6h0m-4-13h0m-11-7h0m0 15h0m-115-9h0m-9 1h0m-12 10h0m-6-6h0m-1-9h0m-8 18h0m10 15h0m13 0h0m118 6h0m3-1h0m2-9h0m4 1h0m4 8h0m7-19h0m4 25h0m-3 33h0m-2-20h0m-1 0h0m-6-7h0m-6 3h0m-1 22h0m-12-9h0m-98-12h0m-1 19h0m-5-19h0m-6 5h0m0 11h0m-13-5h0m-2-4h0m-3 25h0m1 6h0m1 2h0m2-5h0m5 10h0m6-11h0m3 15h0m2-23h0m3 1h0m5 2h0m1 15h0m124-13h0m1 28h0m-2 23h0m-5-15h0m-2-2h0m-13-1h0m-3 0h0m-3 13h0m-91-1h0m-10-18h0m-12-3h0m-2 12h0m-3-9h0m-1 15h0m-7-12h0m7 46h0m7-15h0m3 11h0m4 8h0m2-18h0m94-5h0m2 4h0m2 2h0m3 5h0m16-3h0m6 10h0m2-6h0m26 41h0m-25-12h0m-4 2h0m0 7h0m-9 0h0m-6-8h0m-10 4h0m0 2h0m-81-7h0m-13 10h0m-2-20h0m-5 11h0m-4 10h0m-2 9h0m1 21h0m4-12h0m3 10h0m3 3h0m7 3h0m2-10h0m2-17h0m0 2h0m2 15h0m3-19h0m99 3h0m23 17h0m7 3h0m13-15h0m5-4h0m3-3h0m8 26h0m3 1h0m35 19h0m-1 4h0m-3-12h0m-1 8h0m-3-6h0m-4 15h0m-8-4h0m-13 6h0m-165-2h0m-4-22h0m0 25h0m-8-15h0m-3 1h0m-3 10h0m-4-11h0m4 18h0m4 6h0m2-1h0m18 6h0m0 15h0m5-16h0m12 10h0m8 3h0m11 1h0m121 3h0m3 0h0m13-7h0m5-19h0m4-1h0m5 25h0m9-3h0m-6 11h0m-17 3h0m-10 19h0m-5-3h0m-21 0h0m-2-9h0m-4 2h0m-2-3h0m-1 6h0m-7-14h0m-9 4h0m-2 4h0m-1 5h0m-4-1h0m-33 10h0m-6-17h0m-7-1h0m0 10h0m-4-3h0m-19-15h0m-20 4h0m-16 1h0m61 23h0m10 2h0m2 17h0m5-8h0m1 7h0m3 1h0m12-14h0m13-5h0m12 0h0" stroke="#2ca02c" stroke-width="19" stroke-linecap="round" fill="none"/><path transform="scale(.1)" d="M874 8607h0m-9 17h0m-66 51h0m185 197h0m-184 21h0m-6 29h0m5 43h0m243 34h0m-182 8h0m111 13h0" stroke="#2ca02c" stroke-width="19" stroke-linecap="round" fill="none"/><path transform="scale(.1)" d="M879 8666h0m60 26h0m-24 2h0m-4 3h0m-5 10h0m0 14h0m2 6h0m18-17h0m2 9h0m-8 17h0m-100 41h0m88 9h0m8 7h0m-33 2h0m-53 34h0m95 6h0m-67 29h0m-5-7h0m-5 35h0m26 3h0m41-9h0m48 9h0m41 40h0m-19-13h0m-53 0h0m-21-1h0m-23 16h0m-22-5h0m-1 5h0m33 31h0m9-6h0m41-20h0m42 36h0m-80 6h0" stroke="#fff" stroke-width="11.5" stroke-linecap="round" fill="none"/><path d="M32.4 911.6 32.8 914.1 33.1 915.4 35.3 916.4 36.5 917.8 38.8 919.4 39.7 921 42.9 920.7 45.4 922.1 46.5 922.4 48.8 922.2 51.2 921.8 53.2 921.4 56.3 921.4 58.1 919.5 59.7 919.5 62.2 918.8 64 917.6 66.3 916.9 68.9 916.5 70.2 915 72.1 914.3 75.3 915.1 76.9 913.2 78.9 913.6 81.3 911.2 80.9 909.1 81.8 907.2 82.1 905 79.8 905.2 77.7 905.7 76.5 904.8 73.8 903.7 72.3 905.2 70 904.9 67.7 905.2 64.6 904.4 63.7 905.4 60.5 905.2 57.8 904.7 56 906.2 53.7 906.4 51.8 905.2 50.4 905.9 47.2 908 44.6 908.2 42.5 908.8 40.7 909.6 38.2 909.6 37.1 910.2 34.2 910.4Z" fill="#8c564b"/><path transform="scale(.1)" d="M607 9026h0m29 3h0m14-4h0m15 1h0m6 1h0m4 0h0m9-3h0m19 5h0m32-5h0m110 22h0m-3-3h0m-7 12h0m-9-16h0m-2-2h0m-17 11h0m0 9h0m-1 2h0m-7-6h0m-2-3h0m-18-17h0m-45-2h0m-16 16h0m0 4h0m-1-5h0m-3-13h0m-7 0h0m-2 21h0m-5-16h0m-8 16h0m-2-10h0m-37-7h0m-7-7h0m-31 28h0m-3-28h0m-4 12h0m-3-11h0m-4 17h0m-1-8h0m-2 19h0m-34-24h0m-1 3h0m-14 10h0m-6 1h0m-8-3h0m-11-3h0m-11-3h0m-2 14h0m-6-2h0m-32 5h0m-5-4h0m-73 26h0m0 4h0m16-4h0m1-8h0m20-4h0m1 12h0m1-12h0m13 10h0m11-7h0m2 2h0m18-12h0m2 19h0m1 5h0m23-9h0m8-11h0m8-3h0m11 8h0m11-2h0m13-6h0m3 6h0m24-6h0m18-1h0m210 20h0m10-14h0m16 3h0m1 4h0m4-8h0m-9 51h0m-13-16h0m-22 17h0m-370-21h0m-15-3h0m-7-2h0m-14 9h0m-17 6h0m-1 7h0m-18-8h0m-8-8h0m-8-7h0m-1 14h0m-2 1h0m-3 4h0m-5-11h0m-14 19h0m-9-6h0m6 13h0m1 6h0m3 1h0m3-7h0m2 5h0m1 15h0m7-24h0m13 16h0m367 9h0m22-5h0m4 4h0m27-7h0m25 0h0m3-5h0m4 10h0m5 0h0m19-13h0m1 14h0m1-22h0m-47 33h0m-12-2h0m-2 6h0m-6-1h0m-1-7h0m-35 3h0m-2 17h0m0 5h0m-14-18h0m-26 18h0m-2 1h0m-1-6h0m-11-9h0m-2 1h0m-7 11h0m-27 4h0m-245 0h0m-12-4h0m-17-12h0m-1 18h0m-2-11h0m-12-3h0m-10-8h0m0 1h0m-7 17h0m-5-23h0m39 33h0m1 3h0m23-6h0m7 17h0m9-14h0m0 14h0m6 7h0m13-2h0m45 5h0m14 0h0m86 0h0m9-18h0m7 7h0m21-5h0m3-2h0m0 3h0m30-9h0m9-4h0m9 5h0m11 0h0m7-4h0m20 0h0m1 5h0m-78 25h0m-1 1h0m-7 4h0m-30-7h0m-4 8h0m-8-6h0m-8 10h0m-2-10h0m-9 6h0m0 3h0m-1 12h0m-6-5h0m-3 10h0m-3-23h0m-4 6h0m-7 3h0m-3-3h0m-2-1h0m-1 1h0m-3 4h0m-1-4h0m-7-8h0m0 21h0m-5-2h0m0 4h0m-11-26h0m0 10h0m-1-1h0m0 4h0m0 16h0m-4-14h0m-4-3h0m-5-4h0m-5-6h0m-5 13h0m-6-12h0m-17 16h0m-28-1h0m-5-16h0m-5 5h0m114 27h0" stroke="#8c564b" stroke-width="19" stroke-linecap="round" fill="none"/><path transform="scale(.1)" d="M484 9029h0m254-11h0m51 4h0m84 25h0m-450 10h0m-124 59h0m509 33h0m-479 35h0m257 55h0m-208-21h0m-6 2h0m80 28h0" stroke="#8c564b" stroke-width="19" stroke-linecap="round" fill="none"/><path transform="scale(.1)" d="M783 9057h0m-25-8h0m-215 8h0m88 11h0m57 1h0m3 19h0m25-25h0m14 11h0m49 12h0m14 20h0m-9 12h0m-132-14h0m-42 13h0m-16-24h0m-38 3h0m-53-3h0m-15 16h0m-4 1h0m-19-10h0m-22 14h0m-53 0h0m-22-12h0m-14 36h0m225 11h0m101-10h0m55 3h0m-163 33h0m-61-7h0m-15-18h0m-16 25h0m-75-2h0m-17-4h0m92 36h0m32-7h0m45 8h0" stroke="#fff" stroke-width="11.5" stroke-linecap="round" fill="none"/><path d="M48.2 927.1 48.9 929.3 50.6 931.3 51.4 933.4 53.8 934.7 56 936.3 57.1 937.4 58.6 938.5 61.9 938.6 64.4 939.6 65.4 938.7 68.3 939.5 70.8 937.6 72.7 936.3 73.3 936.3 76 934.3 77.9 933.2 77.8 930.8 80.1 929.6 82 928.2 82.1 925.9 83.7 923.7 85.2 922.6 85.4 919.7 86.7 918.6 87.9 916.9 88.3 913.4 88.5 912.1 90.2 909.8 90.1 907.8 87.1 906.8 86.2 905.4 85.8 906.7 84.1 909.5 83.1 910.6 81 911.7 79 913.1 76.5 914.9 75.5 916.8 73.7 917.5 72 918.6 68.3 918.5 67.6 919.5 65.2 920 62.3 921.2 60 921.1 59.2 922.6 56.9 923.3 55.5 924.2 53.3 925.7 49.9 926.4Z" fill="#d62728"/><path transform="scale(.1)" d="M899 9057h0m-9-8h0m-1 5h0m-2-6h0m-1 4h0m-1 6h0m-2-21h0m-2 5h0m-7 4h0m-15-13h0m-1 26h0m-1-16h0m-4-7h0m-2 8h0m-4 11h0m0 3h0m-25 28h0m2-6h0m24-16h0m2 21h0m19-24h0m1 11h0m10-5h0m30 18h0m3-19h0m4 14h0m2-4h0m-18 27h0m-2 5h0m-6-18h0m-57 25h0m-5-20h0m-3 0h0m-2 9h0m-42 13h0m-32 20h0m22-10h0m5 2h0m7 18h0m5-15h0m89-1h0m2 18h0m5-18h0m4 12h0m1-19h0m9 21h0m3 4h0m4-18h0m-17 38h0m-3-11h0m-7 10h0m-1 3h0m-8 6h0m-1 1h0m-103-20h0m-15-8h0m0 14h0m-10-11h0m-9 20h0m-3-2h0m0 6h0m-16-13h0m-2 4h0m-125 41h0m22-10h0m12-5h0m0 3h0m13 7h0m2-14h0m16 19h0m1-6h0m20-15h0m20 8h0m12 0h0m19-16h0m143 3h0m4-3h0m1 1h0m8 23h0m5-22h0m1 18h0m-22 15h0m-3 3h0m-2 4h0m-1 8h0m-3-7h0m-13 11h0m-5-4h0m-1-12h0m-3 8h0m-177-15h0m-17 0h0m-2-1h0m-11 11h0m-12-6h0m-16 5h0m-1 10h0m-3 7h0m-1-16h0m-11 13h0m-3-21h0m-4 6h0m-18 18h0m-1-16h0m-4 9h0m-1 9h0m-8-8h0m-42 17h0m4 16h0m6-11h0m11 15h0m35-12h0m31-15h0m1 0h0m232 11h0m1-12h0m3 5h0m28 6h0m7-10h0m-25 40h0m-10-6h0m-9 17h0m-10 1h0m-3-8h0m-5 12h0m-299 1h0m-6-12h0m-5 7h0m-2-11h0m0 3h0m-2-4h0m-6-6h0m-1-1h0m-10 3h0m14 27h0m1 6h0m7 15h0m4 2h0m3-15h0m4 15h0m8-11h0m1-10h0m3-2h0m7 16h0m0 3h0m250-3h0m5-12h0m1 17h0m0 4h0m3-10h0m14-13h0m8 0h0m17-1h0m-31 31h0m-7 6h0m-13 14h0m-3-14h0m0 6h0m-12-2h0m-13-1h0m-5 6h0m-174 2h0m-5 2h0m-15 4h0m-18-5h0m-5-14h0m-2 9h0m-18-15h0m29 29h0m20 15h0m5-14h0m17 15h0m0 7h0m2-14h0m16-1h0m10 11h0m27 3h0m27 1h0m21 1h0m17-11h0m37-10h0m4 0h0m19 4h0m6-9h0m7-1h0m-49 41h0m-13-5h0m-1 11h0m-11-15h0m-2 24h0m-4-25h0m-4 17h0m-5-1h0m-3-13h0m0 3h0m-2 21h0m-2-16h0m-3-5h0m-2 15h0m-6-3h0m-22-11h0m-6 3h0m-48-2h0m-17-7h0" stroke="#d62728" stroke-width="19" stroke-linecap="round" fill="none"/><path transform="scale(.1)" d="M849 9029h0m-6 15h0m-44 44h0m-27 28h0m150 22h0m-40 85h0m-421 87h0m16 6h0m47 64h0m3-9h0m77 45h0m62 4h0" stroke="#d62728" stroke-width="19" stroke-linecap="round" fill="none"/><path transform="scale(.1)" d="M879 9101h0m-92 36h0m83 33h0m-21 9h0m-13-4h0m-29-20h0m-3 4h0m-12 11h0m-119 37h0m44-2h0m30-22h0m9 12h0m44-11h0m33 17h0m-112 9h0m-202 53h0m128-5h0m76 3h0m75 29h0m-8-17h0m-95 20h0m-15-4h0m-1 10h0m-5-29h0m-35 16h0m0 12h0m-9-22h0m-53 22h0m-63-20h0m208 31h0m14 5h0m-40 17h0m-54 13h0m-19-1h0m-14 11h0m-29 20h0m55 7h0" stroke="#fff" stroke-width="11.5" stroke-linecap="round" fill="none"/><path d="M36.6 902.9 37.9 905.2 40 905.6 43 906.9 45.2 907 47.1 906.5 49.1 904.8 50 905.3 53.3 904 54.8 904.3 57.6 903.6 59.5 902.7 62.3 902.4 64.2 901.8 65.4 901 68.8 902.2 70.7 902.4 73.1 902.5 74.8 900.7 75.8 899.3 78.8 897.7 77.3 895.6 77.1 894.4 76.9 891.5 76.7 889 73.4 889.5 72 887.6 69.2 888.6 68.2 888.9 65.6 889.3 64.2 889.7 61.9 889.8 60.5 892.3 58.8 894 56.6 894.5 55.3 895.8 52.5 896.9 50.7 899.8 49.2 900.1 46.8 899.8 44.8 900 41.9 898.9 40 900.2 39.2 902.6Z" fill="#1f77b4"/><path transform="scale(.1)" d="M733 8870h0m-2-2h0m-8-11h0m-6 19h0m-1-18h0m-2 7h0m-1-5h0m-1-7h0m0 8h0m-13 14h0m-91 17h0m9-7h0m0 9h0m17-3h0m3 5h0m14-3h0m2-9h0m1 9h0m1-5h0m9 10h0m9-13h0m13 0h0m9-2h0m2 2h0m1-2h0m31 6h0m22-8h0m3 22h0m2-22h0m1 14h0m0 9h0m5 3h0m21-12h0m5 4h0m2 6h0m4 14h0m-2 14h0m-7-21h0m-4 0h0m-5 11h0m-1 2h0m-3 9h0m-148-22h0m-19 15h0m-8 2h0m0 1h0m-2 0h0m-5-20h0m-13 8h0m-58 48h0m4-7h0m14-11h0m2 3h0m1-7h0m7 11h0m22-5h0m197-2h0m3-8h0m14 28h0m11-5h0m5 4h0m1-1h0m-4 8h0m-8 3h0m-1 8h0m-6 13h0m-4-13h0m-8-11h0m-5 20h0m-6 1h0m-13 0h0m-8-1h0m-214-1h0m-12-12h0m-2-7h0m-1 13h0m-10 9h0m-3 3h0m-1-27h0m-1 2h0m-31 11h0m-7-4h0m0 8h0m-1-17h0m-12 12h0m-2-1h0m-7 0h0m-9 8h0m-7-19h0m-7 11h0m-38 37h0m1-1h0m1-6h0m2 10h0m5-18h0m6 10h0m9-11h0m4 20h0m12-18h0m24-2h0m143 23h0m5-4h0m0 1h0m0 5h0m11-7h0m0 3h0m20-11h0m2 13h0m6-8h0m3-3h0m46-8h0m4 12h0m6-6h0m19 5h0m4-8h0m8 15h0m9-1h0m13-14h0m11 17h0m1-3h0m5-7h0m1 2h0m4-8h0m-27 18h0m-3 7h0m-11-4h0m-18-1h0m-16 0h0m-8 4h0m-45-4h0m-1 7h0m-11-2h0m-5-5h0m-3 6h0m-24-7h0m-1 20h0m-23 6h0m-9-7h0m-14-19h0m-6 3h0m-9 24h0m-5-10h0m-8 1h0m-12 6h0m-8-11h0m-8 11h0m-56 3h0m-38-11h0m-4-3h0m-2 8h0m-9-14h0m-7-6h0m-2 6h0m-2-5h0m-3 11h0m-1 6h0m-5-3h0m-1-2h0m17 17h0m14 12h0m17 3h0m1-7h0m10 14h0m6 2h0m6-10h0m2 0h0m3-13h0m4 12h0m8-13h0m0 23h0m17-8h0m28-12h0m12 1h0m9 8h0m7-2h0m4-3h0" stroke="#1f77b4" stroke-width="19" stroke-linecap="round" fill="none"/><path transform="scale(.1)" d="M741 8849h0m44 20h0m-11-6h0m42 80h0m-26 63h0m-47 43h0m-83 0h0m-29-1h0m-1 4h0m-221 43h0" stroke="#1f77b4" stroke-width="19" stroke-linecap="round" fill="none"/><path transform="scale(.1)" d="M708 8879h0m-20 14h0m30 7h0m-68 39h0m-2-26h0m-35 5h0m112 31h0m25 26h0m-57 19h0m-20-2h0m-17 0h0m-89 0h0m-9-8h0m-9-8h0m-111 44h0m79-13h0m23-2h0m134 0h0m-200 53h0m-46-28h0m-42 0h0m72 30h0" stroke="#fff" stroke-width="11.5" stroke-linecap="round" fill="none"/><path d="M22.1 881.2 22.6 883.5 23.3 884.5 25.9 884.8 27.6 887.2 29.5 888.1 32.5 889.1 34.3 890.5 34.7 891.6 36.6 892.2 38.6 893.6 41.2 895.2 42.5 897.4 44.6 897 47.6 896.2 48.8 897.2 50.9 896.1 52 894.6 53.5 892.6 51.9 890.3 49.6 889.7 48 887.3 47.3 886.7 45.7 883.2 45.1 882.2 44.8 879.7 43.8 877.5 41.7 876.6 40.8 874.8 39.3 873.3 37.7 871.3 35.1 871.2 32.7 870.5 31.6 870.7 28.7 872.8 27 872.7 25.4 875.5 24 877.3 24.6 878.7Z" fill="#e377c2"/><path transform="scale(.1)" d="M359 8691h0m-6 7h0m-13-1h0m-2-12h0m0 1h0m-26 7h0m-4 3h0m-37 32h0m5-3h0m1 3h0m5-17h0m0 9h0m3-11h0m10 18h0m5-15h0m0 14h0m5-9h0m10-17h0m8 2h0m1 15h0m7 4h0m28-10h0m3 12h0m12-16h0m27 12h0m34 38h0m-6-5h0m-6-1h0m-3-9h0m-3 14h0m-1-18h0m-126-2h0m-18 7h0m-4 5h0m-10-17h0m-4 20h0m-2-5h0m-2 3h0m-12 8h0m11 20h0m157-14h0m28 11h0m11 4h0m24 33h0m-7-11h0m-4 8h0m-3 10h0m-3-11h0m-8-8h0m-8-2h0m0 2h0m-201 9h0m-9-15h0m-11 18h0m-3 14h0m16 5h0m6 4h0m6-3h0m3 18h0m3-5h0m195-24h0m2 2h0m8 1h0m9 17h0m2-20h0m3 5h0m1 22h0m7-14h0m4 8h0m9 5h0m23 22h0m-10 1h0m-2-6h0m-6-8h0m-6 5h0m0 5h0m-14 2h0m-3 7h0m-176-12h0m-3 11h0m-1-10h0m-2 6h0m-2 1h0m-9-2h0m-16-13h0m-2 5h0m0 11h0m-3-2h0m-9-7h0m-21-9h0m86 50h0m11-3h0m1-5h0m30 13h0m7-2h0m131-16h0m1 7h0m14-8h0m1 4h0m1 0h0m1-8h0m8 10h0m24 6h0m16 34h0m-4-12h0m-2 5h0m-2-17h0m-1 16h0m-9 11h0m-7-5h0m-4-13h0m0 19h0m-8-1h0m-13-27h0m-135 26h0m-14-16h0m-6-1h0m-2-7h0m-1 5h0m-35-8h0m-1 0h0m48 35h0m1-2h0m12-3h0m1 2h0m8 6h0m1 8h0m4 5h0m0 1h0m1-16h0m10 22h0m17 1h0m1-23h0m22 12h0m5 4h0m30-2h0m31-1h0m2 3h0m16-8h0m7 7h0m-21 20h0m-11-9h0m-7 1h0m-1 12h0m-1-10h0m-8 13h0m-4-3h0m-2 2h0m-14 2h0m-3-5h0m-14-10h0m-7 7h0m-10-7h0m-2 9h0m-6-12h0m-23 0h0" stroke="#e377c2" stroke-width="19" stroke-linecap="round" fill="none"/><path transform="scale(.1)" d="M452 8754h0m-232 2h0m-18 104h0m83 49h0m297 23h0m-11-18h0m-6 21h0m3 8h0m-43 41h0" stroke="#e377c2" stroke-width="19" stroke-linecap="round" fill="none"/><path transform="scale(.1)" d="M384 8744h0m-12-6h0m-65 47h0m75-12h0m62 45h0m-76 1h0m-21-28h0m-1 8h0m-13-8h0m-68 23h0m-6-17h0m150 48h0m18-5h0m7-14h0m-38 33h0m-6 12h0m117 52h0m-27-5h0m-24 16h0m-67-7h0m-5-4h0m-1-7h0m46 40h0m46-10h0m19 12h0m3-6h0" stroke="#fff" stroke-width="11.5" stroke-linecap="round" fill="none"/><path d="M36.1 861.4 36.5 863.6 37.1 866.4 37.8 868.4 38.3 871.1 40.2 871.9 43 873.4 43.9 874.4 45.3 876.3 47.2 877.7 47.1 880.5 48.1 882.3 49.5 884 50.2 886.2 53.1 888.5 53.9 888.5 55 890.9 56.8 891.2 60.1 889.3 61.8 888.7 63.9 888.3 65.2 887 66.9 886.6 69.7 885.6 72.6 885.7 74.2 884.2 75.5 882.2 78.4 882.5 78.5 880 78.7 876.6 78 875.2 79.1 873.3 78.4 870.2 77.7 868.6 76 867.8 75.2 866 73 863.1 71.5 863.2 69.3 860.9 67.3 859.9 66 858.7 62.3 858.2 61 856.9 58.2 856.8 57.3 856.1 55.3 854.9 52 854.5 50.6 854.9 47.7 855.1 46.4 854.5 43.2 855.6 41.4 854.9 40.5 857.1 38 858.6 37.4 860.9Z" fill="#9467bd"/><path transform="scale(.1)" d="M410 8539h0m31-3h0m3 10h0m16-9h0m1 8h0m18-10h0m21 12h0m2-13h0m0 8h0m30 6h0m2-13h0m4 4h0m3-13h0m4 21h0m10-2h0m8-6h0m6 9h0m2-4h0m2 5h0m88 28h0m-32-9h0m-21 11h0m-1-15h0m-7 2h0m0 5h0m-2-10h0m-1-4h0m-1 6h0m-2-6h0m-14 2h0m-3 2h0m0 2h0m-2-8h0m-11 10h0m-8-2h0m-52-10h0m-6-1h0m-4-1h0m-44 9h0m-2-6h0m-18 7h0m-4-11h0m-2 3h0m-14 10h0m-16-13h0m-3 20h0m-4-16h0m0 19h0m-1 3h0m-11-3h0m-10 10h0m7 3h0m11 2h0m5 1h0m9-2h0m190-7h0m14 1h0m32 15h0m18-14h0m1 15h0m21-10h0m12 9h0m0 3h0m26 5h0m4 4h0m41 27h0m-3-2h0m-10-4h0m-6 4h0m-7 0h0m-1 2h0m-5-8h0m-2 0h0m-1-4h0m-4-8h0m-12 10h0m-6 0h0m-17-2h0m-11-11h0m-292 25h0m-4-3h0m-1-18h0m-3 4h0m-12-10h0m0 6h0m-1 19h0m-9-18h0m-5-1h0m5 34h0m4 17h0m1 2h0m2-6h0m2 4h0m15-20h0m0 9h0m1-7h0m1 3h0m2 9h0m330-19h0m27 16h0m32 0h0m2 11h0m3-5h0m-2 31h0m-5 3h0m-3-28h0m0 6h0m-2 1h0m0 14h0m-19-20h0m-353 0h0m-14 11h0m-14 8h0m-2-11h0m-1 1h0m4 25h0m0 1h0m27-6h0m24 12h0m5 1h0m0 1h0m3 7h0m357-1h0m5 5h0m10-9h0m10-12h0m0 4h0m1 7h0m-13 26h0m-4-7h0m-9 21h0m-312 1h0m-17-17h0m-3 7h0m-17-11h0m-3 3h0m-10 7h0m28 25h0m16 1h0m312 10h0m3-7h0m3-8h0m7 5h0m1-11h0m13 20h0m3 1h0m0 6h0m0 19h0m-14 7h0m-1-23h0m-21 26h0m-275-11h0m-7 11h0m-8-3h0m-2-9h0m-7-7h0m-1-6h0m-4 12h0m-5-7h0m-2-3h0m16 38h0m5 13h0m20-17h0m215 13h0m7 1h0m4-1h0m4 0h0m8 0h0m1-12h0m18 17h0m8 1h0m8-11h0m0 4h0m6 5h0m2-23h0m5 7h0m3 5h0m-33 21h0m-42 2h0m-9 14h0m-8-5h0m-4 9h0m-16-16h0m-6 17h0m-1-14h0m-1 17h0m-129-7h0m-1-2h0m-20-18h0m-4-1h0m-1 8h0m-6 16h0m-1-20h0m-4 19h0m0 1h0m-8-1h0m22 16h0m9 4h0m6 9h0m1-22h0m22 14h0m0 5h0m14 8h0m17 0h0m16-11h0m1 0h0m9-4h0m4-10h0m3 19h0m10-13h0m13 12h0m22-16h0m16 0h0m-102 45h0m-6 0h0m-5 7h0m-2-13h0m-11 9h0m-2-15h0" stroke="#9467bd" stroke-width="19" stroke-linecap="round" fill="none"/><path transform="scale(.1)" d="M366 8547h0m166-26h0m11 2h0m85 33h0m-257-6h0m385 75h0m6 15h0m-412 62h0m470 14h0m12 3h0m-368 118h0m329 0h0" stroke="#9467bd" stroke-width="19" stroke-linecap="round" fill="none"/><path transform="scale(.1)" d="M566 8560h0m-24-3h0m-6-1h0m10 47h0m29-8h0m25 13h0m57 8h0m-15-4h0m-78-2h0m-23 17h0m-6 4h0m-29-1h0m-1-8h0m-130 10h0m-8-7h0m4 17h0m19 14h0m85 10h0m25-16h0m35-5h0m164 19h0m-30 15h0m-110 14h0m-16-18h0m-38 19h0m-42-15h0m-14-7h0m-34 18h0m-11-9h0m-9-1h0m36 22h0m32 21h0m10-23h0m80 25h0m11-3h0m16-22h0m46 3h0m138-1h0m-8 44h0m-81-12h0m-72 18h0m-101 0h0m-3 6h0m-34-22h0m-19 13h0m45 21h0m0 3h0m7 5h0m76 8h0m35-20h0m52 12h0m66-4h0m-116 22h0m-107 4h0m-23 1h0m42 21h0m15 10h0m14-5h0m84 13h0m50-8h0m4-11h0m-143 35h0" stroke="#fff" stroke-width="11.5" stroke-linecap="round" fill="none"/><path transform="scale(.1)" d="M427 8665h0m70 1h0m211 32h0m-59-8h0m-3 5h0m-6-13h0m-82-1h0m-4 16h0m-15-22h0m-9 9h0m-16 8h0m-14-13h0m-22 4h0m-51 0h0m32 27h0m21 8h0m31 5h0m7 1h0m68-1h0m19-12h0m10 8h0m4-12h0m9 22h0m7-4h0m8-7h0m17 4h0m1-21h0m63 0h0m-42 52h0m-7 4h0m-5-17h0m-5 10h0m-16-18h0m-5 13h0m-15 11h0m-31-4h0m-2-14h0m-19 13h0m-18 8h0m-20-24h0m-1 2h0m-7-4h0m-14-2h0m-22 23h0m-33-21h0m-50 20h0m20 14h0m1 3h0m14-4h0m32 19h0m14-8h0m10 9h0m4-24h0m102 26h0m12-22h0m5 2h0m18 9h0m38 1h0m17-15h0m-34 50h0m-50-14h0m-18 14h0m-3 4h0m-6-20h0m-2 17h0m-19-8h0m-10-10h0m-22 11h0m-24 10h0m-14-12h0m-24-2h0m-5 13h0m-29 5h0m18 14h0m3 7h0m10-20h0m0 7h0m14 8h0m33 2h0m25-15h0m68 18h0m5-18h0m8 13h0m4 0h0m3-8h0m55 0h0m-10 38h0m-18-8h0m-2 1h0m-8-8h0m-4 5h0m-22-6h0m-59 3h0m-9 20h0m-2-18h0m-9 17h0m-28-10h0m-5-9h0m-9 20h0m-6-11h0m73 25h0" stroke="#e377c2" stroke-width="19" stroke-linecap="round" fill="none"/><path transform="scale(.1)" d="M357 8750h0m-46 6h0m-19-7h0m64 16h0m28 3h0m10-8h0m27 27h0m19-13h0m13-9h0m33 54h0m-34-18h0m-7-1h0m-11 2h0m0 7h0m-6-13h0m-59-4h0m-21 17h0m-7 4h0m-7-1h0m-16 29h0m19-20h0m32 23h0m13 0h0m12-19h0m1 8h0m43 5h0m56 11h0m-25 24h0m-23-17h0m-97 21h0m-31-17h0m-1 4h0m5 20h0m27 18h0m7-20h0m29 21h0m2-20h0m122 45h0m-164-12h0" stroke="#9467bd" stroke-width="19" stroke-linecap="round" fill="none"/><path transform="scale(.1)" d="M797 9040h0m-30-2h0m-5 16h0m-2-4h0m-46 7h0m-41 0h0m-137 1h0m-39-2h0m-107 12h0m29 15h0m39 4h0m66-8h0m63-1h0m20 2h0m11-7h0m90-11h0m69 15h0m-38 33h0m-68 4h0m-7-6h0m-21-1h0m-24 10h0m-25 0h0m-10-21h0m-20 7h0m-32 16h0m-9-18h0m-68 14h0m-53-5h0m-9 15h0m15 18h0m19-5h0m0 1h0m43-6h0m4 10h0m26-18h0m0 12h0m91 0h0m1-14h0m26 3h0m32-3h0m24 23h0m9-1h0m29-3h0m10-8h0m22 15h0m5-29h0m-3 42h0m-60 8h0m-44-15h0m-19 21h0m-14-8h0m-3 0h0m-84 0h0m-20-3h0m-6-5h0m-1 10h0m-48 4h0m-17-21h0m-7 7h0m-3 10h0m54 15h0m120-3h0" stroke="#1f77b4" stroke-width="19" stroke-linecap="round" fill="none"/><path transform="scale(.1)" d="M789 9041h0m-2 14h0m-48-6h0m-120 22h0m67-7h0m9 11h0m41 9h0m6-17h0m4-4h0m32 6h0m46 6h0m-65 38h0m-28-2h0m-33-16h0m-4 13h0m-10-10h0m-63 5h0m-77 9h0m-62-8h0m-10-6h0m23 39h0m26-13h0m7 25h0m64-22h0m47 6h0m32-10h0m72 12h0m14 12h0m18-9h0m4 9h0m12-21h0m11 26h0m-66 12h0m-10-3h0m-52 16h0m-50-5h0m-26 2h0m-19-14h0m-18-9h0m-6 1h0m-90 6h0m-5-6h0m132 37h0m29 12h0m32-6h0m23-6h0m-143 23h0m-6 18h0m-21 7h0" stroke="#d62728" stroke-width="19" stroke-linecap="round" fill="none"/><path transform="scale(.1)" d="M821 9167h0m-13-1h0m-9-4h0m-8-11h0m-17 23h0m-83-5h0m-72 5h0m41 32h0m43-1h0m48-13h0m26 36h0m-17 0h0m-65 4h0m-86 0h0m-12-20h0m-4 24h0m-12-14h0m-11-8h0m-27 2h0m11 45h0m7 1h0m26-22h0m28 24h0m12-20h0m76 21h0m-7 14h0m-88 15h0m-2-19h0m-17 24h0m-5-20h0m-7-1h0" stroke="#8c564b" stroke-width="19" stroke-linecap="round" fill="none"/><path transform="scale(.1)" d="M496 8845h0m5 1h0m68-9h0m38-5h0m75 0h0m42-3h0m11 46h0m-24-17h0m-98-2h0m-14-4h0m-4 24h0m-23-18h0m-88 20h0m-106-1h0m-7 32h0m27-28h0m65 20h0m12-2h0m69 7h0m1 1h0m18-4h0m2-12h0m8 17h0m34-11h0m4 9h0m4-6h0m20-11h0m30-2h0m1 7h0m38 16h0m-7 10h0m-12 17h0m-68-13h0m-54 13h0m-1-6h0m-13 0h0m-38-1h0m-11 8h0m-6-7h0m-43-12h0m-84 11h0m4 27h0m59-9h0m9 4h0m33-7h0m12-4h0m103 11h0m22 1h0m7 16h0m31-9h0m23-13h0m97 47h0m-27-22h0m-7 6h0m-1 8h0m-2 11h0m-16 2h0m-3-29h0m-110 17h0m0 9h0m-95-6h0m-3-3h0m-15-17h0m-35 20h0m-31-19h0m-23 0h0m-29 4h0m13 40h0m42 8h0m54-16h0m44-2h0m10-5h0m99 27h0m44 1h0m8 1h0m-5 5h0m-29 1h0m-63-1h0m-2-2h0m-5 0h0m-46 5h0m-35-3h0m-2 6h0m-15 14h0m-37-17h0m-73 5h0m73 18h0" stroke="#1f77b4" stroke-width="19" stroke-linecap="round" fill="none"/><path transform="scale(.1)" d="M778 8995h0m-100-10h0m-27 7h0m-5-4h0m-52 1h0m-20 1h0m-212 18h0m3 1h0m86 13h0m8-11h0m58 10h0m2-2h0m22-15h0m2 6h0m8-2h0m5 7h0m15-15h0m22 22h0m6-4h0m12-1h0m44-4h0m31 4h0m8-1h0m51-15h0m2 27h0m7-1h0m4-22h0m3 14h0m-36 12h0m-4 12h0m-43 12h0m-96-23h0m-25 7h0m-2 18h0m-46-5h0m-65-8h0m-3-1h0m-47-4h0m-13 1h0m-13 9h0m-15 10h0m-2-19h0m14 35h0m24-4h0m32 11h0m3-15h0m17 3h0m30-4h0m41 21h0m95-13h0m45-9h0m26-2h0m6 23h0m28-9h0m69-9h0m-17 41h0m-42-15h0m-24 15h0m-1-17h0m-60 8h0m-24-7h0m-17 17h0m-23-18h0m-3 5h0m-6-3h0m-26 18h0m-15 2h0m-8 2h0m-11-9h0m-13 3h0m-43-20h0m0 10h0m-7-3h0m-38-3h0m-50 8h0m9 18h0m51 2h0m20 5h0m36 6h0m80-10h0m36 26h0m6-16h0m46 16h0m5-23h0m21 4h0m0 18h0m72-9h0m15-19h0m43 6h0m-200 28h0m-72 3h0m-6 4h0m-27-7h0m0 25h0m-64-1h0m-23-25h0m-20 9h0m-15 14h0m40 6h0" stroke="#8c564b" stroke-width="19" stroke-linecap="round" fill="none"/><path transform="scale(.1)" d="M677 8842h0m15 4h0m47 20h0m-57 3h0m-6-19h0m-9 8h0m-35-3h0m-10 19h0m-25-5h0m-64-17h0m-1 18h0m-3-12h0m-28-1h0m-66 14h0m23 19h0m7 18h0m20-4h0m15-19h0m32-5h0m20 6h0m1 14h0m4-17h0m3 11h0m12-11h0m26 2h0m19 11h0m69-11h0m14-5h0m29 25h0m-39 16h0m-9 18h0m-9-7h0m-58-16h0m-34 12h0m-34 9h0m-32 1h0m-10-1h0m-11-19h0m15 30h0m193 19h0m4 29h0m-141-8h0m-5 8h0m-45-10h0m-27 17h0m12 5h0m25 16h0m50-15h0m0 9h0m153 10h0m6-2h0m35-5h0m1 23h0m-26 14h0m-12-14h0m-34 3h0m-8-6h0m-136-3h0m16 30h0" stroke="#9467bd" stroke-width="19" stroke-linecap="round" fill="none"/><path transform="scale(.1)" d="M301 8764h0m30 19h0m11 18h0m50 47h0m13-7h0m29 28h0m-49 10h0m-35-20h0m-29 39h0m11-17h0m50 14h0m38-15h0m61 28h0m16-17h0m8 35h0m-47 9h0m-5-3h0m-38-19h0m-16 4h0m-32 17h0m-7-14h0m-13 39h0m14-14h0m10 3h0m29-3h0m67 23h0m68-24h0m-117 47h0m24 10h0m62 7h0m91 39h0m-17 6h0" stroke="#e377c2" stroke-width="19" stroke-linecap="round" fill="none"/><path transform="scale(.1)" d="M436 8542h0m20-6h0m19 7h0m9-5h0m14 1h0m10 5h0m3-5h0m17 7h0m-57 8h0m-7-1h0" stroke="#2ca02c" stroke-width="19" stroke-linecap="round" fill="none"/><path transform="scale(.1)" d="M801 8573h0m-28-1h0m-33 5h0m17 16h0m11 0h0m4 31h0m-38-14h0m69 82h0m-1-21h0m-10 11h0m-7-6h0m-13 19h0m-19 8h0m15 5h0m44 28h0m-5-6h0" stroke="#2ca02c" stroke-width="19" stroke-linecap="round" fill="none"/><path transform="scale(.1)" d="M827 8536h0m2 6h0m41-8h0m1 7h0m34-7h0m33-3h0m35 11h0m40 7h0m37-15h0m-30 39h0m-176-8h0m5 23h0m23 2h0m41 14h0m26-20h0m64 1h0m17 7h0" stroke="#ff7f0e" stroke-width="19" stroke-linecap="round" fill="none"/></g>
<rect x="16" y="817.8" width="130.5" height="128.8" fill="none" stroke="#333" stroke-width="1"/>
<text x="79.2" y="958.9" font-size="10.8" text-anchor="middle" fill="#1a1a1a" >UMAP1</text>
<text x="13.1" y="881.1" font-size="10.8" text-anchor="middle" transform="rotate(-90 13.1 881.1)" fill="#1a1a1a" >UMAP2</text>
<text x="240.8" y="810.8" font-size="12.2" text-anchor="middle" fill="#1a1a1a" >stLearn (ARI=0.50)</text>
<g><path d="M173.3 855.9 174.5 858 175.4 860.1 177.2 861.7 178.7 864 178.9 865.4 181.7 865.9 183.6 867.3 185.7 868.2 186.5 870.4 188.8 871.5 191.1 871.5 192.9 873.1 195.1 874.2 196 874.8 198.9 875.3 200 876.8 201.7 878.2 203.9 880.1 205.1 881.9 207.3 882.7 208.4 883.3 211.2 884.7 212 885.4 215 884.8 215.8 883.2 216.3 879.7 216.4 878.6 216.2 875.6 215.3 873.6 215.6 871.4 215.4 869.9 213.9 866.9 214.3 865.5 213.6 862.5 212.8 861.5 211 859.6 207.9 860 206.3 861 203.8 861.3 201.1 860.1 200.2 860.7 198 860.3 195.6 858.4 193.9 858.2 190.7 857.7 189.2 857.6 186.8 856.7 185.8 856.9 182 854.7 179.7 854.3 177.6 855 176.1 855.6Z" fill="#9467bd"/><path transform="scale(.1)" d="M1727 8541h0m0 3h0m11 2h0m9-3h0m20 5h0m8-8h0m11-10h0m8 8h0m11 5h0m0 5h0m139 21h0m-4-1h0m0 5h0m-8 1h0m-28-1h0m-6-14h0m0 5h0m-5 3h0m-2 9h0m-3-19h0m-5 14h0m-2-14h0m-9 10h0m-5 11h0m-2-23h0m-6 14h0m-2 2h0m-6-21h0m-6 2h0m-3 5h0m-22 5h0m-49-11h0m-3 3h0m-5-2h0m-5 18h0m0 4h0m-2-12h0m-4 1h0m-14 0h0m-1-9h0m-1 8h0m-1 3h0m10 39h0m2-5h0m0 8h0m8-20h0m5 8h0m118-14h0m17 0h0m14 7h0m22 1h0m8-6h0m10 6h0m1-3h0m1 11h0m6 7h0m2 1h0m10-10h0m4 3h0m6 11h0m6-18h0m5-7h0m38 5h0m7 12h0m5-13h0m24 8h0m11-5h0m0 13h0m24 2h0m4-20h0m1 11h0m3-15h0m2 22h0m17-21h0m2 19h0m1-8h0m0 2h0m5 1h0m-5 16h0m-6 16h0m-52-18h0m-8 0h0m-38 4h0m-12-4h0m-3 0h0m-6 10h0m-1-10h0m-4 2h0m-22-1h0m-1 1h0m-174 24h0m-9 2h0m-9-3h0m-15-7h0m-16-18h0m7 30h0m32 12h0m5 0h0m6-12h0m17 17h0m1 4h0m1 4h0m10 1h0m296-1h0m1-7h0m3-5h0m25 45h0m-7-28h0m-2 2h0m-10 17h0m-253 2h0m-25-1h0m-3-1h0m-3-12h0m-2-2h0m-2 18h0m-32-10h0m-6-13h0m-4 3h0m35 30h0m28 3h0m20 4h0m9 18h0m1-21h0m13 15h0m4-1h0m2 0h0m4-5h0m221-11h0m6 4h0m9 2h0m11 8h0m5 8h0m1 26h0m-1-9h0m-13-12h0m-10 21h0m-163 3h0m-5-1h0m-2-8h0m-1 10h0m-11-22h0m-4 23h0m-2-15h0m-19 2h0m-2-1h0m-20-12h0m-9 1h0m-20-4h0m78 38h0m10-2h0m15 6h0m2 10h0m12-3h0m152-17h0m1 12h0m5 11h0m1-10h0m1 7h0m5-16h0m2 23h0m8 18h0m-10-17h0m-5 1h0m-1 23h0m-4-22h0m-6 24h0m-102-10h0m0 5h0m-9-6h0m-2 3h0m-2-3h0m-2-8h0m-3 17h0m-1-13h0m-1 4h0m-7 10h0m-6-19h0m0 11h0m-13-14h0m-2-3h0m34 38h0m7 4h0m3 3h0m18-9h0m1 5h0m4 13h0m17-7h0m13 10h0m1-8h0m19 7h0m26-2h0m4-5h0m5-18h0m12 11h0m2-5h0m-28 32h0m-24-8h0" stroke="#9467bd" stroke-width="19" stroke-linecap="round" fill="none"/><path transform="scale(.1)" d="M1796 8518h0m31 10h0m49 15h0m143 31h0m-56-9h0m-3-7h0m-233 47h0m465 150h0m-189 36h0m199 34h0m-84 57h0m30 7h0" stroke="#9467bd" stroke-width="19" stroke-linecap="round" fill="none"/><path transform="scale(.1)" d="M1825 8577h0m-19-2h0m-17-11h0m-11-7h0m-16 17h0m8 15h0m14 12h0m58 0h0m22 1h0m53-21h0m174 28h0m-2 28h0m-54-20h0m-42-2h0m-5-4h0m-39 8h0m-60-4h0m-49 13h0m-2 25h0m8 14h0m9-8h0m102 4h0m58-18h0m42 16h0m30 18h0m-70 12h0m0 5h0m-14-10h0m-58-8h0m-5-1h0m-2 18h0m-3 33h0m1-3h0m23 2h0m11 0h0m67-17h0m22-5h0m20-5h0m6 17h0m31 11h0m37 23h0m-117 6h0m-12-18h0m37 33h0m64 3h0m36 13h0m1-6h0m-33 22h0m-2-8h0m-12 5h0m-32 4h0m-2 3h0m-26 9h0m-16-18h0m24 21h0m25 8h0m34 7h0m21-12h0" stroke="#fff" stroke-width="11.5" stroke-linecap="round" fill="none"/><path d="M178 847.8 179.8 849 181.6 851 183.4 851 185.8 852.7 188.2 852.8 189.4 852.5 192.2 854.4 193.5 854.5 195.9 855.2 197.3 855.9 199.7 857 203.2 856.5 205.4 856.1 207.3 857.1 209.6 855.8 212.1 856.3 212.9 853.8 212.1 851.2 212.9 850 214 847.5 213.3 845.3 214 844 213.9 840.8 213.1 841.7 210.7 842.2 208.6 841.6 205.8 842.9 204 842 201.3 842.3 200.2 842.3 198.5 841.9 195.6 842.8 193 840.5 192.3 840.3 190.5 837.6 189.9 838.1 188.2 840 187.4 842.2 185.4 844.3 184.7 846.4 182.1 847.6 180.1 847.6Z" fill="#d62728"/><path transform="scale(.1)" d="M1901 8362h0m0 4h0m11-11h0m252 28h0m-6 2h0m-21 3h0m-4 1h0m-5 9h0m-3-8h0m-2 0h0m-11 3h0m-170 4h0m-23-9h0m-6-4h0m-12 9h0m-5-17h0m-4 6h0m-1-10h0m-26 27h0m-21 29h0m11-22h0m3-3h0m1 22h0m2-15h0m2 17h0m4-15h0m1 11h0m1-19h0m0 3h0m7-6h0m6 3h0m1-1h0m11 2h0m38 18h0m15-14h0m0 17h0m5-13h0m2 13h0m13-17h0m3 3h0m21 0h0m4 10h0m3-13h0m15 8h0m12-7h0m1 6h0m4-2h0m8-3h0m6 3h0m2 13h0m7-16h0m10 10h0m11-7h0m9 6h0m11 0h0m12 5h0m24-24h0m9 14h0m6-9h0m5 6h0m3 11h0m2-16h0m6 11h0m-3 33h0m-6-8h0m-5 16h0m-12-15h0m-6 15h0m-103-23h0m-24 1h0m-8-6h0m-2 2h0m-2 1h0m-7-4h0m-17 8h0m-14-6h0m-82 1h0m-19 24h0m-2-18h0m-15 15h0m-14-4h0m-5 6h0m-35 3h0m-28-7h0m11 14h0m5-4h0m0 11h0m6 13h0m7-21h0m17 4h0m10 1h0m3-7h0m12 14h0m303-17h0m11 12h0m1-12h0m3 7h0m0 12h0m6-11h0m0 18h0m5-26h0m-2 36h0m-12 0h0m-19-2h0m-230 21h0m-8-2h0m-10 0h0m-46-1h0m-1-6h0m-21 0h0m-3-15h0m0 8h0m0 9h0m-2-11h0m-6 12h0m-11-14h0m-3-4h0m18 31h0m5-1h0m25-1h0m14 0h0m19 18h0m11-10h0m9-2h0m3 15h0m10-18h0m0 18h0m1 0h0m6 8h0m1-26h0m7 14h0m10-2h0m3 8h0m4-1h0m1-4h0m1-1h0m14 3h0m1 2h0m178 4h0m6-5h0m6 25h0m-10 6h0m-22-19h0m-2 25h0m-6-23h0m-7 11h0m-5-6h0m-2 7h0m-4-3h0m-9-6h0m-11 9h0m-16-7h0m-4 6h0m-4 12h0m-13-19h0m-45-1h0m-16-6h0m0 13h0m-12-12h0m-11 9h0m65 23h0m23 5h0m14-6h0m10-3h0" stroke="#d62728" stroke-width="19" stroke-linecap="round" fill="none"/><path transform="scale(.1)" d="M1873 8350h0m309 24h0m-138 17h0m-88-13h0m-108 28h0m-86 43h0m21 60h0m-4 7h0m10 8h0m48 26h0" stroke="#d62728" stroke-width="19" stroke-linecap="round" fill="none"/><path transform="scale(.1)" d="M1884 8402h0m226 19h0m3-8h0m25-1h0m1 14h0m6-7h0m-6 33h0m-4-6h0m-45-5h0m-20 3h0m-240 33h0m12-6h0m37 17h0m22-15h0m7 8h0m22-5h0m2-8h0m130 3h0m48 13h0m-29 8h0m-11 22h0m-54-17h0m-53 22h0m-88-16h0m-51-5h0m101 28h0m60 13h0m17 6h0m9-21h0m33 20h0m16-21h0m9 21h0m1-6h0m16-1h0m3-17h0m-37 39h0m-1-3h0" stroke="#fff" stroke-width="11.5" stroke-linecap="round" fill="none"/><path d="M214.7 838.1 214.7 839.9 216.4 842.1 216 844 216.6 847.5 217.1 848.3 215.3 851.6 215.3 853.7 215.4 855.8 215.9 857.5 215.2 859 215.9 862.7 216.8 864 217.6 866.2 218.3 868.8 217.5 871 217.7 873.3 219 874.7 218.1 877.4 219.4 880.1 219.1 882 220.4 882.4 222.4 883 224.7 884.1 226.8 883.7 227.8 882.6 229.1 880.9 230.6 878.5 231.3 877.3 232.5 875.2 233.4 873 232.9 869.6 234.1 867.7 234.7 866.3 233.6 864.5 234.6 862.2 234.6 858.7 234.6 857.1 234.9 854.4 234.9 852.8 234.5 850.9 234.5 847.7 234.7 845.4 234.5 843.2 233 842 234.1 840.7 232.8 837.6 232 835.8 231.9 833.7 230.3 832.1 228.4 829 227.2 827.8 226.5 826.2 224.4 827.4 224 829 223.4 830.5 221.9 832.2 220.2 833.3 217.2 836.4 215.7 837.7Z" fill="#1f77b4"/><path transform="scale(.1)" d="M2244 8236h0m53 43h0m-31-11h0m-10 8h0m-16-4h0m-11-5h0m-4 9h0m-16 32h0m30-22h0m1 10h0m1-9h0m6-7h0m1 5h0m31 9h0m3-9h0m2-3h0m7 27h0m15-7h0m1-16h0m5 12h0m2 5h0m3 0h0m0 2h0m12 25h0m-7-18h0m-3-1h0m-9 3h0m-4 21h0m-1 4h0m-1-19h0m-16-9h0m-57 11h0m0 2h0m-1 5h0m-11-11h0m-2 0h0m-2 2h0m-1 4h0m-16 1h0m-4 8h0m-15 4h0m-8 1h0m-34 29h0m18-4h0m2-12h0m1 8h0m4 4h0m5 6h0m1-2h0m13-8h0m8-19h0m121 8h0m1-8h0m10 24h0m23 10h0m-14 16h0m-159-18h0m-8 10h0m-1-11h0m-5 12h0m-2 2h0m-1-6h0m-6 10h0m-1 6h0m-6-15h0m-2 18h0m-5 1h0m-3-2h0m-6-14h0m12 28h0m13-10h0m7 12h0m1-10h0m165-3h0m14 18h0m8-3h0m9-1h0m5 22h0m-17-3h0m-2 1h0m-167 11h0m-12-8h0m-3 49h0m20-15h0m158 1h0m6 10h0m8-20h0m1 7h0m2-3h0m8 35h0m-1-7h0m-11 20h0m-7-21h0m-9 9h0m0 14h0m-162-6h0m-3-16h0m-1-4h0m-3 2h0m0 16h0m-6 8h0m-3-13h0m0 5h0m-1 1h0m-2-8h0m0 4h0m-4 12h0m10 10h0m173 17h0m4-8h0m5 7h0m5-19h0m0 5h0m12 4h0m1 29h0m0 9h0m-2-6h0m-4-1h0m-3 15h0m-11 0h0m-3-12h0m-6-11h0m-166 0h0m-19 3h0m-1 19h0m-7-3h0m0 1h0m-4 2h0m7 6h0m6 25h0m3-9h0m9-12h0m3 12h0m174-5h0m5-14h0m0 7h0m7-3h0m5 19h0m7-18h0m1 19h0m-1 32h0m-9-10h0m-11 6h0m-162-1h0m-2-13h0m-3 7h0m-12 11h0m-5-25h0m-4 25h0m0 12h0m1 3h0m8 14h0m6-19h0m3 8h0m2-11h0m6 10h0m3 12h0m151-23h0m31 7h0m-1 32h0m-2 13h0m-5-3h0m-2-11h0m-16 6h0m-151-10h0m-1 3h0m-9-4h0m-16 12h0m19 36h0m9-22h0m4 24h0m142-8h0m0 10h0m15-2h0m1-8h0m2-16h0m2 10h0m-12 24h0m-3 15h0m-1 0h0m-1-8h0m-7 8h0m-4-5h0m-8 3h0m-1-2h0m-4-2h0m-148-12h0m20 56h0m118-17h0m8 5h0m8-13h0m2 7h0m19-11h0m-38 31h0m-3 6h0m-14 17h0m-83-14h0m-12-6h0m-7 16h0m-4 23h0m5 4h0m2-1h0m5-3h0m11 10h0m7 5h0m1 1h0m1-16h0m0 5h0m12 5h0m3-18h0m17 6h0m7 8h0m6-1h0m3-6h0m6 13h0m11-5h0m4 5h0m-24 8h0m-12 15h0m-9-10h0m-6 0h0m-9-6h0" stroke="#1f77b4" stroke-width="19" stroke-linecap="round" fill="none"/><path transform="scale(.1)" d="M2297 8260h0m-175 93h0m220 0h0m21 18h0m-11 2h0m18 57h0m0 10h0m9 141h0m-249 36h0m15 58h0m184 129h0m-167-13h0m-6 30h0" stroke="#1f77b4" stroke-width="19" stroke-linecap="round" fill="none"/><path transform="scale(.1)" d="M2260 8268h0m-7 2h0m16 23h0m3-11h0m21 39h0m-23-6h0m-3 0h0m-11 17h0m-22 0h0m-42 13h0m5 1h0m2 18h0m16-7h0m8 3h0m51-13h0m4 0h0m47 28h0m-8 2h0m-71 17h0m-7-9h0m-11-1h0m-2 12h0m-68-13h0m35 27h0m52 3h0m9-4h0m26 20h0m-4 2h0m-50 19h0m-2-16h0m-44 3h0m-5 11h0m-9-15h0m36 30h0m34 16h0m8 8h0m83 24h0m-13 4h0m-35-7h0m-9 3h0m-1-4h0m-11-13h0m-78 46h0m40-12h0m77 0h0m26 12h0m9 12h0m-88 13h0m-30-5h0m-29 19h0m29 24h0m36-23h0m64 46h0m-33 5h0m-63-5h0m-17-9h0m-2 13h0m-5 30h0m70-3h0m32-10h0m20 2h0m-116 28h0m1 29h0m67 23h0m21-18h0m37 7h0m-52 13h0m-38 1h0m-20 7h0m14 32h0m66 9h0m-31 28h0m-23-17h0m-1 17h0m-26 5h0m-20 10h0m41 18h0" stroke="#fff" stroke-width="11.5" stroke-linecap="round" fill="none"/><path d="M276.7 832.5 277 835.2 278 837.8 276.8 840 277.6 842.3 278.2 845.1 278 846.9 278.5 848.5 278.9 850.6 277.2 852.5 277.6 855.8 276.5 857.8 275.6 858.8 275.3 861.6 275.8 863.9 275.1 866 274.4 868.7 272.8 870.7 272.1 871.2 272 874.9 270.4 876.6 268.5 877.6 267.8 878.9 266.8 881.1 265.3 882.3 262.9 883.7 261.2 885.9 259.7 887.1 258.3 890 258.4 891.1 257.7 892.9 257.2 894.8 258.7 896.9 261 897.3 263.9 897.6 264.4 895.7 266.1 894.4 268.4 893.6 270.1 892.2 272.7 893 274.9 893.5 276.6 893.5 279.4 892.9 282.2 892.1 281.6 891.5 282.1 889.6 280.8 887 281.3 885.3 282.7 883.9 283.6 880.8 283.4 879 284.1 876.2 286.2 875.1 288.3 874.7 289.4 872.7 289.3 870.2 289.9 868.1 290.1 866.8 290.4 864.2 289.9 861.5 289.6 860.6 290.1 857.2 290.6 855.4 289.2 852.7 289.7 850.6 288.4 848.1 288.8 847.1 287.4 845 288.1 843.1 287.4 840.2 286.3 837.7 286.1 836.6 284.8 834.4 282.9 832.2 282.6 830.1 281.3 830.5 278.1 833Z" fill="#e377c2"/><path transform="scale(.1)" d="M2829 8279h0m-38 21h0m2-4h0m2 10h0m16 2h0m15-3h0m4-17h0m7 6h0m26 38h0m-16-16h0m-6 21h0m-10-12h0m-5-10h0m-13 1h0m-13 4h0m-9 3h0m-6-8h0m0 17h0m-14-7h0m-17 31h0m16-16h0m4 7h0m2 19h0m64-13h0m15-12h0m3 3h0m0 9h0m0 14h0m29 31h0m-1-11h0m-100 6h0m-9-1h0m0 6h0m-5-15h0m-13-12h0m0 20h0m0 28h0m0 4h0m5 3h0m13-21h0m0 11h0m7-5h0m0 16h0m4-4h0m73-13h0m1 2h0m2 10h0m14 5h0m12-27h0m6 42h0m-1 14h0m-4-23h0m-1 24h0m-7-23h0m-1 25h0m-8-17h0m-6-7h0m-2-4h0m-73 12h0m-2 8h0m-9-2h0m-5-15h0m-7 17h0m-5-12h0m-3 17h0m7 31h0m14-14h0m4-10h0m1 16h0m92 0h0m1-11h0m16 21h0m6-7h0m5 8h0m-1 18h0m-12-3h0m-1-7h0m-107 11h0m-2 9h0m-19-19h0m-7 15h0m6 18h0m14-6h0m1 4h0m109-4h0m2-4h0m4 26h0m7-7h0m-14 11h0m0 24h0m-107-13h0m0 2h0m-3 12h0m-5-20h0m-3 5h0m-7 4h0m-6 5h0m-6-10h0m-8 46h0m6-1h0m8-14h0m12 0h0m126 6h0m8 9h0m3-8h0m10 28h0m-6-1h0m-15 7h0m-134-7h0m-5-9h0m-8-3h0m-19 34h0m4 11h0m20 2h0m2-7h0m137-7h0m10 16h0m12-23h0m6 23h0m1 20h0m-7 5h0m-3-1h0m-5-8h0m-12-1h0m-2 11h0m-144-13h0m-7-4h0m-2 16h0m-2-12h0m0 16h0m-1-6h0m-4-15h0m0 12h0m-1-6h0m-16 14h0m-7 35h0m9-4h0m17-18h0m161 18h0m1-10h0m4 5h0m8 12h0m11-23h0m-5 40h0m-2-15h0m-4-1h0m-5 2h0m-15 24h0m-12-16h0m-4 4h0m0 5h0m-2-4h0m-18 12h0m-10 2h0m-123-15h0m-10-14h0m0 16h0m-7 6h0m-9 6h0m-29 24h0m12-7h0m9 10h0m23-19h0m3-3h0m2-3h0m116 22h0m7-2h0m7-17h0m6 5h0m11 17h0m1-10h0m19-13h0m-32 50h0m-7-16h0m0 5h0m-1 1h0m-12 4h0m-145-16h0m0 5h0m-24 9h0m-3-10h0m-4 13h0m-4 1h0m-6 10h0m-3-3h0m-30 31h0m18-9h0m1 2h0m19 2h0m3-18h0m1 1h0m2 20h0m3-22h0m158 11h0m5 3h0m1 4h0m21-7h0m5-6h0m-15 52h0m-7-14h0m-3-7h0m-7-8h0m-4 0h0m-4 9h0m-2 0h0m-157-8h0m-12-1h0m-11 19h0m0 4h0m-6 3h0m-34 1h0m-27 28h0m4-2h0m2-3h0m5-10h0m1 3h0m0 7h0m15-5h0m1 14h0m3-6h0m1-5h0m219 0h0m5-16h0m1 7h0m8 5h0m14-4h0m8 43h0m-5-1h0m-5 4h0m-4-20h0m0 7h0m-8 16h0m-17 0h0m-7-13h0m-4-5h0m-1 0h0m-7 3h0m-24 14h0m-1-14h0m-8 11h0m-33 1h0m-9-16h0m-5 2h0m-6 16h0m-4-13h0m-9 3h0m-3 0h0m-10-2h0m-13 9h0m-85-7h0m-1 10h0m-15-27h0m-1 3h0m2 37h0m11-2h0m2 5h0m2-10h0m0 19h0m0 3h0m1 0h0m5-16h0m5 14h0m29 0h0m3 1h0m1 1h0m11-6h0m13-10h0m1 4h0m4 3h0m15-7h0m0 2h0m2 3h0m1-8h0m5 11h0m6-6h0m14-2h0m30-9h0m33 11h0m15-11h0m3 17h0m62-18h0m-215 42h0m-25-8h0" stroke="#e377c2" stroke-width="19" stroke-linecap="round" fill="none"/><path transform="scale(.1)" d="M2813 8269h0m84 149h0m32 94h0m-181 7h0m-1-1h0m-10 13h0m198 32h0m-8 50h0m-204 11h0m210 38h0m-1 73h0m-16 18h0m-40 36h0m-231 6h0m195 94h0m-20 63h0m-206 54h0" stroke="#e377c2" stroke-width="19" stroke-linecap="round" fill="none"/><path transform="scale(.1)" d="M2768 8338h0m66 26h0m2 25h0m-6-15h0m-20 3h0m-36 10h0m15 23h0m77 16h0m0 27h0m-76 4h0m10 24h0m12-2h0m27-18h0m18 58h0m-18-22h0m-1-5h0m-34 27h0m9 8h0m36-4h0m0 3h0m13 17h0m30-11h0m2 43h0m-1-11h0m-84-14h0m-7 19h0m5 21h0m7 15h0m52-2h0m20 1h0m14-19h0m6 38h0m-75 5h0m-2-6h0m-6-6h0m-12 9h0m-9 14h0m-25-7h0m-28 32h0m4-19h0m50 24h0m24-29h0m41 18h0m3-14h0m5 34h0m-4 16h0m-64-1h0m-10-10h0m-7 11h0m-3 3h0m-4-21h0m-21-4h0m17 50h0m74-1h0m36-7h0m8 14h0m-9 4h0m-33 10h0m-55-8h0m-35 9h0m-39 10h0m42 16h0m4 11h0m13-7h0m37 21h0m-125 18h0m-10 5h0m68 3h0m38 7h0m19 11h0m-127 40h0m-41-9h0m-17 25h0m63-5h0m15 19h0m39-11h0m17 8h0m16 3h0m15-23h0m-54 44h0m-122-8h0m16 30h0m11 6h0" stroke="#fff" stroke-width="11.5" stroke-linecap="round" fill="none"/><path d="M257.3 833.7 256.7 836.3 255.9 837.5 256.8 840.1 257 841.8 257.6 843.6 257.4 846 257.5 849.3 256.1 851.7 257.4 853.5 256.7 855.3 255.8 857.8 255.7 859.6 256.4 862.7 256.1 863.7 254.3 866.5 254.8 868.7 253.9 870.4 252.8 873.5 252.9 873.9 251.7 877 249.7 879.5 250.1 880.4 247.5 883.3 247.7 884.1 245.7 887 245 888 247.6 889.9 248.7 893.2 249.1 893.7 251 894.4 252.8 896 254 892.9 255.2 891.6 255.9 888.9 257.3 886.9 258.4 885.2 260.4 885 261.4 883 263.9 880.9 264.7 879.9 265.4 876.8 267 876.3 268.2 873.5 269.7 872.9 270.8 869.5 269.9 868.5 270.7 865.1 272.5 862.7 271.8 861.7 273.8 859.9 273.2 857.8 274.9 855 275.3 853.5 275 851.3 275.1 849.3 275.4 846.8 275.5 844.4 275.6 841.7 275.8 839.2 276.5 836.8 275 834.9 274.5 834.1 273.2 831.4 271.1 830.1 269.8 831.5 267.3 832.1 264.5 833.5 263.4 834.5 261 833.8 259.5 833.7Z" fill="#8c564b"/><path transform="scale(.1)" d="M2716 8278h0m-61 31h0m31-2h0m11-12h0m2 1h0m3 1h0m0 3h0m7-1h0m8-5h0m3 9h0m1-8h0m3 2h0m11 2h0m19 28h0m-8 2h0m-2-17h0m-1 3h0m-2 12h0m0 7h0m-6-9h0m-14 7h0m-1-18h0m-3 1h0m-32 10h0m-3-2h0m-1-12h0m-6 15h0m-2-16h0m-38 20h0m-15 1h0m-12-3h0m-5-8h0m-12 7h0m-25 3h0m-14 6h0m-3-18h0m1 23h0m3 4h0m27 5h0m0 16h0m10-23h0m6-1h0m3 6h0m19-1h0m21-6h0m3-1h0m6 8h0m99 20h0m1-18h0m3 13h0m11-5h0m1-9h0m11 26h0m-2-3h0m-18 14h0m-4-14h0m-173 27h0m-1-21h0m-2 1h0m-7-1h0m-15 16h0m-2-8h0m21 41h0m3-27h0m0 25h0m3-1h0m1-24h0m173 14h0m3 8h0m1 6h0m2-7h0m9-5h0m10 26h0m-5 17h0m-1-21h0m0 6h0m-1 15h0m-5-11h0m-5-14h0m-13 14h0m-177 2h0m-1-10h0m-6 6h0m-2-1h0m-7 3h0m-2-1h0m-2-16h0m0 10h0m-1 4h0m4 37h0m16 3h0m10-22h0m173 11h0m4-12h0m6 0h0m10 32h0m-11-2h0m-3 18h0m-1-14h0m-17 12h0m-161-9h0m0 7h0m-5-5h0m-3 7h0m-1-4h0m-1 10h0m-14-22h0m-3 1h0m4 50h0m2 6h0m192-4h0m8-16h0m2-6h0m-9 31h0m-10-2h0m-11 9h0m-157-9h0m-2 10h0m-20 6h0m-4-4h0m0 14h0m-2 1h0m-3 14h0m1-9h0m1 11h0m0 4h0m7-11h0m6 3h0m14 1h0m147 5h0m9-7h0m2-1h0m3-2h0m1-5h0m7 16h0m-20 34h0m-1-12h0m-4-3h0m-2 6h0m-150-1h0m-1-3h0m-11 11h0m-11 33h0m1-4h0m7-12h0m0 11h0m2 0h0m2-18h0m10 19h0m4-10h0m137 18h0m6-20h0m1-6h0m1 8h0m10-3h0m6-4h0m0 17h0m3-13h0m2 11h0m-5 15h0m-3 5h0m0 15h0m-6 4h0m-9 1h0m-2-17h0m-14 5h0m-2 14h0m-127-27h0m-6 21h0m-4-9h0m-14-6h0m-3 6h0m-12 14h0m-6 29h0m12 2h0m5-25h0m4 19h0m1-12h0m2 16h0m7-20h0m139-5h0m0 9h0m0 1h0m3 7h0m2-9h0m3-3h0m0 5h0m3 4h0m17-16h0m-11 49h0m-2-17h0m-4 18h0m-9-18h0m-8 27h0m-3-22h0m-2-1h0m0 21h0m-11-6h0m-128-17h0m-1 1h0m-2 5h0m-8-9h0m-19 17h0m-20 25h0m5 15h0m20-3h0m6-19h0m122 21h0m12-24h0m12 7h0m3 17h0m5-17h0m9-1h0m4-4h0m-25 27h0m-4 9h0m0 1h0m-11-5h0m-4 14h0m-6-18h0m-2 5h0m-4-3h0m-11 24h0m-108-26h0m-14 25h0m-5-19h0m-9-7h0m-1 2h0m-4 24h0m-2-14h0m-7 10h0m-11 20h0m15 6h0m4-4h0m5 4h0m10-20h0m1 11h0m95 17h0m13-5h0m9-14h0m13-4h0m0 8h0m1-11h0m2 13h0m9-11h0m-58 49h0m-1-4h0m-7 9h0m-96-9h0m-2 6h0m-22 1h0m-8 19h0m4-13h0m3 19h0m12-9h0m6 9h0m4 5h0m1-12h0m4 3h0m72 12h0m2-21h0m4 13h0m4-9h0m-6 35h0m-1-11h0m-11-4h0m-11 27h0m-18-1h0m-29-28h0m-5 2h0m-2 26h0m-4-17h0m-1 15h0m-2-11h0m-4-4h0m-2 13h0m17 20h0m24-13h0m3 12h0m1 10h0m10-11h0m3-1h0m1 13h0m5-2h0m11 5h0m2-25h0m4 18h0m7-2h0m-19 14h0" stroke="#8c564b" stroke-width="19" stroke-linecap="round" fill="none"/><path transform="scale(.1)" d="M2550 8294h0m79 10h0m-94 18h0m1 151h0m255 30h0m-256 41h0m3 10h0m-16 67h0m205 68h0m3 15h0m-242 26h0m-7 39h0m219 8h0m-53 61h0m-75 127h0" stroke="#8c564b" stroke-width="19" stroke-linecap="round" fill="none"/><path transform="scale(.1)" d="M2707 8317h0m26 64h0m-13 17h0m-34-17h0m-23 5h0m-64 21h0m152-7h0m-50 36h0m-7 14h0m-15 3h0m-46-14h0m-65 29h0m63 13h0m44-6h0m19 2h0m24 3h0m2-9h0m12 19h0m-12 0h0m-124 20h0m10 30h0m17-20h0m62 15h0m16-4h0m29 35h0m-92-3h0m-11 4h0m-59-13h0m-6 19h0m118 34h0m-51 20h0m-69 19h0m125 39h0m-48-6h0m-34-6h0m-31 2h0m-13 16h0m135 20h0m-55 28h0m-16 12h0m-90 21h0m81-8h0m27 9h0m-30 22h0m-87 33h0m91-5h0m-91 35h0m14 53h0m-33 10h0" stroke="#fff" stroke-width="11.5" stroke-linecap="round" fill="none"/><path d="M233.7 836 234.4 836.9 236.1 839.2 237.5 842.1 236.4 843.6 237.9 846.7 236.7 847.9 237 850 236.9 852.9 237.2 855 237.4 856.6 239 860.1 237.5 861.9 239.1 864.3 237.8 866.2 238.8 867.9 237.7 869.9 236.3 872.5 236 874.4 236.3 876.4 235 878.8 233.8 880.3 231.6 882 230.4 882.9 228.3 883.4 225.4 884.7 224.5 887.7 226.5 888.2 229.4 886.6 231.6 886.3 233.7 887.8 234.7 889.3 236.1 890.8 238.2 891.1 240.8 890.1 241.4 889.1 242.7 887 244.1 884.8 245.3 883.4 246.5 882.3 246.3 880.2 247.8 877.4 248.1 875.9 249.6 874 250.2 872.2 250.6 870.2 251 867.6 252.2 865.7 252.5 862.6 252.5 861.1 254.1 858.2 253.6 856.9 253.3 854.5 253.2 852.3 254 849.3 253.5 847.8 254.5 845.4 253.9 843.9 254.5 841.3 253.4 839 253.5 836.8 252.8 833.4 252.5 832.3 249.6 832.4 248.6 831.4 245.6 831.9 244.1 831.9 241.1 830.9 239.9 831.8 237.6 833 236 835Z" fill="#ff7f0e"/><path transform="scale(.1)" d="M2411 8295h0m16 9h0m9 1h0m32 4h0m11-2h0m26 0h0m45 11h0m-12 11h0m-8 7h0m-1-14h0m-3-1h0m-1-10h0m-1 26h0m-4-19h0m-3-8h0m-2 27h0m-6-20h0m-13-7h0m-12 7h0m-2 8h0m-2-15h0m-12 0h0m-9 14h0m-1-3h0m-2 1h0m-10-5h0m-25 8h0m-11-9h0m-4 2h0m-10 14h0m-16-22h0m-15 29h0m-9-3h0m-29 5h0m0 10h0m7 17h0m9-5h0m2 5h0m2-17h0m2 8h0m5-14h0m9 3h0m23-8h0m158 16h0m4-8h0m4 2h0m0 7h0m-1 28h0m-184 11h0m-6-1h0m-5-8h0m-1 6h0m-6-14h0m-4 12h0m-4-2h0m-6-2h0m13 18h0m4 9h0m0 12h0m14-1h0m6-14h0m1 11h0m3-19h0m158 5h0m2-4h0m23 19h0m2 26h0m-8-17h0m-2 2h0m-12 10h0m-4-4h0m-3 3h0m-1 0h0m-2 3h0m-154 12h0m-1-19h0m-6 2h0m-10 6h0m3 33h0m3 6h0m1-24h0m7 19h0m155-12h0m9 3h0m18 0h0m4 16h0m0 1h0m-5 27h0m-12-3h0m-2-12h0m-11 0h0m-1 10h0m-1-12h0m-141 10h0m-9-19h0m-18 17h0m1 27h0m7 8h0m2-19h0m2 13h0m2 0h0m15-1h0m165 43h0m-2-22h0m-4 16h0m-1-19h0m-156 8h0m-4-1h0m-2 10h0m-13-13h0m-7 35h0m5-6h0m12 21h0m144-8h0m6-15h0m2 9h0m10-11h0m-4 32h0m0 25h0m-6-8h0m-4-4h0m-164 2h0m5 22h0m10 5h0m1 8h0m5-24h0m0 29h0m1-3h0m122-9h0m5-8h0m12 2h0m7 15h0m4-4h0m2-3h0m5-14h0m-7 32h0m-11-6h0m-7 14h0m-13-10h0m-113-3h0m-1 21h0m-9-11h0m-2-8h0m-4 5h0m-9-9h0m-20 59h0m10-18h0m2 16h0m9 2h0m5-3h0m1-9h0m2-14h0m114 26h0m6-15h0m2 7h0m10-14h0m3 10h0m5-1h0m-11 14h0m-8 4h0m-6 6h0m-19 7h0m0 1h0m-111-4h0m-8 0h0m-23 36h0m0 4h0m1 5h0m9-14h0m10-8h0m1 13h0m1-10h0m1 13h0m3-4h0m1 7h0m2-25h0m6 0h0m94 25h0m5-11h0m4 9h0m6-22h0m2 12h0m4-8h0m10 1h0m-13 26h0m-3 5h0m-4-8h0m-1 4h0m0 12h0m-3-5h0m-1 8h0m-113-15h0m-8 1h0m-9 1h0m-19 23h0m-1-29h0m-7 8h0m-3 0h0m0 12h0m-2 0h0m-5-9h0m-2 6h0m-2-1h0m-1 10h0m-37 19h0m0 5h0m4-1h0m6-1h0m4-6h0m2 8h0m11 9h0m1-29h0m1 15h0m0 4h0m0 7h0m2 3h0m1-7h0m2-19h0m19 9h0m128 13h0m7-15h0m3-6h0m11 12h0m7 12h0m3-25h0m-18 32h0m-8 18h0m-4-5h0m0 2h0m0 8h0m-2-24h0m-4 7h0m-1 4h0m-100 0h0m-3 3h0m-2-4h0m-8 11h0m-1-7h0m-27 1h0m-11-4h0m-9 2h0m-10-15h0m-1 3h0m-5-2h0m-2 1h0m-4 14h0m0 1h0m-3 5h0m-6-17h0m-3 8h0m-5 14h0m-1-12h0m-8 9h0m-8 7h0m1 7h0m4-1h0m7-9h0m12 8h0m8 4h0m1 0h0m8 2h0m1-10h0m14-2h0m8 2h0m9 2h0m3-2h0m0 4h0m15-3h0m20 1h0m4 2h0m3 1h0m10 11h0m15-4h0m1 5h0m2-12h0m18 7h0m12 8h0m9-6h0m18 8h0m3-11h0m12-8h0m4 17h0m11-5h0m3-8h0m-59 27h0m-17 10h0m-4-1h0m-1-6h0m0 4h0m-3-4h0m-2-3h0" stroke="#ff7f0e" stroke-width="19" stroke-linecap="round" fill="none"/><path transform="scale(.1)" d="M2363 8300h0m129-2h0m4-6h0m60 23h0m-224 100h0m245 23h0m-227 34h0m-5 54h0m6 8h0m2 92h0m-14 95h0m-44 61h0m-56 44h0m12 3h0m-50 64h0m97 12h0" stroke="#ff7f0e" stroke-width="19" stroke-linecap="round" fill="none"/><path transform="scale(.1)" d="M2464 8332h0m-23-13h0m-48 21h0m6 29h0m66-28h0m-19 29h0m-67 4h0m0 43h0m17-14h0m117 1h0m10 37h0m-22 6h0m-104 8h0m-8 33h0m78-2h0m67-10h0m-5 14h0m-10 18h0m-18-11h0m-55 22h0m-10 20h0m34-13h0m-34 43h0m-46 38h0m39 2h0m37-18h0m11 34h0m-80 9h0m-10 31h0m92-11h0m-18 26h0m-42 3h0m-39 38h0m41 8h0m27 72h0m-54 6h0m-27-12h0m-4 19h0m-21-3h0m-7-14h0m91 71h0m-7-11h0m-26 22h0m-16-2h0" stroke="#fff" stroke-width="11.5" stroke-linecap="round" fill="none"/><path d="M269.7 898.8 268.1 900.9 270.4 903 271.9 901.6 273.5 900 274.6 899.2 274.5 895.8 272.6 897.2 269.8 897.5Z" fill="#2ca02c"/><path transform="scale(.1)" d="M2723 8962h0m2 6h0m2-2h0m12-1h0m1-15h0m1 2h0m5 31h0m-12-5h0m-8-7h0m-21 7h0m-8-6h0m-4 20h0m-4-10h0m-2-1h0m-5 2h0m-12 27h0m3 5h0m7-8h0m0 22h0m6-26h0m1 10h0m8 1h0m21 2h0m0 1h0m9 5h0m8-12h0m9-7h0m-34 31h0m-2 7h0m-2-6h0m-1-3h0m-12-1h0m-1 0h0" stroke="#2ca02c" stroke-width="19" stroke-linecap="round" fill="none"/><path transform="scale(.1)" d="M2696 8950h0m79 38h0m-115 0h0" stroke="#2ca02c" stroke-width="19" stroke-linecap="round" fill="none"/><path d="M251.3 906.5 251.9 907.3 252.9 909.2 255.6 911.8 256 914.3 256.9 916.2 257.3 916.8 258 920.2 257.3 921.7 255.5 924.3 255.1 926.7 254.9 928.8 255.1 930.5 256.4 932.4 256.5 934.2 256.3 936.9 257.9 939 259.9 936.4 259.5 934 260.1 932.3 262.2 929.4 263 928.6 262.5 925.3 263.1 923.2 263.8 921.7 264.7 920.1 264.2 916.8 264.9 914.5 264.5 912.4 264.3 910.6 263.6 908.6 263 906 261.8 904.8 258.6 905.5 258 903.3 254.4 904.2 252.6 904.4Z" fill="#9467bd"/><path transform="scale(.1)" d="M2555 9024h0m6-9h0m8 6h0m8-2h0m2 5h0m0 5h0m68 19h0m-17-3h0m-4 5h0m-7-8h0m-3 5h0m-9 0h0m-2-13h0m0 1h0m-22 9h0m-23 2h0m-6-7h0m-25-8h0m-8 11h0m-2 10h0m-1 2h0m-2-12h0m-10 13h0m-13 7h0m1 5h0m11 0h0m0 3h0m8-7h0m1 0h0m3-3h0m4 24h0m4-13h0m0 17h0m5-4h0m16 4h0m85-25h0m1-2h0m3 26h0m3-11h0m3-2h0m6 15h0m7-29h0m0 26h0m4 5h0m0 21h0m-13-8h0m-2-1h0m-10 0h0m-81 7h0m-13 9h0m-2-20h0m-3 12h0m-1-10h0m-12-10h0m13 42h0m37 3h0m64 6h0m2 3h0m11-20h0m5 51h0m-9-17h0m-5 19h0m-58 0h0m-10-6h0m-4-13h0m-12 18h0m-2-23h0m-3 9h0m-2-13h0m11 54h0m2 3h0m13-13h0m61 0h0m0 9h0m6-10h0m3 12h0m2 1h0m12 3h0m1-25h0m0 2h0m-3 45h0m-6 7h0m-18-25h0m-2 1h0m-4 13h0m-61-5h0m-6-11h0m-4 17h0m-11 11h0m-4 30h0m11-28h0m18 8h0m58 13h0m16-13h0m3 18h0m1-20h0m2 4h0m4-4h0m0 8h0m-20 19h0m-7 25h0m-6-20h0m-1 2h0m-8 4h0m-4 4h0m-52-17h0m-6 1h0m-7 23h0m-6 3h0m2 15h0m1 14h0m6 0h0m9-18h0m50-7h0m0 13h0m3-9h0m2 2h0m10 28h0m-4 7h0m-7 6h0m-2-2h0m-4 5h0m-5-19h0m-2 14h0m-3 6h0m-1-12h0m-2 3h0m-3 13h0m-24-26h0m-15 9h0m-1-1h0m-5-3h0m17 44h0m28 0h0m15-2h0m5-15h0m-23 34h0m-2 2h0" stroke="#9467bd" stroke-width="19" stroke-linecap="round" fill="none"/><path transform="scale(.1)" d="M2533 9009h0m-40 76h0m175 78h0m-133 29h0m127 17h0m5 21h0m-7 35h0m-136 93h0m51 50h0" stroke="#9467bd" stroke-width="19" stroke-linecap="round" fill="none"/><path transform="scale(.1)" d="M2531 9062h0m6 10h0m15-2h0m37 19h0m37-1h0m10-10h0m-25 33h0m-13-3h0m-55-7h0m39 21h0m58 54h0m-59 14h0m37 16h0m4-14h0m-20 37h0m-33 30h0m9-9h0m46 23h0m-64 4h0m30 71h0m-20 0h0m-8 13h0" stroke="#fff" stroke-width="11.5" stroke-linecap="round" fill="none"/></g>
<rect x="165.9" y="817.8" width="132.1" height="128.8" fill="none" stroke="#333" stroke-width="1"/>
<text x="230.8" y="958.9" font-size="10.8" text-anchor="middle" fill="#1a1a1a" >UMAP1</text>
<text x="163" y="881.1" font-size="10.8" text-anchor="middle" transform="rotate(-90 163 881.1)" fill="#1a1a1a" >UMAP2</text>
<text x="391.7" y="810.8" font-size="12.2" text-anchor="middle" fill="#1a1a1a" >CCST (ARI=0.52)</text>
<g><path d="M328 833.4 327.5 836.2 327.3 838.4 326.9 841.1 327.6 842.3 327.3 845.4 326.7 847.7 327.1 849.9 326.6 852.3 327.3 853.9 326.4 855.7 326.7 858.1 328.1 859.8 328 862.8 327.3 865.2 327.7 866.6 328.4 869.6 328.8 871.3 329 874.2 330 875.2 330 877.3 329.8 879.3 331.6 881.9 331.5 884.8 333 887.1 332.7 887.6 333.4 890.2 335.5 893 336.2 895 337 895.7 336.9 897.7 337.9 900.7 339.6 902.5 340.6 904.6 342.1 906.5 342.8 908.1 343.3 910.6 345.2 911.1 347 913 347.3 914.9 348.3 917 350.3 918.8 352.2 921.1 353 921.6 355.5 923.9 356.8 925.7 358.4 926.4 358.7 929.3 360 930.4 362.3 932.3 364.2 933.5 366.1 933.6 367.9 935.1 370 935.6 371.4 936.6 374.8 937.9 375.5 937.8 379 936.5 379.8 935.5 381.9 935.7 384.1 935.3 386.6 932.9 388.5 932.2 389.6 931.3 392.4 931.3 393.7 929.4 396.2 927.3 396.6 926.1 398.9 923.5 400.2 922.2 401.2 921.3 402.2 919.6 403.8 917.2 404.9 916.1 405.7 912.9 406.7 911.6 407.6 909.1 407.9 908 408.3 905.1 407.8 902.8 409.2 900.5 408.7 898.8 408.5 896.1 409.1 894.7 409.6 891.6 410.4 890.2 409.9 887.2 409.7 885.1 409.6 883.1 410.5 881.1 410.2 879.6 409.7 876.4 409.3 874.9 409.5 871.8 409.6 870.5 409.5 868.6 406.8 868.1 406.4 868.4 405.7 871.3 405 872.3 405.1 874.5 404.1 877.6 403.5 879.3 402.9 882 402.9 882.8 402.7 885.2 402.4 888 401.9 890.3 401 891.5 399.6 894.1 398.4 896.2 395.9 896.9 396.3 899.6 393.6 900.7 393 903 392 903.4 389.1 905.4 388.3 908.2 387.4 908.7 384.9 908.6 382.4 908.2 380 909.4 377.6 909.7 376.2 909.1 372.8 908.8 371.5 908.6 368.9 909.3 366 909.8 364.2 909.9 361.6 909.7 359.9 911 358.5 908.8 357 908.4 354.6 905.7 354 904.3 353 903.4 352.1 901.2 352.6 898.9 350.8 896.9 350.5 893.5 348.5 892.5 348.7 890.9 347.3 888.8 346.4 886.8 346.4 883.6 346.1 881.9 344.7 879 344.1 876.8 343.3 876.4 341.3 874.1 340.6 873.4 339.6 871.4 337.5 869.4 336.8 867.8 335.7 865.5 334.7 862.4 334.5 860.3 335.2 859.6 334 857.2 333.9 854.2 333 853.2 332 849.8 332 848.5 331.8 845.2 332.2 843.9 331.8 841.3 331 839.8 331.3 837.4 329.8 834.7 328.6 833.4Z" fill="#1f77b4"/><path transform="scale(.1)" d="M3309 8332h0m-2-17h0m-7 18h0m-35 2h0m-3 2h0m-2 3h0m0 1h0m44 24h0m1-21h0m2 10h0m4 9h0m5 11h0m-18-1h0m-21 9h0m-16 13h0m-6-24h0m0 17h0m-2 10h0m-2 17h0m5-8h0m2 14h0m12-8h0m35-7h0m1 6h0m1-3h0m5-3h0m11 10h0m6-15h0m1 20h0m4 16h0m-1-4h0m-14 7h0m-37 1h0m-20 17h0m-2 1h0m-3-12h0m0 3h0m-7 30h0m9-9h0m10 2h0m2 6h0m47-17h0m13 5h0m11-4h0m1 5h0m-1 34h0m-10-1h0m-1 4h0m-8-3h0m-51-4h0m-12 7h0m-7-9h0m-4 48h0m3-13h0m6-7h0m0 20h0m11-2h0m2-2h0m1 3h0m1 4h0m4-26h0m45 28h0m21 3h0m-64 12h0m-5-14h0m-5 37h0m1-6h0m13 25h0m51-3h0m1-20h0m4 4h0m1 16h0m8-21h0m2 23h0m2-21h0m5 15h0m8 8h0m1-11h0m6 41h0m-12-19h0m-2 5h0m-2 10h0m-2-17h0m-13 11h0m-54-11h0m-8 23h0m-2-26h0m-2 12h0m-2-11h0m-11 6h0m0 10h0m1 14h0m0 10h0m3-14h0m5 10h0m8 17h0m6-20h0m66-7h0m20 14h0m689 6h0m13 2h0m7 2h0m9 4h0m10-8h0m7 22h0m0 7h0m-1-12h0m-18 11h0m0 8h0m-2-25h0m0 2h0m-7 2h0m-2 2h0m-3 11h0m-2 1h0m-14-16h0m-7 21h0m-7-3h0m-639 7h0m-11-9h0m-14-11h0m-2 12h0m-5-13h0m-80 4h0m-5 12h0m-18-20h0m8 49h0m2-22h0m0 29h0m2-4h0m4-19h0m4 2h0m3 11h0m78-11h0m12 3h0m5-4h0m3 20h0m8-5h0m6-6h0m3-14h0m628 1h0m12 24h0m2-10h0m13 3h0m1-2h0m30-1h0m5-9h0m0 13h0m4 1h0m9-22h0m5 31h0m0 3h0m-19-3h0m-5 0h0m0 4h0m-3 9h0m-28-11h0m-11 11h0m-1 12h0m-1-13h0m-7-7h0m-586 13h0m-2 8h0m-6-3h0m-13-17h0m-3 0h0m-6-7h0m-1 14h0m-1-11h0m-6 12h0m-17-14h0m0 3h0m-100-2h0m-7 9h0m-7 34h0m7 3h0m6-8h0m3 5h0m1-7h0m2-5h0m4 0h0m127 6h0m12-7h0m0 26h0m18-9h0m0 4h0m567 0h0m57-21h0m21 25h0m5 17h0m-9-7h0m-2 17h0m-2-24h0m0 24h0m-2-7h0m-60-12h0m-19 23h0m-3-4h0m-548 5h0m-1-11h0m-5-16h0m-4-1h0m-1 2h0m-8 11h0m-13-9h0m-131-5h0m0 29h0m-4-28h0m-5 39h0m2-8h0m1 11h0m4 2h0m7-6h0m5 7h0m2-10h0m135 4h0m14-9h0m3 24h0m3-17h0m4 11h0m531-13h0m7 15h0m4-9h0m3 0h0m0 1h0m0 6h0m7-1h0m11-18h0m72 29h0m6-13h0m-3 42h0m-4-9h0m0 3h0m-5-8h0m-5 5h0m-1 9h0m-9-14h0m-1-1h0m-62-3h0m-4-5h0m-2 4h0m-5 18h0m-6-13h0m-6-6h0m-520-2h0m-9-3h0m-3 18h0m-7-12h0m-132 7h0m-4 11h0m-8 1h0m-3-1h0m-11-25h0m21 50h0m3 5h0m1-21h0m1 17h0m6-11h0m2 5h0m130-10h0m0 6h0m14 9h0m5-12h0m9 2h0m492-1h0m1-9h0m27 24h0m2-11h0m64-15h0m3 12h0m21 3h0m-7 39h0m-1-21h0m-3 15h0m-6 9h0m-4-24h0m-9 18h0m-86 8h0m-5-20h0m0 8h0m-1-4h0m-10 1h0m-473 0h0m-12 5h0m-7 0h0m-1-4h0m-2 1h0m-121 9h0m-2-12h0m-2 0h0m-7 11h0m-3-9h0m-1 4h0m-5-18h0m-7 27h0m-5-25h0m-7 0h0m28 48h0m2-1h0m9-8h0m0 4h0m4 3h0m124-18h0m4 7h0m3-5h0m9 15h0m4-15h0m2 1h0m1 0h0m435 21h0m9-11h0m1 13h0m2-9h0m5-10h0m2 14h0m1-5h0m9-2h0m7-8h0m101-6h0m0 17h0m0 8h0m2 3h0m2-22h0m2 16h0m5-16h0m4 13h0m1 7h0m7-21h0m0 7h0m-2 26h0m-9 9h0m0 9h0m-11-19h0m0 9h0m-5 7h0m-126-24h0m-11 13h0m-13 9h0m-1 1h0m-397-10h0m-10-2h0m-3 15h0m-1-3h0m-1-4h0m-1 1h0m-1-17h0m-9 11h0m-133-12h0m-1 18h0m-2 14h0m16 3h0m9-6h0m4 8h0m117 7h0m6 4h0m3-15h0m0 15h0m7-6h0m7-8h0m0 12h0m372 5h0m16-18h0m1 9h0m0 5h0m10-11h0m5 16h0m2-1h0m1-8h0m4 1h0m118-6h0m2-3h0m3-2h0m1 18h0m1-15h0m1-4h0m0 2h0m5 23h0m3-28h0m2 4h0m1 8h0m10-9h0m-5 39h0m-1 11h0m-2-10h0m0 10h0m-12-1h0m-1-14h0m-7 6h0m-5 4h0m-127-19h0m-14 13h0m-4-13h0m-10 14h0m-3 6h0m-6-16h0m-7 15h0m-3 2h0m-10 5h0m-327-8h0m-2 10h0m-8-26h0m-6 5h0m-8 1h0m-5 0h0m-103 8h0m0 3h0m-7-2h0m-2-15h0m-2 21h0m-11 3h0m-11-7h0m-8-13h0m-4-1h0m28 36h0m21 10h0m15 8h0m113-24h0m1 16h0m12 0h0m12-12h0m3 20h0m4 0h0m6-2h0m0 1h0m5 0h0m5 0h0m12 0h0m26-5h0m2-4h0m20 8h0m3-3h0m25-3h0m4-4h0m20-7h0m1 3h0m8 8h0m17-2h0m15-4h0m11 7h0m15 4h0m17-13h0m10 8h0m10 8h0m3-9h0m12 8h0m1-4h0m4 5h0m7-18h0m7 6h0m1 7h0m17-23h0m7 19h0m189-9h0m5 13h0m6-11h0m1 3h0m3-5h0m0 13h0m11-7h0m-10 17h0m-4 0h0m-1 6h0m-8 9h0m-6-2h0m-2-11h0m-229 2h0m-8-8h0m-24 4h0m-15 0h0m-24-1h0m-21 2h0m-16 6h0m-3-7h0m-57 11h0m-1-13h0m-15-2h0m-23 25h0m-1-21h0m0 20h0m-16-17h0m-9 2h0m-9-9h0m-1 5h0m-2 3h0m-7 7h0m-133-11h0m-15-3h0m0 17h0m18 35h0m8-6h0m6 10h0m1-23h0m584 22h0m7-22h0m1 1h0m0 3h0m1 10h0m15 1h0m1-1h0m-12 27h0m-1-1h0m-5-1h0m0 1h0m-6 12h0m-13-19h0m-4 19h0m-537-10h0m-5 6h0m-9-20h0m-5 9h0m-3-1h0m-1-7h0m0 11h0m-5 4h0m-6-1h0m35 19h0m10 20h0m10-19h0m486 21h0m7-19h0m6 16h0m2-14h0m9 5h0m4-15h0m1 5h0m-12 42h0m-7 5h0m-10 4h0m-7-22h0m0 24h0m-462-23h0m2 32h0m1-5h0m16 11h0m1 6h0m2-5h0m19 12h0m1-6h0m3-1h0m375-3h0m12-13h0m6 25h0m7-24h0m5 20h0m5-10h0m3-14h0m-33 46h0m-20-12h0m-1 3h0m0 12h0m-1-5h0m-2-12h0m-5 16h0m-5-2h0m0 6h0m-5-3h0m-323-12h0m-1-4h0m-5-3h0m-11 2h0m-14 0h0m15 28h0m27 18h0m6 6h0m8-7h0m230 8h0m10-5h0m15 4h0m0 1h0m7 0h0m8-14h0m6 4h0m12-3h0m12 7h0m8-19h0m11 10h0m-63 22h0m0 14h0m-31-6h0m-15 0h0m-3 2h0m-12 13h0m-20-1h0m-112-2h0m-6 4h0m-21 2h0m-4-29h0m-3 8h0m-1-8h0m-3 21h0m-3-21h0m-8 16h0m-1-3h0m-8-12h0m40 38h0m18-9h0m0 1h0m0 12h0m1 6h0m2-1h0m2-8h0m2 0h0m4 5h0m17 4h0m12-1h0m0 3h0m26-3h0m18 4h0m5 5h0m2-10h0m4 2h0m3-14h0m12-5h0m4 2h0m17 3h0m5 3h0m1 5h0m10-11h0m0 4h0m-95 30h0" stroke="#1f77b4" stroke-width="19" stroke-linecap="round" fill="none"/><path transform="scale(.1)" d="M3266 8318h0m-21 5h0m1 93h0m103 30h0m-104 22h0m-7 66h0m128 25h0m-128 61h0m787 100h0m-554 29h0m-211 20h0m6 6h0m18 69h0m851-10h0m4-9h0m-634 42h0m-219 0h0m31 68h0m811 16h0m-575 40h0m-9-15h0m349 49h0m-99 32h0m-217-22h0m101 25h0m118 2h0m289 81h0m-49 96h0m-28 19h0m-11 17h0m-405 46h0m74 61h0m128 6h0m53-21h0m-98 32h0" stroke="#1f77b4" stroke-width="19" stroke-linecap="round" fill="none"/><path transform="scale(.1)" d="M3306 8415h0m6 44h0m-38 18h0m18 40h0m4 23h0m3-20h0m-11 48h0m-8 9h0m27 17h0m4 17h0m-29 42h0m83 44h0m-28-21h0m-12 17h0m36 36h0m-30 7h0m112 50h0m618-5h0m-636 37h0m-95-12h0m87 28h0m3 15h0m606-13h0m25-15h0m8 4h0m24 26h0m-616 8h0m-36 19h0m-2-16h0m-53 17h0m-42-15h0m19 40h0m23-11h0m10 1h0m9-13h0m14 5h0m7 15h0m606-2h0m22 38h0m-20-24h0m-534 17h0m-16 4h0m-68 7h0m21 14h0m562-5h0m18 14h0m32 4h0m40-24h0m-61 35h0m-27 2h0m-553-5h0m-49 19h0m-13-13h0m95 29h0m20 16h0m508-20h0m73 9h0m-134 14h0m-12 25h0m-400-9h0m-23 0h0m-33 12h0m-43 13h0m28-8h0m25 3h0m55 13h0m344 7h0m49 0h0m-9 26h0m-118-4h0m-70-1h0m-252-5h0m-6 17h0m30 8h0m33 21h0m54-2h0m13-9h0m124-3h0m84-8h0m152-1h0m13 53h0m-28-14h0m-4 0h0m-162 15h0m-114-10h0m-51 5h0m-96 24h0m21-9h0m194 8h0m67-17h0m39 24h0m8-19h0m30 2h0m14 1h0m15 51h0m-4-7h0m-106-14h0m-59 19h0m-19-18h0m-59 8h0m-3-6h0m-14 6h0m-3-6h0m-19-2h0m-13 15h0m359 15h0m-36 35h0m-88-11h0m-22 6h0m-49 13h0m-155 5h0m53 13h0m51 7h0m40-17h0m2 16h0m63-7h0m56 6h0m-133 43h0m-37-12h0m-17-10h0" stroke="#fff" stroke-width="11.5" stroke-linecap="round" fill="none"/><path d="M340.5 872 339.7 875.1 339.8 877.4 341.1 878.7 341 881.7 342.1 883.2 342.6 885.4 342 887.9 344 890.8 344.2 891.3 344.6 893.6 344.9 896.8 346.4 897.6 346.8 899.9 348.6 902.1 348.1 905 350.5 906.9 350.9 909.3 352.3 911 353.3 912.4 354.1 915.2 354.3 917.3 354.5 918.3 354.7 920.9 356.2 923.3 356.2 925.5 357.8 926.6 359.8 928.4 360.9 930.7 361.8 931.8 363.4 932.8 366.3 934.3 366.8 935.9 369.2 936 371.9 937.1 374.2 938.3 375.5 937.3 377.9 936 381 936.7 381.8 935.3 383.9 934.4 385.8 933.5 388.8 932.3 389.6 932.3 392 930 393.4 929.1 394.6 927.5 396.1 925.6 398.5 924.7 399.1 923.5 402.1 920.2 402.5 918.8 403.3 917.2 404.9 914.7 406.1 913.4 407.8 911.2 408.2 908.6 408.5 907.1 407.6 905.9 408.1 902.2 408.8 902 406.7 905.2 406 906.6 404.9 908.2 403.7 909.4 401.8 911.7 400 911 397.1 913.3 396.6 913.1 393.8 914.2 391.7 915.5 389.8 915.8 388.4 917.7 386 919.9 384.7 920.3 383.1 922 381.9 922.7 379 924.4 376.6 925.9 375.3 926.2 373.8 928 370.8 928.3 369.6 925.8 367.1 926.4 365.3 924.9 363.3 924.3 362.8 922.1 361.8 919.9 361.5 918.4 360.5 916.9 358.5 914.7 358.6 912.9 357.2 909.4 356.2 908.8 354.1 906.6 353.9 905.2 353.9 902.8 353.2 899.5 350.8 897.6 351.2 896.8 349.4 893.9 348.4 891.2 348.2 890 348.6 887.5 346.5 885.3 347.3 883.4 344.8 882.2 345.4 880.2 344.1 877.5 343.2 876.2 341.3 873.3Z" fill="#9467bd"/><path transform="scale(.1)" d="M3377 8719h0m12-7h0m18 13h0m11 2h0m6 25h0m-5-9h0m-3 5h0m-1 4h0m-3-21h0m-6 21h0m-1-6h0m-2 1h0m-2 1h0m-12-17h0m-4 10h0m-3 2h0m-2-1h0m7 25h0m1 14h0m12-17h0m0 8h0m1-12h0m5 1h0m8 21h0m12-22h0m1 1h0m21 2h0m5 19h0m6-12h0m0 2h0m2 11h0m10 20h0m-5-6h0m0 13h0m-4-5h0m-6 7h0m-12 5h0m-24 0h0m-6-4h0m-5 3h0m-12-6h0m-6-3h0m15 18h0m6 7h0m35-10h0m7 20h0m12 3h0m5-19h0m631 33h0m-2-5h0m0 20h0m-5-22h0m-620 27h0m-4-24h0m-44-4h0m-2 14h0m-6-12h0m-7 12h0m-12-15h0m17 32h0m16 15h0m4-17h0m34 9h0m20-2h0m0 1h0m0 5h0m599 6h0m22 38h0m-1-17h0m-603 7h0m0 6h0m-15-10h0m-12-9h0m-32 5h0m-6-3h0m-16 10h0m9 20h0m16 19h0m8-13h0m4-1h0m2 10h0m4 3h0m20-22h0m18 6h0m1-3h0m3-2h0m6 0h0m0 13h0m3-9h0m0 22h0m6-1h0m557-19h0m5-8h0m2 21h0m8 2h0m4-24h0m9 12h0m-6 44h0m-10 3h0m-1-3h0m-1-7h0m-8 9h0m-553 1h0m-13-28h0m-6 14h0m-13-15h0m-23 24h0m-12-3h0m-5-11h0m-4 27h0m10 19h0m11-8h0m2 4h0m3-9h0m9 8h0m27-20h0m1 8h0m1 1h0m1 17h0m21-24h0m2 26h0m6-8h0m518-12h0m14-9h0m2 9h0m5 2h0m2-6h0m12 3h0m-18 43h0m-31-13h0m0 9h0m-6 10h0m-485-7h0m-7 5h0m0 3h0m-4-9h0m-6-5h0m-1-11h0m-2 10h0m-13-8h0m-49 4h0m-11-1h0m-3-5h0m25 50h0m3-2h0m7 8h0m8-15h0m1 4h0m31-3h0m1-6h0m11 19h0m10-11h0m16 10h0m467-26h0m2 12h0m2-11h0m10 7h0m4 8h0m0 4h0m18 2h0m3-2h0m2 3h0m-1 28h0m-3 6h0m-1-4h0m-3-18h0m-6 22h0m-9 0h0m-3-6h0m-11-9h0m-4-10h0m-4-2h0m-9 1h0m-3 3h0m0 4h0m-6 0h0m-11 15h0m-5-20h0m-1 21h0m-18 1h0m-9-13h0m-4 12h0m-3-4h0m0 3h0m-20 0h0m-374-15h0m-2-9h0m-10 24h0m-2-21h0m-39 9h0m-17-12h0m-8 8h0m10 39h0m11 5h0m2-22h0m1 9h0m1 10h0m43-17h0m9 17h0m8 8h0m2 2h0m12-10h0m9-4h0m289 11h0m7 2h0m4 0h0m7-10h0m8-5h0m18 11h0m3-9h0m2 7h0m4-11h0m1-8h0m69-1h0m23 15h0m7-5h0m7-1h0m1-1h0m13 13h0m0 3h0m2-2h0m9-16h0m-22 33h0m0 5h0m-7 5h0m-2 1h0m-3-19h0m-19 26h0m-110-21h0m-5 11h0m-15 5h0m-5 5h0m-1-23h0m-13 22h0m-19 1h0m-253-2h0m-7-16h0m-6 10h0m-50 6h0m-8-21h0m-2 11h0m-7 12h0m4 16h0m0 12h0m9-21h0m4 6h0m47-9h0m15 5h0m5 18h0m1-4h0m5-13h0m2 1h0m207 10h0m2 7h0m9-4h0m6-1h0m3-16h0m2 20h0m2-7h0m7 10h0m24-24h0m11-2h0m118 1h0m5 14h0m4-11h0m1 41h0m-1 2h0m-7 1h0m-1-1h0m-5-8h0m-1 16h0m-9-3h0m-3-12h0m-1-1h0m-1-2h0m-9 16h0m-9-3h0m-120-19h0m-6 6h0m-20 2h0m-5-11h0m0 15h0m-1-11h0m-4 21h0m-13-14h0m-10 7h0m-31 9h0m-129 0h0m-5-24h0m0 16h0m-5-15h0m-18 15h0m-3-13h0m-54-7h0m-3 21h0m6 9h0m1 2h0m5 14h0m58-12h0m15 12h0m22-7h0m1 0h0m7-6h0m0 6h0m30 4h0m7 2h0m3 10h0m4 3h0m13 0h0m17 1h0m16-3h0m62-26h0m137 19h0m9 7h0m19-15h0m12-4h0m1 12h0m4-18h0m3 3h0m7-2h0m-47 46h0m-10 11h0m-9-16h0m-1-8h0m-1 12h0m-10-7h0m-4 5h0m-6 6h0m-182-7h0m-2 0h0m-12-14h0m0 5h0m-7 2h0m-6 6h0m-6-4h0m0 1h0m-7-6h0m-6-4h0m-96 13h0m0 4h0m-1 2h0m-13 3h0m-4-2h0m-3-17h0m0 18h0m0 7h0m-7-24h0m-14-2h0m-5 0h0m35 35h0m1-2h0m3-3h0m0 1h0m9 13h0m15 3h0m10-10h0m1 14h0m3-19h0m10 23h0m7-6h0m231 5h0m1 0h0m13 3h0m6-9h0m8-9h0m0 17h0m4-8h0m2-10h0m0 5h0m2 6h0m3-13h0m1-7h0m3 22h0m10-11h0m3-4h0m1-8h0m4 10h0m-47 31h0m-2-2h0m-37 10h0m-5-3h0m-1-15h0m0 22h0m-1-2h0m-3-17h0m-3 22h0m-3-1h0m-5-9h0m-20 11h0m-1-10h0m-4 11h0m-103-7h0m-7 5h0m-7 1h0m-5-10h0m-4-4h0m-16 8h0m-4-14h0m-2-4h0m-2 2h0m-5 5h0m-10 9h0m-3-17h0m0 10h0m-9-8h0m53 30h0m16-2h0m4 1h0m5 6h0m5 1h0m3 0h0m2-3h0m1-3h0m13 14h0m8-13h0m8 12h0m13 12h0m2-5h0m1-20h0m9 9h0m1-11h0m7 7h0m3 4h0m21 2h0m14-6h0m6-6h0" stroke="#9467bd" stroke-width="19" stroke-linecap="round" fill="none"/><path transform="scale(.1)" d="M3369 8710h0m31-5h0m39 14h0m55 104h0m0 13h0m4 5h0m-108 10h0m697 38h0m26 20h0m-692 34h0m705 39h0m-49-11h0m37 78h0m-77-10h0m-6 2h0m-452 29h0m43 68h0m473 7h0m-14 16h0m-443 6h0m364 96h0m16-13h0m-47 48h0m-338 69h0m100 37h0m-8 4h0" stroke="#9467bd" stroke-width="19" stroke-linecap="round" fill="none"/><path transform="scale(.1)" d="M3440 8816h0m21 15h0m3 28h0m-6 28h0m4 13h0m9 15h0m28 43h0m1 66h0m20-17h0m-11 24h0m539 76h0m-497 16h0m19 16h0m409 4h0m1-15h0m13 41h0m-11-12h0m-12 15h0m-31 7h0m-1-16h0m-12 0h0m-22 3h0m-8 23h0m34 0h0m1 12h0m11 4h0m26-15h0m9-6h0m-28 35h0m-359 32h0m19 10h0m59-3h0m14 8h0m132-20h0m108 4h0m-87 26h0m-35-5h0m-82 13h0m-19-1h0m50 28h0m12 35h0" stroke="#fff" stroke-width="11.5" stroke-linecap="round" fill="none"/><path transform="scale(.1)" d="M3347 8728h0m1-7h0m8-14h0m19 18h0m53 19h0m-59 11h0m-20-22h0m-8 10h0m19 31h0m1 4h0m8-18h0m25 22h0m15 4h0m1-20h0m1 4h0m11 47h0m-42 1h0m-6-19h0m-11-2h0m-1 33h0m35 9h0m2 6h0m3-11h0m9-6h0m53 12h0m12 28h0m-31 11h0m-36-14h0m-6-3h0m-32 41h0m10-22h0m8 7h0m6 9h0m33 5h0m12-4h0m11-3h0m19-15h0m589 26h0m19-1h0m16 19h0m-4-5h0m0 1h0m-21 12h0m-7-6h0m-31-8h0m-1 13h0m-4 5h0m-527-7h0m-60-13h0m-7 5h0m-22-5h0m-28 38h0m11 1h0m2-3h0m16 10h0m4-15h0m31-7h0m4 22h0m34-22h0m14 6h0m571 8h0m-19 19h0m-14 4h0m-16 4h0m-6 15h0m-51-6h0m-459-9h0m-25-9h0m-53 10h0m-7 15h0m-20-17h0m-4 14h0m-6-23h0m-3 22h0m-10-11h0m41 44h0m38-2h0m24-22h0m15 16h0m0 7h0m30-14h0m4-5h0m434 13h0m37 10h0m18-4h0m2-3h0m6 5h0m1-3h0m5-2h0m7-13h0m5 11h0m12-14h0m14-3h0m5 16h0m6-18h0m7 42h0m-25 0h0m-63-1h0m-75 5h0m-387 1h0m-3-8h0m-38 14h0m-29-18h0m-8-1h0m-7 22h0m-8-11h0m-20-8h0m27 29h0m28 11h0m57-14h0m15-3h0m16 16h0m7 9h0m31-5h0m298-15h0m80 15h0m27 2h0m1-12h0m5-8h0m2 10h0m17 19h0m-16 1h0m-37 1h0m-26-3h0m-14 27h0m-16-21h0m-11 18h0m-19-8h0m-2-13h0m-14 5h0m-35 18h0m-45-5h0m-14-9h0m-5 8h0m-13 6h0m-23-9h0m-1 0h0m-36-10h0m-2-1h0m-8 15h0m-10 0h0m-19 5h0m-2-15h0m-15-4h0m-58-1h0m-71 7h0m-9 15h0m-5-16h0m-19 9h0m-6 4h0m-10-15h0m-3 15h0m-4-5h0m-16-14h0m27 24h0m22 0h0m2 7h0m11 16h0m1-10h0m28 12h0m21-10h0m1 10h0m3-10h0m28 1h0m8-12h0m2 1h0m51 3h0m4 19h0m10-5h0m31-22h0m17 18h0m18 0h0m3-17h0m17 11h0m31-7h0m2 7h0m1-5h0m3-4h0m3 19h0m15-16h0m2-1h0m13 11h0m4 5h0m38-9h0m32 5h0m63 4h0m4-4h0m18 9h0m3-27h0m22 20h0m12-18h0m15 11h0m5 12h0m15-10h0m-70 36h0m-23 8h0m-10-24h0m-51 24h0m-14-15h0m-20 15h0m-5-4h0m-13-25h0m-39 22h0m-3 0h0m-23 6h0m-2-19h0m-143 14h0m-57 0h0m-29-7h0m-1-5h0m-12 17h0m-49-25h0m15 41h0m7-9h0m5 11h0m30 5h0m21 5h0m20-24h0m29 27h0m27-4h0m7-12h0m31-6h0m14 14h0m10 2h0m12-13h0m3 1h0m1 17h0m9-20h0m14-8h0m9 11h0m22 5h0m46 13h0m3-23h0m25 23h0m3-23h0m1 12h0m24-1h0m79-6h0m45-4h0m1-5h0m8 5h0m-17 29h0m-10 23h0m-6-6h0m-14-18h0m-20 2h0m-67 1h0m-11 8h0m-9 4h0m-25-18h0m-47 22h0m-57-2h0m-10-17h0m-116 16h0m-4-7h0m-9-13h0m-2 25h0m-4-9h0m-4-9h0m-5 20h0m-10-16h0m-21-11h0m-4 37h0m62-8h0m29 22h0m7-17h0m0 6h0m61 5h0m21 3h0m55-13h0m26-1h0m26 24h0m5-12h0m6 9h0m21-5h0m17-15h0m46 1h0m32 8h0m1 19h0m-14 1h0m-11 22h0m-5-10h0m-25 2h0m-8 2h0m-63 7h0m-73-23h0m-8 15h0m-15 8h0m-9-22h0m-39 7h0m-18 13h0m-45-7h0m-18-15h0m49 37h0m4 14h0m18-3h0m16 3h0m33-15h0m17-7h0m2-2h0m104 7h0m1 9h0m6 5h0m2 2h0m0 5h0m7-9h0m8-6h0m16-12h0m7 11h0m36-10h0m-61 27h0m-52 26h0m-2-13h0m-62-1h0m-11 10h0m-3-16h0m-8 23h0m-11-3h0m-3-16h0m-8 14h0m-3-13h0m-20-6h0m-6 17h0m36 22h0m14 5h0" stroke="#9467bd" stroke-width="19" stroke-linecap="round" fill="none"/><path transform="scale(.1)" d="M3395 8718h0m4 8h0m27 10h0m-16 15h0m14 37h0m39 25h0m4 29h0m16 10h0m-47-2h0m-11 34h0m49 15h0m32 40h0m-17-26h0m6 30h0m538 22h0m5-7h0m7-2h0m35-13h0m3 38h0m-6-11h0m-94 28h0m33 17h0m64 38h0m-4 4h0m-4-26h0m-123 8h0m-12-4h0m-1 7h0m-9 1h0m-376 15h0m-36-27h0m-26 55h0m58-13h0m15-2h0m38 9h0m13-11h0m13 7h0m76 12h0m39 1h0m169-5h0m34-15h0m51 20h0m1-14h0m63-15h0m5 1h0m-27 58h0m-59-20h0m-20 7h0m-52 4h0m-17-10h0m-32 10h0m-29-11h0m-34 19h0m-46-18h0m-101 4h0m-59 8h0m-30-4h0m-47 7h0m32 17h0m20-12h0m2 25h0m9-10h0m2 11h0m1-17h0m61 5h0m4-14h0m14 9h0m38-2h0m6 22h0m80-5h0m41-8h0m46 13h0m2-18h0m30 4h0m15 8h0m43-1h0m37-5h0m1-16h0m2 5h0m5 23h0m29-11h0m0 10h0m33-9h0m15-8h0m-64 20h0m-14 23h0m-2-7h0m-49 9h0m-3-15h0m-6-11h0m-8 13h0m-3 10h0m-8-23h0m-7 8h0m-63 18h0m-14-12h0m-70 0h0m-26-7h0m-51-3h0m-2 0h0m-2 18h0m-41 6h0m-32-16h0m-48 37h0m39 1h0m27-14h0m2 6h0m19 17h0m53-22h0m35-5h0m10 0h0m24 14h0m33-16h0m144 25h0m5-12h0m48 16h0m13-29h0m-19 44h0m-36-8h0m-9 1h0m-50 1h0m-27 4h0m-3-6h0m-6 20h0m-27-25h0m-50 1h0m0 6h0m-83 3h0m-53-5h0m-27 8h0m-27-14h0m-26 18h0m-2 5h0m-5 7h0m166 24h0m56-19h0m32 4h0m9 20h0m27-17h0m45-8h0m1 8h0m36 6h0m-57 21h0m-11-1h0m-11 20h0m-55-27h0m-10 15h0m-2 1h0m0 10h0m-15-9h0m-28 2h0m-7-7h0m-1-7h0m-26 18h0m-52-1h0m-11 6h0m-68-13h0m72 24h0m5 10h0m10-5h0m36-2h0m1 0h0m63 13h0m55-5h0m24-5h0m37 3h0m-14 18h0m-58 14h0m-5 8h0m-29-3h0m-22-17h0m-29 3h0m-7 9h0" stroke="#1f77b4" stroke-width="19" stroke-linecap="round" fill="none"/><path transform="scale(.1)" d="M3864 9099h0m-2 4h0m-14-9h0m-2-2h0m-1 17h0m-22-15h0m-21-3h0m-4 0h0m-11 12h0m-6-5h0m-23 15h0m-3-21h0m-6 16h0m-14-10h0m-27 6h0m-14 15h0m-23-6h0m-2 4h0m-11 2h0m-17-21h0m-20 15h0m-5-17h0m-7 0h0m5 42h0m21-1h0m3 11h0m25 1h0m15-15h0m13 1h0m2 3h0m1-6h0m10 9h0m8-20h0m33 1h0m36 7h0m6 13h0m9 2h0m2-22h0m4 15h0m5-13h0m5-1h0m2 13h0m5-3h0m7-13h0m52 58h0m-5-16h0m-33 5h0m-11 12h0m-36-6h0m-25-21h0m-20 3h0m-2 12h0m-6 10h0m-5-9h0m-14-16h0m-8 5h0m-38 11h0m-42-7h0m-4 12h0m-5-17h0m13 25h0m0 25h0m13 0h0m9-5h0m4-12h0m8 19h0m4-14h0m12-7h0m5-5h0m11 9h0m7 14h0m17-10h0m8 1h0m12 8h0m3-21h0m24 19h0m29-10h0m1-2h0m5 12h0m16 7h0m1-28h0m8 4h0m35-5h0m-73 30h0m-14 16h0m-3 11h0m-11-13h0m-9 9h0m-76-15h0m-19 3h0m-2-9h0m41 28h0m24 23h0m52-21h0" stroke="#1f77b4" stroke-width="19" stroke-linecap="round" fill="none"/><path transform="scale(.1)" d="M4035 8619h0m-11 20h0m-1-10h0m7 23h0m2 15h0m2-18h0m3 6h0m14 44h0m-1-13h0m-4-5h0m-2-3h0m0 19h0m-4-11h0m-2-16h0m-5 2h0m-12 5h0m-1 12h0m-1 2h0m-5-21h0m-6 49h0m2 10h0m6-28h0m25 7h0m8 12h0m-15 20h0m-13 19h0m-2-9h0m-3-5h0m-6 11h0m-4-5h0m5 29h0m1-10h0m0 7h0m2-10h0m2 12h0m1-19h0m1 9h0m6 19h0m2-28h0m8 23h0m12 33h0m-1-17h0m-1 1h0m-5 16h0m-1-5h0m-8 2h0m-3-23h0m-10 29h0m-8-5h0m-3-11h0m0 25h0m10 12h0m1 7h0m9-3h0m11-2h0m2-3h0m-3 13h0m-4 21h0m-1-23h0m-4 17h0m-7-7h0m-2 9h0m-12-7h0m-6 17h0m-1-16h0m0 4h0m-2-9h0m-2 9h0m-12 36h0m1 5h0m4-23h0m0 15h0m1 0h0m4-11h0m4 12h0m9-12h0m4 19h0m1-25h0m6 14h0m4-5h0m0 13h0m-18 8h0m-4 21h0m-7-19h0m-5-4h0m-2 15h0m-5 10h0m-17 33h0m26-15h0m3-10h0m4 20h0m3-11h0m-29 35h0m-1-9h0m0 15h0m-3-6h0m0 4h0m-3-10h0m-3 6h0m-2-15h0m-9 1h0m0 22h0m-3-11h0m-1 6h0m-2-13h0m-4 13h0m-6-1h0m-39 38h0m8-8h0m2 5h0m9-9h0m2 11h0m2-23h0m5-2h0m7-1h0m4 10h0m-32 23h0m-8-2h0m-15 1h0m-2 3h0m-18 12h0" stroke="#d62728" stroke-width="19" stroke-linecap="round" fill="none"/><path transform="scale(.1)" d="M3604 9072h0m18-2h0m37 10h0m50 0h0m15-5h0m3 4h0m35 1h0m4-6h0m-51 28h0m-22-5h0m-20-7h0m-1 9h0m-28 2h0" stroke="#d62728" stroke-width="19" stroke-linecap="round" fill="none"/><path transform="scale(.1)" d="M3646 9148h0m70-22h0m19 0h0m157 23h0m31 18h0m-69-5h0m-175 31h0m26 11h0m107-2h0m151-12h0m-273 38h0m79 27h0m54-7h0" stroke="#d62728" stroke-width="19" stroke-linecap="round" fill="none"/><path transform="scale(.1)" d="M4085 8339h0m-8-2h0m-21 28h0m0 2h0m8-17h0m2 2h0m7 9h0m1-19h0m4 23h0m0 3h0m5-28h0m2 11h0m0 15h0m2-8h0m8 39h0m-8-13h0m-8 0h0m-4-5h0m-3-1h0m-4 10h0m0 3h0m-5 6h0m-3-21h0m0 17h0m-4 3h0m-1-3h0m-4-16h0m-6 12h0m-3 5h0m5 14h0m3-1h0m4 16h0m3-20h0m8 17h0m10-1h0m11-1h0m7-13h0m-10 29h0m0 6h0m-3-7h0m-1 14h0m-8-16h0m0 17h0m-2-7h0m-4 1h0m-1 17h0m-1-11h0m-6-6h0m0 5h0m-7 4h0m-1-5h0m-4 10h0m-8-1h0m-3-2h0m-4 30h0m11 4h0m3-5h0m6 6h0m2-13h0m2-15h0m4 19h0m1 3h0m3-9h0m1-9h0m13 10h0m-2 18h0m-1 2h0m-10 11h0m0 6h0m-1-4h0m-5 11h0m-1-1h0m-3-8h0m-1-5h0m-11-8h0m-1 0h0m-2 5h0m-1 5h0m-4 5h0m-4-15h0m-2-4h0m-4 57h0m5-19h0m1-1h0m1-7h0m0 24h0m2 2h0m11 1h0m2-1h0m8 1h0m3-15h0m1-1h0m4 10h0m1-2h0m-3 16h0m-2 17h0m-3-21h0m-9 9h0m-2 9h0m-9 0h0m-8-13h0m3 31h0m7 4h0m17 10h0" stroke="#e377c2" stroke-width="19" stroke-linecap="round" fill="none"/><path d="M408.4 832.6 409.7 834.1 409.5 835.9 408 838.6 407.9 841.7 407.6 842.3 408.2 845.3 408.4 847.8 409 849.8 409 851.5 408.7 854.9 408.5 857.1 408.6 859.4 409.2 860.5 409.4 862.9 410.6 864.9 410.3 868 411.2 869.8 411 872.1 410.9 870.5 411.7 867.9 410.6 865.8 412.4 864.6 412.4 861.8 411.8 859 412.3 857.2 411.4 855.3 410.7 853 411.9 849.9 411.1 848.9 410.5 845.6 410.6 844.3 411.1 841.1 412.1 839.5 412 836.9 412.3 835.2 414.6 833.1 415 831 414.8 828.5 416.9 827.4 414.7 825.7 413.8 827.6 411.6 828.3 410.1 831.1Z" fill="#2ca02c"/><path transform="scale(.1)" d="M4149 8241h0m21 33h0m-7-10h0m-2-12h0m-19 0h0m-10 15h0m-4-11h0m-1 9h0m-1 0h0m-4 10h0m-4-2h0m-27 30h0m4-10h0m1 10h0m10-10h0m1-10h0m3 22h0m3-16h0m4-5h0m0 4h0m18-7h0m2 5h0m8 23h0m3-21h0m7 17h0m3-20h0m7 9h0m2 6h0m1-11h0m-14 31h0m-5-5h0m-1 4h0m-5 18h0m-1-14h0m-5 5h0m-1 7h0m-1-11h0m-7 12h0m-7 3h0m-18-20h0m-1 2h0m0 14h0m-1-14h0m-10-7h0m-5 24h0m-4 1h0m6 6h0m4 3h0m1 16h0m21-4h0m4-9h0m2 5h0m28-15h0m-11 40h0m-12 15h0m-5-20h0m-1 1h0m-22 12h0m-9 6h0m-12-24h0m-6 7h0m7 51h0m3-12h0m13-10h0m1 20h0m11-11h0m1 10h0m3-8h0m12 2h0m8-3h0m-1 42h0m-6-16h0m-4 10h0m-9-8h0m-6 3h0m-2-8h0m0 14h0m-7-17h0m-9-7h0m-3 8h0m-1-6h0m-8 1h0m-2 24h0m-6-14h0m1 29h0m5-2h0m8 16h0m11-2h0m9 3h0m6-6h0m2-9h0m6-2h0m4 17h0m9 2h0m-2 16h0m-1 12h0m-11-11h0m-8 6h0m-11-12h0m-7-4h0m-4 12h0m-9-14h0m-2 16h0m3 37h0m3-17h0m2 18h0m21-18h0m3-9h0m3 17h0m7-1h0m2-11h0m3 11h0m1-9h0m8 11h0m-8 31h0m-9-12h0m-2 13h0m-9-3h0m-3-16h0m-9 1h0m-1 10h0m-9-13h0m-6 3h0m6 41h0m2-11h0m5-1h0m6 6h0m2-8h0m5 4h0m9 17h0m7-6h0m17 9h0m3-21h0m-5 51h0m-1-23h0m-1 10h0m-8 6h0m-7 1h0m-4-4h0m-15 6h0m-8 9h0m2 25h0m4 2h0m9-13h0m2-11h0m11 12h0m2 9h0m15-21h0m-23 36h0m-2 13h0m-6-8h0m-11-2h0m14 41h0m0 5h0m23 5h0m-17 0h0" stroke="#2ca02c" stroke-width="19" stroke-linecap="round" fill="none"/><path transform="scale(.1)" d="M4147 8208h0m-19 18h0m-7 28h0m67 29h0m-120 27h0m84 74h0m0 10h0m-96-11h0m77 354h0m-1-7h0" stroke="#2ca02c" stroke-width="19" stroke-linecap="round" fill="none"/><path transform="scale(.1)" d="M4161 8268h0m-22-3h0m9 30h0m-19 21h0m-4 1h0m-36 56h0m21 41h0m-11 39h0m-13 47h0m23 75h0m-14 7h0" stroke="#fff" stroke-width="11.5" stroke-linecap="round" fill="none"/><path transform="scale(.1)" d="M4151 8249h0m25 23h0m-11 1h0m-17-7h0m-1-2h0m-5 10h0m-7-9h0m-7 5h0m-18 7h0m-3 6h0m9 3h0m8-3h0m2 13h0m17 12h0m3-2h0m3-26h0m8 23h0m1 4h0m2-27h0m1 2h0m-13 35h0m-7 10h0m-12 11h0m-3-27h0m-3 27h0m-5-26h0m-5 13h0m-6-5h0m-16 14h0m-1 2h0m-8 12h0m7-7h0m2 14h0m11-8h0m11 5h0m12 17h0m2-18h0m1 8h0m1 12h0m-1 12h0m-15-13h0m-3 19h0m-5-14h0m-23 17h0m10 32h0m6-7h0m5 33h0m-7-4h0m-4 6h0m-7 6h0m-1-3h0m-2-14h0m-3 2h0m-1 5h0m-1 10h0m-3-15h0m-1-11h0m-7 37h0m1-3h0m18-2h0m0 19h0m4 3h0m1-20h0m10 19h0m13-19h0m3 21h0m4 19h0m-11 5h0m-2 0h0m-6-4h0m-7-17h0m-4 8h0m-2-8h0m-7 12h0m-3 24h0m7 18h0m4-21h0m12 23h0m2-26h0m2 22h0m7 7h0m3-16h0m6 14h0m6-18h0m4 47h0m-2-3h0m-1 2h0m-9-16h0m-3-3h0m0 9h0m0 3h0m-11-10h0m-3-5h0m-6 6h0m-4 7h0m-6-5h0m-3 40h0m14-6h0m5-14h0m8 25h0m6-23h0m4 16h0m11-11h0m8 18h0m6-25h0m3 12h0m16 10h0m1-6h0m4 6h0m4 6h0m15 30h0m-4-7h0m-4-19h0m-4 22h0m-20-22h0m-7 26h0m-1-13h0m-4 6h0m-5 7h0m-16-28h0m-8-1h0m-10 9h0m0 6h0m-14 15h0m10 6h0m0 1h0m0 12h0m15 8h0m7-25h0m3 6h0m0 7h0m3-12h0m0 1h0m13 0h0m0 5h0m1 0h0m9-9h0m22 19h0m5 3h0m3-16h0m5-3h0m2 20h0m2-5h0m5 38h0m-4-18h0m-3 1h0m-8 0h0m-7-6h0m-9 15h0m-12 10h0m-19-23h0m-7 11h0m-1-8h0m-1-8h0m-1 6h0m-3 0h0m-12-2h0m-5 5h0m-1 49h0m1-20h0m3 10h0m16-7h0m1 18h0m14-10h0m17-1h0m6-16h0m8 18h0m8-6h0m24 12h0m-1 10h0m-1 18h0m-1-24h0m-5 27h0m-7-27h0m-4 23h0m-1 1h0m-1-14h0m-12 16h0m-1-21h0m-12 5h0m-2 5h0m-4 8h0m-12-1h0m-6 2h0m-26-16h0m-3-8h0m6 43h0m22-7h0m22 22h0m9-7h0m8-14h0m12 2h0m2 27h0m-28 9h0m-3 9h0m-4-4h0m-4-11h0m-14 13h0m-4-9h0m-4-13h0m0 1h0m-1 21h0m-8-2h0m-1-12h0m17 39h0m3-15h0m3 11h0m4 0h0m6-4h0m3 17h0m10-2h0m5 1h0m5-20h0m7-2h0m6 18h0m4-13h0m2-4h0m-7 38h0m-4-8h0m-4 24h0m-9-12h0m-2-3h0m-25-2h0m12 27h0m0 2h0m7 8h0m2 3h0m12 8h0m1-11h0m5-10h0m-9 25h0m-1-3h0" stroke="#2ca02c" stroke-width="19" stroke-linecap="round" fill="none"/><path transform="scale(.1)" d="M4212 9031h0m-3 19h0m-83 31h0m7-6h0m0 1h0m2 2h0m6 3h0m0 3h0m4-16h0m1 1h0m20 11h0m5-12h0m12 16h0m30-23h0m-71 38h0m-17-9h0m-6 21h0" stroke="#2ca02c" stroke-width="19" stroke-linecap="round" fill="none"/><path transform="scale(.1)" d="M4185 8239h0m3 0h0m22 9h0m7-9h0m-17 18h0m-1 13h0m-2 1h0m-2 3h0m-7 1h0m-4-20h0m-3 13h0m-1 8h0m-2-23h0m-4 9h0m0 13h0m-4 4h0m18 7h0" stroke="#8c564b" stroke-width="19" stroke-linecap="round" fill="none"/><path d="M422.1 857.8 422.1 861.5 423.6 863.7 423.4 864.9 424.3 867.3 424.3 869.4 425.6 870.7 424 873 424.8 876.3 424.6 877.7 424.3 880.2 423.9 882.7 424.1 884.2 423.4 886.8 422.9 888.7 422.5 891.5 424.4 893.4 425.4 895.9 428.1 896.2 429.1 894.3 431.7 895.2 432.8 893.5 435.3 891.9 437.3 890.8 439 890.5 439.7 888.4 440 885.4 440.7 882.9 441.3 881.4 442.1 879.1 440.7 876.6 441 875 440.5 871.8 440.5 870.3 439.6 869 438.5 866.9 437.8 864.3 437.8 862.2 436.4 859.1 436 857.3 434.9 856.4 432.3 854.2 429.8 854 428.4 852.9 426.7 853.2 426.1 854.3 424.5 857.3Z" fill="#ff7f0e"/><path transform="scale(.1)" d="M4289 8510h0m-7-1h0m-13 4h0m-3-8h0m-21 24h0m8 20h0m8-5h0m2-12h0m8 6h0m3 1h0m12-7h0m3 1h0m10 14h0m6-7h0m1-2h0m0 2h0m6-3h0m6 1h0m3-15h0m0 9h0m0 2h0m13 13h0m4-12h0m13 13h0m2-10h0m1 9h0m0 2h0m6-6h0m18 33h0m-12-6h0m-3 9h0m-6-13h0m-13-11h0m0 9h0m-4-13h0m0 2h0m-1 0h0m-13 2h0m-4 0h0m-66 5h0m0 5h0m-3-1h0m-11-10h0m-1 24h0m-3-20h0m-5-7h0m0 4h0m-6-1h0m-12 14h0m-10 27h0m4-1h0m12-3h0m11 14h0m122-6h0m5 8h0m2-8h0m5-11h0m0 19h0m5-16h0m24 25h0m-1 16h0m-2-9h0m-6-1h0m-2 1h0m-3-6h0m-1 8h0m-3-8h0m-4 5h0m-14-11h0m-122 19h0m-11 1h0m-2-14h0m6 40h0m5 5h0m3-7h0m5-8h0m2 2h0m131-6h0m3 9h0m26 36h0m-6-4h0m-2 3h0m-3-1h0m-5 12h0m-1-19h0m-1 0h0m-136-9h0m-6 8h0m-3 9h0m-2-11h0m-2 3h0m-1 13h0m-4 6h0m-12-5h0m4 7h0m12 19h0m3-11h0m10 13h0m5-5h0m137 4h0m2-12h0m8 15h0m8-9h0m3-8h0m9 14h0m-5 24h0m-2 7h0m-2-1h0m-1-11h0m-6 3h0m-153 8h0m-8-7h0m0 13h0m-1-17h0m-1 10h0m-7-16h0m0 13h0m-1 1h0m-7 1h0m0 4h0m-2 4h0m5 11h0m0 19h0m20-7h0m155 1h0m2-16h0m7 3h0m10 3h0m3-1h0m2-8h0m8 45h0m-1 12h0m-4-24h0m0 13h0m-14-10h0m-1 12h0m-174-11h0m-5-1h0m-3 7h0m-14 9h0m-4 16h0m3 2h0m3-10h0m3-1h0m1 26h0m2-22h0m5 6h0m6-8h0m165 22h0m12 2h0m0 9h0m-1 21h0m-4-5h0m-1 5h0m-5 1h0m-15-11h0m-148 9h0m-4-7h0m-3-10h0m-14 0h0m-1 15h0m0 3h0m-2-8h0m11 41h0m1-20h0m5 15h0m4 1h0m5-12h0m126 13h0m17-21h0m9 3h0m10 17h0m-10 13h0m-23 12h0m-4-16h0m-5 3h0m-22 0h0m-3 12h0m-12-1h0m-1 0h0m-7 7h0m-70-8h0m-16 0h0m-1-8h0m-7 10h0m-9 2h0m-3 0h0m24 15h0m3 2h0m3 0h0m1 15h0m9-15h0m6 12h0m15 7h0m17-26h0m4 24h0m2 4h0m3-29h0m1 25h0m3-16h0m12 4h0m7 2h0m6-7h0m4-3h0m1 2h0m3-5h0m6 3h0" stroke="#ff7f0e" stroke-width="19" stroke-linecap="round" fill="none"/><path transform="scale(.1)" d="M4228 8532h0m133-2h0m46 83h0m-219-1h0m7 44h0m10-9h0m14 77h0m1 27h0m-14 22h0m1 69h0m8 96h0" stroke="#ff7f0e" stroke-width="19" stroke-linecap="round" fill="none"/><path transform="scale(.1)" d="M4340 8572h0m-8 28h0m24 15h0m-11 10h0m-110-7h0m18 44h0m9-11h0m61-2h0m31 13h0m-85 11h0m-20 47h0m58 3h0m1-12h0m48-11h0m1 38h0m-8 4h0m-5-7h0m-93 53h0m49-15h0m28 0h0m1-2h0m40 8h0m23 8h0m7-3h0m-46 15h0m-10 10h0m-41-12h0m-29 41h0m14-4h0m2-2h0m113 19h0m-116 27h0m-12-11h0m15 37h0m15-7h0m89-8h0m6-7h0" stroke="#fff" stroke-width="11.5" stroke-linecap="round" fill="none"/><path transform="scale(.1)" d="M4196 8395h0m-14 2h0m7 15h0m12 11h0m27 28h0m-5-3h0m-18-7h0m-1 2h0m-4 4h0m-2-12h0m-6 1h0m28 50h0m11-14h0m-7 30h0" stroke="#ff7f0e" stroke-width="19" stroke-linecap="round" fill="none"/><path transform="scale(.1)" d="M4251 8994h0m-21-2h0m-16-16h0m14 38h0m4 11h0m14-22h0m-8 39h0" stroke="#ff7f0e" stroke-width="19" stroke-linecap="round" fill="none"/></g>
<rect x="321" y="817.8" width="129.7" height="128.8" fill="none" stroke="#333" stroke-width="1"/>
<text x="384.5" y="958.9" font-size="10.8" text-anchor="middle" fill="#1a1a1a" >UMAP1</text>
<text x="318.1" y="881.1" font-size="10.8" text-anchor="middle" transform="rotate(-90 318.1 881.1)" fill="#1a1a1a" >UMAP2</text>
<text x="540" y="811.5" font-size="12.2" text-anchor="middle" fill="#1a1a1a" >SpaNCMG (ARI=0.63)</text>
<g><path d="M488.8 905.9 487.2 907.6 487.8 910 489.2 912.3 489.3 913.1 491.5 915.6 493.1 917.7 494.1 918.7 495.1 921.2 495.7 922.4 496 924.9 496.7 926.7 496.6 930.3 495.8 932.2 495.5 934.3 495.8 936.1 496.9 937.6 498.2 939.9 499.6 938.3 500.9 935.5 500.4 934 501.2 932 500.5 929.9 500.9 926.7 503.5 927.7 505.3 927.8 507.2 926.3 509.4 927.9 512.3 925.8 512.9 926.5 516 924.7 516.3 923.9 517.3 922.7 519 919.1 518.4 918 516.4 915.9 515.4 913.8 515.7 911.9 512.3 910.7 511.3 910.9 508.5 908.6 506 909.3 505.3 908.2 503.5 907.2 500 906.7 499.3 905.3 495.8 905.3 494.1 903.8 492.3 904.4 489.5 905Z" fill="#2ca02c"/><path transform="scale(.1)" d="M4933 9028h0m86 21h0m-3 5h0m-25-13h0m-2 3h0m-1-9h0m-25-1h0m-1 19h0m-10-17h0m-4 10h0m-2-8h0m-10 0h0m0 7h0m-12 6h0m-3-7h0m-3 1h0m-23 0h0m0 1h0m-4-1h0m0 12h0m-5-1h0m-2-16h0m-4 10h0m-6 9h0m-8-1h0m-10 26h0m2 1h0m15 1h0m3-15h0m137-1h0m3 3h0m12-5h0m0 13h0m7-16h0m7 20h0m5-22h0m14 5h0m12 18h0m19 1h0m0 1h0m13-3h0m49 25h0m-7 9h0m-30-9h0m-4 3h0m-9-3h0m-2-1h0m-2 3h0m-1-12h0m-1-3h0m-6-1h0m-3 12h0m-5-14h0m-3-1h0m-190 15h0m-10 5h0m-6-8h0m-2-8h0m-1 7h0m-15-8h0m-2 11h0m27 20h0m10 0h0m0 2h0m4-2h0m4-6h0m10 17h0m234-6h0m15 6h0m17-7h0m19 40h0m-7 3h0m-1-14h0m-6 11h0m-6-2h0m-14-13h0m-236 13h0m-8-14h0m-6 7h0m-1 2h0m0 14h0m-7-8h0m-1-2h0m0 2h0m-1-11h0m0 11h0m-7-8h0m-3-10h0m-4-1h0m31 31h0m15 3h0m248 6h0m6-4h0m0 13h0m2-7h0m4-1h0m10 6h0m-12 30h0m-14-14h0m-4 12h0m0 11h0m-6-22h0m-1 19h0m-216-3h0m-9 0h0m-2 1h0m-1-3h0m-10-8h0m19 26h0m0 7h0m1-9h0m3-5h0m15 11h0m1-8h0m3 20h0m29 5h0m13-5h0m24 2h0m12-7h0m18 4h0m10-4h0m4 4h0m56 3h0m3-16h0m11-1h0m14-2h0m7 22h0m1-22h0m2-5h0m5 26h0m-23 3h0m-20 0h0m-8 9h0m-18 6h0m-3-13h0m-3 11h0m-7 1h0m-8-3h0m-3 10h0m-17-21h0m-5 10h0m-1 6h0m-30-11h0m0 12h0m-5 1h0m-8-17h0m-6 25h0m-2 3h0m-12-26h0m-5 8h0m-21 5h0m-6-12h0m-4 13h0m-3-15h0m0 18h0m-10-15h0m0 16h0m-3-7h0m0 21h0m3 17h0m6-19h0m14 24h0m1-4h0m2-15h0m1-7h0m1 25h0m17-15h0m2 13h0m5-17h0m16 1h0m6 21h0m-9 17h0m-1 1h0m-14-10h0m-23-2h0m-8 0h0m-10-4h0m-9 1h0m-2 37h0m10 4h0m5-11h0m3 13h0m8-12h0m3 2h0m16 9h0m0 9h0m7-1h0m1-12h0m0 7h0m1 11h0m8-21h0m7 11h0m1 1h0m1 2h0m8-2h0m1 6h0m3-17h0m-12 23h0m-4 0h0m-6 11h0m-9 3h0m-28 6h0m-2-17h0" stroke="#2ca02c" stroke-width="19" stroke-linecap="round" fill="none"/><path transform="scale(.1)" d="M4965 9005h0m18 11h0m7 9h0m-139 6h0m299 57h0m-293 46h0m7 13h0m34 43h0m159 113h0m-23 56h0m-5-12h0" stroke="#2ca02c" stroke-width="19" stroke-linecap="round" fill="none"/><path transform="scale(.1)" d="M4931 9056h0m-16-2h0m-14 32h0m56-16h0m69 13h0m11-9h0m102 41h0m-118-19h0m-28 20h0m-7-23h0m-57 0h0m-19 0h0m-7 18h0m24 38h0m66-27h0m40 25h0m9-15h0m14-9h0m34 22h0m3-20h0m58 7h0m6 9h0m-1 38h0m-25-17h0m-32 4h0m-2-8h0m-25 3h0m-8 18h0m-40-12h0m-25-4h0m-16-12h0m0 11h0m7 43h0m11-1h0m31-10h0m42-4h0m33-9h0m28 2h0m3 24h0m2-14h0m30 21h0m-2 6h0m-51 9h0m-34 2h0m-34 8h0m-93-22h0m11 29h0m133 3h0m48-4h0m10 8h0m-171 36h0m-5 10h0m26 60h0m-8-13h0" stroke="#fff" stroke-width="11.5" stroke-linecap="round" fill="none"/><path d="M479.1 860.5 478.7 861.7 479.4 863.2 479.4 866.5 480.3 868.6 480.6 871.1 480.6 873.5 481 874.1 482.5 876.8 482.4 879.6 482.7 880.8 483.7 882.7 485 884.8 486.1 888.2 486.8 888.9 486.7 892 488.6 893.6 489.1 894.6 491.5 897.5 492.7 898.5 495.1 899.5 495.3 901.1 497.7 902.2 499.6 903.1 501.7 904.5 503.7 905.7 506.1 907 507.7 906.8 506.9 904.2 505.8 903.6 504 901 501.4 898.7 501.8 898.2 499.9 895.4 499.1 893.6 497.2 892.2 496.9 888.9 496.2 887.5 494.3 886.3 494.6 883 493 881.7 493.8 878.7 493 876.5 492.4 875.5 491.1 873.5 490.5 870.8 489.9 868.3 488.2 867.3 488.7 864.7 488.5 861.9 488.7 859.8 486.9 857.5 487.1 855.1 486.6 853.2 485.1 852.2 483.1 852.8 482.6 854.3 481.3 856.1 480.3 857.7Z" fill="#8c564b"/><path transform="scale(.1)" d="M4849 8495h0m-8 8h0m-4 9h0m-2-4h0m0 11h0m-3-5h0m-1-6h0m-8 8h0m-1-6h0m0 9h0m-9 14h0m3-6h0m6 16h0m21-13h0m8-4h0m20 12h0m2-16h0m0 8h0m0 18h0m6-6h0m16 24h0m-2-6h0m0 17h0m-3-8h0m-2-4h0m-8-9h0m-1-1h0m-60 2h0m-2 0h0m-10 1h0m0 1h0m0 7h0m-16 0h0m-7 7h0m4 19h0m1-8h0m0 13h0m3-5h0m5 5h0m4 4h0m85-5h0m8 7h0m6 10h0m-8 21h0m-109-22h0m0 51h0m20-14h0m6-2h0m65-2h0m18-2h0m13 43h0m-3-12h0m-2 4h0m-8 0h0m-7 7h0m-2-7h0m-72 0h0m-6 13h0m-4-9h0m-3 9h0m-13 9h0m9 6h0m0 12h0m10-8h0m9 9h0m79-4h0m5-2h0m5 4h0m10 2h0m5 0h0m1 9h0m9-4h0m1 10h0m-13 18h0m-5 3h0m-1-21h0m0 24h0m-3 0h0m-85 0h0m-2-9h0m-9-3h0m-17-10h0m6 29h0m10 20h0m2-9h0m5-16h0m16 24h0m86 2h0m1-2h0m8-15h0m21 31h0m-1 18h0m-2-6h0m-5 6h0m-9-10h0m-5-10h0m-88 20h0m-1-20h0m-1 16h0m-3-21h0m-5-1h0m-14 15h0m-2-2h0m16 19h0m0 21h0m8-13h0m19 13h0m80-9h0m1-1h0m0 5h0m7-5h0m11 9h0m3-12h0m3 17h0m12 7h0m-11 3h0m0 5h0m-10-3h0m-2-8h0m-6 6h0m-80 5h0m-9 6h0m-2-12h0m-19-2h0m-2 3h0m24 47h0m6-16h0m23 15h0m75-16h0m6 16h0m1-11h0m4-11h0m1 20h0m10 6h0m29 23h0m-8 1h0m-15 1h0m-9-9h0m-1 1h0m-1-7h0m-9 4h0m-79-6h0m-3 12h0m-5-7h0m-11 1h0m-5 13h0m6 6h0m8 0h0m8 5h0m6-3h0m8 9h0m27 11h0m64-12h0m7-3h0m7 10h0m1 6h0m11-14h0m2-1h0m29 49h0m-24-20h0m-6 12h0m-6 4h0m-3-3h0m-2-17h0m-6-3h0m-1-2h0m-52 17h0m-3-4h0m-1 8h0m-4 0h0m-3 0h0m-3-8h0m-2 15h0m-7-8h0m-1-7h0m-6-4h0m-7 7h0m-7-16h0m-4 11h0m34 33h0m11-8h0m18 21h0m1-20h0m15 15h0m6-6h0m7 9h0m15 3h0m6-28h0m19 10h0m10-10h0m0 18h0m22 7h0m16 32h0m-7-8h0m-17-10h0m-2-3h0m-2 9h0m-5-4h0m-5 18h0m-8-12h0m-3 10h0m-27-10h0m-10-1h0m-6-15h0m-1 11h0m0 10h0m-4-16h0m-18 1h0m-2-5h0m55 28h0m34 25h0m1-25h0m7 11h0m3-8h0m2 14h0m9 4h0m6-19h0m1 6h0m8 6h0" stroke="#8c564b" stroke-width="19" stroke-linecap="round" fill="none"/><path transform="scale(.1)" d="M4885 8515h0m-17-9h0m40 20h0m-122 26h0m127 57h0m57 204h0m-172-11h0m8 24h0m200 98h0m-6-10h0m-162 6h0m20 23h0m252 114h0" stroke="#8c564b" stroke-width="19" stroke-linecap="round" fill="none"/><path transform="scale(.1)" d="M4870 8572h0m-73 22h0m23-6h0m49-1h0m-3 38h0m-59 16h0m28 10h0m46 6h0m5 42h0m-17-19h0m-11 11h0m-60-19h0m69 50h0m39 2h0m-4 19h0m-53 3h0m-12 20h0m43-5h0m2 6h0m-22 66h0m70 31h0m-47 12h0m66 63h0m-41-25h0m13 41h0m29 35h0m36 23h0m47 32h0m-10 0h0" stroke="#fff" stroke-width="11.5" stroke-linecap="round" fill="none"/><path d="M489.7 848.2 489.2 851 489 852.3 489.8 854.8 488.8 856.9 489.4 858.3 489.5 861.5 490.4 862.7 491.8 864.8 492.3 867.6 493.4 869.4 493 872 494.3 874.3 493.9 876.4 494.9 878.7 495.6 880.5 496.6 882.3 498.3 884.1 497.7 885.6 499.7 889 499.3 889.6 501.7 892.1 502.2 893.8 502.8 895.9 504 898.3 505.1 900.1 507.3 901.9 508.3 903.8 510.4 904.7 512 906.7 512.6 907.9 515.1 910.2 516.3 910.1 516.9 909.1 515.8 907.5 515.6 905 514.2 903.5 513.9 901.4 513 900.5 511 898.7 510.5 896.8 508.3 893.8 507.6 892.7 506.7 889.5 505.6 888.5 505.7 886.2 505.2 884.7 503.1 881.5 503.9 879 502.2 878.1 500.9 874.8 501 873.6 499.5 870.6 499.6 869 501.2 867.4 500.4 864.4 500.9 863 500.8 861 501.7 857.2 500.9 855.5 500.8 853.7 499.9 851.2 499.7 849.2 500.4 847 497.7 845.4 496.1 844 494.4 844.2 492.3 844.3 490.7 846.8Z" fill="#9467bd"/><path transform="scale(.1)" d="M4939 8427h0m2-15h0m5 16h0m2-2h0m3 1h0m52 28h0m-10-7h0m-2-2h0m0 2h0m-3-7h0m-5 5h0m-23-12h0m-3 13h0m-4-1h0m-2 1h0m-1-12h0m-6 8h0m-3 5h0m-11 2h0m-4-3h0m-3-7h0m-5-5h0m-1-2h0m-2 7h0m-4 14h0m-6 24h0m8 4h0m1-1h0m62-16h0m6 4h0m9-4h0m4 21h0m11-2h0m2-17h0m1 7h0m5 15h0m5 26h0m-2-12h0m-4 13h0m-2-11h0m-17-2h0m-1-6h0m-3 18h0m-88-25h0m-3 0h0m-4 3h0m-6 6h0m-11 18h0m1 25h0m1 1h0m5-8h0m7-4h0m2-2h0m0 11h0m3-8h0m7-3h0m94 7h0m5 11h0m13-5h0m-5 29h0m-8-6h0m0 14h0m-2-14h0m-97-12h0m-5 15h0m-7-4h0m-7 3h0m-1 9h0m-2-23h0m-6 24h0m21 30h0m1-14h0m0 7h0m3-8h0m6-1h0m96-1h0m11-4h0m0 18h0m13-21h0m0 19h0m-2 22h0m-3 5h0m-4-7h0m-4 1h0m-7 16h0m-9-28h0m-96 28h0m-11-14h0m30 34h0m1-3h0m74-1h0m2-6h0m7 3h0m2 13h0m12-4h0m7-3h0m-9 33h0m-11-8h0m-75-8h0m-1 2h0m-4-5h0m-2 18h0m-6-1h0m11 33h0m64-16h0m1 23h0m1-29h0m1 17h0m7-9h0m0 12h0m6 4h0m10 1h0m4 1h0m15 31h0m-4-1h0m-16 2h0m-2-23h0m-13 12h0m-57-1h0m0 7h0m-3-21h0m-7-1h0m-10 3h0m-2 12h0m17 31h0m8-14h0m60-2h0m1-1h0m12 20h0m18-16h0m6 24h0m-2 4h0m-2 1h0m-10 23h0m-16-26h0m-48 29h0m-1-11h0m-4 8h0m-2-19h0m-1 0h0m-2 1h0m-14 17h0m13 13h0m5 7h0m4-15h0m18 13h0m61-11h0m1 25h0m9-6h0m2 5h0m4 27h0m-7 1h0m-7 2h0m-1-17h0m-51 9h0m-4-12h0m-3 2h0m-3 16h0m-5-14h0m-4 36h0m5 0h0m9 9h0m9-25h0m0 23h0m2-11h0m51-1h0m4 8h0m8 7h0m1-24h0m8 11h0m2 2h0m29 39h0m-5-9h0m-34-6h0m-40 12h0m-1-4h0m-4 7h0m-6-2h0m-8-1h0m-7 3h0m-11-14h0m12 21h0m28-1h0m0 26h0m8 1h0m6 0h0m30-27h0m8 13h0m8 6h0m6 0h0m3-3h0m5 2h0m3-16h0m0 6h0m3-7h0m11 22h0m3-1h0m11 30h0m-7 2h0m-14-23h0m-4 19h0m-12-9h0m-5-9h0m-18 23h0m-10 3h0m-1-13h0m-20 14h0m-8-14h0m-8-2h0m39 32h0m1-10h0m7 7h0m42 0h0m4-10h0m15-2h0m0 2h0m9 5h0m0 1h0m3-3h0m1 23h0m1-5h0m8-1h0m3 7h0m2 3h0m-6 12h0m-10 4h0m-12-6h0m-5-10h0m-40 4h0m-1 5h0m-2-7h0m-4 2h0m0 23h0m1 3h0m15 13h0m14 1h0m9 2h0m6-16h0m12 20h0m27-18h0m9 23h0m5-23h0m5 8h0m14 37h0m-9-3h0m-7-6h0m-11 15h0m-14-11h0m-4-12h0m-1 2h0m-4 1h0m-18 5h0m-1-1h0m-11-8h0" stroke="#9467bd" stroke-width="19" stroke-linecap="round" fill="none"/><path transform="scale(.1)" d="M4896 8452h0m-24 20h0m173 92h0m-1 44h0m-16 115h0m12 4h0m-118 76h0m41 85h0m175 74h0m-117 39h0m30 46h0m15 17h0m126-4h0m21 29h0m-26 47h0" stroke="#9467bd" stroke-width="19" stroke-linecap="round" fill="none"/><path transform="scale(.1)" d="M4928 8480h0m35-3h0m2 29h0m-42-11h0m-13 8h0m33 26h0m35 12h0m-27 24h0m-20 5h0m18 17h0m19 1h0m7 34h0m-64 15h0m-1-12h0m43 26h0m50-10h0m-55 60h0m18 9h0m49 40h0m-40 21h0m26 14h0m15 25h0m-44 1h0m0 19h0m76 29h0m-2 63h0m19 26h0m48 35h0m2 40h0m-14 29h0m67 53h0" stroke="#fff" stroke-width="11.5" stroke-linecap="round" fill="none"/><path d="M502.2 846.5 501.7 848.2 502.3 851.1 502.4 851.9 503.9 854.5 502.9 856.8 504.7 859.8 503.2 861 502.8 864 502.7 865.6 503.6 868 503.6 870.8 502.8 871.9 503.7 874 504 876.4 505.5 879.2 506.1 881.5 506.6 882.3 507 884.7 508.1 887.9 509.4 889.3 510.9 891.2 510.4 893.5 512.1 894.5 513.3 896.3 515.1 898.7 516.5 900.9 517.6 902.7 518.5 902.9 519.8 899.8 521.6 898.5 522.2 895.5 523 893.9 522.5 891.3 522.2 890.5 521.9 887.3 521.4 886.4 519.9 882.9 520.5 881.2 519 878.8 517.8 876.7 516.5 875.4 516.6 873.2 515.4 870.6 515.6 869.4 514.9 867.4 514.9 863.7 513.8 862.1 515.4 859.5 515.1 857.3 514 855.9 513.3 852.5 513.3 850.9 513.5 848.5 513.1 846.4 513.2 843.9 513.9 842.7 513.2 840.9 510.2 839.5 509.4 836.9 508.4 838.3 505.3 841 504.2 842.9 503.9 843.9Z" fill="#ff7f0e"/><path transform="scale(.1)" d="M5070 8368h0m1-4h0m17 3h0m8-11h0m38 32h0m-1-4h0m-19-6h0m0 14h0m-4-11h0m-1 9h0m-10-1h0m-2-1h0m-1-14h0m-7 8h0m-5-11h0m-1 9h0m-3 12h0m-2-11h0m-16 13h0m-14 1h0m-16 22h0m22 7h0m5-8h0m6 6h0m72-19h0m17 52h0m-16-20h0m-1 14h0m-7-10h0m-3-2h0m-1 3h0m-1 5h0m0 2h0m0 8h0m-1 2h0m-1-13h0m-82-11h0m0 2h0m-8 6h0m0 5h0m-1-11h0m-4 15h0m-7-11h0m-7 4h0m0 4h0m-3 8h0m-1-11h0m-5 44h0m122-6h0m6-4h0m15-1h0m8-10h0m-2 39h0m-10-14h0m-1 4h0m-1 20h0m-6-3h0m-3 3h0m-104-12h0m0 4h0m-6 6h0m-14-24h0m3 39h0m3 10h0m20-15h0m3 11h0m101 0h0m8 9h0m7-11h0m2 10h0m5 27h0m-6 8h0m-21-7h0m-87-4h0m-1 4h0m-14-17h0m-3-4h0m-3 15h0m-4 6h0m12 36h0m119-26h0m4 22h0m2-3h0m7 23h0m-2-7h0m-2 4h0m-3-9h0m-6 21h0m-3 0h0m-9-19h0m-94 3h0m-8 19h0m-10-19h0m-5 23h0m-1-1h0m-5-26h0m-5 46h0m14-12h0m5 10h0m3 10h0m0 3h0m1-24h0m8 12h0m93 1h0m4 1h0m2-11h0m1 19h0m12 0h0m5-20h0m11 40h0m-25-13h0m-2 16h0m-2-11h0m-99-1h0m-1 12h0m-7-19h0m-3 26h0m-10-24h0m0 9h0m-1 1h0m-8-7h0m-1 16h0m10 20h0m1 17h0m10-11h0m156 27h0m-7 10h0m-2 2h0m-7-2h0m-5-16h0m-2-3h0m-3 3h0m-117-8h0m-4 8h0m-7 9h0m-3 5h0m-2-12h0m-1-2h0m-6-8h0m17 30h0m2 19h0m4 7h0m5 1h0m12 0h0m113-22h0m6-5h0m0 25h0m9-16h0m5-7h0m1 20h0m17 23h0m-6-6h0m-2-3h0m0 5h0m-10-9h0m-125 19h0m-10 0h0m-5-18h0m-14 9h0m13 21h0m0 14h0m3-5h0m9-13h0m126 5h0m6-5h0m11 9h0m5-7h0m0 7h0m19 28h0m-23 8h0m-143 6h0m-1 6h0m-9-26h0m10 31h0m5 13h0m9 6h0m11-5h0m1 9h0m13-9h0m108 8h0m2-15h0m11 5h0m9 8h0m0 6h0m-9 31h0m-2-3h0m-1-21h0m-4 8h0m-10 16h0m-98-16h0m-1 11h0m-8-13h0m-15-11h0m24 41h0m4-7h0m2 24h0m3-28h0m2 29h0m89-27h0m7 9h0m5 12h0m2-5h0m-5 25h0m-3-7h0m-7-5h0m-9 18h0m-3 10h0m-4-12h0m-41 4h0m-6-3h0m-3-10h0m-1-4h0m-7 19h0m-22-16h0m22 28h0m5 8h0m2 9h0m10-2h0m4-14h0m6 12h0m1 9h0m31-24h0m2 17h0m6-14h0m0 15h0m5-9h0m5 0h0m-11 19h0m-1 0h0m-1 10h0m-11-3h0m0 10h0m-13-8h0m-5-3h0m-10-3h0m-6 3h0m-4-7h0" stroke="#ff7f0e" stroke-width="19" stroke-linecap="round" fill="none"/><path transform="scale(.1)" d="M5107 8354h0m34 13h0m23 170h0m10 17h0m-4 5h0m-161 31h0m-7 59h0m10 76h0m-4 15h0m215 41h0m-189 22h0m226 65h0m-17-2h0m-9 155h0" stroke="#ff7f0e" stroke-width="19" stroke-linecap="round" fill="none"/><path transform="scale(.1)" d="M5122 8407h0m-9 45h0m-50-12h0m-27 28h0m9-6h0m64 10h0m-13 22h0m-8 4h0m-2 14h0m-51 7h0m-7 0h0m27 15h0m69-11h0m-8 29h0m-10 26h0m-61 21h0m25 3h0m68 37h0m-21-26h0m-13 19h0m-46-13h0m-13 45h0m49-7h0m48 30h0m-15 2h0m-8-13h0m2 28h0m27 13h0m-35 40h0m-5-17h0m-56-8h0m16 35h0m37 28h0m-5 46h0m3-6h0m41 33h0m-24-12h0m23 42h0m9-1h0m56 3h0m-30 10h0m-1 30h0m41 1h0" stroke="#fff" stroke-width="11.5" stroke-linecap="round" fill="none"/><path d="M515.9 834.8 515.8 836.4 514.9 838.9 516 840.4 515.7 842.8 516.4 845.1 516.4 847.3 515.7 849.8 515.8 852.3 516.9 853.8 516.3 856.2 516.7 857.7 517.5 860.7 518 862.5 518.4 865.5 517.4 867.2 518.1 869.7 519.9 870.7 519.9 872.8 521.1 875.2 520.8 877 521 880.6 522.9 882.1 523.6 883.8 526 884.5 527.8 882.4 527.3 880 529.6 878.9 529 875.8 529.5 874.6 528.2 872.5 528.5 869.2 528.2 867.2 527.9 865.4 528.3 864 528.5 861.8 529.3 859 529.6 855.8 528.9 854 530.7 852.4 530.5 849.6 531.1 848.8 531.9 846.1 533.8 843.3 534 841.7 534.2 840.3 534.9 837.3 534.2 834.9 534.4 833.1 534.3 831.1 531.7 829.2 530 827.7 529.5 828.1 526.8 825.9 524.8 825.5 522.3 824.8 521.6 826.6 520.5 828.9 518.2 830 516.7 832.8Z" fill="#e377c2"/><path transform="scale(.1)" d="M5220 8244h0m1-7h0m25 6h0m10 5h0m61 29h0m-1-4h0m-5 3h0m-26-20h0m-2 18h0m-3-6h0m-3-11h0m-19 3h0m-3 1h0m-2-11h0m-3 5h0m-9 5h0m-7 8h0m-3-15h0m-10 18h0m-2 2h0m0 5h0m-1-18h0m-12 13h0m-3-14h0m-5 13h0m-33 32h0m15-21h0m9 1h0m4 4h0m1 13h0m3-13h0m20-3h0m101-5h0m5 12h0m11-1h0m11 7h0m22 14h0m-1 16h0m-3 8h0m-28-2h0m-140-24h0m-20 28h0m-4-1h0m-6-9h0m-1-14h0m-2-1h0m-2 17h0m-20 5h0m-1 33h0m6-13h0m11 7h0m181-6h0m1-2h0m5 4h0m3-9h0m1 15h0m4-19h0m-3 38h0m-3 16h0m-12-16h0m-168-1h0m-2-4h0m-5-4h0m-5 18h0m-11-9h0m-7-4h0m0 6h0m20 20h0m168 20h0m3-4h0m20-15h0m1 3h0m-10 23h0m-7 17h0m-4-14h0m-6-4h0m-152 20h0m-5-19h0m-1 7h0m-5 11h0m-1 1h0m-3-18h0m-4 26h0m-12-25h0m17 44h0m10-17h0m3 22h0m1-3h0m3-16h0m136 8h0m7 2h0m10 7h0m8 2h0m-4 15h0m-6-5h0m-1 16h0m-150-2h0m-1 3h0m-4-8h0m-8-6h0m0 17h0m-3-11h0m-1 12h0m-5 3h0m3 17h0m2-4h0m1 16h0m2-19h0m2-5h0m3 1h0m1 22h0m2 1h0m7-15h0m1-9h0m1 12h0m114-4h0m16 1h0m16-4h0m-18 23h0m-1 0h0m-7 21h0m-8-2h0m-1 7h0m-2-7h0m-100 5h0m-10-11h0m-9 7h0m-1-13h0m-3 22h0m-8-6h0m5 17h0m3-10h0m9 14h0m126 10h0m9 3h0m1-3h0m-13 24h0m-4 4h0m-15-14h0m-89 16h0m-17-17h0m-1 16h0m-7 0h0m-5-12h0m14 47h0m15-24h0m4 16h0m91-1h0m6-8h0m16 11h0m3 22h0m-14-6h0m-5-4h0m-91 20h0m-1 4h0m-8-5h0m-14-23h0m-2 6h0m-3 18h0m9 35h0m3 0h0m9-10h0m9-13h0m3-1h0m0 20h0m8 4h0m80-23h0m1-3h0m18 12h0m3 4h0m0 25h0m-18 3h0m-9-6h0m-76 5h0m-3 2h0m-1-7h0m-1-8h0m-6 25h0m-1-26h0m-3 12h0m-6 2h0m-5-11h0m-3-3h0m22 36h0m3 2h0m80 19h0m2-6h0m2-13h0m5-8h0m6 25h0m9-2h0m3-23h0m4 23h0m-9 18h0m-3-2h0m-2 12h0m-1-14h0m-5 10h0m-7 10h0m-2-23h0m-14 22h0m-39-16h0m-11 15h0m-2-8h0m-2-1h0m-14-3h0m12 35h0m2 1h0m4-18h0m8 15h0m6-8h0m1-4h0m6 14h0m5-9h0m1 12h0m12-4h0m15-19h0m0 7h0m-2 29h0m-14 0h0m-16-5h0m0 5h0m-13-2h0" stroke="#e377c2" stroke-width="19" stroke-linecap="round" fill="none"/><path transform="scale(.1)" d="M5225 8221h0m-62 59h0m201 146h0m-236 18h0m2 107h0m5 64h0m15 70h0m26 100h0m7 11h0m10 36h0m12 8h0m76 29h0m-56-9h0" stroke="#e377c2" stroke-width="19" stroke-linecap="round" fill="none"/><path transform="scale(.1)" d="M5258 8264h0m-52 37h0m42-1h0m30 37h0m-14-14h0m-62-2h0m-39 15h0m21 31h0m12-9h0m73-16h0m8 8h0m-32 29h0m-31 20h0m-54-28h0m20 50h0m114 19h0m-51-5h0m-8 20h0m-15-21h0m-17 14h0m-32 10h0m-3 28h0m5 1h0m77-12h0m52-2h0m-22 39h0m-96 20h0m69-6h0m3 24h0m-3 16h0m-42 12h0m-12 19h0m69-14h0m-32 43h0m-7 117h0m-14-3h0m56 23h0m20 20h0m-29 24h0m-27 6h0m-7 3h0m-5-13h0m34 18h0" stroke="#fff" stroke-width="11.5" stroke-linecap="round" fill="none"/><path d="M535.4 841.9 536.1 843.8 534.3 846.7 534.2 849.3 532.9 850.4 533.4 853 531.5 855.4 532.3 857.3 530.8 859.2 530.4 861.9 530.3 862.9 531.4 866.1 530.8 868.4 530.5 869.2 532.1 872.4 532.7 874.2 533 875.8 535.5 875.5 538.2 876.4 539.5 876.4 541.7 876.4 544.5 877.9 545.8 878.6 548.2 879.6 549.7 879.5 551.8 880.3 554.1 881.9 555.8 883.8 555.6 885.7 556.7 887.5 558.7 887.8 560.7 886.6 561.3 885.7 562 882.7 561.7 881.1 563.4 878.4 562.5 876 563 875.1 563.6 873.1 564.7 869.5 563.8 867.6 564.1 866.2 565.5 863.2 564.9 861 564 860.2 562.5 856.7 561.5 855.3 560.2 853.9 558.8 853.9 556.7 853.1 553.9 851.5 552.2 851.3 550.7 850.5 548.4 848.4 547.1 848.6 544.7 846.7 543.1 845.9 541.5 843.9 540.5 842.2 539.6 840.2 538.8 838.4 536.7 839.4Z" fill="#1f77b4"/><path transform="scale(.1)" d="M5385 8364h0m14 3h0m6 31h0m-14-2h0m-15-24h0m-3 0h0m0 7h0m-1 9h0m-4-5h0m-16 22h0m20-3h0m32 1h0m3 26h0m1-17h0m1-10h0m2 1h0m38 40h0m-2 9h0m-2 1h0m-6-6h0m-3-13h0m-9 6h0m-3 1h0m-3 2h0m-8-5h0m-43-8h0m-4 15h0m-21 6h0m-23 34h0m2-6h0m9-1h0m5 8h0m24-21h0m66 1h0m9-1h0m4 1h0m2-2h0m1-3h0m2 15h0m3-10h0m6 3h0m0 13h0m2 0h0m4-18h0m12 0h0m2-1h0m1 24h0m4-10h0m13 0h0m17 3h0m73 36h0m-24-12h0m-9-8h0m-17 22h0m-2-2h0m-2-12h0m-12-8h0m-8 11h0m-8-10h0m-3 9h0m-5-9h0m-6 3h0m-140 11h0m-5-7h0m-20 35h0m7-14h0m3 18h0m9-21h0m196-2h0m12 3h0m6 6h0m9 7h0m14 5h0m5 2h0m5-12h0m11 5h0m0 6h0m9 4h0m2 0h0m11-18h0m1-1h0m9 18h0m15 23h0m-3 7h0m-21 0h0m-4-10h0m-8-7h0m-290-6h0m-5 18h0m-10 31h0m1-17h0m4 8h0m3-1h0m314 10h0m1-3h0m6-1h0m2-11h0m3 20h0m3-19h0m2 18h0m3-24h0m17 25h0m2 30h0m-3-22h0m0 13h0m-8-1h0m-1-5h0m-9 4h0m-1 6h0m-5-1h0m-337-17h0m-13 33h0m4 17h0m8-16h0m2 2h0m6 3h0m326 16h0m2-6h0m11-2h0m16 21h0m-4 10h0m-4-21h0m-1 27h0m-12-26h0m-320 11h0m0 5h0m-3-9h0m-1-6h0m-4 15h0m-14-4h0m-3-7h0m0 36h0m1 12h0m3 3h0m7-1h0m2-17h0m11 20h0m3-18h0m4 8h0m306-1h0m2 9h0m1-27h0m4 28h0m7-13h0m6-7h0m-3 25h0m-12 26h0m-7-1h0m-8-27h0m-218 25h0m-14 1h0m-7-1h0m-20 1h0m-7 0h0m-19-8h0m-16 8h0m-1-8h0m-11-5h0m-3-10h0m-3 15h0m-1-7h0m4 35h0m1-9h0m22-6h0m2 0h0m5 14h0m8-13h0m22 10h0m4-6h0m1 7h0m9 4h0m3-2h0m5-12h0m5 17h0m8 4h0m8-14h0m20 16h0m1-24h0m4 25h0m6-7h0m6-1h0m11 9h0m22-7h0m19 7h0m119-18h0m2 2h0m7 5h0m12-6h0m4-8h0m2 1h0m5 2h0m-9 40h0m-1-10h0m-1 13h0m-3 4h0m-4-16h0m-6 3h0m-10 1h0m-68 14h0m-16-10h0m-12 4h0m-15-4h0m-1-13h0m-3-3h0m-6 23h0m-3-11h0m-18 2h0m-4-12h0m-14-2h0m-3 9h0m-5-5h0m51 26h0m14 1h0m15 0h0m4 3h0m8 7h0m2 8h0m9-13h0m0 7h0m5 12h0m52-10h0m3 13h0m4-10h0m16-1h0m0 2h0m1 4h0m2-8h0m3 10h0m-7 27h0m-4-22h0m-2 20h0m-5-7h0m0 16h0m-4-19h0m-7-9h0m-3 7h0m-4 1h0m0 9h0m-6-3h0m-1 7h0m-15-6h0m-4 11h0m-7-15h0m-4 0h0m-18-12h0m0 1h0m17 40h0m0 1h0m2 7h0m18-14h0m2 18h0m13-16h0m11-4h0" stroke="#1f77b4" stroke-width="19" stroke-linecap="round" fill="none"/><path transform="scale(.1)" d="M5408 8369h0m39 37h0m14 39h0m-181 153h0m0 86h0m380 74h0m-303 20h0m301-10h0m-263 29h0m107 44h0m39 32h0m-22-14h0m106 39h0m-48 21h0" stroke="#1f77b4" stroke-width="19" stroke-linecap="round" fill="none"/><path transform="scale(.1)" d="M5397 8408h0m2 3h0m4 31h0m-49 36h0m25-18h0m6 17h0m27 8h0m3-18h0m4 12h0m8-9h0m6 15h0m46 28h0m-36 4h0m-65-1h0m-29-13h0m-9 21h0m12 22h0m1 2h0m6-2h0m21-16h0m74 17h0m5-16h0m29-7h0m3 6h0m28 17h0m9-17h0m29-2h0m68 38h0m-73-12h0m-11 14h0m-18-7h0m-141 13h0m-12 2h0m-24-20h0m-29 25h0m18 14h0m60 6h0m24-13h0m13 16h0m23 4h0m8-13h0m64 13h0m9-11h0m43 9h0m14 0h0m8 3h0m28-19h0m-36 26h0m-9 5h0m-23-8h0m-27 22h0m-103-24h0m-47 55h0m2-1h0m11-14h0m70 6h0m100-3h0m16 12h0m44 0h0m18 23h0m-45 7h0m-20-16h0m-13 7h0m-24-16h0m-6 24h0m-8-17h0m-32-6h0m-3 0h0m-2 27h0m-15-13h0m-15 13h0m-21-24h0m-18 6h0m-4 15h0m-18-7h0m-7-8h0m-26-3h0m-39 11h0m114 24h0m74-12h0m1 4h0m20 8h0m61 12h0m6-17h0m11-7h0m13 43h0m-22 4h0m-160-4h0m-11 12h0m-48-14h0m-66 2h0m125 24h0m34 21h0m138-12h0m10-11h0m-2 31h0m-6 3h0m-9-4h0m-23 13h0m-16 3h0m-24 2h0m9 13h0m27 31h0" stroke="#fff" stroke-width="11.5" stroke-linecap="round" fill="none"/><path d="M568.7 855.3 567.5 858 567.7 861.3 568 862.3 566.7 864.6 567.3 866.4 568.5 869.4 569.6 871.9 569.9 872.5 570.6 874.6 571.9 875.7 575.6 877.8 576.6 878.8 579.4 879.5 581.8 879.2 582.9 879.7 584.9 880.5 587.3 881.1 589.7 880 591.8 880.4 595 880.3 595.2 879.1 598.5 876.2 599.2 874.7 600.4 872.4 600.9 871 601.3 869.4 599.9 865.9 598.7 865.2 599.1 862 597.4 861.3 596.3 858.9 595.1 856 593.4 855.6 591.6 854.2 589.8 853.4 588 852.3 585.8 851.8 582.7 850.2 580.9 850.2 579 851.1 577.3 849.3 575 849.7 572.8 851.9 572.2 853.9 569.8 855.3Z" fill="#d62728"/><path transform="scale(.1)" d="M5753 8485h0m0 3h0m4-1h0m44 2h0m4-4h0m13 1h0m1 3h0m8-1h0m56 23h0m-14-3h0m-5-8h0m-6 11h0m-21-16h0m-4 7h0m-3 9h0m-6-17h0m-17 13h0m-23 7h0m-8-22h0m-21 1h0m-2 17h0m-3 1h0m-6-17h0m-19 24h0m-10-11h0m-43 40h0m9-4h0m2-1h0m2-11h0m9 15h0m9-14h0m4 10h0m1-9h0m6-10h0m6 15h0m21-18h0m146 0h0m0 22h0m22-19h0m0 2h0m4-4h0m1 20h0m12 3h0m5-11h0m10 10h0m6-3h0m5 0h0m13 8h0m1 18h0m-1-6h0m-8-4h0m-6 20h0m-1-1h0m-21-17h0m0 3h0m-12-2h0m-222 0h0m-1-5h0m-2-1h0m-1 23h0m-23-18h0m-4 17h0m-3-21h0m0 27h0m19 5h0m269-2h0m3 2h0m10 21h0m3-9h0m9 9h0m7-16h0m3-4h0m0 5h0m0 11h0m17 24h0m-2 5h0m-1 0h0m-3-1h0m-8 7h0m-2-19h0m0 6h0m-1 11h0m-6-12h0m-11-10h0m-287 13h0m-14 16h0m1 15h0m316-16h0m7 9h0m2-7h0m11-3h0m5 1h0m5 0h0m1 27h0m8 1h0m-27 5h0m-303 18h0m-15-7h0m-4 11h0m-11-19h0m-1 3h0m-6-9h0m18 39h0m8 16h0m12-14h0m3-5h0m295-3h0m1 15h0m13 1h0m3-10h0m3-7h0m5 0h0m2-1h0m-5 33h0m-3 22h0m-5-15h0m-2-12h0m-1 23h0m-282-11h0m-13-3h0m-5 17h0m-12-16h0m-6-8h0m-3 1h0m17 29h0m7 6h0m8-7h0m20 10h0m2-9h0m5 15h0m5-7h0m4-2h0m1 20h0m6-16h0m5 10h0m9-9h0m9 9h0m65 5h0m83 0h0m28-2h0m10-4h0m11-4h0m1-18h0m14 3h0m-43 42h0m-6-5h0m-6 12h0m-2 0h0m-1-18h0m-3-1h0m-5 2h0m-4 0h0m-1 18h0m-10 3h0m-5-16h0m-18 12h0m-18-16h0m-2 2h0m-13 4h0m-7 8h0m-4-19h0m-5 12h0m-3-13h0m-4 24h0m-2-1h0m-3-1h0m-7-10h0m-1 13h0m-2-10h0m-7-12h0m-10 14h0m-10-9h0m109 22h0" stroke="#d62728" stroke-width="19" stroke-linecap="round" fill="none"/><path transform="scale(.1)" d="M5798 8467h0m2 5h0m-90 26h0m-26 29h0m271 0h0m-298 60h0m-4 94h0m5 32h0m363 24h0m-147 100h0" stroke="#d62728" stroke-width="19" stroke-linecap="round" fill="none"/><path transform="scale(.1)" d="M5790 8502h0m-5 8h0m-33 9h0m121 4h0m29 24h0m51 25h0m-35-15h0m-160 16h0m-19-15h0m-22 10h0m-16 13h0m65 5h0m10 21h0m46-20h0m47 8h0m39-8h0m-59 48h0m-75-11h0m-26-2h0m-24-7h0m-48 2h0m178 42h0m41-8h0m42 12h0m57-16h0m-73 44h0m-17 5h0m-42-18h0m-29 14h0m-151 4h0m168 4h0m16 21h0m71-12h0m33-3h0m16 3h0m-53 47h0m-60-24h0m-45 25h0m-30-12h0m-9-12h0m-48 35h0m16 10h0m9-6h0m102 0h0m33 15h0m59-8h0m-40 26h0m-20-14h0" stroke="#fff" stroke-width="11.5" stroke-linecap="round" fill="none"/><path d="M489.7 842.6L499.6 852.4" stroke="#fff" stroke-width="0.7"/><path d="M517.4 828.8L526.2 835.7" stroke="#fff" stroke-width="0.7"/><path d="M495.7 878.1L507.5 892.9" stroke="#fff" stroke-width="0.7"/><path d="M505.5 918.9 493.7 890.9 498.6 877.1 509.5 867.6 521.7 858.4 544 853.8 586.1 867.6" stroke="#111" stroke-width="0.8" fill="none"/><circle cx="505.5" cy="918.9" r="2.9" fill="#000"/><circle cx="493.7" cy="890.9" r="2.9" fill="#000"/><circle cx="498.6" cy="877.1" r="2.9" fill="#000"/><circle cx="509.5" cy="867.6" r="2.9" fill="#000"/><circle cx="521.7" cy="858.4" r="2.9" fill="#000"/><circle cx="544" cy="853.8" r="2.9" fill="#000"/><circle cx="586.1" cy="867.6" r="2.9" fill="#000"/><text x="519.7" y="845.5" font-size="10.6" font-weight="bold" text-anchor="middle" fill="#111">Layer_5</text><text x="566.3" y="847.1" font-size="10.6" font-weight="bold" text-anchor="middle" fill="#111">Layer_6</text><text x="593.4" y="860.3" font-size="10.6" font-weight="bold" text-anchor="middle" fill="#111">WM</text><text x="493.3" y="861.3" font-size="10.6" font-weight="bold" text-anchor="middle" fill="#111">Layer_4</text><text x="528.8" y="886" font-size="10.6" font-weight="bold" text-anchor="middle" fill="#111">Layer_3</text><text x="522.9" y="900.4" font-size="10.6" font-weight="bold" text-anchor="middle" fill="#111">Layer_2</text><text x="524.9" y="935.3" font-size="10.6" font-weight="bold" text-anchor="middle" fill="#111">Layer_1</text></g>
<rect x="474" y="818.5" width="133.9" height="128" fill="none" stroke="#333" stroke-width="1"/>
<text x="542.5" y="958.8" font-size="10.8" text-anchor="middle" fill="#1a1a1a" >UMAP1</text>
<text x="471.1" y="881.4" font-size="10.8" text-anchor="middle" transform="rotate(-90 471.1 881.4)" fill="#1a1a1a" >UMAP2</text>
</svg>
</body></html>
